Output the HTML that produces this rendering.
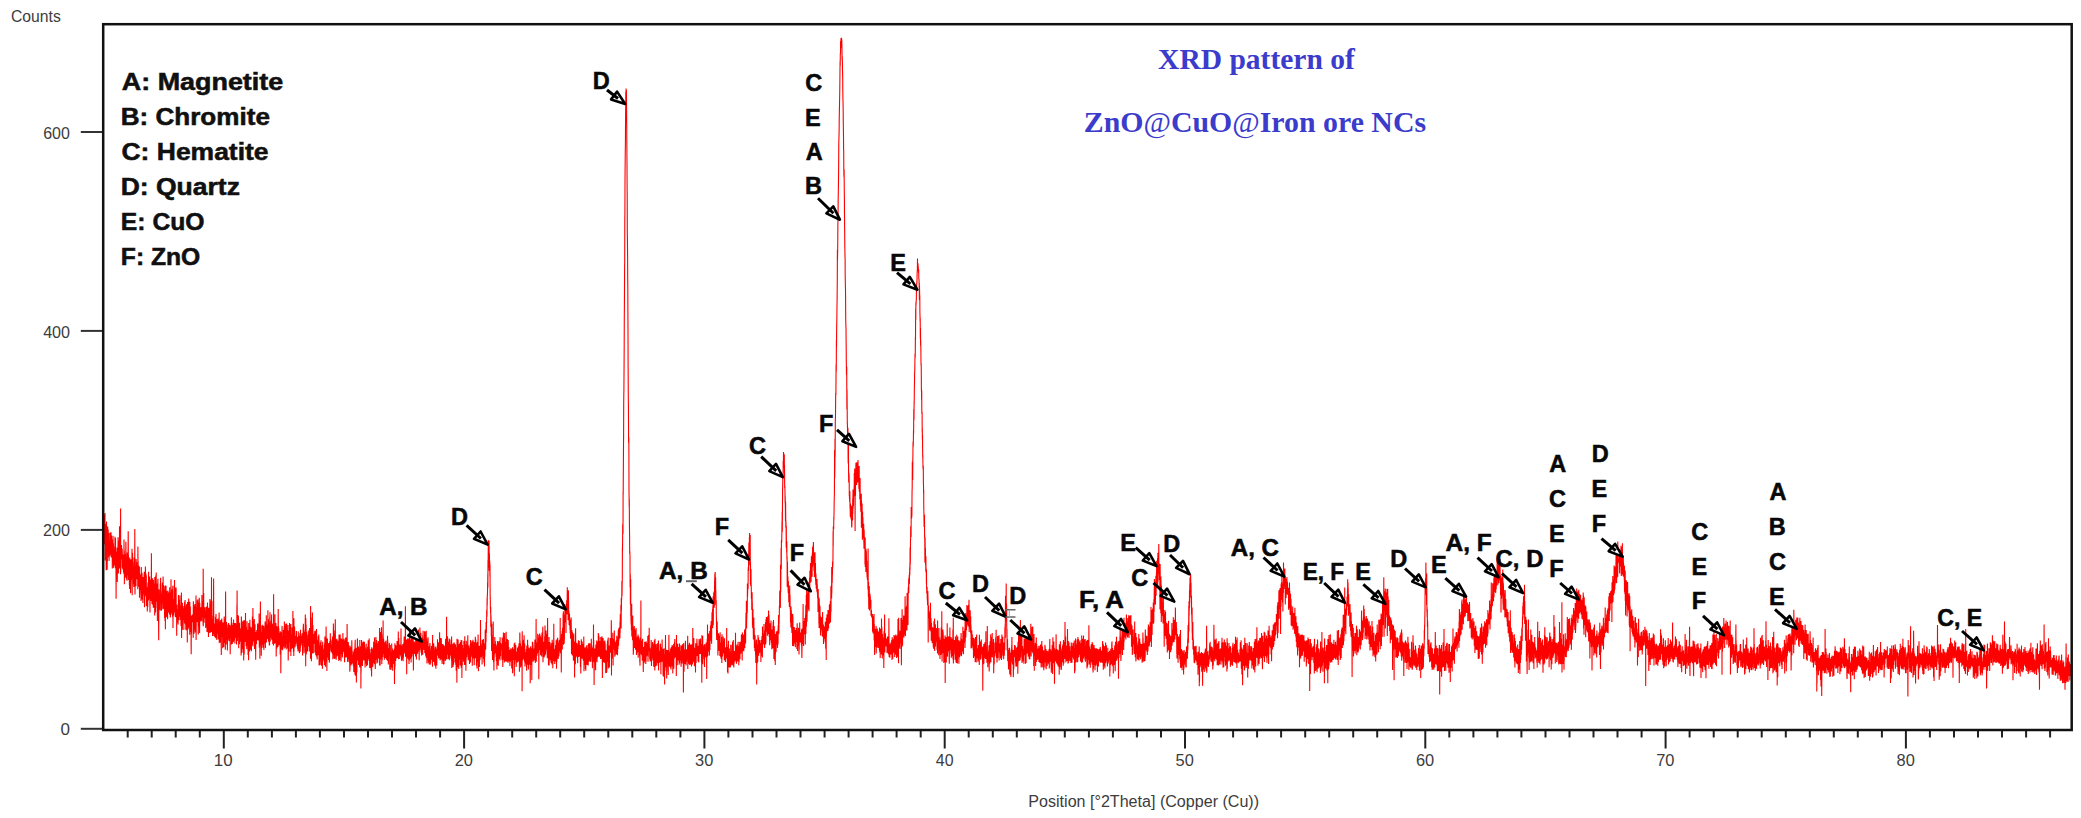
<!DOCTYPE html>
<html><head><meta charset="utf-8"><style>
html,body{margin:0;padding:0;background:#fff;width:2081px;height:818px;overflow:hidden}
svg{display:block}
</style></head><body>
<svg width="2081" height="818" viewBox="0 0 2081 818">
<rect width="2081" height="818" fill="#fff"/>
<line x1="127.7" y1="730" x2="127.7" y2="737.5" stroke="#222" stroke-width="2"/><line x1="151.7" y1="730" x2="151.7" y2="737.5" stroke="#222" stroke-width="2"/><line x1="175.7" y1="730" x2="175.7" y2="737.5" stroke="#222" stroke-width="2"/><line x1="199.8" y1="730" x2="199.8" y2="737.5" stroke="#222" stroke-width="2"/><line x1="223.8" y1="730" x2="223.8" y2="748.5" stroke="#222" stroke-width="2"/><line x1="247.8" y1="730" x2="247.8" y2="737.5" stroke="#222" stroke-width="2"/><line x1="271.9" y1="730" x2="271.9" y2="737.5" stroke="#222" stroke-width="2"/><line x1="295.9" y1="730" x2="295.9" y2="737.5" stroke="#222" stroke-width="2"/><line x1="319.9" y1="730" x2="319.9" y2="737.5" stroke="#222" stroke-width="2"/><line x1="344.0" y1="730" x2="344.0" y2="737.5" stroke="#222" stroke-width="2"/><line x1="368.0" y1="730" x2="368.0" y2="737.5" stroke="#222" stroke-width="2"/><line x1="392.0" y1="730" x2="392.0" y2="737.5" stroke="#222" stroke-width="2"/><line x1="416.0" y1="730" x2="416.0" y2="737.5" stroke="#222" stroke-width="2"/><line x1="440.1" y1="730" x2="440.1" y2="737.5" stroke="#222" stroke-width="2"/><line x1="464.1" y1="730" x2="464.1" y2="748.5" stroke="#222" stroke-width="2"/><line x1="488.1" y1="730" x2="488.1" y2="737.5" stroke="#222" stroke-width="2"/><line x1="512.2" y1="730" x2="512.2" y2="737.5" stroke="#222" stroke-width="2"/><line x1="536.2" y1="730" x2="536.2" y2="737.5" stroke="#222" stroke-width="2"/><line x1="560.2" y1="730" x2="560.2" y2="737.5" stroke="#222" stroke-width="2"/><line x1="584.2" y1="730" x2="584.2" y2="737.5" stroke="#222" stroke-width="2"/><line x1="608.3" y1="730" x2="608.3" y2="737.5" stroke="#222" stroke-width="2"/><line x1="632.3" y1="730" x2="632.3" y2="737.5" stroke="#222" stroke-width="2"/><line x1="656.3" y1="730" x2="656.3" y2="737.5" stroke="#222" stroke-width="2"/><line x1="680.4" y1="730" x2="680.4" y2="737.5" stroke="#222" stroke-width="2"/><line x1="704.4" y1="730" x2="704.4" y2="748.5" stroke="#222" stroke-width="2"/><line x1="728.4" y1="730" x2="728.4" y2="737.5" stroke="#222" stroke-width="2"/><line x1="752.5" y1="730" x2="752.5" y2="737.5" stroke="#222" stroke-width="2"/><line x1="776.5" y1="730" x2="776.5" y2="737.5" stroke="#222" stroke-width="2"/><line x1="800.5" y1="730" x2="800.5" y2="737.5" stroke="#222" stroke-width="2"/><line x1="824.6" y1="730" x2="824.6" y2="737.5" stroke="#222" stroke-width="2"/><line x1="848.6" y1="730" x2="848.6" y2="737.5" stroke="#222" stroke-width="2"/><line x1="872.6" y1="730" x2="872.6" y2="737.5" stroke="#222" stroke-width="2"/><line x1="896.6" y1="730" x2="896.6" y2="737.5" stroke="#222" stroke-width="2"/><line x1="920.7" y1="730" x2="920.7" y2="737.5" stroke="#222" stroke-width="2"/><line x1="944.7" y1="730" x2="944.7" y2="748.5" stroke="#222" stroke-width="2"/><line x1="968.7" y1="730" x2="968.7" y2="737.5" stroke="#222" stroke-width="2"/><line x1="992.8" y1="730" x2="992.8" y2="737.5" stroke="#222" stroke-width="2"/><line x1="1016.8" y1="730" x2="1016.8" y2="737.5" stroke="#222" stroke-width="2"/><line x1="1040.8" y1="730" x2="1040.8" y2="737.5" stroke="#222" stroke-width="2"/><line x1="1064.8" y1="730" x2="1064.8" y2="737.5" stroke="#222" stroke-width="2"/><line x1="1088.9" y1="730" x2="1088.9" y2="737.5" stroke="#222" stroke-width="2"/><line x1="1112.9" y1="730" x2="1112.9" y2="737.5" stroke="#222" stroke-width="2"/><line x1="1136.9" y1="730" x2="1136.9" y2="737.5" stroke="#222" stroke-width="2"/><line x1="1161.0" y1="730" x2="1161.0" y2="737.5" stroke="#222" stroke-width="2"/><line x1="1185.0" y1="730" x2="1185.0" y2="748.5" stroke="#222" stroke-width="2"/><line x1="1209.0" y1="730" x2="1209.0" y2="737.5" stroke="#222" stroke-width="2"/><line x1="1233.1" y1="730" x2="1233.1" y2="737.5" stroke="#222" stroke-width="2"/><line x1="1257.1" y1="730" x2="1257.1" y2="737.5" stroke="#222" stroke-width="2"/><line x1="1281.1" y1="730" x2="1281.1" y2="737.5" stroke="#222" stroke-width="2"/><line x1="1305.2" y1="730" x2="1305.2" y2="737.5" stroke="#222" stroke-width="2"/><line x1="1329.2" y1="730" x2="1329.2" y2="737.5" stroke="#222" stroke-width="2"/><line x1="1353.2" y1="730" x2="1353.2" y2="737.5" stroke="#222" stroke-width="2"/><line x1="1377.2" y1="730" x2="1377.2" y2="737.5" stroke="#222" stroke-width="2"/><line x1="1401.3" y1="730" x2="1401.3" y2="737.5" stroke="#222" stroke-width="2"/><line x1="1425.3" y1="730" x2="1425.3" y2="748.5" stroke="#222" stroke-width="2"/><line x1="1449.3" y1="730" x2="1449.3" y2="737.5" stroke="#222" stroke-width="2"/><line x1="1473.4" y1="730" x2="1473.4" y2="737.5" stroke="#222" stroke-width="2"/><line x1="1497.4" y1="730" x2="1497.4" y2="737.5" stroke="#222" stroke-width="2"/><line x1="1521.4" y1="730" x2="1521.4" y2="737.5" stroke="#222" stroke-width="2"/><line x1="1545.5" y1="730" x2="1545.5" y2="737.5" stroke="#222" stroke-width="2"/><line x1="1569.5" y1="730" x2="1569.5" y2="737.5" stroke="#222" stroke-width="2"/><line x1="1593.5" y1="730" x2="1593.5" y2="737.5" stroke="#222" stroke-width="2"/><line x1="1617.5" y1="730" x2="1617.5" y2="737.5" stroke="#222" stroke-width="2"/><line x1="1641.6" y1="730" x2="1641.6" y2="737.5" stroke="#222" stroke-width="2"/><line x1="1665.6" y1="730" x2="1665.6" y2="748.5" stroke="#222" stroke-width="2"/><line x1="1689.6" y1="730" x2="1689.6" y2="737.5" stroke="#222" stroke-width="2"/><line x1="1713.7" y1="730" x2="1713.7" y2="737.5" stroke="#222" stroke-width="2"/><line x1="1737.7" y1="730" x2="1737.7" y2="737.5" stroke="#222" stroke-width="2"/><line x1="1761.7" y1="730" x2="1761.7" y2="737.5" stroke="#222" stroke-width="2"/><line x1="1785.8" y1="730" x2="1785.8" y2="737.5" stroke="#222" stroke-width="2"/><line x1="1809.8" y1="730" x2="1809.8" y2="737.5" stroke="#222" stroke-width="2"/><line x1="1833.8" y1="730" x2="1833.8" y2="737.5" stroke="#222" stroke-width="2"/><line x1="1857.8" y1="730" x2="1857.8" y2="737.5" stroke="#222" stroke-width="2"/><line x1="1881.9" y1="730" x2="1881.9" y2="737.5" stroke="#222" stroke-width="2"/><line x1="1905.9" y1="730" x2="1905.9" y2="748.5" stroke="#222" stroke-width="2"/><line x1="1929.9" y1="730" x2="1929.9" y2="737.5" stroke="#222" stroke-width="2"/><line x1="1954.0" y1="730" x2="1954.0" y2="737.5" stroke="#222" stroke-width="2"/><line x1="1978.0" y1="730" x2="1978.0" y2="737.5" stroke="#222" stroke-width="2"/><line x1="2002.0" y1="730" x2="2002.0" y2="737.5" stroke="#222" stroke-width="2"/><line x1="2026.1" y1="730" x2="2026.1" y2="737.5" stroke="#222" stroke-width="2"/><line x1="2050.1" y1="730" x2="2050.1" y2="737.5" stroke="#222" stroke-width="2"/><line x1="80.8" y1="728.8" x2="103" y2="728.8" stroke="#333" stroke-width="2"/><line x1="80.8" y1="529.9" x2="103" y2="529.9" stroke="#333" stroke-width="2"/><line x1="80.8" y1="330.9" x2="103" y2="330.9" stroke="#333" stroke-width="2"/><line x1="80.8" y1="132.0" x2="103" y2="132.0" stroke="#333" stroke-width="2"/>
<polyline points="104.0,514.5 104.1,544.3 104.2,521.7 104.3,525.2 104.4,530.8 104.5,524.5 104.7,518.3 104.8,540.9 104.9,537.7 105.0,513.1 105.1,560.4 105.2,544.7 105.3,525.9 105.4,544.9 105.5,530.9 105.6,536.5 105.7,546.4 105.9,524.0 106.0,551.5 106.1,553.4 106.2,570.2 106.3,535.6 106.4,548.6 106.5,521.4 106.6,538.1 106.7,544.8 106.8,526.9 107.0,540.9 107.1,560.7 107.2,569.8 107.3,549.6 107.4,561.0 107.5,530.7 107.6,528.3 107.7,526.4 107.8,548.1 107.9,551.3 108.0,536.3 108.2,529.6 108.3,545.6 108.4,547.2 108.5,542.6 108.6,557.4 108.7,542.6 108.8,543.6 108.9,533.1 109.0,546.5 109.1,560.9 109.2,547.9 109.4,548.2 109.5,552.8 109.6,551.1 109.7,554.2 109.8,554.0 109.9,555.7 110.0,541.2 110.1,553.1 110.2,532.5 110.3,552.5 110.4,536.2 110.6,548.4 110.7,554.6 110.8,544.6 110.9,550.9 111.0,532.2 111.1,540.1 111.2,557.3 111.3,537.3 111.4,557.4 111.5,535.5 111.6,541.1 111.8,539.4 111.9,551.3 112.0,556.6 112.1,539.6 112.2,549.2 112.3,568.4 112.4,548.6 112.5,543.7 112.6,556.3 112.7,547.9 112.9,546.9 113.0,535.7 113.1,563.4 113.2,549.2 113.3,555.3 113.4,543.3 113.5,567.8 113.6,562.4 113.7,565.6 113.8,553.6 113.9,560.4 114.1,564.7 114.2,565.5 114.3,558.9 114.4,555.0 114.5,551.7 114.6,548.0 114.7,546.5 114.8,560.6 114.9,554.3 115.0,536.8 115.1,556.0 115.3,568.3 115.4,554.3 115.5,537.9 115.6,554.7 115.7,564.0 115.8,560.4 115.9,551.8 116.0,575.4 116.1,598.8 116.2,555.4 116.3,565.4 116.5,561.5 116.6,565.3 116.7,571.8 116.8,564.3 116.9,557.3 117.0,549.4 117.1,547.6 117.2,555.9 117.3,582.1 117.4,559.6 117.6,557.0 117.7,559.0 117.8,558.1 117.9,564.0 118.0,546.3 118.1,537.3 118.2,552.9 118.3,544.5 118.4,573.6 118.5,555.2 118.6,554.4 118.8,540.7 118.9,559.2 119.0,542.3 119.1,568.7 119.2,565.2 119.3,548.4 119.4,558.5 119.5,526.3 119.6,547.3 119.7,568.1 119.8,564.9 120.0,559.0 120.1,557.6 120.2,543.3 120.3,543.2 120.4,558.7 120.5,574.2 120.6,508.5 120.7,572.5 120.8,564.5 120.9,567.5 121.0,548.5 121.2,552.4 121.3,558.7 121.4,547.1 121.5,545.0 121.6,548.1 121.7,555.2 121.8,559.5 121.9,555.0 122.0,556.8 122.1,549.2 122.2,548.7 122.4,567.8 122.5,554.1 122.6,554.6 122.7,564.5 122.8,568.8 122.9,568.9 123.0,559.7 123.1,555.1 123.2,560.5 123.3,560.2 123.5,572.2 123.6,562.3 123.7,566.4 123.8,559.5 123.9,574.0 124.0,539.5 124.1,565.1 124.2,569.5 124.3,550.5 124.4,584.2 124.5,561.8 124.7,562.7 124.8,554.0 124.9,573.3 125.0,569.2 125.1,558.8 125.2,568.2 125.3,572.8 125.4,577.5 125.5,567.4 125.6,555.0 125.7,559.3 125.9,541.8 126.0,558.0 126.1,572.0 126.2,569.8 126.3,563.6 126.4,556.5 126.5,579.6 126.6,566.5 126.7,572.5 126.8,567.8 126.9,557.4 127.1,580.7 127.2,552.5 127.3,553.4 127.4,562.0 127.5,558.9 127.6,559.8 127.7,558.7 127.8,575.3 127.9,566.6 128.0,568.1 128.2,531.3 128.3,547.7 128.4,577.6 128.5,555.1 128.6,580.0 128.7,558.5 128.8,572.0 128.9,560.3 129.0,570.2 129.1,559.3 129.2,566.2 129.4,585.1 129.5,564.2 129.6,589.0 129.7,564.5 129.8,557.5 129.9,570.1 130.0,564.1 130.1,586.3 130.2,577.3 130.3,580.5 130.4,575.0 130.6,593.2 130.7,585.3 130.8,579.8 130.9,560.6 131.0,559.4 131.1,570.4 131.2,578.3 131.3,580.0 131.4,560.8 131.5,575.3 131.6,571.3 131.8,559.2 131.9,575.3 132.0,548.8 132.1,573.6 132.2,595.3 132.3,560.7 132.4,571.2 132.5,552.7 132.6,563.5 132.7,578.3 132.8,561.9 133.0,571.9 133.1,568.2 133.2,568.6 133.3,574.4 133.4,577.3 133.5,584.2 133.6,580.7 133.7,567.5 133.8,587.0 133.9,585.5 134.1,557.5 134.2,579.6 134.3,581.6 134.4,582.9 134.5,578.6 134.6,559.3 134.7,566.9 134.8,529.1 134.9,572.0 135.0,594.5 135.1,581.6 135.3,584.0 135.4,570.9 135.5,566.3 135.6,566.2 135.7,577.4 135.8,567.8 135.9,569.2 136.0,586.3 136.1,559.0 136.2,561.7 136.3,570.5 136.5,574.8 136.6,574.0 136.7,562.3 136.8,577.1 136.9,574.0 137.0,578.9 137.1,565.1 137.2,578.2 137.3,579.4 137.4,569.2 137.5,573.4 137.7,570.5 137.8,589.2 137.9,546.6 138.0,563.3 138.1,560.9 138.2,574.3 138.3,572.1 138.4,575.6 138.5,586.7 138.6,565.5 138.8,572.2 138.9,578.7 139.0,569.8 139.1,584.4 139.2,584.8 139.3,576.0 139.4,566.5 139.5,597.8 139.6,586.6 139.7,585.8 139.8,582.1 140.0,581.5 140.1,589.9 140.2,581.3 140.3,575.9 140.4,589.3 140.5,582.5 140.6,575.5 140.7,574.2 140.8,594.3 140.9,588.7 141.0,601.1 141.2,577.0 141.3,567.1 141.4,585.2 141.5,594.2 141.6,587.2 141.7,586.1 141.8,599.6 141.9,576.4 142.0,572.7 142.1,577.4 142.2,582.2 142.4,588.6 142.5,594.6 142.6,590.7 142.7,600.2 142.8,577.7 142.9,602.9 143.0,577.1 143.1,596.1 143.2,577.1 143.3,588.8 143.4,586.6 143.6,592.0 143.7,594.1 143.8,584.7 143.9,585.9 144.0,588.1 144.1,574.5 144.2,579.8 144.3,571.7 144.4,586.8 144.5,607.3 144.7,593.6 144.8,579.6 144.9,581.3 145.0,596.4 145.1,582.4 145.2,572.6 145.3,578.8 145.4,566.5 145.5,578.6 145.6,595.6 145.7,588.5 145.9,573.4 146.0,582.9 146.1,577.5 146.2,577.4 146.3,575.5 146.4,606.0 146.5,587.1 146.6,596.5 146.7,598.6 146.8,587.2 146.9,595.7 147.1,597.0 147.2,594.1 147.3,611.6 147.4,594.7 147.5,590.1 147.6,597.5 147.7,607.2 147.8,599.9 147.9,586.2 148.0,583.3 148.1,582.4 148.3,585.2 148.4,595.6 148.5,600.6 148.6,571.7 148.7,591.9 148.8,581.9 148.9,597.3 149.0,599.2 149.1,583.8 149.2,586.5 149.4,581.5 149.5,593.7 149.6,576.5 149.7,580.6 149.8,584.3 149.9,602.3 150.0,612.6 150.1,591.5 150.2,579.5 150.3,591.0 150.4,582.7 150.6,594.1 150.7,579.8 150.8,586.7 150.9,590.1 151.0,594.2 151.1,588.3 151.2,601.0 151.3,591.1 151.4,553.3 151.5,598.1 151.6,587.5 151.8,584.2 151.9,603.7 152.0,579.8 152.1,590.3 152.2,583.2 152.3,603.2 152.4,588.1 152.5,593.1 152.6,578.2 152.7,604.8 152.8,582.1 153.0,599.0 153.1,601.2 153.2,602.5 153.3,607.8 153.4,580.0 153.5,594.6 153.6,592.4 153.7,595.2 153.8,601.0 153.9,593.5 154.0,586.1 154.2,591.3 154.3,607.8 154.4,583.6 154.5,594.8 154.6,584.9 154.7,615.5 154.8,576.9 154.9,587.8 155.0,590.1 155.1,592.1 155.3,612.7 155.4,605.4 155.5,582.7 155.6,612.0 155.7,581.4 155.8,575.4 155.9,578.8 156.0,593.9 156.1,597.0 156.2,572.4 156.3,597.4 156.5,591.6 156.6,600.7 156.7,590.4 156.8,602.0 156.9,598.7 157.0,583.6 157.1,608.0 157.2,598.0 157.3,602.1 157.4,620.9 157.5,587.6 157.7,595.8 157.8,589.6 157.9,578.8 158.0,599.6 158.1,601.2 158.2,609.9 158.3,610.4 158.4,598.4 158.5,590.8 158.6,627.5 158.7,640.3 158.9,596.8 159.0,589.6 159.1,589.8 159.2,600.4 159.3,609.4 159.4,608.5 159.5,603.7 159.6,597.5 159.7,601.5 159.8,597.5 160.0,600.3 160.1,599.0 160.2,610.6 160.3,583.8 160.4,597.0 160.5,597.7 160.6,577.7 160.7,599.1 160.8,590.8 160.9,593.4 161.0,596.1 161.2,597.0 161.3,595.4 161.4,610.8 161.5,603.5 161.6,605.0 161.7,603.8 161.8,595.9 161.9,593.7 162.0,609.5 162.1,594.2 162.2,585.6 162.4,582.5 162.5,603.2 162.6,594.9 162.7,599.9 162.8,596.0 162.9,596.3 163.0,598.0 163.1,576.4 163.2,599.8 163.3,608.7 163.4,606.1 163.6,585.0 163.7,589.3 163.8,589.8 163.9,600.1 164.0,609.3 164.1,605.1 164.2,586.3 164.3,601.1 164.4,607.6 164.5,596.7 164.6,617.9 164.8,595.3 164.9,611.0 165.0,621.1 165.1,589.8 165.2,598.2 165.3,605.9 165.4,629.3 165.5,585.4 165.6,606.6 165.7,604.3 165.9,597.9 166.0,585.8 166.1,597.2 166.2,599.9 166.3,591.4 166.4,617.2 166.5,593.5 166.6,599.5 166.7,590.9 166.8,599.2 166.9,603.6 167.1,595.4 167.2,599.7 167.3,616.3 167.4,610.5 167.5,599.9 167.6,619.2 167.7,594.6 167.8,605.4 167.9,590.4 168.0,592.6 168.1,594.3 168.3,612.6 168.4,603.8 168.5,606.6 168.6,604.7 168.7,604.1 168.8,604.7 168.9,607.4 169.0,601.5 169.1,592.5 169.2,594.2 169.3,612.0 169.5,614.2 169.6,611.9 169.7,587.3 169.8,614.7 169.9,604.6 170.0,601.2 170.1,602.2 170.2,598.8 170.3,617.5 170.4,616.6 170.6,592.7 170.7,599.2 170.8,606.0 170.9,612.2 171.0,579.3 171.1,608.5 171.2,614.6 171.3,598.0 171.4,600.9 171.5,612.5 171.6,605.3 171.8,590.4 171.9,591.6 172.0,592.1 172.1,589.4 172.2,601.1 172.3,597.4 172.4,602.1 172.5,608.0 172.6,617.0 172.7,603.7 172.8,585.8 173.0,628.1 173.1,601.1 173.2,612.5 173.3,599.1 173.4,606.4 173.5,603.1 173.6,604.3 173.7,615.5 173.8,599.1 173.9,605.7 174.0,606.0 174.2,600.5 174.3,585.4 174.4,607.8 174.5,580.1 174.6,591.7 174.7,600.4 174.8,608.6 174.9,612.3 175.0,612.7 175.1,610.7 175.2,603.3 175.4,617.0 175.5,605.1 175.6,616.6 175.7,587.5 175.8,599.2 175.9,602.3 176.0,607.3 176.1,587.5 176.2,616.2 176.3,617.4 176.5,615.2 176.6,605.1 176.7,635.8 176.8,604.7 176.9,617.8 177.0,609.1 177.1,610.7 177.2,609.2 177.3,610.2 177.4,619.8 177.5,622.1 177.7,622.0 177.8,616.9 177.9,615.6 178.0,613.5 178.1,624.6 178.2,605.7 178.3,603.1 178.4,609.2 178.5,594.9 178.6,607.2 178.7,607.5 178.9,599.9 179.0,602.9 179.1,620.2 179.2,605.3 179.3,608.5 179.4,616.8 179.5,603.5 179.6,600.0 179.7,609.8 179.8,613.5 179.9,595.6 180.1,616.5 180.2,608.7 180.3,608.3 180.4,605.4 180.5,610.3 180.6,620.1 180.7,617.3 180.8,619.4 180.9,609.6 181.0,626.0 181.2,623.7 181.3,613.4 181.4,592.4 181.5,614.6 181.6,638.0 181.7,613.8 181.8,606.3 181.9,629.6 182.0,610.3 182.1,620.2 182.2,622.3 182.4,602.7 182.5,614.7 182.6,624.1 182.7,610.4 182.8,619.3 182.9,613.7 183.0,622.4 183.1,630.0 183.2,605.9 183.3,612.1 183.4,617.5 183.6,609.5 183.7,608.2 183.8,611.7 183.9,612.4 184.0,608.2 184.1,616.1 184.2,619.7 184.3,619.7 184.4,619.1 184.5,623.5 184.6,601.7 184.8,613.6 184.9,615.8 185.0,618.3 185.1,600.1 185.2,629.8 185.3,606.2 185.4,616.4 185.5,621.4 185.6,624.4 185.7,609.5 185.8,610.9 186.0,618.5 186.1,620.7 186.2,622.9 186.3,614.7 186.4,609.4 186.5,604.3 186.6,630.2 186.7,605.1 186.8,622.2 186.9,618.4 187.1,623.7 187.2,625.1 187.3,642.5 187.4,616.1 187.5,621.0 187.6,601.9 187.7,619.1 187.8,602.2 187.9,617.8 188.0,629.4 188.1,620.5 188.3,628.6 188.4,616.2 188.5,623.1 188.6,615.9 188.7,598.4 188.8,613.0 188.9,614.1 189.0,620.6 189.1,618.8 189.2,618.4 189.3,627.2 189.5,624.1 189.6,615.6 189.7,634.7 189.8,601.7 189.9,615.7 190.0,616.8 190.1,628.9 190.2,613.6 190.3,606.4 190.4,619.4 190.5,632.0 190.7,616.7 190.8,616.2 190.9,616.8 191.0,619.3 191.1,642.4 191.2,654.2 191.3,622.3 191.4,617.9 191.5,634.0 191.6,619.7 191.8,619.1 191.9,615.2 192.0,616.0 192.1,619.6 192.2,614.7 192.3,620.7 192.4,619.1 192.5,622.3 192.6,614.5 192.7,615.9 192.8,619.0 193.0,616.6 193.1,618.3 193.2,637.7 193.3,607.8 193.4,601.2 193.5,623.0 193.6,615.2 193.7,628.0 193.8,615.3 193.9,605.6 194.0,633.7 194.2,619.6 194.3,612.5 194.4,610.0 194.5,620.3 194.6,609.0 194.7,618.0 194.8,624.0 194.9,603.9 195.0,613.0 195.1,619.2 195.2,629.8 195.4,632.4 195.5,611.2 195.6,626.2 195.7,611.0 195.8,612.5 195.9,617.5 196.0,595.5 196.1,640.0 196.2,625.8 196.3,618.1 196.4,612.2 196.6,607.1 196.7,619.2 196.8,622.1 196.9,613.1 197.0,614.1 197.1,620.4 197.2,615.8 197.3,600.3 197.4,620.6 197.5,618.1 197.7,622.1 197.8,610.0 197.9,599.3 198.0,606.6 198.1,618.1 198.2,632.4 198.3,634.6 198.4,617.2 198.5,602.4 198.6,611.2 198.7,618.1 198.9,618.7 199.0,616.3 199.1,626.6 199.2,608.6 199.3,597.8 199.4,608.3 199.5,605.9 199.6,632.9 199.7,613.6 199.8,603.1 199.9,619.5 200.1,621.9 200.2,614.3 200.3,614.7 200.4,620.9 200.5,616.6 200.6,607.2 200.7,617.2 200.8,620.1 200.9,615.3 201.0,619.5 201.1,617.5 201.3,610.1 201.4,609.8 201.5,616.0 201.6,606.9 201.7,620.8 201.8,621.3 201.9,594.9 202.0,611.0 202.1,605.8 202.2,601.2 202.4,615.2 202.5,611.7 202.6,617.1 202.7,615.7 202.8,616.0 202.9,607.4 203.0,611.0 203.1,625.2 203.2,568.8 203.3,626.2 203.4,608.4 203.6,622.8 203.7,593.0 203.8,610.7 203.9,621.1 204.0,615.5 204.1,622.7 204.2,607.3 204.3,610.3 204.4,609.0 204.5,618.4 204.6,618.1 204.8,613.6 204.9,610.0 205.0,612.5 205.1,615.5 205.2,607.3 205.3,615.1 205.4,614.4 205.5,611.9 205.6,611.7 205.7,628.1 205.8,611.1 206.0,619.2 206.1,626.9 206.2,621.7 206.3,616.5 206.4,625.1 206.5,606.4 206.6,607.4 206.7,613.6 206.8,615.0 206.9,616.1 207.0,632.1 207.2,631.1 207.3,617.3 207.4,620.3 207.5,602.4 207.6,621.1 207.7,608.0 207.8,630.2 207.9,615.3 208.0,624.6 208.1,611.0 208.3,632.6 208.4,626.4 208.5,636.9 208.6,621.2 208.7,607.8 208.8,614.0 208.9,610.5 209.0,632.8 209.1,616.5 209.2,615.6 209.3,626.8 209.5,624.2 209.6,626.3 209.7,618.4 209.8,606.5 209.9,599.0 210.0,605.1 210.1,632.9 210.2,629.7 210.3,619.2 210.4,626.3 210.5,626.5 210.7,626.8 210.8,626.1 210.9,628.7 211.0,622.5 211.1,604.7 211.2,600.3 211.3,632.1 211.4,626.7 211.5,577.3 211.6,622.4 211.7,614.6 211.9,617.4 212.0,601.0 212.1,628.0 212.2,622.0 212.3,629.1 212.4,631.6 212.5,633.0 212.6,636.0 212.7,625.7 212.8,625.7 213.0,619.1 213.1,628.5 213.2,623.2 213.3,615.7 213.4,634.1 213.5,630.2 213.6,578.5 213.7,610.8 213.8,624.6 213.9,615.9 214.0,636.0 214.2,627.3 214.3,630.0 214.4,633.2 214.5,636.4 214.6,623.8 214.7,630.3 214.8,626.4 214.9,631.4 215.0,629.8 215.1,637.3 215.2,630.2 215.4,622.6 215.5,628.7 215.6,617.0 215.7,628.8 215.8,638.3 215.9,622.2 216.0,614.0 216.1,627.2 216.2,623.5 216.3,627.7 216.4,622.2 216.6,627.8 216.7,619.3 216.8,640.1 216.9,626.0 217.0,632.5 217.1,634.4 217.2,627.8 217.3,632.6 217.4,626.9 217.5,625.3 217.6,627.6 217.8,633.2 217.9,618.5 218.0,621.8 218.1,623.0 218.2,625.2 218.3,639.1 218.4,630.0 218.5,628.0 218.6,631.6 218.7,639.6 218.9,625.5 219.0,639.1 219.1,612.5 219.2,623.9 219.3,642.2 219.4,642.1 219.5,631.0 219.6,621.5 219.7,635.5 219.8,625.7 219.9,641.3 220.1,638.2 220.2,642.8 220.3,622.6 220.4,636.5 220.5,626.4 220.6,626.1 220.7,620.1 220.8,626.4 220.9,631.5 221.0,634.5 221.1,635.4 221.3,655.1 221.4,625.4 221.5,637.4 221.6,622.7 221.7,625.7 221.8,618.4 221.9,636.7 222.0,629.4 222.1,628.8 222.2,626.8 222.3,635.8 222.5,624.6 222.6,632.0 222.7,648.2 222.8,627.7 222.9,624.1 223.0,622.4 223.1,637.3 223.2,631.1 223.3,624.8 223.4,624.5 223.6,630.9 223.7,622.9 223.8,647.0 223.9,629.2 224.0,629.6 224.1,630.3 224.2,616.4 224.3,619.1 224.4,628.2 224.5,631.1 224.6,621.4 224.8,643.1 224.9,633.5 225.0,640.4 225.1,640.3 225.2,629.1 225.3,649.7 225.4,631.5 225.5,615.7 225.6,591.6 225.7,630.1 225.8,637.7 226.0,632.4 226.1,644.5 226.2,628.1 226.3,634.9 226.4,635.9 226.5,621.9 226.6,632.0 226.7,632.3 226.8,638.8 226.9,639.7 227.0,638.5 227.2,624.6 227.3,636.2 227.4,650.4 227.5,631.2 227.6,636.6 227.7,636.2 227.8,639.4 227.9,631.3 228.0,633.7 228.1,632.0 228.2,631.5 228.4,627.2 228.5,629.1 228.6,622.9 228.7,628.7 228.8,634.8 228.9,640.7 229.0,635.9 229.1,629.3 229.2,641.2 229.3,627.0 229.5,636.7 229.6,634.0 229.7,624.8 229.8,625.7 229.9,636.5 230.0,631.2 230.1,636.4 230.2,654.3 230.3,634.9 230.4,632.4 230.5,637.7 230.7,627.4 230.8,630.5 230.9,635.0 231.0,625.2 231.1,631.6 231.2,629.8 231.3,631.6 231.4,617.2 231.5,644.4 231.6,630.3 231.7,635.5 231.9,623.9 232.0,622.8 232.1,632.7 232.2,630.7 232.3,644.1 232.4,625.7 232.5,625.0 232.6,634.8 232.7,637.7 232.8,639.3 232.9,632.0 233.1,634.2 233.2,626.0 233.3,642.1 233.4,640.5 233.5,640.5 233.6,619.5 233.7,637.6 233.8,625.2 233.9,634.5 234.0,634.3 234.2,640.6 234.3,629.3 234.4,627.0 234.5,625.1 234.6,623.1 234.7,636.7 234.8,625.8 234.9,643.4 235.0,625.5 235.1,626.4 235.2,637.8 235.4,636.6 235.5,622.9 235.6,628.2 235.7,629.0 235.8,634.9 235.9,624.3 236.0,626.6 236.1,629.9 236.2,636.3 236.3,637.7 236.4,627.2 236.6,644.5 236.7,634.3 236.8,625.3 236.9,605.5 237.0,626.4 237.1,590.5 237.2,631.5 237.3,635.2 237.4,641.1 237.5,634.9 237.6,618.0 237.8,629.4 237.9,637.0 238.0,614.9 238.1,626.0 238.2,635.9 238.3,631.6 238.4,615.9 238.5,626.6 238.6,631.7 238.7,648.2 238.8,628.6 239.0,625.2 239.1,634.5 239.2,635.8 239.3,643.5 239.4,644.2 239.5,632.7 239.6,622.8 239.7,633.6 239.8,633.7 239.9,641.1 240.1,640.4 240.2,628.2 240.3,639.7 240.4,641.8 240.5,632.2 240.6,641.4 240.7,635.8 240.8,635.9 240.9,633.5 241.0,639.9 241.1,655.5 241.3,638.3 241.4,616.4 241.5,633.4 241.6,630.6 241.7,637.2 241.8,632.9 241.9,652.9 242.0,639.0 242.1,646.6 242.2,627.3 242.3,629.5 242.5,649.1 242.6,621.6 242.7,635.0 242.8,622.7 242.9,646.4 243.0,623.6 243.1,631.4 243.2,631.4 243.3,620.4 243.4,651.7 243.5,631.2 243.7,660.4 243.8,627.0 243.9,621.1 244.0,633.9 244.1,634.1 244.2,654.6 244.3,624.7 244.4,620.3 244.5,626.8 244.6,635.7 244.8,637.3 244.9,627.7 245.0,631.0 245.1,638.1 245.2,642.0 245.3,629.3 245.4,634.2 245.5,613.0 245.6,626.9 245.7,637.5 245.8,634.6 246.0,633.5 246.1,646.2 246.2,632.7 246.3,627.1 246.4,638.0 246.5,637.7 246.6,627.6 246.7,643.7 246.8,649.3 246.9,632.0 247.0,621.2 247.2,634.9 247.3,645.2 247.4,630.9 247.5,629.7 247.6,630.5 247.7,638.5 247.8,638.8 247.9,636.1 248.0,646.1 248.1,654.9 248.2,633.6 248.4,645.7 248.5,639.3 248.6,660.3 248.7,622.9 248.8,634.0 248.9,637.5 249.0,626.7 249.1,634.3 249.2,642.7 249.3,627.1 249.4,638.7 249.6,651.6 249.7,634.5 249.8,632.4 249.9,619.8 250.0,638.1 250.1,626.4 250.2,647.6 250.3,649.8 250.4,641.6 250.5,631.3 250.7,641.3 250.8,632.5 250.9,627.3 251.0,627.5 251.1,637.3 251.2,632.2 251.3,638.2 251.4,651.2 251.5,645.0 251.6,640.0 251.7,629.0 251.9,644.3 252.0,636.7 252.1,641.6 252.2,628.2 252.3,636.0 252.4,616.5 252.5,630.9 252.6,627.1 252.7,625.7 252.8,646.3 252.9,608.0 253.1,631.9 253.2,632.0 253.3,636.7 253.4,640.2 253.5,620.4 253.6,629.3 253.7,629.1 253.8,639.8 253.9,641.4 254.0,631.4 254.1,631.2 254.3,619.0 254.4,638.5 254.5,648.9 254.6,639.5 254.7,626.3 254.8,631.7 254.9,631.8 255.0,624.3 255.1,649.0 255.2,636.3 255.4,632.8 255.5,651.5 255.6,636.6 255.7,659.7 255.8,639.7 255.9,642.4 256.0,635.9 256.1,632.1 256.2,638.6 256.3,641.5 256.4,644.3 256.6,637.0 256.7,634.3 256.8,630.1 256.9,638.3 257.0,632.5 257.1,632.5 257.2,639.0 257.3,640.2 257.4,639.2 257.5,629.7 257.6,623.6 257.8,636.7 257.9,635.5 258.0,629.1 258.1,637.9 258.2,640.4 258.3,632.7 258.4,637.1 258.5,626.6 258.6,632.9 258.7,627.8 258.8,623.2 259.0,637.1 259.1,613.4 259.2,633.5 259.3,647.4 259.4,637.5 259.5,622.3 259.6,636.4 259.7,620.9 259.8,627.5 259.9,658.7 260.0,637.3 260.2,645.3 260.3,627.0 260.4,601.4 260.5,630.3 260.6,645.3 260.7,642.3 260.8,643.4 260.9,633.5 261.0,634.0 261.1,632.7 261.3,655.7 261.4,634.8 261.5,647.8 261.6,632.2 261.7,643.9 261.8,625.5 261.9,629.4 262.0,636.1 262.1,629.6 262.2,630.4 262.3,632.3 262.5,629.7 262.6,644.8 262.7,642.6 262.8,624.7 262.9,647.8 263.0,634.8 263.1,634.7 263.2,632.7 263.3,642.1 263.4,641.2 263.5,627.4 263.7,636.1 263.8,626.0 263.9,650.0 264.0,629.0 264.1,628.6 264.2,630.2 264.3,636.3 264.4,641.0 264.5,632.1 264.6,634.6 264.7,631.3 264.9,643.1 265.0,635.0 265.1,621.4 265.2,644.4 265.3,635.9 265.4,647.9 265.5,629.1 265.6,629.6 265.7,632.1 265.8,623.3 266.0,630.0 266.1,642.5 266.2,638.6 266.3,615.3 266.4,642.4 266.5,635.2 266.6,638.7 266.7,632.0 266.8,633.2 266.9,632.8 267.0,632.9 267.2,624.6 267.3,639.2 267.4,633.0 267.5,634.6 267.6,638.2 267.7,629.7 267.8,631.4 267.9,610.3 268.0,634.4 268.1,634.3 268.2,629.9 268.4,619.0 268.5,641.7 268.6,630.0 268.7,631.6 268.8,628.6 268.9,626.6 269.0,628.1 269.1,622.6 269.2,626.0 269.3,645.5 269.4,639.1 269.6,645.3 269.7,627.1 269.8,616.8 269.9,620.4 270.0,612.3 270.1,640.0 270.2,641.6 270.3,633.9 270.4,635.1 270.5,635.0 270.6,631.5 270.8,637.9 270.9,625.5 271.0,630.0 271.1,632.7 271.2,620.8 271.3,625.8 271.4,636.4 271.5,635.4 271.6,614.5 271.7,639.8 271.9,636.1 272.0,638.7 272.1,633.4 272.2,637.5 272.3,623.4 272.4,630.2 272.5,624.4 272.6,628.0 272.7,640.6 272.8,644.0 272.9,632.0 273.1,628.8 273.2,637.9 273.3,634.8 273.4,645.4 273.5,636.2 273.6,594.2 273.7,632.8 273.8,630.1 273.9,626.7 274.0,633.7 274.1,633.7 274.3,630.0 274.4,643.8 274.5,635.8 274.6,635.8 274.7,634.9 274.8,641.1 274.9,614.3 275.0,641.2 275.1,630.6 275.2,643.0 275.3,642.6 275.5,636.0 275.6,629.1 275.7,634.9 275.8,635.6 275.9,622.9 276.0,631.0 276.1,628.1 276.2,656.4 276.3,646.7 276.4,628.7 276.6,630.4 276.7,625.9 276.8,637.6 276.9,641.9 277.0,648.6 277.1,627.2 277.2,644.2 277.3,636.9 277.4,633.0 277.5,635.8 277.6,632.2 277.8,641.7 277.9,638.0 278.0,647.0 278.1,634.3 278.2,609.1 278.3,631.9 278.4,640.8 278.5,628.0 278.6,626.4 278.7,642.7 278.8,628.4 279.0,645.2 279.1,642.1 279.2,635.6 279.3,640.0 279.4,636.7 279.5,637.3 279.6,637.6 279.7,640.1 279.8,639.2 279.9,634.3 280.0,632.8 280.2,654.4 280.3,631.2 280.4,637.6 280.5,648.7 280.6,647.1 280.7,634.9 280.8,673.2 280.9,654.5 281.0,636.6 281.1,632.3 281.2,645.5 281.4,639.8 281.5,638.7 281.6,635.8 281.7,637.8 281.8,643.6 281.9,649.4 282.0,627.8 282.1,625.9 282.2,648.9 282.3,636.3 282.5,647.3 282.6,642.3 282.7,650.3 282.8,647.5 282.9,638.7 283.0,640.0 283.1,643.5 283.2,646.7 283.3,637.2 283.4,630.0 283.5,641.6 283.7,639.9 283.8,639.4 283.9,633.6 284.0,644.8 284.1,627.8 284.2,636.2 284.3,648.4 284.4,621.4 284.5,641.1 284.6,640.8 284.7,641.0 284.9,625.7 285.0,645.4 285.1,639.4 285.2,641.4 285.3,640.2 285.4,638.6 285.5,646.3 285.6,647.6 285.7,624.1 285.8,632.6 285.9,637.6 286.1,623.4 286.2,649.5 286.3,633.2 286.4,643.2 286.5,643.0 286.6,637.3 286.7,623.5 286.8,636.2 286.9,639.7 287.0,644.3 287.2,637.5 287.3,636.3 287.4,637.0 287.5,648.4 287.6,640.6 287.7,634.2 287.8,629.8 287.9,636.5 288.0,625.0 288.1,636.0 288.2,660.5 288.4,643.4 288.5,640.0 288.6,641.8 288.7,651.6 288.8,630.8 288.9,641.9 289.0,637.6 289.1,639.8 289.2,638.3 289.3,635.5 289.4,642.0 289.6,623.1 289.7,640.2 289.8,642.6 289.9,631.0 290.0,630.8 290.1,651.7 290.2,631.9 290.3,635.7 290.4,633.4 290.5,634.5 290.6,635.0 290.8,624.0 290.9,656.1 291.0,634.2 291.1,642.5 291.2,639.8 291.3,649.3 291.4,645.0 291.5,648.1 291.6,648.5 291.7,645.7 291.8,639.9 292.0,645.6 292.1,627.6 292.2,644.7 292.3,643.7 292.4,641.7 292.5,629.9 292.6,648.6 292.7,634.4 292.8,644.1 292.9,610.9 293.1,638.5 293.2,635.5 293.3,634.6 293.4,635.3 293.5,652.0 293.6,640.1 293.7,642.8 293.8,656.1 293.9,618.3 294.0,651.2 294.1,637.0 294.3,635.6 294.4,636.9 294.5,626.5 294.6,628.6 294.7,630.9 294.8,636.1 294.9,644.9 295.0,647.3 295.1,637.1 295.2,646.0 295.3,643.1 295.5,638.6 295.6,641.7 295.7,636.1 295.8,644.0 295.9,638.3 296.0,640.9 296.1,642.2 296.2,641.8 296.3,635.5 296.4,630.9 296.5,640.3 296.7,637.3 296.8,638.3 296.9,641.8 297.0,637.3 297.1,646.1 297.2,645.9 297.3,637.1 297.4,646.8 297.5,636.8 297.6,648.8 297.8,648.3 297.9,643.6 298.0,649.8 298.1,651.4 298.2,647.6 298.3,631.5 298.4,645.8 298.5,647.5 298.6,650.4 298.7,637.7 298.8,649.6 299.0,646.8 299.1,647.4 299.2,635.8 299.3,638.7 299.4,653.3 299.5,651.0 299.6,644.5 299.7,652.3 299.8,646.3 299.9,641.6 300.0,633.0 300.2,651.8 300.3,643.0 300.4,647.8 300.5,629.7 300.6,639.4 300.7,645.4 300.8,641.7 300.9,638.5 301.0,635.9 301.1,645.5 301.2,641.0 301.4,641.1 301.5,638.8 301.6,638.9 301.7,638.4 301.8,639.3 301.9,643.2 302.0,633.4 302.1,635.0 302.2,642.9 302.3,641.5 302.4,643.0 302.6,655.6 302.7,652.6 302.8,648.7 302.9,644.1 303.0,640.5 303.1,635.4 303.2,626.8 303.3,630.7 303.4,623.8 303.5,632.4 303.7,629.3 303.8,633.1 303.9,640.1 304.0,637.6 304.1,653.3 304.2,645.9 304.3,647.2 304.4,645.7 304.5,642.0 304.6,631.7 304.7,643.7 304.9,638.5 305.0,638.4 305.1,642.5 305.2,632.2 305.3,614.6 305.4,641.5 305.5,652.0 305.6,647.8 305.7,666.2 305.8,618.0 305.9,634.8 306.1,624.4 306.2,634.4 306.3,654.5 306.4,652.3 306.5,634.4 306.6,639.6 306.7,635.8 306.8,631.7 306.9,639.7 307.0,639.8 307.1,642.0 307.3,643.3 307.4,646.3 307.5,651.5 307.6,641.2 307.7,640.2 307.8,641.2 307.9,644.8 308.0,640.8 308.1,634.7 308.2,638.0 308.4,646.4 308.5,633.5 308.6,646.4 308.7,630.4 308.8,644.3 308.9,643.9 309.0,638.1 309.1,639.5 309.2,637.7 309.3,651.4 309.4,636.3 309.6,628.0 309.7,642.7 309.8,648.0 309.9,642.1 310.0,638.4 310.1,646.9 310.2,634.2 310.3,634.2 310.4,631.1 310.5,658.7 310.6,605.9 310.8,630.5 310.9,640.6 311.0,642.1 311.1,651.5 311.2,641.8 311.3,635.8 311.4,661.2 311.5,647.5 311.6,647.8 311.7,647.1 311.8,643.5 312.0,617.6 312.1,632.6 312.2,653.5 312.3,640.6 312.4,612.5 312.5,642.0 312.6,648.4 312.7,644.2 312.8,641.7 312.9,625.1 313.0,642.5 313.2,640.9 313.3,653.3 313.4,641.8 313.5,641.7 313.6,638.9 313.7,640.5 313.8,643.7 313.9,638.3 314.0,636.3 314.1,634.1 314.3,643.5 314.4,640.2 314.5,641.4 314.6,633.0 314.7,638.0 314.8,630.7 314.9,651.0 315.0,652.6 315.1,647.4 315.2,644.5 315.3,649.4 315.5,635.6 315.6,637.1 315.7,654.9 315.8,631.6 315.9,646.8 316.0,642.5 316.1,630.5 316.2,642.6 316.3,653.4 316.4,656.4 316.5,629.0 316.7,636.4 316.8,643.0 316.9,653.6 317.0,655.5 317.1,658.1 317.2,659.4 317.3,644.7 317.4,640.3 317.5,654.6 317.6,647.4 317.7,649.0 317.9,646.8 318.0,646.9 318.1,655.2 318.2,641.4 318.3,636.2 318.4,644.2 318.5,650.0 318.6,646.6 318.7,646.4 318.8,634.5 319.0,642.8 319.1,665.5 319.2,648.5 319.3,645.5 319.4,658.3 319.5,646.0 319.6,654.7 319.7,651.4 319.8,653.1 319.9,656.9 320.0,665.1 320.2,658.4 320.3,644.2 320.4,642.4 320.5,647.6 320.6,649.2 320.7,656.3 320.8,651.4 320.9,652.8 321.0,640.2 321.1,652.1 321.2,656.7 321.4,665.2 321.5,665.5 321.6,654.7 321.7,645.5 321.8,653.6 321.9,653.4 322.0,652.9 322.1,655.8 322.2,656.7 322.3,656.2 322.4,668.7 322.6,646.2 322.7,641.8 322.8,658.6 322.9,644.9 323.0,652.2 323.1,651.8 323.2,648.5 323.3,659.3 323.4,658.6 323.5,655.0 323.6,658.4 323.8,660.3 323.9,651.7 324.0,661.5 324.1,654.2 324.2,653.2 324.3,649.8 324.4,665.2 324.5,655.7 324.6,643.5 324.7,661.1 324.9,636.4 325.0,656.0 325.1,658.6 325.2,663.1 325.3,654.1 325.4,641.5 325.5,666.7 325.6,660.5 325.7,662.2 325.8,652.0 325.9,658.5 326.1,626.4 326.2,657.1 326.3,639.0 326.4,646.0 326.5,643.2 326.6,660.7 326.7,658.6 326.8,648.2 326.9,670.9 327.0,653.3 327.1,638.2 327.3,648.8 327.4,638.9 327.5,651.0 327.6,653.5 327.7,646.2 327.8,656.5 327.9,657.4 328.0,643.3 328.1,652.6 328.2,647.5 328.3,646.0 328.5,660.1 328.6,643.5 328.7,646.1 328.8,648.0 328.9,652.4 329.0,653.9 329.1,642.9 329.2,658.1 329.3,661.1 329.4,662.6 329.6,649.7 329.7,644.9 329.8,641.3 329.9,650.8 330.0,648.3 330.1,647.5 330.2,643.4 330.3,633.3 330.4,643.4 330.5,647.7 330.6,646.7 330.8,639.4 330.9,647.3 331.0,647.3 331.1,640.5 331.2,652.3 331.3,647.9 331.4,649.3 331.5,649.9 331.6,644.8 331.7,645.6 331.8,649.6 332.0,650.9 332.1,651.9 332.2,644.5 332.3,651.5 332.4,653.8 332.5,636.5 332.6,643.8 332.7,646.6 332.8,646.4 332.9,659.3 333.0,654.9 333.2,644.5 333.3,643.7 333.4,623.4 333.5,638.7 333.6,655.1 333.7,633.7 333.8,649.8 333.9,634.1 334.0,643.1 334.1,644.7 334.2,658.5 334.4,648.1 334.5,649.0 334.6,652.7 334.7,630.6 334.8,658.9 334.9,633.9 335.0,640.5 335.1,650.4 335.2,626.8 335.3,619.2 335.5,653.9 335.6,643.8 335.7,653.0 335.8,649.1 335.9,644.6 336.0,658.2 336.1,644.4 336.2,659.7 336.3,639.7 336.4,639.5 336.5,642.4 336.7,649.6 336.8,638.8 336.9,642.1 337.0,656.5 337.1,647.5 337.2,654.2 337.3,648.2 337.4,641.5 337.5,640.4 337.6,647.1 337.7,646.0 337.9,642.7 338.0,642.4 338.1,655.6 338.2,652.6 338.3,649.7 338.4,642.5 338.5,641.9 338.6,658.7 338.7,640.6 338.8,660.9 338.9,640.5 339.1,634.4 339.2,659.2 339.3,644.2 339.4,655.3 339.5,648.5 339.6,643.4 339.7,659.9 339.8,644.0 339.9,649.9 340.0,645.8 340.2,634.6 340.3,653.5 340.4,644.1 340.5,647.2 340.6,651.5 340.7,638.8 340.8,652.7 340.9,652.6 341.0,661.6 341.1,654.0 341.2,651.2 341.4,644.5 341.5,648.2 341.6,638.6 341.7,654.0 341.8,646.5 341.9,645.2 342.0,647.7 342.1,651.1 342.2,650.4 342.3,640.1 342.4,657.6 342.6,648.6 342.7,650.4 342.8,647.9 342.9,633.0 343.0,651.3 343.1,643.4 343.2,640.5 343.3,647.4 343.4,651.7 343.5,651.2 343.6,649.2 343.8,644.0 343.9,645.9 344.0,647.3 344.1,638.7 344.2,654.0 344.3,649.8 344.4,640.4 344.5,659.3 344.6,662.2 344.7,641.1 344.8,648.6 345.0,644.4 345.1,655.2 345.2,640.6 345.3,653.3 345.4,652.8 345.5,657.6 345.6,637.4 345.7,645.9 345.8,650.1 345.9,657.5 346.1,651.8 346.2,655.9 346.3,654.1 346.4,637.4 346.5,650.4 346.6,648.7 346.7,649.7 346.8,645.8 346.9,657.3 347.0,654.6 347.1,623.9 347.3,657.2 347.4,648.5 347.5,643.2 347.6,661.9 347.7,654.4 347.8,659.5 347.9,653.3 348.0,654.0 348.1,641.9 348.2,658.7 348.3,642.1 348.5,653.8 348.6,652.4 348.7,646.1 348.8,645.0 348.9,652.7 349.0,661.7 349.1,648.3 349.2,649.6 349.3,653.9 349.4,649.6 349.5,662.7 349.7,656.9 349.8,671.8 349.9,656.5 350.0,670.1 350.1,645.8 350.2,657.5 350.3,648.5 350.4,652.8 350.5,653.4 350.6,660.2 350.8,665.6 350.9,653.0 351.0,647.3 351.1,656.7 351.2,655.4 351.3,653.5 351.4,662.7 351.5,664.5 351.6,647.0 351.7,652.5 351.8,640.3 352.0,654.1 352.1,663.3 352.2,651.1 352.3,663.5 352.4,661.6 352.5,661.2 352.6,661.3 352.7,656.2 352.8,663.0 352.9,662.7 353.0,658.1 353.2,655.0 353.3,664.7 353.4,666.1 353.5,652.3 353.6,661.6 353.7,656.6 353.8,671.9 353.9,651.6 354.0,652.2 354.1,650.5 354.2,662.2 354.4,648.9 354.5,661.3 354.6,654.1 354.7,666.5 354.8,667.3 354.9,674.2 355.0,643.5 355.1,647.2 355.2,639.7 355.3,675.7 355.4,653.6 355.6,654.9 355.7,659.3 355.8,662.4 355.9,656.0 356.0,658.2 356.1,657.7 356.2,647.8 356.3,668.8 356.4,682.5 356.5,657.0 356.7,654.8 356.8,668.9 356.9,672.2 357.0,656.2 357.1,660.8 357.2,654.3 357.3,658.4 357.4,638.5 357.5,641.0 357.6,659.0 357.7,654.5 357.9,658.5 358.0,656.7 358.1,660.4 358.2,658.3 358.3,655.3 358.4,659.2 358.5,646.5 358.6,665.0 358.7,648.6 358.8,652.7 358.9,661.6 359.1,653.4 359.2,661.9 359.3,664.8 359.4,659.6 359.5,651.2 359.6,666.8 359.7,657.2 359.8,640.1 359.9,667.6 360.0,654.9 360.1,658.2 360.3,660.4 360.4,651.0 360.5,660.8 360.6,646.2 360.7,647.3 360.8,651.6 360.9,688.5 361.0,658.8 361.1,673.3 361.2,651.6 361.4,657.7 361.5,639.9 361.6,653.8 361.7,658.7 361.8,651.6 361.9,641.7 362.0,644.4 362.1,660.3 362.2,664.9 362.3,652.4 362.4,666.1 362.6,645.6 362.7,658.4 362.8,655.1 362.9,660.8 363.0,643.2 363.1,660.4 363.2,654.5 363.3,641.5 363.4,650.7 363.5,652.5 363.6,656.1 363.8,648.3 363.9,647.9 364.0,655.9 364.1,653.7 364.2,657.5 364.3,660.2 364.4,641.8 364.5,653.9 364.6,656.3 364.7,655.3 364.8,647.6 365.0,660.7 365.1,667.4 365.2,654.8 365.3,651.3 365.4,662.8 365.5,658.3 365.6,659.8 365.7,659.5 365.8,651.6 365.9,658.2 366.0,646.4 366.2,643.7 366.3,664.3 366.4,658.8 366.5,656.6 366.6,666.3 366.7,655.8 366.8,665.2 366.9,663.6 367.0,655.9 367.1,648.7 367.3,665.1 367.4,659.7 367.5,664.7 367.6,646.7 367.7,655.9 367.8,657.8 367.9,659.1 368.0,657.7 368.1,658.6 368.2,640.3 368.3,653.3 368.5,650.6 368.6,645.3 368.7,656.5 368.8,653.4 368.9,648.3 369.0,646.6 369.1,661.0 369.2,638.5 369.3,655.2 369.4,648.4 369.5,656.5 369.7,667.9 369.8,661.6 369.9,654.6 370.0,665.1 370.1,667.7 370.2,661.9 370.3,667.9 370.4,658.8 370.5,659.7 370.6,654.6 370.7,652.4 370.9,655.2 371.0,649.0 371.1,653.8 371.2,670.5 371.3,660.2 371.4,653.9 371.5,667.2 371.6,676.4 371.7,647.3 371.8,650.3 372.0,667.5 372.1,656.2 372.2,657.2 372.3,652.3 372.4,648.5 372.5,664.5 372.6,650.7 372.7,663.6 372.8,666.7 372.9,662.4 373.0,652.9 373.2,658.4 373.3,663.0 373.4,651.1 373.5,656.1 373.6,645.6 373.7,641.9 373.8,650.4 373.9,641.4 374.0,648.2 374.1,650.9 374.2,652.7 374.4,664.3 374.5,637.5 374.6,647.5 374.7,647.1 374.8,643.2 374.9,664.3 375.0,645.0 375.1,649.7 375.2,649.4 375.3,669.0 375.4,650.1 375.6,646.4 375.7,660.1 375.8,647.5 375.9,637.0 376.0,658.4 376.1,656.7 376.2,640.3 376.3,641.7 376.4,650.5 376.5,643.9 376.6,640.1 376.8,642.3 376.9,663.4 377.0,658.2 377.1,643.0 377.2,649.6 377.3,651.1 377.4,647.8 377.5,649.0 377.6,662.4 377.7,645.3 377.9,643.7 378.0,648.3 378.1,644.0 378.2,645.4 378.3,645.8 378.4,641.1 378.5,656.3 378.6,644.1 378.7,658.5 378.8,643.2 378.9,643.3 379.1,651.4 379.2,647.6 379.3,655.5 379.4,654.4 379.5,665.2 379.6,627.9 379.7,640.6 379.8,647.2 379.9,645.9 380.0,646.5 380.1,665.7 380.3,632.0 380.4,652.4 380.5,645.5 380.6,646.5 380.7,654.5 380.8,646.4 380.9,659.6 381.0,657.1 381.1,656.2 381.2,634.9 381.3,643.1 381.5,627.3 381.6,642.7 381.7,647.4 381.8,663.9 381.9,639.0 382.0,647.2 382.1,646.1 382.2,660.2 382.3,645.3 382.4,652.4 382.6,655.1 382.7,657.1 382.8,634.6 382.9,639.8 383.0,654.3 383.1,620.6 383.2,646.9 383.3,637.5 383.4,653.9 383.5,648.8 383.6,638.9 383.8,647.8 383.9,642.2 384.0,645.4 384.1,657.7 384.2,653.0 384.3,651.9 384.4,659.7 384.5,649.6 384.6,658.1 384.7,651.4 384.8,650.6 385.0,646.5 385.1,642.5 385.2,641.6 385.3,642.8 385.4,653.5 385.5,652.9 385.6,644.2 385.7,658.3 385.8,645.8 385.9,647.0 386.0,640.6 386.2,644.3 386.3,656.5 386.4,653.3 386.5,646.5 386.6,659.8 386.7,649.1 386.8,651.6 386.9,658.7 387.0,654.8 387.1,649.5 387.2,644.2 387.4,660.8 387.5,635.7 387.6,647.3 387.7,639.7 387.8,647.2 387.9,657.2 388.0,648.9 388.1,648.3 388.2,651.3 388.3,664.5 388.5,661.2 388.6,653.9 388.7,648.3 388.8,650.1 388.9,655.5 389.0,651.4 389.1,652.0 389.2,645.6 389.3,642.7 389.4,644.2 389.5,653.1 389.7,645.7 389.8,669.5 389.9,656.1 390.0,657.4 390.1,660.0 390.2,646.1 390.3,645.0 390.4,651.6 390.5,656.9 390.6,656.8 390.7,665.1 390.9,663.3 391.0,670.0 391.1,662.6 391.2,658.8 391.3,660.9 391.4,653.4 391.5,652.2 391.6,661.2 391.7,643.4 391.8,664.4 391.9,667.6 392.1,651.7 392.2,666.9 392.3,656.8 392.4,648.6 392.5,661.4 392.6,658.5 392.7,670.8 392.8,652.5 392.9,656.2 393.0,651.1 393.2,663.2 393.3,655.5 393.4,662.2 393.5,651.2 393.6,656.9 393.7,649.9 393.8,650.9 393.9,664.0 394.0,654.9 394.1,655.7 394.2,660.5 394.4,649.2 394.5,684.1 394.6,648.6 394.7,651.7 394.8,669.2 394.9,643.2 395.0,667.1 395.1,657.4 395.2,658.0 395.3,647.3 395.4,655.7 395.6,645.1 395.7,661.1 395.8,652.6 395.9,649.5 396.0,649.0 396.1,651.5 396.2,658.6 396.3,654.8 396.4,647.2 396.5,646.3 396.6,645.7 396.8,657.9 396.9,655.5 397.0,644.8 397.1,641.1 397.2,651.9 397.3,648.1 397.4,655.1 397.5,650.2 397.6,654.2 397.7,656.5 397.8,658.0 398.0,649.2 398.1,654.9 398.2,645.7 398.3,631.4 398.4,650.8 398.5,658.3 398.6,659.2 398.7,649.5 398.8,638.1 398.9,652.5 399.1,649.1 399.2,655.0 399.3,658.9 399.4,648.4 399.5,646.7 399.6,648.7 399.7,646.5 399.8,644.5 399.9,652.6 400.0,646.3 400.1,649.0 400.3,648.5 400.4,646.5 400.5,655.0 400.6,647.5 400.7,650.5 400.8,656.6 400.9,649.9 401.0,628.6 401.1,646.6 401.2,646.2 401.3,653.9 401.5,660.7 401.6,651.0 401.7,648.9 401.8,660.3 401.9,645.5 402.0,652.3 402.1,653.3 402.2,648.9 402.3,647.7 402.4,650.4 402.5,659.4 402.7,652.2 402.8,644.1 402.9,650.7 403.0,655.6 403.1,661.3 403.2,654.2 403.3,649.8 403.4,657.6 403.5,654.1 403.6,648.3 403.8,642.8 403.9,648.3 404.0,653.9 404.1,640.1 404.2,636.5 404.3,651.0 404.4,637.4 404.5,639.4 404.6,646.9 404.7,647.0 404.8,649.3 405.0,650.2 405.1,652.4 405.2,648.0 405.3,643.0 405.4,606.2 405.5,656.8 405.6,654.3 405.7,652.7 405.8,648.8 405.9,643.4 406.0,652.7 406.2,649.2 406.3,640.5 406.4,656.4 406.5,639.4 406.6,645.7 406.7,674.3 406.8,643.5 406.9,651.1 407.0,656.9 407.1,649.7 407.2,639.8 407.4,645.8 407.5,648.4 407.6,638.4 407.7,658.5 407.8,650.8 407.9,653.4 408.0,650.3 408.1,650.5 408.2,646.0 408.3,638.6 408.4,653.4 408.6,650.0 408.7,659.9 408.8,641.3 408.9,650.1 409.0,663.9 409.1,639.9 409.2,640.6 409.3,650.3 409.4,660.5 409.5,630.9 409.7,649.8 409.8,648.1 409.9,645.7 410.0,648.3 410.1,658.8 410.2,651.1 410.3,641.5 410.4,646.6 410.5,651.1 410.6,639.9 410.7,645.0 410.9,647.6 411.0,635.9 411.1,662.4 411.2,638.6 411.3,649.8 411.4,648.3 411.5,644.9 411.6,657.4 411.7,649.5 411.8,642.4 411.9,656.0 412.1,651.5 412.2,640.6 412.3,637.3 412.4,653.7 412.5,646.6 412.6,637.1 412.7,650.8 412.8,637.3 412.9,635.4 413.0,641.0 413.1,632.9 413.3,650.9 413.4,670.4 413.5,654.9 413.6,648.7 413.7,645.5 413.8,647.2 413.9,648.9 414.0,650.8 414.1,642.7 414.2,646.6 414.4,641.6 414.5,653.3 414.6,652.6 414.7,653.9 414.8,643.2 414.9,643.4 415.0,651.2 415.1,644.7 415.2,642.8 415.3,650.4 415.4,649.6 415.6,656.5 415.7,638.7 415.8,654.4 415.9,643.1 416.0,651.5 416.1,638.0 416.2,646.3 416.3,642.9 416.4,659.5 416.5,640.6 416.6,654.4 416.8,641.5 416.9,639.1 417.0,648.3 417.1,652.9 417.2,645.2 417.3,649.2 417.4,646.3 417.5,644.1 417.6,653.8 417.7,644.5 417.8,651.0 418.0,636.8 418.1,642.0 418.2,651.4 418.3,641.0 418.4,629.6 418.5,649.3 418.6,647.8 418.7,641.7 418.8,644.5 418.9,641.2 419.0,646.1 419.2,660.3 419.3,645.7 419.4,642.7 419.5,639.2 419.6,641.6 419.7,640.1 419.8,649.9 419.9,627.5 420.0,634.2 420.1,648.4 420.3,645.0 420.4,644.7 420.5,640.6 420.6,644.9 420.7,633.9 420.8,632.7 420.9,633.9 421.0,645.6 421.1,652.5 421.2,640.3 421.3,639.6 421.5,641.3 421.6,655.6 421.7,644.6 421.8,643.6 421.9,639.5 422.0,647.5 422.1,652.4 422.2,644.3 422.3,637.5 422.4,652.5 422.5,643.0 422.7,654.8 422.8,635.1 422.9,640.2 423.0,643.7 423.1,630.7 423.2,644.6 423.3,648.2 423.4,643.0 423.5,647.2 423.6,645.4 423.7,638.8 423.9,650.0 424.0,639.7 424.1,643.5 424.2,640.3 424.3,649.7 424.4,642.7 424.5,642.8 424.6,631.2 424.7,644.2 424.8,652.9 425.0,631.8 425.1,648.9 425.2,646.0 425.3,634.9 425.4,644.3 425.5,654.6 425.6,648.1 425.7,653.6 425.8,656.4 425.9,644.2 426.0,654.8 426.2,630.8 426.3,642.8 426.4,658.1 426.5,657.8 426.6,655.2 426.7,638.7 426.8,648.2 426.9,644.1 427.0,663.6 427.1,641.4 427.2,642.2 427.4,647.2 427.5,653.4 427.6,646.8 427.7,648.4 427.8,652.4 427.9,650.1 428.0,637.3 428.1,640.8 428.2,660.8 428.3,650.6 428.4,662.8 428.6,659.9 428.7,656.8 428.8,649.9 428.9,660.3 429.0,646.4 429.1,664.5 429.2,659.1 429.3,653.1 429.4,647.0 429.5,645.8 429.6,648.1 429.8,646.2 429.9,644.0 430.0,643.1 430.1,651.7 430.2,659.1 430.3,664.7 430.4,656.9 430.5,650.9 430.6,662.1 430.7,663.3 430.9,653.2 431.0,659.0 431.1,655.1 431.2,653.5 431.3,648.4 431.4,656.8 431.5,646.3 431.6,645.8 431.7,655.0 431.8,659.7 431.9,659.2 432.1,659.2 432.2,650.2 432.3,651.7 432.4,660.6 432.5,666.7 432.6,635.1 432.7,661.7 432.8,656.1 432.9,653.6 433.0,648.4 433.1,648.7 433.3,644.7 433.4,654.2 433.5,646.1 433.6,651.8 433.7,643.2 433.8,662.0 433.9,658.3 434.0,646.2 434.1,657.4 434.2,651.9 434.3,649.7 434.5,655.3 434.6,660.2 434.7,665.5 434.8,660.8 434.9,663.6 435.0,660.5 435.1,660.8 435.2,663.5 435.3,647.5 435.4,653.9 435.6,666.5 435.7,646.5 435.8,650.3 435.9,668.7 436.0,648.8 436.1,656.0 436.2,656.7 436.3,652.7 436.4,660.9 436.5,660.4 436.6,649.0 436.8,665.6 436.9,648.7 437.0,650.7 437.1,652.4 437.2,655.1 437.3,646.5 437.4,655.8 437.5,639.2 437.6,647.0 437.7,648.2 437.8,649.3 438.0,652.8 438.1,654.2 438.2,647.6 438.3,652.8 438.4,642.2 438.5,649.7 438.6,658.6 438.7,648.1 438.8,650.6 438.9,653.0 439.0,658.3 439.2,655.4 439.3,651.4 439.4,644.8 439.5,652.8 439.6,632.2 439.7,654.2 439.8,646.2 439.9,655.8 440.0,650.9 440.1,660.4 440.2,647.0 440.4,638.0 440.5,651.3 440.6,647.9 440.7,651.1 440.8,659.6 440.9,645.4 441.0,655.4 441.1,657.1 441.2,658.5 441.3,638.2 441.5,652.4 441.6,646.6 441.7,650.0 441.8,646.8 441.9,650.6 442.0,658.7 442.1,664.0 442.2,657.1 442.3,643.9 442.4,660.8 442.5,644.2 442.7,650.2 442.8,660.6 442.9,648.9 443.0,657.4 443.1,650.9 443.2,644.6 443.3,654.0 443.4,649.3 443.5,663.9 443.6,664.4 443.7,662.9 443.9,645.2 444.0,664.3 444.1,653.8 444.2,653.9 444.3,652.1 444.4,646.2 444.5,649.8 444.6,654.2 444.7,659.3 444.8,653.4 444.9,649.8 445.1,647.0 445.2,647.7 445.3,661.0 445.4,659.1 445.5,651.3 445.6,639.2 445.7,638.8 445.8,655.5 445.9,655.5 446.0,659.3 446.2,652.6 446.3,646.8 446.4,639.7 446.5,645.3 446.6,616.7 446.7,652.9 446.8,654.0 446.9,659.6 447.0,637.9 447.1,640.7 447.2,654.4 447.4,652.0 447.5,636.3 447.6,645.0 447.7,650.8 447.8,647.4 447.9,652.7 448.0,650.5 448.1,647.3 448.2,654.5 448.3,650.3 448.4,659.1 448.6,641.8 448.7,650.3 448.8,647.7 448.9,650.5 449.0,655.1 449.1,656.8 449.2,638.4 449.3,660.3 449.4,655.8 449.5,655.9 449.6,652.7 449.8,658.5 449.9,654.2 450.0,639.4 450.1,647.1 450.2,649.9 450.3,645.2 450.4,648.3 450.5,655.6 450.6,644.2 450.7,646.0 450.8,645.1 451.0,651.3 451.1,654.4 451.2,645.6 451.3,653.9 451.4,647.6 451.5,660.6 451.6,636.4 451.7,650.7 451.8,668.0 451.9,648.7 452.1,644.2 452.2,645.8 452.3,655.0 452.4,647.3 452.5,657.7 452.6,651.0 452.7,647.9 452.8,649.0 452.9,655.4 453.0,666.9 453.1,646.3 453.3,643.8 453.4,643.8 453.5,655.1 453.6,664.7 453.7,648.8 453.8,657.1 453.9,649.6 454.0,658.3 454.1,642.6 454.2,656.4 454.3,643.2 454.5,646.1 454.6,654.0 454.7,650.3 454.8,651.7 454.9,656.5 455.0,653.8 455.1,662.6 455.2,657.7 455.3,646.4 455.4,651.8 455.5,644.2 455.7,649.7 455.8,664.9 455.9,647.2 456.0,661.2 456.1,663.0 456.2,670.8 456.3,652.2 456.4,654.2 456.5,654.7 456.6,650.6 456.8,665.6 456.9,682.8 457.0,638.8 457.1,653.1 457.2,664.1 457.3,648.6 457.4,644.8 457.5,654.9 457.6,654.0 457.7,653.6 457.8,653.7 458.0,667.2 458.1,639.4 458.2,651.5 458.3,646.8 458.4,656.0 458.5,651.1 458.6,656.9 458.7,653.8 458.8,669.1 458.9,644.4 459.0,649.7 459.2,659.2 459.3,650.9 459.4,654.5 459.5,643.5 459.6,659.7 459.7,653.9 459.8,658.3 459.9,648.6 460.0,651.6 460.1,648.9 460.2,665.6 460.4,642.1 460.5,656.7 460.6,655.8 460.7,662.2 460.8,656.1 460.9,645.7 461.0,655.7 461.1,640.1 461.2,667.7 461.3,651.4 461.4,646.6 461.6,647.9 461.7,655.3 461.8,640.2 461.9,677.9 462.0,647.3 462.1,662.5 462.2,653.7 462.3,665.6 462.4,644.9 462.5,658.9 462.7,652.3 462.8,648.7 462.9,659.5 463.0,651.8 463.1,648.2 463.2,652.1 463.3,649.0 463.4,652.5 463.5,653.9 463.6,661.8 463.7,653.4 463.9,640.9 464.0,658.4 464.1,650.6 464.2,646.0 464.3,644.9 464.4,664.7 464.5,652.3 464.6,663.7 464.7,645.8 464.8,636.2 464.9,665.1 465.1,651.5 465.2,651.9 465.3,650.8 465.4,645.0 465.5,659.4 465.6,644.3 465.7,663.8 465.8,644.9 465.9,670.7 466.0,657.6 466.1,660.3 466.3,640.7 466.4,654.5 466.5,647.6 466.6,645.5 466.7,645.5 466.8,657.3 466.9,651.3 467.0,647.7 467.1,647.0 467.2,646.9 467.4,647.6 467.5,648.6 467.6,643.0 467.7,644.6 467.8,635.2 467.9,650.1 468.0,654.5 468.1,646.6 468.2,660.2 468.3,645.4 468.4,651.1 468.6,658.7 468.7,652.4 468.8,645.6 468.9,653.3 469.0,648.7 469.1,659.7 469.2,657.2 469.3,650.0 469.4,659.2 469.5,664.1 469.6,660.1 469.8,658.1 469.9,650.5 470.0,648.1 470.1,647.3 470.2,659.6 470.3,644.1 470.4,654.1 470.5,662.5 470.6,639.9 470.7,653.6 470.8,644.9 471.0,650.7 471.1,655.6 471.2,645.5 471.3,643.1 471.4,649.4 471.5,653.6 471.6,650.0 471.7,645.9 471.8,656.9 471.9,644.5 472.0,641.2 472.2,651.5 472.3,665.7 472.4,646.9 472.5,649.2 472.6,642.8 472.7,645.7 472.8,641.6 472.9,651.8 473.0,639.8 473.1,645.3 473.3,657.3 473.4,641.7 473.5,658.5 473.6,650.7 473.7,645.7 473.8,651.4 473.9,650.0 474.0,654.2 474.1,650.6 474.2,665.2 474.3,658.7 474.5,657.8 474.6,642.0 474.7,647.6 474.8,658.5 474.9,654.4 475.0,650.0 475.1,649.7 475.2,657.7 475.3,636.8 475.4,643.4 475.5,640.8 475.7,658.0 475.8,639.6 475.9,647.3 476.0,657.9 476.1,647.2 476.2,651.2 476.3,650.1 476.4,655.7 476.5,665.7 476.6,642.7 476.7,650.2 476.9,662.7 477.0,668.5 477.1,650.1 477.2,661.7 477.3,656.8 477.4,656.6 477.5,642.9 477.6,641.7 477.7,654.9 477.8,652.4 478.0,651.5 478.1,634.6 478.2,662.3 478.3,651.6 478.4,671.2 478.5,650.7 478.6,654.6 478.7,657.3 478.8,649.8 478.9,645.7 479.0,649.3 479.2,653.8 479.3,649.9 479.4,667.1 479.5,645.8 479.6,659.3 479.7,659.4 479.8,655.1 479.9,646.0 480.0,657.0 480.1,659.5 480.2,654.0 480.4,652.7 480.5,620.1 480.6,645.1 480.7,651.2 480.8,653.3 480.9,657.1 481.0,649.9 481.1,653.0 481.2,644.7 481.3,656.2 481.4,656.8 481.6,650.6 481.7,657.7 481.8,648.9 481.9,643.6 482.0,648.9 482.1,664.6 482.2,639.7 482.3,651.5 482.4,647.8 482.5,650.6 482.6,639.7 482.8,654.9 482.9,654.7 483.0,648.5 483.1,646.6 483.2,650.5 483.3,656.5 483.4,639.0 483.5,658.9 483.6,646.8 483.7,654.7 483.9,643.0 484.0,662.5 484.1,650.9 484.2,661.4 484.3,645.0 484.4,644.7 484.5,666.5 484.6,654.3 484.7,650.9 484.8,656.8 484.9,650.5 485.1,644.5 485.2,632.8 485.3,629.4 485.4,649.7 485.5,647.7 485.6,635.9 485.7,649.5 485.8,637.1 485.9,637.1 486.0,641.9 486.1,621.9 486.3,633.0 486.4,632.0 486.5,623.3 486.6,622.6 486.7,609.7 486.8,616.3 486.9,616.3 487.0,613.9 487.1,597.7 487.2,605.2 487.3,596.1 487.5,593.4 487.6,582.6 487.7,588.6 487.8,573.5 487.9,587.0 488.0,560.2 488.1,567.7 488.2,554.4 488.3,540.0 488.4,554.4 488.6,560.0 488.7,554.8 488.8,554.4 488.9,541.8 489.0,551.9 489.1,540.7 489.2,569.5 489.3,570.9 489.4,553.2 489.5,562.2 489.6,560.5 489.8,562.5 489.9,576.8 490.0,564.8 490.1,586.1 490.2,599.6 490.3,597.5 490.4,609.3 490.5,607.1 490.6,613.3 490.7,607.1 490.8,627.1 491.0,615.2 491.1,624.0 491.2,620.4 491.3,636.1 491.4,626.6 491.5,639.9 491.6,651.1 491.7,640.4 491.8,623.7 491.9,647.4 492.0,642.1 492.2,645.6 492.3,645.3 492.4,651.1 492.5,660.0 492.6,644.6 492.7,637.4 492.8,646.2 492.9,652.9 493.0,635.2 493.1,649.0 493.2,621.4 493.4,656.6 493.5,662.0 493.6,655.6 493.7,646.9 493.8,655.1 493.9,670.5 494.0,661.8 494.1,660.3 494.2,657.9 494.3,643.8 494.5,650.0 494.6,654.3 494.7,650.9 494.8,637.1 494.9,649.5 495.0,645.8 495.1,652.0 495.2,653.0 495.3,641.1 495.4,645.8 495.5,651.9 495.7,643.8 495.8,651.5 495.9,644.9 496.0,645.7 496.1,656.9 496.2,650.2 496.3,646.8 496.4,661.1 496.5,648.5 496.6,650.1 496.7,649.5 496.9,669.6 497.0,653.0 497.1,654.6 497.2,645.6 497.3,654.2 497.4,656.0 497.5,640.9 497.6,655.9 497.7,660.0 497.8,661.2 497.9,650.4 498.1,665.1 498.2,644.3 498.3,665.7 498.4,654.0 498.5,643.5 498.6,658.1 498.7,641.4 498.8,645.8 498.9,649.5 499.0,642.5 499.2,658.9 499.3,647.5 499.4,641.1 499.5,651.2 499.6,648.8 499.7,641.8 499.8,641.0 499.9,653.9 500.0,660.6 500.1,637.2 500.2,654.8 500.4,654.6 500.5,656.2 500.6,645.0 500.7,642.9 500.8,647.9 500.9,644.4 501.0,645.3 501.1,644.5 501.2,646.5 501.3,645.7 501.4,648.6 501.6,650.2 501.7,647.2 501.8,645.0 501.9,659.8 502.0,655.8 502.1,652.7 502.2,637.4 502.3,653.6 502.4,648.6 502.5,653.5 502.6,651.1 502.8,667.0 502.9,650.4 503.0,643.9 503.1,657.8 503.2,658.2 503.3,659.7 503.4,632.6 503.5,644.6 503.6,645.2 503.7,639.9 503.8,652.1 504.0,656.2 504.1,659.1 504.2,657.7 504.3,652.2 504.4,662.5 504.5,656.4 504.6,633.0 504.7,650.3 504.8,647.1 504.9,654.2 505.1,645.8 505.2,649.6 505.3,661.1 505.4,646.7 505.5,642.1 505.6,653.1 505.7,661.4 505.8,651.3 505.9,652.4 506.0,647.8 506.1,631.7 506.3,646.7 506.4,645.5 506.5,661.0 506.6,650.6 506.7,661.8 506.8,651.3 506.9,646.0 507.0,655.4 507.1,654.1 507.2,661.5 507.3,639.0 507.5,650.4 507.6,656.4 507.7,642.3 507.8,654.5 507.9,651.3 508.0,662.8 508.1,662.3 508.2,640.1 508.3,643.7 508.4,649.6 508.5,654.6 508.7,654.1 508.8,647.0 508.9,659.1 509.0,661.2 509.1,655.5 509.2,653.0 509.3,655.9 509.4,650.0 509.5,661.6 509.6,661.4 509.8,649.8 509.9,666.0 510.0,655.8 510.1,661.9 510.2,656.1 510.3,655.6 510.4,661.8 510.5,650.1 510.6,655.0 510.7,648.5 510.8,659.2 511.0,654.1 511.1,653.4 511.2,651.1 511.3,660.5 511.4,658.4 511.5,655.1 511.6,653.1 511.7,668.5 511.8,666.6 511.9,648.5 512.0,664.1 512.2,659.7 512.3,658.0 512.4,658.9 512.5,647.2 512.6,673.2 512.7,670.0 512.8,656.2 512.9,656.3 513.0,657.5 513.1,652.0 513.2,659.9 513.4,656.2 513.5,648.9 513.6,652.8 513.7,651.1 513.8,651.6 513.9,652.9 514.0,659.5 514.1,651.8 514.2,643.6 514.3,676.3 514.4,650.8 514.6,664.4 514.7,656.6 514.8,658.8 514.9,642.4 515.0,656.0 515.1,652.8 515.2,654.4 515.3,658.2 515.4,652.4 515.5,660.2 515.7,645.0 515.8,648.1 515.9,657.6 516.0,658.9 516.1,662.8 516.2,667.0 516.3,659.0 516.4,660.5 516.5,657.3 516.6,656.8 516.7,655.0 516.9,656.1 517.0,651.5 517.1,653.9 517.2,660.8 517.3,658.2 517.4,662.4 517.5,647.6 517.6,652.8 517.7,658.0 517.8,649.3 517.9,648.4 518.1,659.0 518.2,652.6 518.3,660.8 518.4,654.9 518.5,647.0 518.6,646.8 518.7,661.7 518.8,653.1 518.9,646.9 519.0,643.3 519.1,645.5 519.3,650.7 519.4,671.8 519.5,647.7 519.6,655.6 519.7,655.3 519.8,632.6 519.9,635.2 520.0,659.8 520.1,640.6 520.2,661.9 520.4,654.5 520.5,643.6 520.6,667.6 520.7,653.2 520.8,664.6 520.9,654.6 521.0,648.4 521.1,661.3 521.2,666.3 521.3,662.7 521.4,646.3 521.6,658.6 521.7,646.8 521.8,650.7 521.9,663.7 522.0,645.4 522.1,691.2 522.2,631.2 522.3,646.4 522.4,660.4 522.5,653.9 522.6,654.2 522.8,649.3 522.9,660.0 523.0,656.3 523.1,654.2 523.2,641.6 523.3,644.5 523.4,654.8 523.5,639.8 523.6,649.6 523.7,658.7 523.8,658.3 524.0,650.3 524.1,635.2 524.2,656.7 524.3,659.1 524.4,652.8 524.5,661.8 524.6,661.0 524.7,643.4 524.8,653.5 524.9,651.6 525.0,666.5 525.2,664.0 525.3,657.7 525.4,661.2 525.5,663.5 525.6,652.2 525.7,655.5 525.8,654.8 525.9,654.2 526.0,654.6 526.1,658.5 526.3,648.9 526.4,650.0 526.5,663.2 526.6,668.2 526.7,670.8 526.8,645.5 526.9,662.1 527.0,651.8 527.1,653.8 527.2,655.8 527.3,659.0 527.5,664.3 527.6,639.8 527.7,652.7 527.8,664.7 527.9,656.7 528.0,645.3 528.1,650.0 528.2,651.4 528.3,663.6 528.4,669.6 528.5,649.4 528.7,659.7 528.8,653.9 528.9,659.6 529.0,653.8 529.1,647.7 529.2,650.5 529.3,650.1 529.4,664.7 529.5,649.4 529.6,658.4 529.7,649.6 529.9,651.2 530.0,657.9 530.1,651.9 530.2,683.3 530.3,673.7 530.4,647.3 530.5,658.5 530.6,664.7 530.7,646.2 530.8,651.9 531.0,665.0 531.1,649.7 531.2,663.4 531.3,653.2 531.4,656.8 531.5,648.2 531.6,654.1 531.7,651.3 531.8,679.9 531.9,659.0 532.0,655.2 532.2,654.3 532.3,658.4 532.4,641.8 532.5,646.2 532.6,646.9 532.7,647.4 532.8,642.2 532.9,657.2 533.0,644.9 533.1,661.7 533.2,652.6 533.4,650.6 533.5,656.3 533.6,655.6 533.7,650.6 533.8,655.6 533.9,660.7 534.0,648.6 534.1,660.0 534.2,649.4 534.3,656.6 534.4,649.0 534.6,648.3 534.7,653.3 534.8,643.1 534.9,639.5 535.0,650.2 535.1,648.3 535.2,641.7 535.3,663.1 535.4,651.5 535.5,644.1 535.6,652.3 535.8,651.8 535.9,646.2 536.0,646.7 536.1,619.1 536.2,649.9 536.3,661.7 536.4,656.6 536.5,656.8 536.6,646.2 536.7,642.5 536.9,655.8 537.0,651.5 537.1,648.5 537.2,646.3 537.3,653.8 537.4,651.4 537.5,644.1 537.6,645.0 537.7,633.7 537.8,636.6 537.9,648.4 538.1,640.6 538.2,637.7 538.3,647.1 538.4,652.4 538.5,637.8 538.6,642.1 538.7,642.9 538.8,679.3 538.9,651.4 539.0,646.0 539.1,635.0 539.3,650.1 539.4,649.3 539.5,644.5 539.6,633.4 539.7,642.8 539.8,634.2 539.9,643.4 540.0,642.4 540.1,640.1 540.2,644.2 540.3,635.7 540.5,655.3 540.6,645.8 540.7,638.4 540.8,652.0 540.9,650.3 541.0,642.7 541.1,637.5 541.2,645.4 541.3,649.0 541.4,650.0 541.6,651.7 541.7,656.4 541.8,635.0 541.9,646.0 542.0,632.6 542.1,652.2 542.2,648.8 542.3,651.8 542.4,645.3 542.5,643.4 542.6,641.4 542.8,626.7 542.9,644.2 543.0,662.2 543.1,654.0 543.2,644.3 543.3,648.3 543.4,648.9 543.5,641.8 543.6,645.9 543.7,648.0 543.8,642.0 544.0,648.1 544.1,654.1 544.2,657.6 544.3,648.2 544.4,645.6 544.5,651.5 544.6,642.7 544.7,636.3 544.8,655.8 544.9,644.8 545.0,625.6 545.2,652.7 545.3,651.8 545.4,654.0 545.5,645.6 545.6,654.6 545.7,643.5 545.8,639.9 545.9,643.4 546.0,649.0 546.1,630.5 546.2,645.8 546.4,648.6 546.5,643.8 546.6,647.8 546.7,647.5 546.8,641.8 546.9,649.4 547.0,651.5 547.1,633.7 547.2,642.4 547.3,658.2 547.5,650.0 547.6,618.0 547.7,649.1 547.8,657.1 547.9,654.2 548.0,653.6 548.1,646.0 548.2,649.2 548.3,641.9 548.4,649.2 548.5,665.4 548.7,650.1 548.8,644.6 548.9,654.0 549.0,637.0 549.1,665.6 549.2,658.8 549.3,648.9 549.4,648.4 549.5,645.7 549.6,652.2 549.7,652.0 549.9,641.9 550.0,659.0 550.1,649.5 550.2,646.0 550.3,659.7 550.4,658.6 550.5,648.9 550.6,648.8 550.7,660.8 550.8,650.7 550.9,655.0 551.1,663.1 551.2,645.5 551.3,643.2 551.4,647.6 551.5,649.0 551.6,653.6 551.7,659.6 551.8,649.8 551.9,664.5 552.0,654.3 552.2,639.8 552.3,653.4 552.4,658.6 552.5,661.3 552.6,649.1 552.7,652.6 552.8,668.2 552.9,654.1 553.0,646.7 553.1,642.4 553.2,649.1 553.4,654.2 553.5,644.5 553.6,661.2 553.7,646.8 553.8,623.8 553.9,656.9 554.0,652.9 554.1,651.4 554.2,661.3 554.3,648.7 554.4,658.0 554.6,649.4 554.7,663.9 554.8,652.4 554.9,652.6 555.0,656.4 555.1,652.1 555.2,656.1 555.3,651.2 555.4,661.6 555.5,653.2 555.6,645.0 555.8,657.0 555.9,655.7 556.0,645.3 556.1,649.9 556.2,640.2 556.3,652.6 556.4,657.6 556.5,668.8 556.6,654.1 556.7,659.1 556.8,662.0 557.0,657.0 557.1,638.9 557.2,644.5 557.3,653.3 557.4,653.2 557.5,652.0 557.6,637.7 557.7,638.1 557.8,653.6 557.9,658.6 558.1,647.5 558.2,659.1 558.3,647.3 558.4,649.8 558.5,646.5 558.6,655.2 558.7,642.7 558.8,650.7 558.9,656.5 559.0,649.8 559.1,640.6 559.3,650.9 559.4,647.3 559.5,639.7 559.6,646.2 559.7,642.8 559.8,651.0 559.9,643.3 560.0,647.6 560.1,651.1 560.2,618.1 560.3,653.2 560.5,646.0 560.6,638.4 560.7,645.4 560.8,652.0 560.9,639.5 561.0,640.2 561.1,653.0 561.2,653.7 561.3,672.6 561.4,641.9 561.5,634.7 561.7,634.4 561.8,636.0 561.9,633.5 562.0,646.2 562.1,647.8 562.2,631.0 562.3,649.4 562.4,631.9 562.5,633.0 562.6,627.8 562.8,641.0 562.9,634.3 563.0,634.9 563.1,613.4 563.2,628.9 563.3,634.5 563.4,611.2 563.5,644.7 563.6,632.3 563.7,636.9 563.8,625.8 564.0,633.9 564.1,635.4 564.2,643.7 564.3,617.0 564.4,639.6 564.5,614.8 564.6,622.7 564.7,617.6 564.8,618.0 564.9,604.2 565.0,615.3 565.2,608.1 565.3,614.3 565.4,619.1 565.5,613.8 565.6,611.5 565.7,622.5 565.8,614.4 565.9,615.2 566.0,633.1 566.1,608.0 566.2,608.2 566.4,611.9 566.5,603.7 566.6,614.5 566.7,600.2 566.8,604.1 566.9,604.4 567.0,602.9 567.1,605.1 567.2,598.1 567.3,587.2 567.4,614.3 567.6,602.8 567.7,611.8 567.8,598.6 567.9,612.0 568.0,598.4 568.1,620.3 568.2,608.4 568.3,607.0 568.4,590.3 568.5,596.0 568.7,610.7 568.8,610.9 568.9,611.4 569.0,613.5 569.1,625.1 569.2,615.7 569.3,616.9 569.4,614.9 569.5,613.4 569.6,625.5 569.7,620.2 569.9,621.3 570.0,629.8 570.1,626.7 570.2,633.3 570.3,633.7 570.4,619.8 570.5,624.7 570.6,638.7 570.7,629.6 570.8,637.2 570.9,627.8 571.1,617.5 571.2,620.0 571.3,631.3 571.4,633.7 571.5,654.1 571.6,650.3 571.7,644.2 571.8,647.2 571.9,629.9 572.0,641.6 572.1,640.9 572.3,655.6 572.4,637.4 572.5,632.3 572.6,643.7 572.7,641.4 572.8,643.0 572.9,644.1 573.0,644.1 573.1,634.8 573.2,641.5 573.4,660.7 573.5,640.2 573.6,648.3 573.7,638.2 573.8,633.4 573.9,652.3 574.0,647.8 574.1,656.1 574.2,654.2 574.3,648.8 574.4,641.5 574.6,677.4 574.7,646.7 574.8,661.3 574.9,651.4 575.0,652.9 575.1,650.6 575.2,650.3 575.3,646.5 575.4,664.3 575.5,642.3 575.6,628.3 575.8,655.2 575.9,644.7 576.0,655.7 576.1,647.8 576.2,656.6 576.3,649.4 576.4,644.3 576.5,647.2 576.6,653.8 576.7,644.5 576.8,642.9 577.0,647.5 577.1,655.6 577.2,657.7 577.3,651.7 577.4,654.6 577.5,647.3 577.6,661.6 577.7,663.3 577.8,644.4 577.9,650.9 578.0,648.7 578.2,651.8 578.3,647.3 578.4,640.3 578.5,640.8 578.6,646.3 578.7,650.2 578.8,657.0 578.9,654.4 579.0,648.0 579.1,647.0 579.3,640.9 579.4,655.4 579.5,651.6 579.6,655.1 579.7,656.5 579.8,655.0 579.9,650.5 580.0,649.6 580.1,644.9 580.2,647.7 580.3,654.8 580.5,667.1 580.6,650.1 580.7,653.8 580.8,673.5 580.9,652.9 581.0,649.8 581.1,651.8 581.2,650.1 581.3,639.2 581.4,658.6 581.5,641.0 581.7,649.4 581.8,650.1 581.9,656.0 582.0,652.2 582.1,650.5 582.2,641.6 582.3,658.7 582.4,652.6 582.5,649.5 582.6,645.5 582.7,648.3 582.9,655.6 583.0,644.0 583.1,655.2 583.2,653.8 583.3,660.7 583.4,648.9 583.5,646.1 583.6,651.7 583.7,650.9 583.8,636.6 584.0,671.2 584.1,654.9 584.2,654.7 584.3,648.7 584.4,656.4 584.5,652.0 584.6,664.9 584.7,659.8 584.8,664.8 584.9,647.4 585.0,650.6 585.2,654.6 585.3,653.2 585.4,669.0 585.5,661.5 585.6,651.9 585.7,657.0 585.8,670.8 585.9,656.2 586.0,662.2 586.1,646.6 586.2,654.7 586.4,657.2 586.5,656.0 586.6,657.3 586.7,659.7 586.8,664.7 586.9,645.1 587.0,657.7 587.1,661.9 587.2,659.3 587.3,665.1 587.4,656.9 587.6,655.2 587.7,652.7 587.8,663.5 587.9,648.6 588.0,654.4 588.1,656.9 588.2,665.6 588.3,655.7 588.4,643.6 588.5,661.7 588.6,649.9 588.8,652.7 588.9,643.2 589.0,657.1 589.1,656.9 589.2,644.9 589.3,655.9 589.4,660.8 589.5,651.9 589.6,644.7 589.7,655.5 589.9,660.2 590.0,643.3 590.1,661.7 590.2,654.8 590.3,662.1 590.4,649.1 590.5,661.4 590.6,656.4 590.7,659.0 590.8,654.9 590.9,661.5 591.1,653.3 591.2,651.2 591.3,638.7 591.4,644.8 591.5,654.8 591.6,652.1 591.7,653.5 591.8,652.4 591.9,656.5 592.0,654.2 592.1,649.9 592.3,658.9 592.4,668.3 592.5,648.8 592.6,647.6 592.7,658.3 592.8,649.2 592.9,660.9 593.0,649.2 593.1,645.6 593.2,648.1 593.3,661.9 593.5,624.4 593.6,655.4 593.7,640.1 593.8,659.8 593.9,657.3 594.0,658.2 594.1,685.1 594.2,653.4 594.3,670.6 594.4,657.5 594.6,660.8 594.7,648.8 594.8,661.1 594.9,648.6 595.0,662.6 595.1,659.5 595.2,653.6 595.3,657.2 595.4,656.4 595.5,654.3 595.6,670.3 595.8,647.8 595.9,644.4 596.0,644.7 596.1,652.4 596.2,654.3 596.3,658.5 596.4,659.9 596.5,654.9 596.6,657.3 596.7,640.6 596.8,659.5 597.0,662.2 597.1,652.6 597.2,657.7 597.3,648.0 597.4,652.3 597.5,652.8 597.6,657.6 597.7,641.6 597.8,651.4 597.9,656.3 598.0,652.5 598.2,654.4 598.3,632.9 598.4,643.8 598.5,646.3 598.6,644.7 598.7,634.4 598.8,656.8 598.9,651.5 599.0,636.5 599.1,646.0 599.2,650.2 599.4,655.7 599.5,654.2 599.6,642.8 599.7,640.9 599.8,651.8 599.9,656.7 600.0,647.1 600.1,645.4 600.2,653.9 600.3,650.9 600.5,659.1 600.6,653.5 600.7,656.7 600.8,637.0 600.9,641.3 601.0,639.8 601.1,645.8 601.2,652.8 601.3,649.0 601.4,655.2 601.5,647.0 601.7,659.1 601.8,658.3 601.9,640.1 602.0,636.2 602.1,647.6 602.2,657.5 602.3,663.4 602.4,678.1 602.5,641.1 602.6,655.0 602.7,651.9 602.9,649.5 603.0,650.3 603.1,638.0 603.2,654.7 603.3,650.9 603.4,644.6 603.5,662.3 603.6,648.3 603.7,653.9 603.8,647.2 603.9,641.2 604.1,648.8 604.2,653.7 604.3,644.1 604.4,654.2 604.5,662.7 604.6,659.5 604.7,649.9 604.8,640.4 604.9,658.5 605.0,642.7 605.2,644.9 605.3,663.3 605.4,654.2 605.5,654.8 605.6,650.0 605.7,671.4 605.8,673.1 605.9,651.0 606.0,657.8 606.1,650.4 606.2,655.8 606.4,672.9 606.5,660.4 606.6,650.6 606.7,654.8 606.8,671.8 606.9,659.3 607.0,661.6 607.1,660.6 607.2,650.5 607.3,644.1 607.4,644.9 607.6,640.4 607.7,644.3 607.8,645.2 607.9,662.1 608.0,639.0 608.1,653.3 608.2,637.5 608.3,668.5 608.4,646.8 608.5,651.7 608.6,662.0 608.8,648.3 608.9,650.4 609.0,650.4 609.1,653.2 609.2,645.6 609.3,660.7 609.4,667.4 609.5,649.9 609.6,657.6 609.7,648.9 609.8,645.9 610.0,648.4 610.1,652.5 610.2,638.0 610.3,646.5 610.4,652.3 610.5,641.7 610.6,651.5 610.7,641.6 610.8,651.5 610.9,649.3 611.1,653.0 611.2,645.2 611.3,620.3 611.4,631.6 611.5,675.6 611.6,639.5 611.7,643.8 611.8,638.2 611.9,658.8 612.0,654.0 612.1,655.4 612.3,641.3 612.4,656.1 612.5,643.8 612.6,657.1 612.7,648.2 612.8,632.7 612.9,647.8 613.0,643.0 613.1,665.5 613.2,639.1 613.3,646.3 613.5,646.0 613.6,642.2 613.7,643.2 613.8,648.0 613.9,649.5 614.0,643.6 614.1,642.5 614.2,646.1 614.3,630.5 614.4,643.6 614.5,645.5 614.7,652.8 614.8,656.8 614.9,649.7 615.0,653.3 615.1,642.3 615.2,655.5 615.3,644.6 615.4,645.6 615.5,643.4 615.6,650.9 615.8,641.5 615.9,649.4 616.0,642.8 616.1,641.9 616.2,648.6 616.3,640.1 616.4,654.5 616.5,640.7 616.6,642.0 616.7,654.3 616.8,635.8 617.0,652.6 617.1,646.0 617.2,646.0 617.3,645.9 617.4,637.5 617.5,655.3 617.6,646.8 617.7,647.6 617.8,648.7 617.9,649.6 618.0,644.7 618.2,634.8 618.3,631.0 618.4,630.0 618.5,635.7 618.6,645.7 618.7,628.5 618.8,634.7 618.9,640.8 619.0,634.2 619.1,634.3 619.2,627.5 619.4,635.4 619.5,629.6 619.6,628.9 619.7,630.3 619.8,634.6 619.9,638.4 620.0,622.3 620.1,633.1 620.2,620.7 620.3,613.9 620.4,622.8 620.6,626.1 620.7,623.5 620.8,627.6 620.9,605.1 621.0,627.9 621.1,627.9 621.2,617.7 621.3,597.9 621.4,611.0 621.5,600.8 621.7,597.1 621.8,596.3 621.9,580.9 622.0,595.9 622.1,590.0 622.2,581.8 622.3,579.8 622.4,547.4 622.5,551.2 622.6,541.9 622.7,524.3 622.9,530.9 623.0,533.7 623.1,493.0 623.2,493.1 623.3,476.0 623.4,461.6 623.5,447.5 623.6,435.1 623.7,404.6 623.8,395.0 623.9,390.2 624.1,362.0 624.2,344.2 624.3,315.9 624.4,308.1 624.5,289.4 624.6,268.0 624.7,262.1 624.8,218.9 624.9,212.6 625.0,183.6 625.1,168.8 625.3,149.0 625.4,145.1 625.5,128.3 625.6,115.2 625.7,107.3 625.8,91.7 625.9,92.1 626.0,92.4 626.1,88.6 626.2,92.2 626.4,90.3 626.5,104.1 626.6,111.1 626.7,123.8 626.8,141.6 626.9,150.4 627.0,163.2 627.1,184.0 627.2,195.3 627.3,233.3 627.4,236.8 627.6,255.7 627.7,277.1 627.8,287.3 627.9,312.6 628.0,331.2 628.1,363.5 628.2,377.7 628.3,398.1 628.4,403.0 628.5,421.2 628.6,442.7 628.8,437.3 628.9,457.7 629.0,490.9 629.1,497.7 629.2,506.6 629.3,499.2 629.4,520.4 629.5,530.1 629.6,537.1 629.7,553.7 629.8,551.1 630.0,555.8 630.1,587.3 630.2,581.1 630.3,574.2 630.4,604.5 630.5,596.4 630.6,598.8 630.7,579.2 630.8,615.7 630.9,608.9 631.0,619.3 631.2,624.8 631.3,605.0 631.4,630.5 631.5,624.3 631.6,619.9 631.7,603.7 631.8,636.6 631.9,626.7 632.0,629.9 632.1,617.5 632.3,632.2 632.4,633.1 632.5,640.2 632.6,623.8 632.7,615.5 632.8,627.1 632.9,625.0 633.0,634.6 633.1,632.5 633.2,636.0 633.3,654.8 633.5,648.1 633.6,637.8 633.7,627.2 633.8,638.8 633.9,638.6 634.0,639.6 634.1,639.6 634.2,640.5 634.3,626.0 634.4,648.1 634.5,644.7 634.7,643.4 634.8,640.4 634.9,647.3 635.0,629.4 635.1,640.8 635.2,646.2 635.3,639.5 635.4,642.0 635.5,649.7 635.6,641.4 635.7,637.3 635.9,635.9 636.0,647.1 636.1,628.0 636.2,644.8 636.3,641.8 636.4,644.7 636.5,655.0 636.6,649.6 636.7,644.1 636.8,645.4 637.0,649.7 637.1,638.4 637.2,644.7 637.3,636.7 637.4,652.8 637.5,644.7 637.6,636.6 637.7,637.8 637.8,650.2 637.9,647.8 638.0,634.6 638.2,657.7 638.3,647.3 638.4,648.5 638.5,643.2 638.6,640.3 638.7,636.2 638.8,647.7 638.9,646.5 639.0,642.0 639.1,651.8 639.2,648.8 639.4,640.7 639.5,645.4 639.6,656.3 639.7,639.5 639.8,662.6 639.9,644.6 640.0,665.7 640.1,651.1 640.2,637.7 640.3,651.4 640.4,649.2 640.6,645.4 640.7,648.6 640.8,648.6 640.9,600.6 641.0,653.7 641.1,644.3 641.2,649.1 641.3,654.0 641.4,648.7 641.5,640.4 641.6,655.3 641.8,648.1 641.9,651.9 642.0,645.1 642.1,649.0 642.2,643.6 642.3,660.7 642.4,643.6 642.5,657.4 642.6,638.8 642.7,653.1 642.9,649.9 643.0,658.6 643.1,653.5 643.2,667.5 643.3,672.0 643.4,648.8 643.5,657.6 643.6,647.3 643.7,647.0 643.8,652.7 643.9,658.6 644.1,663.2 644.2,653.1 644.3,661.9 644.4,646.2 644.5,647.6 644.6,652.9 644.7,641.7 644.8,661.6 644.9,651.7 645.0,650.1 645.1,655.1 645.3,643.9 645.4,651.4 645.5,642.0 645.6,651.8 645.7,654.1 645.8,664.1 645.9,653.4 646.0,661.7 646.1,652.5 646.2,641.3 646.3,656.8 646.5,650.9 646.6,646.0 646.7,655.6 646.8,643.1 646.9,647.0 647.0,654.5 647.1,655.8 647.2,645.0 647.3,651.7 647.4,650.7 647.6,654.8 647.7,648.8 647.8,635.9 647.9,648.6 648.0,661.7 648.1,646.1 648.2,650.2 648.3,656.8 648.4,647.5 648.5,634.9 648.6,650.8 648.8,649.9 648.9,645.0 649.0,649.8 649.1,641.1 649.2,627.7 649.3,644.1 649.4,650.2 649.5,651.1 649.6,647.6 649.7,659.1 649.8,655.5 650.0,652.0 650.1,659.8 650.2,661.1 650.3,656.3 650.4,648.5 650.5,657.6 650.6,660.1 650.7,655.3 650.8,652.3 650.9,654.4 651.0,655.8 651.2,640.1 651.3,662.3 651.4,652.5 651.5,665.9 651.6,653.8 651.7,647.2 651.8,658.2 651.9,652.5 652.0,657.3 652.1,648.1 652.2,648.5 652.4,647.4 652.5,642.1 652.6,655.1 652.7,644.4 652.8,654.1 652.9,660.5 653.0,647.1 653.1,650.4 653.2,648.6 653.3,651.4 653.5,654.3 653.6,658.5 653.7,666.8 653.8,643.5 653.9,657.6 654.0,649.1 654.1,645.5 654.2,646.3 654.3,640.2 654.4,653.4 654.5,641.4 654.7,654.4 654.8,670.5 654.9,647.0 655.0,638.7 655.1,657.8 655.2,644.7 655.3,651.2 655.4,651.9 655.5,652.6 655.6,666.6 655.7,653.0 655.9,652.8 656.0,650.3 656.1,645.9 656.2,646.0 656.3,644.0 656.4,657.3 656.5,650.5 656.6,655.2 656.7,653.0 656.8,665.7 656.9,650.1 657.1,655.6 657.2,647.5 657.3,659.0 657.4,650.8 657.5,652.3 657.6,643.2 657.7,656.4 657.8,663.3 657.9,660.9 658.0,644.8 658.2,657.7 658.3,647.0 658.4,640.5 658.5,642.9 658.6,670.4 658.7,649.8 658.8,644.5 658.9,655.4 659.0,655.9 659.1,652.1 659.2,657.3 659.4,650.9 659.5,662.7 659.6,659.9 659.7,654.5 659.8,658.2 659.9,662.2 660.0,655.7 660.1,659.4 660.2,656.2 660.3,655.1 660.4,643.6 660.6,648.1 660.7,649.7 660.8,656.8 660.9,674.3 661.0,649.8 661.1,653.5 661.2,647.3 661.3,653.4 661.4,655.6 661.5,661.9 661.6,648.6 661.8,661.0 661.9,659.4 662.0,655.6 662.1,639.4 662.2,651.3 662.3,656.8 662.4,661.7 662.5,656.7 662.6,652.4 662.7,659.5 662.8,649.7 663.0,661.1 663.1,675.7 663.2,652.0 663.3,662.5 663.4,648.9 663.5,656.6 663.6,659.1 663.7,665.0 663.8,657.1 663.9,677.1 664.1,648.2 664.2,655.4 664.3,657.1 664.4,657.9 664.5,656.5 664.6,684.6 664.7,654.2 664.8,663.7 664.9,659.8 665.0,670.8 665.1,655.7 665.3,662.2 665.4,660.5 665.5,634.9 665.6,662.7 665.7,663.5 665.8,667.3 665.9,650.6 666.0,656.7 666.1,666.2 666.2,649.8 666.3,652.9 666.5,662.3 666.6,662.7 666.7,678.4 666.8,664.8 666.9,658.4 667.0,649.9 667.1,652.9 667.2,657.7 667.3,660.7 667.4,659.7 667.5,663.9 667.7,653.4 667.8,655.7 667.9,650.1 668.0,671.7 668.1,658.0 668.2,674.9 668.3,668.7 668.4,662.6 668.5,658.7 668.6,656.2 668.8,658.0 668.9,634.8 669.0,655.3 669.1,664.5 669.2,662.4 669.3,666.0 669.4,665.8 669.5,664.9 669.6,660.8 669.7,661.5 669.8,666.7 670.0,658.0 670.1,651.6 670.2,666.4 670.3,660.9 670.4,667.7 670.5,655.9 670.6,648.5 670.7,658.8 670.8,655.1 670.9,652.6 671.0,669.5 671.2,661.0 671.3,650.6 671.4,647.1 671.5,657.4 671.6,662.0 671.7,659.8 671.8,666.3 671.9,660.8 672.0,661.3 672.1,645.0 672.2,665.7 672.4,653.6 672.5,662.8 672.6,645.7 672.7,650.2 672.8,673.6 672.9,647.2 673.0,657.1 673.1,653.1 673.2,667.5 673.3,658.0 673.4,663.5 673.6,655.1 673.7,643.8 673.8,668.7 673.9,650.7 674.0,655.9 674.1,654.2 674.2,643.7 674.3,658.7 674.4,651.2 674.5,642.3 674.7,644.4 674.8,638.9 674.9,648.7 675.0,652.8 675.1,647.6 675.2,653.4 675.3,651.0 675.4,657.4 675.5,654.6 675.6,653.1 675.7,649.1 675.9,646.8 676.0,648.7 676.1,657.4 676.2,651.9 676.3,676.1 676.4,660.2 676.5,635.1 676.6,657.6 676.7,663.1 676.8,650.3 676.9,662.8 677.1,649.9 677.2,665.2 677.3,658.6 677.4,653.2 677.5,643.7 677.6,653.4 677.7,643.8 677.8,657.2 677.9,649.2 678.0,658.6 678.1,652.4 678.3,659.1 678.4,660.4 678.5,655.6 678.6,657.1 678.7,660.3 678.8,647.1 678.9,657.2 679.0,655.2 679.1,664.7 679.2,652.8 679.4,661.9 679.5,643.6 679.6,663.3 679.7,657.8 679.8,657.2 679.9,660.5 680.0,645.3 680.1,652.3 680.2,654.6 680.3,652.2 680.4,651.0 680.6,660.5 680.7,654.2 680.8,652.0 680.9,654.6 681.0,662.7 681.1,666.8 681.2,661.8 681.3,657.7 681.4,645.4 681.5,650.9 681.6,648.1 681.8,647.6 681.9,662.1 682.0,650.0 682.1,663.6 682.2,654.8 682.3,653.2 682.4,652.8 682.5,644.3 682.6,651.4 682.7,660.2 682.8,658.7 683.0,655.6 683.1,659.5 683.2,656.9 683.3,658.4 683.4,692.5 683.5,658.2 683.6,645.4 683.7,642.9 683.8,652.5 683.9,660.7 684.0,671.8 684.2,656.9 684.3,657.9 684.4,660.2 684.5,649.6 684.6,655.8 684.7,658.6 684.8,654.2 684.9,651.4 685.0,660.4 685.1,663.9 685.3,656.9 685.4,640.8 685.5,651.1 685.6,653.7 685.7,659.5 685.8,653.0 685.9,653.5 686.0,663.5 686.1,665.4 686.2,657.2 686.3,649.9 686.5,649.2 686.6,661.7 686.7,652.0 686.8,656.9 686.9,655.6 687.0,658.1 687.1,659.3 687.2,649.9 687.3,652.0 687.4,656.6 687.5,655.5 687.7,635.7 687.8,669.0 687.9,647.4 688.0,663.7 688.1,645.8 688.2,663.6 688.3,644.8 688.4,663.2 688.5,658.2 688.6,661.5 688.7,650.4 688.9,657.4 689.0,657.1 689.1,656.1 689.2,651.6 689.3,664.3 689.4,642.8 689.5,644.5 689.6,645.0 689.7,665.1 689.8,649.6 690.0,650.6 690.1,650.1 690.2,653.0 690.3,652.9 690.4,651.6 690.5,644.6 690.6,657.2 690.7,653.9 690.8,664.4 690.9,657.1 691.0,653.3 691.2,644.8 691.3,655.7 691.4,659.0 691.5,666.5 691.6,657.8 691.7,660.3 691.8,658.5 691.9,664.5 692.0,661.2 692.1,654.2 692.2,643.7 692.4,664.6 692.5,654.4 692.6,648.8 692.7,644.4 692.8,627.9 692.9,655.8 693.0,653.4 693.1,656.9 693.2,662.2 693.3,650.0 693.4,655.5 693.6,649.6 693.7,647.0 693.8,638.1 693.9,648.0 694.0,660.4 694.1,649.3 694.2,655.5 694.3,654.0 694.4,666.2 694.5,662.2 694.6,647.8 694.8,649.6 694.9,659.6 695.0,653.5 695.1,653.0 695.2,659.9 695.3,655.5 695.4,652.7 695.5,672.5 695.6,654.6 695.7,643.2 695.9,654.5 696.0,653.8 696.1,663.1 696.2,654.6 696.3,648.4 696.4,654.3 696.5,643.9 696.6,649.4 696.7,654.3 696.8,646.0 696.9,638.7 697.1,645.1 697.2,646.7 697.3,656.1 697.4,648.5 697.5,650.8 697.6,645.7 697.7,652.6 697.8,648.1 697.9,655.3 698.0,653.3 698.1,661.6 698.3,655.6 698.4,649.9 698.5,646.0 698.6,653.0 698.7,656.5 698.8,662.5 698.9,648.2 699.0,643.0 699.1,638.9 699.2,644.5 699.3,650.2 699.5,650.3 699.6,649.5 699.7,651.4 699.8,654.0 699.9,640.7 700.0,653.3 700.1,651.7 700.2,650.9 700.3,648.6 700.4,638.5 700.6,654.1 700.7,647.6 700.8,650.0 700.9,652.7 701.0,650.6 701.1,653.1 701.2,653.9 701.3,645.6 701.4,644.1 701.5,662.5 701.6,646.2 701.8,682.7 701.9,634.9 702.0,653.3 702.1,651.8 702.2,653.8 702.3,645.8 702.4,653.8 702.5,664.3 702.6,647.6 702.7,636.1 702.8,659.1 703.0,653.1 703.1,654.8 703.2,645.3 703.3,653.6 703.4,656.4 703.5,646.9 703.6,650.7 703.7,653.7 703.8,655.4 703.9,648.8 704.0,651.2 704.2,663.4 704.3,664.4 704.4,644.8 704.5,667.0 704.6,649.9 704.7,659.4 704.8,644.1 704.9,651.0 705.0,647.9 705.1,657.6 705.2,653.3 705.4,654.8 705.5,654.5 705.6,652.1 705.7,657.0 705.8,652.0 705.9,650.8 706.0,647.5 706.1,645.1 706.2,642.5 706.3,655.5 706.5,657.5 706.6,649.7 706.7,678.9 706.8,657.9 706.9,650.0 707.0,653.1 707.1,650.9 707.2,638.9 707.3,656.7 707.4,652.4 707.5,624.6 707.7,656.0 707.8,645.7 707.9,647.3 708.0,637.5 708.1,648.1 708.2,651.5 708.3,644.6 708.4,646.9 708.5,633.6 708.6,649.5 708.7,644.8 708.9,644.4 709.0,649.8 709.1,651.7 709.2,643.8 709.3,649.9 709.4,655.6 709.5,635.2 709.6,643.0 709.7,631.0 709.8,645.3 709.9,650.0 710.1,636.3 710.2,630.7 710.3,635.1 710.4,640.9 710.5,627.2 710.6,626.3 710.7,638.5 710.8,624.9 710.9,634.2 711.0,625.3 711.2,620.9 711.3,636.6 711.4,637.6 711.5,623.0 711.6,643.7 711.7,627.1 711.8,628.5 711.9,623.1 712.0,612.3 712.1,626.4 712.2,618.4 712.4,622.1 712.5,614.8 712.6,609.0 712.7,628.1 712.8,612.6 712.9,606.0 713.0,612.0 713.1,596.6 713.2,607.9 713.3,624.9 713.4,598.8 713.6,606.2 713.7,592.9 713.8,601.6 713.9,608.1 714.0,591.5 714.1,591.7 714.2,607.4 714.3,598.8 714.4,605.7 714.5,598.3 714.6,582.1 714.8,577.4 714.9,573.5 715.0,591.1 715.1,575.5 715.2,572.0 715.3,582.0 715.4,586.0 715.5,590.8 715.6,577.2 715.7,604.7 715.8,589.8 716.0,602.3 716.1,604.1 716.2,600.2 716.3,614.8 716.4,617.7 716.5,627.0 716.6,636.0 716.7,639.9 716.8,633.6 716.9,633.4 717.1,628.0 717.2,621.5 717.3,636.6 717.4,630.3 717.5,633.6 717.6,632.9 717.7,640.3 717.8,635.2 717.9,655.4 718.0,645.5 718.1,637.0 718.3,643.7 718.4,651.0 718.5,633.3 718.6,643.7 718.7,634.4 718.8,643.8 718.9,640.4 719.0,646.0 719.1,647.8 719.2,649.3 719.3,635.7 719.5,650.8 719.6,645.4 719.7,640.8 719.8,645.0 719.9,656.0 720.0,644.4 720.1,632.2 720.2,650.9 720.3,645.7 720.4,651.9 720.5,649.2 720.7,657.1 720.8,642.6 720.9,644.1 721.0,654.7 721.1,658.7 721.2,648.1 721.3,655.6 721.4,650.8 721.5,647.6 721.6,637.1 721.8,663.1 721.9,657.3 722.0,634.3 722.1,655.6 722.2,646.5 722.3,643.2 722.4,646.5 722.5,656.4 722.6,651.0 722.7,650.1 722.8,649.3 723.0,647.4 723.1,653.6 723.2,636.4 723.3,640.8 723.4,648.5 723.5,641.3 723.6,650.8 723.7,646.3 723.8,652.0 723.9,647.9 724.0,653.3 724.2,649.3 724.3,660.0 724.4,646.6 724.5,638.2 724.6,650.6 724.7,650.9 724.8,647.4 724.9,658.8 725.0,655.0 725.1,661.2 725.2,648.9 725.4,648.6 725.5,655.2 725.6,662.1 725.7,647.4 725.8,659.5 725.9,651.5 726.0,649.4 726.1,658.2 726.2,657.8 726.3,656.1 726.4,648.0 726.6,652.1 726.7,627.9 726.8,656.2 726.9,644.2 727.0,650.8 727.1,658.2 727.2,651.1 727.3,654.3 727.4,649.7 727.5,672.2 727.7,647.1 727.8,651.9 727.9,654.7 728.0,673.6 728.1,647.9 728.2,657.3 728.3,660.2 728.4,640.8 728.5,660.9 728.6,657.7 728.7,666.7 728.9,666.6 729.0,659.5 729.1,663.7 729.2,651.6 729.3,648.5 729.4,653.8 729.5,656.7 729.6,651.6 729.7,662.9 729.8,659.7 729.9,667.7 730.1,654.4 730.2,652.3 730.3,658.7 730.4,657.2 730.5,659.4 730.6,667.1 730.7,644.7 730.8,660.1 730.9,664.5 731.0,663.9 731.1,644.7 731.3,652.2 731.4,664.5 731.5,655.8 731.6,658.7 731.7,655.2 731.8,665.0 731.9,657.2 732.0,653.5 732.1,656.7 732.2,665.2 732.4,658.0 732.5,644.7 732.6,641.7 732.7,660.4 732.8,644.8 732.9,656.2 733.0,650.9 733.1,657.1 733.2,650.4 733.3,640.0 733.4,665.7 733.6,655.8 733.7,655.7 733.8,667.6 733.9,661.5 734.0,664.1 734.1,654.7 734.2,656.4 734.3,662.3 734.4,650.9 734.5,660.5 734.6,657.3 734.8,652.5 734.9,652.1 735.0,661.2 735.1,653.4 735.2,657.1 735.3,656.0 735.4,651.8 735.5,632.7 735.6,656.3 735.7,659.0 735.8,649.7 736.0,649.7 736.1,660.3 736.2,646.3 736.3,663.0 736.4,658.3 736.5,663.8 736.6,654.1 736.7,654.9 736.8,656.1 736.9,644.4 737.0,648.7 737.2,661.0 737.3,648.6 737.4,646.0 737.5,654.2 737.6,661.6 737.7,652.7 737.8,651.0 737.9,653.3 738.0,656.0 738.1,641.7 738.3,654.8 738.4,655.2 738.5,659.7 738.6,659.6 738.7,656.1 738.8,665.2 738.9,651.3 739.0,650.3 739.1,662.1 739.2,651.7 739.3,646.8 739.5,646.9 739.6,650.9 739.7,641.9 739.8,658.2 739.9,653.3 740.0,659.2 740.1,643.4 740.2,647.6 740.3,644.6 740.4,652.5 740.5,651.6 740.7,653.7 740.8,652.6 740.9,641.3 741.0,650.5 741.1,649.4 741.2,648.5 741.3,651.4 741.4,634.6 741.5,642.7 741.6,645.6 741.7,641.6 741.9,639.6 742.0,654.2 742.1,654.0 742.2,660.4 742.3,642.5 742.4,632.5 742.5,651.6 742.6,644.6 742.7,639.4 742.8,649.8 743.0,645.4 743.1,634.9 743.2,647.3 743.3,635.7 743.4,650.7 743.5,637.9 743.6,635.3 743.7,650.2 743.8,651.2 743.9,641.6 744.0,634.3 744.2,646.0 744.3,642.3 744.4,642.2 744.5,637.5 744.6,629.5 744.7,635.7 744.8,648.3 744.9,632.9 745.0,635.6 745.1,634.9 745.2,640.9 745.4,634.2 745.5,628.5 745.6,643.6 745.7,630.3 745.8,629.5 745.9,620.7 746.0,612.8 746.1,625.1 746.2,617.8 746.3,621.6 746.4,600.8 746.6,628.6 746.7,615.1 746.8,618.8 746.9,602.4 747.0,609.7 747.1,607.6 747.2,613.2 747.3,607.9 747.4,583.6 747.5,596.9 747.6,594.0 747.8,587.3 747.9,588.7 748.0,588.4 748.1,589.0 748.2,568.6 748.3,567.2 748.4,570.1 748.5,571.1 748.6,553.8 748.7,556.3 748.9,542.5 749.0,550.1 749.1,545.6 749.2,553.7 749.3,555.6 749.4,537.0 749.5,547.6 749.6,533.1 749.7,550.6 749.8,565.3 749.9,541.8 750.1,552.9 750.2,534.9 750.3,566.6 750.4,584.2 750.5,561.8 750.6,577.9 750.7,586.0 750.8,571.5 750.9,581.9 751.0,569.1 751.1,582.1 751.3,589.3 751.4,598.7 751.5,596.8 751.6,596.9 751.7,598.0 751.8,610.1 751.9,607.7 752.0,608.2 752.1,592.2 752.2,606.6 752.3,602.2 752.5,625.5 752.6,619.8 752.7,628.1 752.8,611.9 752.9,609.1 753.0,616.0 753.1,628.4 753.2,620.4 753.3,632.9 753.4,639.4 753.6,628.4 753.7,639.6 753.8,617.6 753.9,625.2 754.0,631.4 754.1,631.7 754.2,627.9 754.3,637.2 754.4,648.1 754.5,647.0 754.6,644.3 754.8,634.7 754.9,651.3 755.0,646.8 755.1,635.8 755.2,650.0 755.3,641.2 755.4,648.3 755.5,651.3 755.6,654.5 755.7,655.8 755.8,663.1 756.0,649.0 756.1,647.6 756.2,647.3 756.3,651.3 756.4,652.4 756.5,639.6 756.6,649.7 756.7,684.4 756.8,654.2 756.9,656.6 757.0,648.6 757.2,663.6 757.3,653.2 757.4,647.5 757.5,644.6 757.6,653.2 757.7,662.1 757.8,645.2 757.9,644.1 758.0,634.9 758.1,655.4 758.2,642.7 758.4,645.0 758.5,642.8 758.6,637.6 758.7,655.7 758.8,644.6 758.9,650.4 759.0,644.0 759.1,646.0 759.2,652.9 759.3,652.7 759.5,640.3 759.6,647.8 759.7,640.6 759.8,651.6 759.9,642.4 760.0,639.9 760.1,652.5 760.2,642.8 760.3,649.8 760.4,652.3 760.5,642.9 760.7,644.3 760.8,650.4 760.9,662.1 761.0,650.0 761.1,650.8 761.2,645.6 761.3,645.4 761.4,655.8 761.5,640.0 761.6,640.2 761.7,654.7 761.9,638.9 762.0,636.0 762.1,647.3 762.2,649.7 762.3,654.7 762.4,657.6 762.5,626.4 762.6,640.7 762.7,639.8 762.8,644.2 762.9,635.6 763.1,642.1 763.2,643.8 763.3,643.5 763.4,635.3 763.5,642.5 763.6,634.2 763.7,633.6 763.8,638.0 763.9,644.2 764.0,623.9 764.2,637.2 764.3,646.6 764.4,637.6 764.5,632.1 764.6,638.4 764.7,648.1 764.8,636.0 764.9,631.6 765.0,641.1 765.1,633.4 765.2,630.4 765.4,641.4 765.5,622.2 765.6,632.9 765.7,644.6 765.8,635.7 765.9,642.6 766.0,619.3 766.1,621.2 766.2,625.4 766.3,630.0 766.4,617.0 766.6,631.7 766.7,626.0 766.8,621.2 766.9,628.8 767.0,623.6 767.1,618.3 767.2,625.4 767.3,617.6 767.4,635.7 767.5,618.9 767.6,624.2 767.8,616.2 767.9,626.8 768.0,628.2 768.1,625.6 768.2,618.6 768.3,634.3 768.4,626.7 768.5,613.2 768.6,610.4 768.7,618.6 768.8,618.6 769.0,615.1 769.1,620.2 769.2,632.9 769.3,637.1 769.4,630.3 769.5,631.1 769.6,637.7 769.7,645.2 769.8,637.9 769.9,633.8 770.1,628.9 770.2,623.2 770.3,633.9 770.4,640.3 770.5,633.7 770.6,628.1 770.7,636.9 770.8,633.3 770.9,630.2 771.0,620.4 771.1,638.3 771.3,629.7 771.4,643.3 771.5,630.8 771.6,637.7 771.7,632.6 771.8,649.3 771.9,646.6 772.0,637.6 772.1,648.5 772.2,629.4 772.3,647.8 772.5,634.1 772.6,637.2 772.7,631.4 772.8,643.0 772.9,625.7 773.0,635.1 773.1,648.2 773.2,622.1 773.3,636.9 773.4,628.7 773.5,619.9 773.7,641.8 773.8,631.5 773.9,659.0 774.0,626.1 774.1,642.1 774.2,649.9 774.3,626.4 774.4,644.1 774.5,644.4 774.6,641.1 774.8,661.2 774.9,644.2 775.0,634.4 775.1,634.0 775.2,639.0 775.3,665.1 775.4,639.3 775.5,653.8 775.6,638.4 775.7,644.0 775.8,643.4 776.0,648.2 776.1,652.0 776.2,635.7 776.3,631.6 776.4,638.2 776.5,638.1 776.6,640.1 776.7,644.8 776.8,631.2 776.9,637.1 777.0,637.6 777.2,644.1 777.3,632.0 777.4,643.3 777.5,648.1 777.6,631.9 777.7,642.9 777.8,635.5 777.9,629.9 778.0,644.5 778.1,638.3 778.2,625.6 778.4,631.1 778.5,621.1 778.6,615.1 778.7,632.1 778.8,622.8 778.9,633.8 779.0,621.1 779.1,623.5 779.2,615.6 779.3,615.7 779.4,605.9 779.6,608.4 779.7,594.2 779.8,590.6 779.9,591.8 780.0,595.0 780.1,596.1 780.2,593.3 780.3,600.6 780.4,607.7 780.5,564.8 780.7,592.3 780.8,584.2 780.9,568.0 781.0,569.4 781.1,548.0 781.2,558.6 781.3,569.3 781.4,541.5 781.5,541.6 781.6,542.7 781.7,541.6 781.9,531.2 782.0,521.4 782.1,526.9 782.2,511.8 782.3,531.8 782.4,516.7 782.5,502.1 782.6,489.3 782.7,486.1 782.8,479.1 782.9,474.7 783.1,479.2 783.2,461.1 783.3,467.8 783.4,462.2 783.5,451.9 783.6,467.6 783.7,460.4 783.8,459.8 783.9,453.9 784.0,455.1 784.1,463.3 784.3,454.8 784.4,473.1 784.5,465.3 784.6,478.4 784.7,488.2 784.8,485.6 784.9,487.6 785.0,491.4 785.1,502.5 785.2,496.1 785.4,508.9 785.5,521.1 785.6,501.7 785.7,515.2 785.8,527.6 785.9,520.5 786.0,524.8 786.1,526.6 786.2,547.5 786.3,526.1 786.4,545.6 786.6,547.6 786.7,552.4 786.8,541.3 786.9,559.2 787.0,556.9 787.1,556.5 787.2,586.7 787.3,586.0 787.4,561.4 787.5,566.6 787.6,578.7 787.8,587.6 787.9,576.6 788.0,585.2 788.1,583.1 788.2,593.0 788.3,581.2 788.4,581.8 788.5,591.4 788.6,592.7 788.7,592.6 788.8,602.3 789.0,600.2 789.1,597.6 789.2,588.9 789.3,604.7 789.4,607.1 789.5,590.5 789.6,601.7 789.7,585.4 789.8,606.5 789.9,602.6 790.0,594.8 790.2,609.6 790.3,608.3 790.4,609.4 790.5,621.1 790.6,622.7 790.7,621.9 790.8,614.2 790.9,627.5 791.0,606.6 791.1,625.7 791.3,610.0 791.4,623.4 791.5,615.2 791.6,613.2 791.7,629.3 791.8,626.1 791.9,633.1 792.0,626.6 792.1,628.6 792.2,628.0 792.3,627.4 792.5,630.0 792.6,645.9 792.7,614.1 792.8,618.9 792.9,616.3 793.0,626.4 793.1,635.7 793.2,640.1 793.3,640.3 793.4,630.9 793.5,638.1 793.7,646.2 793.8,643.5 793.9,642.4 794.0,627.0 794.1,640.4 794.2,640.2 794.3,627.2 794.4,637.1 794.5,641.4 794.6,630.7 794.7,642.8 794.9,643.4 795.0,639.5 795.1,637.6 795.2,637.5 795.3,641.5 795.4,647.3 795.5,629.9 795.6,640.1 795.7,640.2 795.8,633.2 796.0,630.3 796.1,638.2 796.2,628.1 796.3,641.9 796.4,638.5 796.5,632.6 796.6,640.7 796.7,634.7 796.8,635.8 796.9,649.1 797.0,636.1 797.2,623.2 797.3,642.7 797.4,633.9 797.5,634.5 797.6,651.0 797.7,639.9 797.8,646.1 797.9,631.1 798.0,633.7 798.1,634.7 798.2,645.6 798.4,636.4 798.5,627.7 798.6,646.0 798.7,637.2 798.8,640.8 798.9,645.1 799.0,654.5 799.1,639.2 799.2,649.5 799.3,629.0 799.4,639.0 799.6,639.6 799.7,622.6 799.8,630.8 799.9,633.0 800.0,642.2 800.1,635.2 800.2,635.4 800.3,633.2 800.4,641.3 800.5,637.7 800.6,637.5 800.8,634.2 800.9,642.8 801.0,632.4 801.1,637.6 801.2,638.0 801.3,640.2 801.4,645.6 801.5,640.3 801.6,629.3 801.7,646.3 801.9,657.9 802.0,648.2 802.1,645.3 802.2,628.4 802.3,638.1 802.4,643.8 802.5,643.3 802.6,636.5 802.7,637.8 802.8,628.9 802.9,638.9 803.1,604.0 803.2,632.2 803.3,641.0 803.4,625.0 803.5,642.2 803.6,646.1 803.7,634.9 803.8,626.7 803.9,626.3 804.0,621.1 804.1,634.4 804.3,620.9 804.4,630.1 804.5,620.9 804.6,632.4 804.7,618.1 804.8,626.0 804.9,621.8 805.0,634.0 805.1,622.7 805.2,623.3 805.3,644.4 805.5,616.2 805.6,614.5 805.7,621.8 805.8,605.2 805.9,633.7 806.0,622.0 806.1,622.0 806.2,617.1 806.3,594.8 806.4,626.5 806.6,615.7 806.7,583.5 806.8,607.1 806.9,613.8 807.0,621.8 807.1,613.7 807.2,612.9 807.3,611.4 807.4,600.6 807.5,600.9 807.6,604.8 807.8,592.9 807.9,602.5 808.0,606.4 808.1,582.1 808.2,597.4 808.3,596.1 808.4,597.6 808.5,609.5 808.6,584.0 808.7,609.0 808.8,597.9 809.0,611.3 809.1,588.3 809.2,592.0 809.3,587.4 809.4,590.6 809.5,578.3 809.6,578.0 809.7,582.1 809.8,587.1 809.9,570.4 810.0,576.9 810.2,573.6 810.3,579.9 810.4,582.8 810.5,562.9 810.6,565.7 810.7,570.1 810.8,563.1 810.9,581.6 811.0,581.9 811.1,580.6 811.2,570.6 811.4,556.3 811.5,557.3 811.6,567.9 811.7,576.8 811.8,561.3 811.9,566.3 812.0,576.5 812.1,576.7 812.2,553.6 812.3,563.8 812.5,567.3 812.6,546.9 812.7,556.3 812.8,562.6 812.9,554.9 813.0,562.9 813.1,556.0 813.2,545.0 813.3,548.6 813.4,541.9 813.5,548.9 813.7,565.3 813.8,563.2 813.9,565.2 814.0,571.0 814.1,552.6 814.2,557.9 814.3,563.6 814.4,577.2 814.5,566.4 814.6,563.6 814.7,568.5 814.9,559.8 815.0,552.2 815.1,573.3 815.2,566.8 815.3,575.0 815.4,563.1 815.5,566.4 815.6,580.9 815.7,577.7 815.8,584.8 815.9,573.4 816.1,580.4 816.2,586.0 816.3,588.8 816.4,582.6 816.5,586.9 816.6,583.5 816.7,585.2 816.8,586.9 816.9,591.8 817.0,579.1 817.2,591.0 817.3,584.5 817.4,594.3 817.5,593.6 817.6,597.7 817.7,596.2 817.8,598.2 817.9,589.2 818.0,611.9 818.1,591.9 818.2,589.0 818.4,607.6 818.5,609.5 818.6,605.3 818.7,604.6 818.8,599.0 818.9,623.6 819.0,597.5 819.1,628.1 819.2,599.1 819.3,604.6 819.4,611.2 819.6,605.0 819.7,618.8 819.8,609.5 819.9,614.8 820.0,606.6 820.1,628.5 820.2,617.5 820.3,615.4 820.4,622.1 820.5,635.6 820.6,624.5 820.8,617.0 820.9,624.0 821.0,625.9 821.1,626.4 821.2,622.1 821.3,629.8 821.4,617.2 821.5,626.3 821.6,619.5 821.7,626.3 821.8,622.3 822.0,632.2 822.1,624.9 822.2,636.1 822.3,621.1 822.4,635.8 822.5,623.0 822.6,612.0 822.7,623.4 822.8,636.9 822.9,632.2 823.1,634.1 823.2,628.9 823.3,634.1 823.4,624.5 823.5,644.0 823.6,643.5 823.7,636.0 823.8,628.4 823.9,628.2 824.0,637.4 824.1,636.2 824.3,626.5 824.4,638.6 824.5,638.9 824.6,636.9 824.7,636.3 824.8,635.2 824.9,633.6 825.0,630.7 825.1,628.4 825.2,641.7 825.3,621.8 825.5,633.5 825.6,638.7 825.7,648.8 825.8,629.6 825.9,641.3 826.0,640.3 826.1,637.5 826.2,660.0 826.3,617.7 826.4,636.8 826.5,629.2 826.7,632.6 826.8,628.0 826.9,622.3 827.0,614.3 827.1,630.8 827.2,626.0 827.3,617.1 827.4,625.8 827.5,618.6 827.6,620.0 827.8,627.4 827.9,630.9 828.0,610.1 828.1,624.2 828.2,628.6 828.3,614.9 828.4,621.2 828.5,624.8 828.6,628.6 828.7,613.9 828.8,609.9 829.0,617.0 829.1,617.2 829.2,620.4 829.3,620.6 829.4,605.1 829.5,623.8 829.6,604.3 829.7,617.8 829.8,618.2 829.9,616.3 830.0,617.0 830.2,613.6 830.3,603.2 830.4,601.0 830.5,622.5 830.6,616.4 830.7,613.2 830.8,607.0 830.9,586.3 831.0,611.7 831.1,593.9 831.2,593.8 831.4,598.1 831.5,584.7 831.6,598.4 831.7,566.9 831.8,593.8 831.9,585.5 832.0,571.7 832.1,582.8 832.2,582.5 832.3,576.6 832.4,574.4 832.6,561.4 832.7,568.6 832.8,565.0 832.9,562.8 833.0,553.9 833.1,531.3 833.2,545.8 833.3,527.0 833.4,527.0 833.5,528.3 833.7,528.4 833.8,518.3 833.9,518.4 834.0,514.8 834.1,507.5 834.2,500.0 834.3,497.2 834.4,493.7 834.5,475.9 834.6,450.0 834.7,478.1 834.9,463.9 835.0,438.7 835.1,456.8 835.2,449.6 835.3,420.5 835.4,418.8 835.5,415.8 835.6,403.3 835.7,393.0 835.8,395.2 835.9,393.3 836.1,364.3 836.2,371.9 836.3,369.2 836.4,340.4 836.5,347.3 836.6,335.9 836.7,324.0 836.8,322.1 836.9,316.0 837.0,305.3 837.1,300.4 837.3,277.9 837.4,249.8 837.5,259.9 837.6,253.9 837.7,249.0 837.8,236.4 837.9,221.7 838.0,221.3 838.1,208.0 838.2,198.4 838.4,186.8 838.5,180.5 838.6,171.9 838.7,160.4 838.8,141.7 838.9,139.5 839.0,136.5 839.1,132.8 839.2,123.1 839.3,115.1 839.4,110.4 839.6,99.7 839.7,95.6 839.8,87.9 839.9,79.1 840.0,68.8 840.1,60.8 840.2,66.1 840.3,53.2 840.4,53.5 840.5,53.3 840.6,41.1 840.8,48.3 840.9,43.3 841.0,37.9 841.1,42.9 841.2,43.3 841.3,38.4 841.4,42.6 841.5,37.8 841.6,44.1 841.7,46.5 841.8,39.3 842.0,51.3 842.1,60.2 842.2,56.1 842.3,58.9 842.4,62.3 842.5,70.0 842.6,74.1 842.7,77.9 842.8,91.1 842.9,98.5 843.0,100.4 843.2,112.0 843.3,123.1 843.4,129.0 843.5,136.5 843.6,150.3 843.7,149.5 843.8,168.6 843.9,176.7 844.0,174.8 844.1,169.3 844.3,192.1 844.4,199.6 844.5,215.2 844.6,226.9 844.7,233.3 844.8,247.5 844.9,250.6 845.0,257.7 845.1,257.3 845.2,276.8 845.3,280.7 845.5,290.0 845.6,300.0 845.7,318.3 845.8,323.0 845.9,326.8 846.0,327.0 846.1,340.2 846.2,348.3 846.3,362.2 846.4,367.5 846.5,374.7 846.7,366.7 846.8,391.7 846.9,409.2 847.0,389.4 847.1,397.1 847.2,410.9 847.3,423.4 847.4,424.4 847.5,428.4 847.6,442.9 847.7,430.0 847.9,427.7 848.0,436.1 848.1,458.2 848.2,463.5 848.3,456.8 848.4,439.6 848.5,461.6 848.6,474.2 848.7,482.4 848.8,472.9 849.0,474.5 849.1,477.0 849.2,482.9 849.3,496.0 849.4,495.2 849.5,499.0 849.6,499.2 849.7,502.1 849.8,491.0 849.9,494.5 850.0,507.2 850.2,509.5 850.3,516.8 850.4,508.8 850.5,503.4 850.6,509.9 850.7,510.3 850.8,517.5 850.9,511.8 851.0,517.4 851.1,518.3 851.2,519.0 851.4,519.4 851.5,505.8 851.6,522.8 851.7,527.5 851.8,520.8 851.9,526.6 852.0,515.8 852.1,506.2 852.2,520.8 852.3,508.9 852.4,507.1 852.6,520.3 852.7,498.6 852.8,514.0 852.9,499.3 853.0,489.4 853.1,508.6 853.2,502.2 853.3,501.6 853.4,504.5 853.5,506.1 853.6,498.9 853.8,492.6 853.9,493.1 854.0,496.3 854.1,486.5 854.2,493.0 854.3,472.9 854.4,486.9 854.5,486.5 854.6,491.3 854.7,468.6 854.9,481.2 855.0,484.8 855.1,531.1 855.2,481.6 855.3,484.0 855.4,475.2 855.5,495.7 855.6,474.9 855.7,473.7 855.8,475.6 855.9,462.8 856.1,464.2 856.2,468.3 856.3,463.5 856.4,477.1 856.5,465.1 856.6,484.9 856.7,469.7 856.8,462.2 856.9,469.1 857.0,472.6 857.1,467.9 857.3,470.8 857.4,465.6 857.5,462.4 857.6,468.4 857.7,482.4 857.8,466.8 857.9,470.3 858.0,460.1 858.1,467.0 858.2,474.6 858.3,470.3 858.5,481.5 858.6,480.8 858.7,471.0 858.8,474.8 858.9,488.7 859.0,480.8 859.1,476.5 859.2,466.1 859.3,491.8 859.4,483.3 859.6,486.1 859.7,480.7 859.8,499.2 859.9,488.8 860.0,492.8 860.1,478.1 860.2,492.7 860.3,497.2 860.4,502.7 860.5,506.1 860.6,500.4 860.8,511.8 860.9,504.7 861.0,505.6 861.1,507.9 861.2,496.4 861.3,493.7 861.4,527.8 861.5,500.4 861.6,510.3 861.7,520.9 861.8,505.3 862.0,526.4 862.1,503.4 862.2,521.4 862.3,525.9 862.4,539.8 862.5,535.1 862.6,511.6 862.7,532.5 862.8,528.3 862.9,517.2 863.0,524.6 863.2,538.0 863.3,528.9 863.4,524.9 863.5,528.8 863.6,525.4 863.7,523.7 863.8,540.3 863.9,542.9 864.0,548.8 864.1,529.4 864.2,532.8 864.4,546.1 864.5,545.9 864.6,545.6 864.7,538.7 864.8,547.5 864.9,539.5 865.0,564.5 865.1,559.6 865.2,537.4 865.3,566.9 865.5,549.8 865.6,563.6 865.7,561.1 865.8,557.1 865.9,572.1 866.0,548.7 866.1,560.0 866.2,561.3 866.3,550.9 866.4,553.4 866.5,567.6 866.7,569.9 866.8,560.8 866.9,573.8 867.0,573.9 867.1,577.5 867.2,570.8 867.3,573.0 867.4,580.0 867.5,573.1 867.6,570.3 867.7,569.0 867.9,583.4 868.0,589.5 868.1,548.6 868.2,581.0 868.3,589.7 868.4,596.7 868.5,588.9 868.6,582.1 868.7,602.4 868.8,609.0 868.9,596.1 869.1,600.3 869.2,609.6 869.3,586.1 869.4,604.1 869.5,610.4 869.6,608.6 869.7,602.8 869.8,598.4 869.9,598.8 870.0,593.8 870.2,600.5 870.3,596.4 870.4,605.2 870.5,604.8 870.6,602.5 870.7,604.2 870.8,608.6 870.9,599.8 871.0,615.2 871.1,612.5 871.2,616.0 871.4,610.1 871.5,612.3 871.6,616.1 871.7,617.4 871.8,614.4 871.9,616.0 872.0,615.0 872.1,616.5 872.2,615.3 872.3,615.4 872.4,613.9 872.6,631.7 872.7,617.7 872.8,622.2 872.9,616.2 873.0,624.7 873.1,633.4 873.2,620.2 873.3,626.7 873.4,626.0 873.5,633.2 873.6,627.0 873.8,627.1 873.9,626.2 874.0,614.0 874.1,635.3 874.2,640.4 874.3,624.0 874.4,636.7 874.5,632.6 874.6,654.9 874.7,628.9 874.8,636.5 875.0,643.0 875.1,638.5 875.2,639.3 875.3,634.8 875.4,631.2 875.5,636.7 875.6,629.1 875.7,647.1 875.8,639.7 875.9,635.5 876.1,626.0 876.2,653.5 876.3,645.7 876.4,640.1 876.5,643.7 876.6,643.8 876.7,637.7 876.8,637.3 876.9,640.1 877.0,647.4 877.1,635.0 877.3,628.4 877.4,639.2 877.5,639.0 877.6,637.5 877.7,639.1 877.8,630.7 877.9,632.4 878.0,635.7 878.1,639.3 878.2,648.0 878.3,644.4 878.5,641.6 878.6,641.2 878.7,635.7 878.8,638.7 878.9,631.7 879.0,633.5 879.1,644.7 879.2,645.5 879.3,635.7 879.4,650.3 879.5,627.5 879.7,652.3 879.8,642.5 879.9,641.6 880.0,645.5 880.1,639.6 880.2,657.9 880.3,639.4 880.4,639.9 880.5,647.9 880.6,628.8 880.8,640.6 880.9,633.5 881.0,651.5 881.1,639.6 881.2,641.7 881.3,630.4 881.4,654.5 881.5,618.5 881.6,632.0 881.7,637.3 881.8,626.8 882.0,633.4 882.1,639.0 882.2,648.6 882.3,658.4 882.4,634.0 882.5,638.7 882.6,647.1 882.7,650.8 882.8,637.6 882.9,641.6 883.0,643.3 883.2,646.5 883.3,641.9 883.4,655.5 883.5,642.6 883.6,652.0 883.7,648.0 883.8,668.1 883.9,654.8 884.0,632.4 884.1,648.7 884.2,630.9 884.4,652.6 884.5,641.8 884.6,614.6 884.7,637.3 884.8,640.4 884.9,652.2 885.0,644.0 885.1,646.0 885.2,634.1 885.3,639.7 885.4,633.2 885.6,640.5 885.7,641.3 885.8,643.7 885.9,638.9 886.0,642.8 886.1,641.2 886.2,646.4 886.3,640.6 886.4,641.0 886.5,639.1 886.7,640.1 886.8,642.9 886.9,638.2 887.0,653.0 887.1,651.4 887.2,646.9 887.3,649.3 887.4,636.4 887.5,640.2 887.6,637.4 887.7,647.0 887.9,650.8 888.0,651.7 888.1,637.0 888.2,646.3 888.3,654.3 888.4,645.6 888.5,649.8 888.6,636.2 888.7,647.6 888.8,645.5 888.9,618.3 889.1,652.5 889.2,656.9 889.3,653.8 889.4,646.0 889.5,647.8 889.6,643.7 889.7,651.6 889.8,650.8 889.9,657.8 890.0,648.5 890.1,655.1 890.3,647.7 890.4,644.4 890.5,649.6 890.6,643.8 890.7,644.3 890.8,654.3 890.9,654.0 891.0,643.6 891.1,642.3 891.2,646.8 891.4,643.5 891.5,652.5 891.6,646.2 891.7,639.9 891.8,642.6 891.9,652.8 892.0,659.9 892.1,650.0 892.2,637.3 892.3,640.5 892.4,647.2 892.6,644.8 892.7,646.8 892.8,658.8 892.9,639.2 893.0,640.4 893.1,646.3 893.2,647.5 893.3,648.5 893.4,652.0 893.5,646.1 893.6,652.8 893.8,647.2 893.9,648.7 894.0,635.0 894.1,640.5 894.2,643.5 894.3,649.9 894.4,641.5 894.5,639.1 894.6,640.7 894.7,657.0 894.8,635.8 895.0,646.4 895.1,645.3 895.2,655.0 895.3,650.0 895.4,643.6 895.5,651.3 895.6,654.3 895.7,643.3 895.8,634.5 895.9,637.4 896.0,644.8 896.2,637.0 896.3,645.1 896.4,651.3 896.5,645.1 896.6,658.1 896.7,643.1 896.8,636.4 896.9,646.5 897.0,651.6 897.1,635.4 897.3,647.6 897.4,656.2 897.5,646.3 897.6,656.8 897.7,634.6 897.8,648.3 897.9,633.5 898.0,619.0 898.1,634.5 898.2,650.5 898.3,644.7 898.5,663.2 898.6,637.0 898.7,617.7 898.8,648.0 898.9,636.7 899.0,630.1 899.1,645.3 899.2,646.4 899.3,634.0 899.4,640.3 899.5,646.8 899.7,632.2 899.8,632.6 899.9,639.9 900.0,649.1 900.1,631.3 900.2,643.5 900.3,641.8 900.4,639.4 900.5,635.9 900.6,630.8 900.7,640.3 900.9,634.7 901.0,618.1 901.1,640.3 901.2,629.6 901.3,634.2 901.4,665.2 901.5,636.0 901.6,618.7 901.7,629.6 901.8,624.5 902.0,647.1 902.1,609.3 902.2,636.5 902.3,633.7 902.4,630.7 902.5,635.8 902.6,645.5 902.7,620.1 902.8,628.1 902.9,631.5 903.0,630.7 903.2,628.4 903.3,632.6 903.4,630.2 903.5,625.5 903.6,615.4 903.7,632.7 903.8,637.6 903.9,635.7 904.0,630.4 904.1,635.2 904.2,615.8 904.4,631.5 904.5,628.9 904.6,626.1 904.7,634.3 904.8,623.6 904.9,622.0 905.0,617.3 905.1,596.3 905.2,621.0 905.3,635.7 905.4,636.0 905.6,616.9 905.7,621.4 905.8,630.4 905.9,611.4 906.0,615.0 906.1,607.2 906.2,628.5 906.3,611.6 906.4,612.3 906.5,612.9 906.6,605.7 906.8,630.3 906.9,630.0 907.0,625.0 907.1,592.9 907.2,612.8 907.3,604.1 907.4,596.6 907.5,605.0 907.6,615.3 907.7,610.1 907.9,592.6 908.0,624.9 908.1,605.8 908.2,588.9 908.3,587.1 908.4,587.9 908.5,590.8 908.6,586.0 908.7,578.6 908.8,593.2 908.9,578.3 909.1,583.0 909.2,575.1 909.3,575.5 909.4,584.0 909.5,571.9 909.6,576.4 909.7,567.2 909.8,575.0 909.9,563.4 910.0,570.2 910.1,547.5 910.3,564.2 910.4,555.6 910.5,540.5 910.6,539.4 910.7,526.3 910.8,537.0 910.9,537.3 911.0,527.2 911.1,536.8 911.2,506.9 911.3,519.0 911.5,508.0 911.6,510.8 911.7,518.3 911.8,508.1 911.9,515.7 912.0,495.7 912.1,489.5 912.2,488.6 912.3,461.8 912.4,475.9 912.6,477.6 912.7,480.1 912.8,460.3 912.9,455.7 913.0,444.4 913.1,441.6 913.2,446.5 913.3,443.2 913.4,439.6 913.5,430.2 913.6,433.8 913.8,408.9 913.9,415.0 914.0,419.8 914.1,402.9 914.2,403.0 914.3,392.4 914.4,385.8 914.5,383.7 914.6,373.3 914.7,371.6 914.8,369.3 915.0,353.8 915.1,358.2 915.2,355.9 915.3,352.6 915.4,337.3 915.5,339.8 915.6,319.0 915.7,308.5 915.8,319.7 915.9,302.6 916.0,305.7 916.2,300.7 916.3,300.1 916.4,294.5 916.5,289.0 916.6,289.4 916.7,283.7 916.8,283.2 916.9,281.9 917.0,280.3 917.1,274.5 917.2,271.1 917.4,269.8 917.5,258.6 917.6,270.4 917.7,266.6 917.8,270.8 917.9,267.1 918.0,263.3 918.1,270.1 918.2,266.1 918.3,268.1 918.5,272.1 918.6,272.1 918.7,269.5 918.8,278.1 918.9,278.7 919.0,279.9 919.1,282.3 919.2,287.7 919.3,283.0 919.4,300.1 919.5,285.8 919.7,297.3 919.8,295.3 919.9,312.6 920.0,315.4 920.1,321.3 920.2,318.1 920.3,335.5 920.4,339.1 920.5,328.1 920.6,345.5 920.7,339.7 920.9,352.2 921.0,363.3 921.1,365.4 921.2,363.7 921.3,373.7 921.4,389.9 921.5,390.6 921.6,399.8 921.7,390.3 921.8,410.2 921.9,414.1 922.1,412.1 922.2,432.6 922.3,428.2 922.4,439.5 922.5,435.1 922.6,446.7 922.7,457.4 922.8,454.7 922.9,461.6 923.0,468.3 923.2,469.5 923.3,465.8 923.4,483.5 923.5,485.1 923.6,493.6 923.7,489.9 923.8,511.8 923.9,511.5 924.0,519.0 924.1,527.1 924.2,524.5 924.4,517.6 924.5,514.8 924.6,538.0 924.7,534.9 924.8,542.6 924.9,562.6 925.0,540.9 925.1,537.5 925.2,551.9 925.3,548.2 925.4,548.5 925.6,565.1 925.7,558.5 925.8,571.6 925.9,556.3 926.0,567.0 926.1,568.4 926.2,572.5 926.3,571.3 926.4,583.6 926.5,569.6 926.6,586.4 926.8,593.6 926.9,588.7 927.0,591.7 927.1,587.1 927.2,596.8 927.3,599.5 927.4,599.7 927.5,602.1 927.6,605.2 927.7,603.9 927.8,590.9 928.0,597.2 928.1,604.7 928.2,642.5 928.3,617.0 928.4,610.3 928.5,609.8 928.6,605.6 928.7,618.6 928.8,613.6 928.9,617.1 929.1,611.1 929.2,616.0 929.3,612.8 929.4,614.7 929.5,615.8 929.6,630.4 929.7,624.6 929.8,630.2 929.9,620.3 930.0,626.6 930.1,620.7 930.3,624.7 930.4,625.3 930.5,602.8 930.6,628.2 930.7,620.3 930.8,631.5 930.9,624.1 931.0,618.1 931.1,621.7 931.2,624.3 931.3,640.8 931.5,623.1 931.6,629.4 931.7,633.1 931.8,630.6 931.9,631.3 932.0,636.3 932.1,626.9 932.2,643.3 932.3,642.0 932.4,634.5 932.5,642.8 932.7,635.4 932.8,631.8 932.9,627.4 933.0,630.9 933.1,640.1 933.2,638.8 933.3,646.9 933.4,647.3 933.5,643.1 933.6,639.2 933.8,649.1 933.9,636.7 934.0,621.1 934.1,634.8 934.2,638.8 934.3,639.3 934.4,639.0 934.5,646.5 934.6,618.5 934.7,650.9 934.8,640.2 935.0,637.2 935.1,624.1 935.2,643.7 935.3,631.2 935.4,624.8 935.5,646.6 935.6,641.6 935.7,636.8 935.8,632.1 935.9,640.7 936.0,637.8 936.2,639.5 936.3,640.1 936.4,627.9 936.5,641.1 936.6,630.5 936.7,642.1 936.8,636.4 936.9,636.4 937.0,649.7 937.1,640.0 937.2,639.9 937.4,643.9 937.5,653.4 937.6,620.4 937.7,642.7 937.8,640.2 937.9,648.2 938.0,641.2 938.1,640.7 938.2,645.7 938.3,641.6 938.4,636.9 938.6,642.6 938.7,655.3 938.8,647.4 938.9,628.0 939.0,642.5 939.1,637.3 939.2,650.9 939.3,637.2 939.4,644.5 939.5,648.0 939.7,649.9 939.8,639.7 939.9,645.7 940.0,659.1 940.1,640.6 940.2,645.4 940.3,639.8 940.4,642.6 940.5,649.0 940.6,646.5 940.7,654.9 940.9,637.6 941.0,647.1 941.1,644.6 941.2,627.6 941.3,654.0 941.4,646.5 941.5,641.9 941.6,653.2 941.7,649.1 941.8,611.2 941.9,648.9 942.1,661.6 942.2,649.7 942.3,650.9 942.4,634.1 942.5,635.4 942.6,635.9 942.7,653.3 942.8,652.2 942.9,629.4 943.0,652.1 943.1,632.3 943.3,637.0 943.4,646.3 943.5,642.5 943.6,646.4 943.7,648.2 943.8,663.0 943.9,639.1 944.0,641.7 944.1,640.7 944.2,662.1 944.4,653.9 944.5,654.2 944.6,650.6 944.7,649.1 944.8,657.1 944.9,646.6 945.0,636.5 945.1,635.5 945.2,683.1 945.3,638.9 945.4,641.0 945.6,644.7 945.7,652.6 945.8,637.7 945.9,642.3 946.0,648.1 946.1,637.3 946.2,646.5 946.3,662.5 946.4,648.0 946.5,647.3 946.6,650.0 946.8,646.5 946.9,644.6 947.0,644.4 947.1,653.1 947.2,623.3 947.3,639.5 947.4,653.2 947.5,656.7 947.6,648.8 947.7,641.4 947.8,636.8 948.0,651.4 948.1,648.0 948.2,649.6 948.3,650.5 948.4,640.6 948.5,642.0 948.6,646.5 948.7,646.1 948.8,636.2 948.9,639.3 949.0,646.4 949.2,657.2 949.3,663.8 949.4,650.0 949.5,645.3 949.6,650.2 949.7,649.2 949.8,642.7 949.9,627.4 950.0,649.9 950.1,644.1 950.3,648.4 950.4,642.1 950.5,646.0 950.6,648.7 950.7,639.1 950.8,643.2 950.9,652.4 951.0,653.8 951.1,637.0 951.2,654.0 951.3,657.8 951.5,651.9 951.6,651.8 951.7,649.6 951.8,651.4 951.9,645.0 952.0,656.3 952.1,647.3 952.2,638.7 952.3,652.5 952.4,655.0 952.5,651.7 952.7,642.2 952.8,653.0 952.9,629.4 953.0,659.6 953.1,651.8 953.2,636.0 953.3,617.7 953.4,663.4 953.5,649.1 953.6,642.7 953.7,649.6 953.9,645.3 954.0,645.9 954.1,649.2 954.2,649.2 954.3,640.1 954.4,649.4 954.5,649.3 954.6,641.1 954.7,654.4 954.8,651.9 955.0,641.3 955.1,659.7 955.2,651.9 955.3,656.6 955.4,636.6 955.5,645.2 955.6,649.6 955.7,640.5 955.8,647.2 955.9,639.3 956.0,662.5 956.2,652.0 956.3,657.6 956.4,661.5 956.5,649.2 956.6,663.0 956.7,634.7 956.8,648.1 956.9,646.7 957.0,649.5 957.1,642.3 957.2,655.9 957.4,663.4 957.5,652.3 957.6,654.9 957.7,636.4 957.8,646.0 957.9,656.4 958.0,646.0 958.1,652.3 958.2,647.4 958.3,652.5 958.4,640.3 958.6,652.2 958.7,658.8 958.8,654.2 958.9,663.7 959.0,649.4 959.1,655.4 959.2,640.6 959.3,655.9 959.4,652.6 959.5,647.3 959.6,657.3 959.8,642.3 959.9,648.2 960.0,651.6 960.1,641.9 960.2,642.5 960.3,655.5 960.4,646.0 960.5,641.0 960.6,645.5 960.7,644.7 960.9,637.4 961.0,650.9 961.1,633.0 961.2,639.3 961.3,648.8 961.4,647.9 961.5,656.3 961.6,638.9 961.7,643.5 961.8,654.1 961.9,649.0 962.1,643.4 962.2,641.2 962.3,650.5 962.4,645.6 962.5,639.9 962.6,642.6 962.7,642.8 962.8,651.3 962.9,626.8 963.0,639.8 963.1,651.8 963.3,631.0 963.4,640.1 963.5,654.2 963.6,631.7 963.7,636.2 963.8,633.7 963.9,640.5 964.0,634.4 964.1,631.0 964.2,637.6 964.3,637.2 964.5,643.0 964.6,631.9 964.7,632.5 964.8,628.6 964.9,639.4 965.0,648.0 965.1,623.8 965.2,613.3 965.3,641.2 965.4,613.4 965.6,613.8 965.7,621.3 965.8,637.4 965.9,631.2 966.0,620.8 966.1,626.8 966.2,618.8 966.3,627.4 966.4,615.6 966.5,630.3 966.6,621.7 966.8,612.8 966.9,604.9 967.0,624.8 967.1,618.4 967.2,607.2 967.3,607.1 967.4,609.9 967.5,611.1 967.6,612.0 967.7,612.5 967.8,612.9 968.0,608.0 968.1,626.6 968.2,609.0 968.3,606.1 968.4,615.1 968.5,604.9 968.6,615.1 968.7,613.6 968.8,619.7 968.9,605.4 969.0,599.8 969.2,631.9 969.3,612.9 969.4,626.8 969.5,626.4 969.6,613.6 969.7,619.8 969.8,610.1 969.9,612.1 970.0,619.8 970.1,621.8 970.2,610.4 970.4,629.0 970.5,628.4 970.6,633.2 970.7,616.4 970.8,631.6 970.9,624.8 971.0,627.6 971.1,648.6 971.2,634.2 971.3,638.3 971.5,647.9 971.6,643.4 971.7,630.4 971.8,631.3 971.9,641.0 972.0,642.5 972.1,634.6 972.2,642.5 972.3,634.3 972.4,638.9 972.5,640.6 972.7,644.7 972.8,647.5 972.9,641.3 973.0,645.3 973.1,639.4 973.2,649.7 973.3,648.4 973.4,637.8 973.5,658.1 973.6,644.8 973.7,643.8 973.9,641.0 974.0,648.4 974.1,647.0 974.2,638.4 974.3,648.9 974.4,652.8 974.5,656.0 974.6,656.2 974.7,645.1 974.8,643.0 974.9,651.5 975.1,655.8 975.2,662.0 975.3,646.2 975.4,641.3 975.5,636.9 975.6,651.1 975.7,653.7 975.8,641.2 975.9,642.7 976.0,637.4 976.2,662.5 976.3,640.7 976.4,654.4 976.5,648.4 976.6,636.6 976.7,634.4 976.8,656.7 976.9,650.3 977.0,649.0 977.1,658.3 977.2,650.2 977.4,651.6 977.5,651.7 977.6,651.9 977.7,658.5 977.8,648.2 977.9,658.8 978.0,661.7 978.1,648.4 978.2,655.3 978.3,645.0 978.4,652.9 978.6,660.1 978.7,658.6 978.8,650.1 978.9,656.5 979.0,655.5 979.1,652.2 979.2,653.9 979.3,665.0 979.4,634.7 979.5,647.8 979.6,657.7 979.8,651.2 979.9,654.1 980.0,653.2 980.1,649.7 980.2,651.1 980.3,641.5 980.4,651.9 980.5,657.5 980.6,659.6 980.7,657.0 980.8,652.1 981.0,651.2 981.1,642.2 981.2,650.6 981.3,639.6 981.4,647.9 981.5,650.4 981.6,653.8 981.7,653.7 981.8,653.8 981.9,646.9 982.1,650.7 982.2,658.8 982.3,654.4 982.4,656.9 982.5,654.9 982.6,663.2 982.7,664.4 982.8,690.7 982.9,651.6 983.0,659.5 983.1,646.5 983.3,659.5 983.4,657.7 983.5,652.6 983.6,664.2 983.7,657.6 983.8,643.9 983.9,663.2 984.0,653.8 984.1,658.1 984.2,648.8 984.3,647.7 984.5,645.0 984.6,646.5 984.7,657.8 984.8,657.0 984.9,642.3 985.0,652.8 985.1,653.0 985.2,647.4 985.3,654.0 985.4,647.9 985.5,658.9 985.7,651.1 985.8,653.9 985.9,631.3 986.0,650.1 986.1,653.3 986.2,649.7 986.3,652.1 986.4,647.4 986.5,659.1 986.6,646.8 986.8,651.2 986.9,662.8 987.0,661.1 987.1,653.3 987.2,645.5 987.3,626.0 987.4,656.5 987.5,655.2 987.6,651.9 987.7,652.2 987.8,667.2 988.0,659.7 988.1,654.4 988.2,652.9 988.3,651.9 988.4,656.5 988.5,652.0 988.6,654.1 988.7,650.2 988.8,657.5 988.9,654.3 989.0,645.5 989.2,671.5 989.3,655.0 989.4,650.0 989.5,644.9 989.6,653.0 989.7,648.8 989.8,663.7 989.9,660.0 990.0,644.5 990.1,641.2 990.2,658.1 990.4,642.0 990.5,654.9 990.6,652.4 990.7,634.3 990.8,649.8 990.9,662.2 991.0,645.5 991.1,637.0 991.2,639.9 991.3,650.5 991.4,652.8 991.6,656.9 991.7,653.0 991.8,644.5 991.9,648.0 992.0,649.3 992.1,649.8 992.2,632.9 992.3,654.9 992.4,657.6 992.5,648.4 992.7,651.1 992.8,642.3 992.9,651.3 993.0,644.7 993.1,643.8 993.2,655.0 993.3,650.5 993.4,646.6 993.5,639.1 993.6,650.3 993.7,673.3 993.9,653.1 994.0,652.9 994.1,658.9 994.2,664.4 994.3,654.4 994.4,657.1 994.5,651.6 994.6,653.6 994.7,652.6 994.8,656.0 994.9,642.5 995.1,651.6 995.2,651.2 995.3,647.9 995.4,644.3 995.5,653.3 995.6,645.1 995.7,637.2 995.8,652.2 995.9,638.2 996.0,651.6 996.1,629.8 996.3,646.1 996.4,657.7 996.5,643.7 996.6,654.7 996.7,642.4 996.8,642.7 996.9,646.4 997.0,662.4 997.1,656.1 997.2,657.5 997.4,654.1 997.5,649.1 997.6,635.9 997.7,643.7 997.8,658.0 997.9,638.3 998.0,651.5 998.1,651.2 998.2,636.3 998.3,649.4 998.4,644.7 998.6,649.0 998.7,647.3 998.8,646.4 998.9,641.8 999.0,635.3 999.1,660.5 999.2,643.4 999.3,646.2 999.4,647.6 999.5,648.2 999.6,645.4 999.8,652.8 999.9,649.3 1000.0,646.1 1000.1,645.1 1000.2,652.6 1000.3,643.2 1000.4,652.9 1000.5,658.2 1000.6,656.5 1000.7,653.5 1000.8,639.1 1001.0,654.7 1001.1,651.7 1001.2,659.5 1001.3,647.3 1001.4,644.9 1001.5,659.9 1001.6,645.6 1001.7,658.3 1001.8,656.2 1001.9,634.5 1002.0,647.5 1002.2,647.7 1002.3,641.7 1002.4,638.0 1002.5,650.6 1002.6,643.2 1002.7,645.7 1002.8,636.8 1002.9,648.6 1003.0,654.3 1003.1,655.8 1003.3,654.2 1003.4,649.0 1003.5,649.8 1003.6,655.1 1003.7,659.3 1003.8,650.4 1003.9,642.6 1004.0,652.7 1004.1,654.0 1004.2,646.2 1004.3,655.7 1004.5,643.3 1004.6,644.2 1004.7,644.7 1004.8,650.1 1004.9,627.5 1005.0,636.3 1005.1,634.5 1005.2,623.7 1005.3,638.0 1005.4,613.0 1005.5,595.7 1005.7,601.6 1005.8,603.3 1005.9,598.2 1006.0,614.5 1006.1,605.6 1006.2,583.5 1006.3,621.2 1006.4,613.5 1006.5,603.3 1006.6,605.8 1006.7,624.4 1006.9,637.4 1007.0,629.0 1007.1,642.0 1007.2,650.5 1007.3,647.2 1007.4,643.2 1007.5,639.2 1007.6,645.4 1007.7,661.1 1007.8,653.3 1008.0,647.9 1008.1,652.5 1008.2,653.4 1008.3,663.5 1008.4,652.6 1008.5,669.6 1008.6,659.3 1008.7,660.4 1008.8,650.1 1008.9,660.6 1009.0,660.0 1009.2,662.7 1009.3,653.8 1009.4,660.1 1009.5,647.7 1009.6,651.2 1009.7,673.8 1009.8,652.0 1009.9,653.5 1010.0,663.9 1010.1,656.9 1010.2,674.9 1010.4,658.2 1010.5,662.2 1010.6,655.7 1010.7,665.3 1010.8,658.8 1010.9,676.9 1011.0,653.0 1011.1,660.4 1011.2,661.7 1011.3,649.5 1011.4,653.4 1011.6,651.6 1011.7,645.3 1011.8,658.9 1011.9,637.1 1012.0,647.5 1012.1,648.6 1012.2,658.0 1012.3,655.9 1012.4,663.3 1012.5,664.4 1012.6,658.1 1012.8,650.1 1012.9,661.2 1013.0,651.6 1013.1,653.4 1013.2,655.7 1013.3,677.2 1013.4,672.4 1013.5,663.2 1013.6,652.1 1013.7,669.2 1013.9,663.7 1014.0,649.8 1014.1,656.9 1014.2,650.8 1014.3,651.3 1014.4,655.9 1014.5,656.0 1014.6,644.9 1014.7,655.6 1014.8,647.2 1014.9,654.3 1015.1,656.5 1015.2,652.7 1015.3,645.8 1015.4,650.1 1015.5,658.1 1015.6,662.1 1015.7,662.5 1015.8,662.3 1015.9,666.5 1016.0,652.4 1016.1,662.7 1016.3,650.1 1016.4,666.7 1016.5,660.8 1016.6,647.4 1016.7,658.7 1016.8,660.6 1016.9,648.7 1017.0,659.0 1017.1,659.1 1017.2,665.6 1017.3,649.6 1017.5,663.6 1017.6,646.4 1017.7,647.5 1017.8,673.7 1017.9,658.4 1018.0,641.7 1018.1,662.6 1018.2,656.2 1018.3,653.3 1018.4,650.5 1018.6,634.9 1018.7,652.6 1018.8,658.2 1018.9,651.6 1019.0,657.2 1019.1,651.2 1019.2,661.1 1019.3,632.2 1019.4,654.8 1019.5,645.8 1019.6,653.4 1019.8,656.3 1019.9,659.9 1020.0,657.4 1020.1,660.2 1020.2,645.6 1020.3,652.7 1020.4,620.0 1020.5,653.4 1020.6,639.9 1020.7,657.6 1020.8,652.0 1021.0,648.4 1021.1,645.7 1021.2,650.7 1021.3,645.6 1021.4,639.8 1021.5,652.2 1021.6,637.0 1021.7,652.6 1021.8,642.1 1021.9,629.8 1022.0,662.9 1022.2,652.2 1022.3,656.5 1022.4,646.1 1022.5,646.9 1022.6,647.9 1022.7,661.4 1022.8,654.1 1022.9,651.2 1023.0,649.4 1023.1,650.0 1023.2,656.4 1023.4,649.7 1023.5,649.8 1023.6,659.3 1023.7,656.5 1023.8,655.7 1023.9,663.7 1024.0,649.6 1024.1,642.1 1024.2,638.4 1024.3,648.4 1024.5,650.6 1024.6,655.2 1024.7,638.6 1024.8,639.1 1024.9,646.1 1025.0,645.7 1025.1,638.5 1025.2,646.4 1025.3,652.4 1025.4,644.8 1025.5,663.7 1025.7,653.8 1025.8,643.0 1025.9,645.1 1026.0,627.4 1026.1,663.1 1026.2,646.6 1026.3,646.0 1026.4,652.8 1026.5,645.5 1026.6,642.8 1026.7,646.5 1026.9,653.4 1027.0,653.7 1027.1,637.3 1027.2,635.3 1027.3,648.9 1027.4,643.4 1027.5,642.2 1027.6,652.4 1027.7,647.4 1027.8,640.1 1027.9,648.3 1028.1,638.5 1028.2,639.8 1028.3,656.6 1028.4,641.8 1028.5,647.2 1028.6,641.3 1028.7,640.6 1028.8,635.2 1028.9,635.1 1029.0,652.6 1029.2,658.9 1029.3,647.9 1029.4,646.8 1029.5,638.5 1029.6,641.0 1029.7,652.3 1029.8,659.5 1029.9,652.0 1030.0,646.8 1030.1,648.8 1030.2,642.0 1030.4,635.5 1030.5,634.2 1030.6,639.0 1030.7,637.5 1030.8,623.7 1030.9,628.4 1031.0,646.6 1031.1,656.6 1031.2,653.4 1031.3,639.7 1031.4,637.1 1031.6,641.4 1031.7,647.3 1031.8,639.1 1031.9,651.3 1032.0,633.3 1032.1,627.0 1032.2,648.6 1032.3,650.4 1032.4,642.7 1032.5,651.6 1032.6,652.4 1032.8,626.5 1032.9,647.6 1033.0,636.9 1033.1,651.2 1033.2,648.9 1033.3,654.0 1033.4,646.2 1033.5,644.3 1033.6,650.0 1033.7,666.0 1033.8,652.3 1034.0,634.0 1034.1,650.2 1034.2,649.7 1034.3,670.8 1034.4,652.6 1034.5,650.3 1034.6,654.0 1034.7,647.9 1034.8,656.0 1034.9,645.4 1035.1,650.0 1035.2,654.1 1035.3,643.2 1035.4,643.0 1035.5,646.6 1035.6,662.7 1035.7,665.9 1035.8,653.8 1035.9,660.3 1036.0,659.6 1036.1,649.5 1036.3,637.6 1036.4,662.0 1036.5,649.3 1036.6,658.5 1036.7,644.1 1036.8,654.1 1036.9,645.9 1037.0,658.0 1037.1,659.3 1037.2,656.8 1037.3,659.9 1037.5,651.4 1037.6,658.1 1037.7,658.6 1037.8,648.6 1037.9,659.0 1038.0,656.8 1038.1,658.6 1038.2,653.2 1038.3,654.5 1038.4,659.1 1038.5,656.6 1038.7,659.7 1038.8,646.1 1038.9,662.0 1039.0,649.9 1039.1,662.1 1039.2,645.8 1039.3,652.0 1039.4,658.3 1039.5,658.6 1039.6,652.8 1039.8,649.3 1039.9,659.9 1040.0,663.1 1040.1,649.9 1040.2,647.9 1040.3,652.3 1040.4,656.1 1040.5,644.4 1040.6,649.0 1040.7,660.7 1040.8,644.7 1041.0,650.9 1041.1,666.9 1041.2,663.9 1041.3,667.6 1041.4,655.9 1041.5,654.6 1041.6,651.7 1041.7,644.9 1041.8,641.1 1041.9,655.3 1042.0,650.8 1042.2,661.0 1042.3,663.4 1042.4,646.5 1042.5,647.6 1042.6,658.5 1042.7,666.2 1042.8,667.3 1042.9,652.8 1043.0,658.1 1043.1,667.6 1043.2,653.0 1043.4,651.3 1043.5,667.1 1043.6,653.8 1043.7,650.3 1043.8,670.3 1043.9,655.8 1044.0,655.4 1044.1,661.8 1044.2,667.6 1044.3,662.6 1044.4,661.2 1044.6,660.3 1044.7,660.2 1044.8,658.9 1044.9,644.7 1045.0,658.3 1045.1,647.1 1045.2,646.3 1045.3,657.3 1045.4,656.0 1045.5,662.5 1045.7,655.6 1045.8,659.1 1045.9,668.0 1046.0,649.0 1046.1,663.3 1046.2,669.2 1046.3,650.8 1046.4,654.3 1046.5,656.1 1046.6,659.6 1046.7,651.3 1046.9,654.0 1047.0,656.1 1047.1,656.8 1047.2,666.1 1047.3,653.4 1047.4,661.9 1047.5,661.7 1047.6,657.5 1047.7,657.5 1047.8,650.8 1047.9,651.6 1048.1,658.7 1048.2,657.2 1048.3,653.7 1048.4,663.3 1048.5,657.0 1048.6,656.3 1048.7,655.2 1048.8,664.2 1048.9,660.9 1049.0,659.5 1049.1,649.1 1049.3,668.4 1049.4,648.7 1049.5,661.5 1049.6,651.7 1049.7,649.1 1049.8,638.9 1049.9,660.6 1050.0,661.6 1050.1,656.9 1050.2,657.0 1050.4,651.4 1050.5,660.0 1050.6,657.9 1050.7,649.2 1050.8,656.3 1050.9,657.3 1051.0,651.8 1051.1,666.4 1051.2,650.7 1051.3,672.8 1051.4,666.9 1051.6,656.1 1051.7,669.9 1051.8,666.7 1051.9,667.2 1052.0,660.1 1052.1,652.7 1052.2,644.9 1052.3,661.5 1052.4,658.9 1052.5,656.0 1052.6,673.9 1052.8,662.8 1052.9,637.3 1053.0,658.1 1053.1,662.7 1053.2,651.1 1053.3,660.7 1053.4,657.0 1053.5,649.6 1053.6,661.9 1053.7,663.1 1053.8,641.5 1054.0,661.6 1054.1,654.4 1054.2,656.6 1054.3,647.7 1054.4,651.2 1054.5,683.8 1054.6,662.7 1054.7,656.4 1054.8,657.1 1054.9,651.2 1055.0,656.1 1055.2,651.2 1055.3,658.3 1055.4,649.6 1055.5,657.7 1055.6,661.5 1055.7,654.1 1055.8,657.4 1055.9,657.4 1056.0,651.7 1056.1,634.2 1056.3,661.6 1056.4,654.9 1056.5,653.2 1056.6,663.3 1056.7,649.9 1056.8,652.0 1056.9,651.1 1057.0,648.9 1057.1,654.1 1057.2,651.0 1057.3,664.6 1057.5,651.7 1057.6,664.4 1057.7,650.3 1057.8,653.9 1057.9,656.0 1058.0,649.9 1058.1,666.5 1058.2,653.0 1058.3,652.3 1058.4,661.0 1058.5,651.2 1058.7,660.7 1058.8,663.5 1058.9,662.0 1059.0,665.9 1059.1,653.8 1059.2,674.7 1059.3,651.7 1059.4,644.3 1059.5,654.2 1059.6,668.5 1059.7,648.6 1059.9,666.9 1060.0,646.4 1060.1,661.6 1060.2,659.2 1060.3,653.1 1060.4,641.3 1060.5,660.4 1060.6,660.8 1060.7,660.0 1060.8,664.0 1061.0,651.6 1061.1,669.9 1061.2,662.1 1061.3,650.8 1061.4,669.6 1061.5,655.1 1061.6,657.5 1061.7,660.3 1061.8,649.3 1061.9,649.0 1062.0,653.6 1062.2,647.2 1062.3,652.7 1062.4,662.3 1062.5,645.8 1062.6,653.8 1062.7,649.4 1062.8,657.7 1062.9,644.3 1063.0,644.7 1063.1,650.7 1063.2,665.7 1063.4,645.1 1063.5,640.0 1063.6,644.3 1063.7,655.4 1063.8,663.6 1063.9,650.3 1064.0,653.1 1064.1,642.0 1064.2,653.9 1064.3,649.8 1064.4,647.1 1064.6,658.0 1064.7,658.1 1064.8,647.6 1064.9,652.0 1065.0,621.9 1065.1,643.3 1065.2,658.8 1065.3,643.1 1065.4,644.6 1065.5,658.5 1065.6,636.4 1065.8,647.3 1065.9,662.4 1066.0,649.1 1066.1,646.6 1066.2,645.5 1066.3,654.0 1066.4,646.5 1066.5,656.5 1066.6,652.3 1066.7,653.6 1066.9,660.9 1067.0,650.8 1067.1,646.9 1067.2,652.9 1067.3,654.9 1067.4,652.5 1067.5,628.9 1067.6,658.6 1067.7,643.0 1067.8,641.1 1067.9,659.7 1068.1,663.6 1068.2,651.8 1068.3,641.0 1068.4,663.0 1068.5,645.8 1068.6,654.2 1068.7,650.6 1068.8,658.6 1068.9,656.2 1069.0,642.4 1069.1,661.3 1069.3,658.4 1069.4,653.8 1069.5,652.0 1069.6,653.3 1069.7,646.2 1069.8,653.1 1069.9,650.9 1070.0,657.6 1070.1,652.7 1070.2,651.1 1070.3,655.7 1070.5,661.0 1070.6,657.8 1070.7,653.1 1070.8,651.2 1070.9,662.9 1071.0,654.3 1071.1,646.3 1071.2,655.9 1071.3,642.4 1071.4,650.3 1071.6,658.3 1071.7,653.2 1071.8,651.9 1071.9,659.9 1072.0,662.7 1072.1,647.9 1072.2,646.0 1072.3,648.6 1072.4,646.1 1072.5,656.1 1072.6,657.4 1072.8,651.6 1072.9,645.3 1073.0,642.8 1073.1,652.0 1073.2,647.0 1073.3,655.4 1073.4,643.3 1073.5,648.1 1073.6,649.7 1073.7,659.4 1073.8,657.3 1074.0,655.3 1074.1,654.1 1074.2,656.9 1074.3,640.5 1074.4,657.9 1074.5,650.0 1074.6,673.2 1074.7,657.2 1074.8,659.8 1074.9,648.2 1075.0,671.3 1075.2,656.5 1075.3,657.1 1075.4,649.3 1075.5,654.8 1075.6,638.6 1075.7,661.8 1075.8,656.0 1075.9,653.1 1076.0,662.5 1076.1,656.4 1076.2,655.7 1076.4,649.8 1076.5,657.7 1076.6,644.4 1076.7,644.6 1076.8,653.0 1076.9,648.1 1077.0,643.0 1077.1,650.0 1077.2,639.4 1077.3,662.0 1077.5,645.9 1077.6,646.5 1077.7,662.2 1077.8,642.4 1077.9,637.0 1078.0,651.6 1078.1,649.5 1078.2,657.4 1078.3,649.8 1078.4,638.9 1078.5,650.2 1078.7,647.4 1078.8,657.3 1078.9,651.0 1079.0,643.1 1079.1,644.4 1079.2,648.8 1079.3,645.5 1079.4,649.6 1079.5,650.2 1079.6,641.5 1079.7,650.5 1079.9,654.8 1080.0,642.1 1080.1,640.3 1080.2,654.7 1080.3,653.4 1080.4,655.9 1080.5,661.5 1080.6,649.7 1080.7,643.3 1080.8,654.5 1080.9,646.3 1081.1,656.2 1081.2,661.8 1081.3,651.5 1081.4,654.8 1081.5,651.2 1081.6,653.0 1081.7,635.4 1081.8,663.0 1081.9,647.6 1082.0,648.9 1082.2,647.4 1082.3,649.9 1082.4,648.5 1082.5,638.7 1082.6,662.1 1082.7,654.7 1082.8,650.4 1082.9,652.1 1083.0,658.9 1083.1,657.9 1083.2,654.4 1083.4,658.2 1083.5,635.4 1083.6,657.9 1083.7,650.9 1083.8,647.3 1083.9,645.8 1084.0,652.8 1084.1,640.0 1084.2,653.8 1084.3,646.8 1084.4,656.6 1084.6,639.6 1084.7,654.0 1084.8,649.1 1084.9,644.7 1085.0,660.2 1085.1,659.2 1085.2,639.1 1085.3,650.9 1085.4,661.7 1085.5,652.0 1085.6,647.8 1085.8,646.1 1085.9,647.4 1086.0,656.9 1086.1,659.2 1086.2,649.6 1086.3,645.5 1086.4,647.0 1086.5,640.7 1086.6,655.3 1086.7,651.7 1086.8,659.9 1087.0,668.5 1087.1,662.3 1087.2,651.2 1087.3,652.3 1087.4,645.8 1087.5,639.9 1087.6,666.8 1087.7,656.9 1087.8,644.3 1087.9,658.6 1088.1,639.7 1088.2,651.7 1088.3,653.1 1088.4,648.1 1088.5,649.0 1088.6,657.7 1088.7,649.3 1088.8,660.2 1088.9,625.2 1089.0,650.4 1089.1,664.5 1089.3,646.7 1089.4,647.0 1089.5,653.9 1089.6,646.5 1089.7,656.4 1089.8,661.6 1089.9,662.9 1090.0,657.0 1090.1,652.3 1090.2,656.7 1090.3,667.8 1090.5,650.3 1090.6,653.3 1090.7,649.1 1090.8,657.1 1090.9,658.6 1091.0,654.2 1091.1,650.1 1091.2,644.3 1091.3,661.3 1091.4,653.2 1091.5,662.3 1091.7,652.8 1091.8,651.8 1091.9,661.9 1092.0,651.9 1092.1,664.7 1092.2,642.0 1092.3,657.3 1092.4,653.5 1092.5,654.6 1092.6,659.1 1092.7,643.4 1092.9,670.4 1093.0,653.3 1093.1,672.6 1093.2,661.6 1093.3,659.0 1093.4,646.0 1093.5,668.6 1093.6,661.6 1093.7,665.3 1093.8,646.4 1094.0,645.0 1094.1,654.2 1094.2,660.3 1094.3,662.2 1094.4,665.3 1094.5,651.1 1094.6,647.7 1094.7,661.4 1094.8,649.8 1094.9,656.7 1095.0,670.2 1095.2,649.0 1095.3,657.9 1095.4,657.5 1095.5,656.3 1095.6,658.4 1095.7,659.2 1095.8,655.9 1095.9,665.7 1096.0,661.4 1096.1,647.9 1096.2,664.4 1096.4,654.6 1096.5,652.5 1096.6,649.1 1096.7,660.1 1096.8,654.6 1096.9,649.6 1097.0,649.0 1097.1,662.7 1097.2,653.2 1097.3,648.7 1097.4,672.1 1097.6,659.6 1097.7,659.6 1097.8,655.6 1097.9,654.5 1098.0,649.0 1098.1,660.4 1098.2,657.5 1098.3,649.4 1098.4,654.5 1098.5,666.5 1098.7,656.8 1098.8,655.6 1098.9,650.9 1099.0,651.8 1099.1,659.2 1099.2,661.3 1099.3,656.7 1099.4,660.9 1099.5,648.7 1099.6,652.0 1099.7,656.6 1099.9,661.4 1100.0,650.8 1100.1,660.4 1100.2,646.7 1100.3,661.7 1100.4,662.7 1100.5,648.6 1100.6,657.0 1100.7,659.8 1100.8,650.3 1100.9,653.1 1101.1,653.0 1101.2,659.6 1101.3,662.1 1101.4,650.8 1101.5,651.5 1101.6,660.8 1101.7,652.5 1101.8,655.3 1101.9,662.0 1102.0,656.7 1102.1,662.9 1102.3,656.7 1102.4,654.2 1102.5,650.2 1102.6,640.9 1102.7,653.1 1102.8,643.0 1102.9,660.0 1103.0,659.9 1103.1,658.5 1103.2,663.2 1103.3,669.8 1103.5,644.4 1103.6,654.4 1103.7,660.8 1103.8,654.5 1103.9,654.7 1104.0,663.3 1104.1,659.8 1104.2,647.2 1104.3,666.5 1104.4,652.4 1104.6,658.6 1104.7,661.0 1104.8,646.1 1104.9,668.4 1105.0,661.3 1105.1,659.0 1105.2,661.8 1105.3,654.7 1105.4,661.2 1105.5,661.0 1105.6,642.5 1105.8,649.1 1105.9,663.3 1106.0,650.0 1106.1,660.1 1106.2,655.2 1106.3,661.3 1106.4,645.2 1106.5,657.5 1106.6,656.9 1106.7,658.9 1106.8,658.4 1107.0,656.9 1107.1,658.8 1107.2,660.1 1107.3,653.1 1107.4,666.5 1107.5,656.4 1107.6,652.6 1107.7,661.5 1107.8,647.8 1107.9,664.2 1108.0,654.1 1108.2,656.9 1108.3,656.6 1108.4,662.6 1108.5,651.9 1108.6,654.0 1108.7,659.9 1108.8,653.3 1108.9,657.6 1109.0,657.2 1109.1,655.5 1109.3,653.6 1109.4,652.8 1109.5,655.4 1109.6,650.7 1109.7,651.2 1109.8,676.5 1109.9,658.9 1110.0,671.2 1110.1,660.3 1110.2,663.6 1110.3,659.7 1110.5,665.0 1110.6,658.8 1110.7,659.3 1110.8,648.8 1110.9,663.4 1111.0,655.3 1111.1,656.3 1111.2,658.9 1111.3,658.0 1111.4,656.2 1111.5,664.1 1111.7,649.8 1111.8,642.6 1111.9,653.8 1112.0,641.6 1112.1,653.8 1112.2,665.1 1112.3,665.7 1112.4,649.3 1112.5,658.3 1112.6,647.9 1112.7,658.0 1112.9,664.6 1113.0,651.6 1113.1,666.5 1113.2,657.7 1113.3,673.4 1113.4,652.4 1113.5,650.1 1113.6,664.7 1113.7,661.8 1113.8,664.5 1113.9,650.3 1114.1,656.2 1114.2,651.4 1114.3,664.9 1114.4,658.9 1114.5,650.8 1114.6,650.2 1114.7,645.5 1114.8,651.1 1114.9,655.0 1115.0,658.6 1115.2,671.2 1115.3,652.2 1115.4,663.6 1115.5,641.7 1115.6,653.7 1115.7,658.2 1115.8,650.2 1115.9,655.1 1116.0,658.1 1116.1,649.7 1116.2,654.8 1116.4,660.7 1116.5,636.7 1116.6,660.5 1116.7,652.6 1116.8,644.0 1116.9,655.0 1117.0,656.4 1117.1,651.5 1117.2,654.9 1117.3,656.0 1117.4,652.9 1117.6,653.2 1117.7,658.3 1117.8,657.9 1117.9,653.7 1118.0,641.4 1118.1,645.1 1118.2,650.8 1118.3,660.5 1118.4,661.0 1118.5,678.8 1118.6,654.9 1118.8,653.9 1118.9,648.4 1119.0,657.9 1119.1,640.8 1119.2,651.8 1119.3,648.3 1119.4,644.9 1119.5,654.3 1119.6,651.6 1119.7,649.3 1119.9,642.8 1120.0,636.0 1120.1,636.8 1120.2,628.5 1120.3,636.2 1120.4,647.1 1120.5,653.7 1120.6,637.2 1120.7,652.3 1120.8,656.5 1120.9,660.9 1121.1,655.4 1121.2,643.8 1121.3,640.2 1121.4,644.9 1121.5,649.4 1121.6,645.8 1121.7,644.1 1121.8,647.3 1121.9,635.3 1122.0,646.0 1122.1,626.7 1122.3,649.2 1122.4,649.0 1122.5,655.0 1122.6,632.0 1122.7,633.6 1122.8,630.1 1122.9,626.6 1123.0,620.3 1123.1,642.1 1123.2,634.6 1123.3,635.7 1123.5,624.6 1123.6,637.4 1123.7,650.0 1123.8,636.4 1123.9,640.3 1124.0,617.7 1124.1,641.7 1124.2,634.6 1124.3,634.2 1124.4,635.5 1124.5,630.8 1124.7,636.3 1124.8,629.9 1124.9,628.8 1125.0,623.4 1125.1,622.7 1125.2,636.6 1125.3,637.5 1125.4,628.9 1125.5,627.9 1125.6,625.3 1125.8,631.3 1125.9,639.4 1126.0,631.5 1126.1,624.8 1126.2,635.7 1126.3,633.0 1126.4,614.6 1126.5,623.3 1126.6,635.2 1126.7,629.3 1126.8,626.4 1127.0,629.9 1127.1,618.6 1127.2,618.0 1127.3,625.3 1127.4,627.4 1127.5,637.6 1127.6,624.7 1127.7,627.6 1127.8,636.4 1127.9,621.2 1128.0,624.2 1128.2,627.4 1128.3,628.3 1128.4,627.7 1128.5,631.3 1128.6,618.3 1128.7,616.9 1128.8,625.7 1128.9,614.9 1129.0,638.1 1129.1,620.9 1129.2,622.2 1129.4,630.2 1129.5,629.4 1129.6,631.4 1129.7,626.7 1129.8,617.6 1129.9,625.9 1130.0,618.4 1130.1,616.0 1130.2,625.9 1130.3,634.7 1130.5,621.0 1130.6,622.5 1130.7,622.9 1130.8,634.2 1130.9,614.9 1131.0,632.9 1131.1,631.2 1131.2,629.6 1131.3,624.1 1131.4,628.8 1131.5,646.8 1131.7,635.1 1131.8,630.6 1131.9,639.0 1132.0,625.5 1132.1,643.2 1132.2,636.3 1132.3,655.0 1132.4,653.3 1132.5,642.5 1132.6,641.6 1132.7,633.9 1132.9,643.3 1133.0,643.9 1133.1,630.4 1133.2,629.4 1133.3,644.6 1133.4,637.3 1133.5,642.9 1133.6,642.9 1133.7,643.2 1133.8,640.2 1133.9,647.0 1134.1,652.7 1134.2,654.0 1134.3,640.1 1134.4,643.6 1134.5,643.8 1134.6,633.5 1134.7,621.4 1134.8,644.1 1134.9,648.1 1135.0,651.2 1135.1,642.3 1135.3,657.2 1135.4,646.4 1135.5,645.0 1135.6,655.5 1135.7,637.1 1135.8,633.1 1135.9,661.6 1136.0,648.6 1136.1,654.0 1136.2,647.7 1136.4,645.1 1136.5,642.1 1136.6,637.3 1136.7,650.5 1136.8,642.9 1136.9,648.2 1137.0,651.3 1137.1,649.1 1137.2,649.6 1137.3,659.4 1137.4,650.9 1137.6,650.1 1137.7,647.2 1137.8,658.4 1137.9,657.4 1138.0,644.7 1138.1,651.1 1138.2,647.3 1138.3,641.5 1138.4,642.1 1138.5,659.8 1138.6,652.0 1138.8,634.0 1138.9,655.4 1139.0,660.4 1139.1,649.9 1139.2,649.5 1139.3,650.9 1139.4,655.5 1139.5,645.4 1139.6,651.5 1139.7,638.6 1139.8,657.3 1140.0,642.0 1140.1,647.2 1140.2,652.2 1140.3,656.6 1140.4,644.9 1140.5,645.2 1140.6,659.3 1140.7,644.4 1140.8,643.8 1140.9,646.1 1141.1,654.0 1141.2,654.3 1141.3,656.8 1141.4,653.6 1141.5,648.0 1141.6,653.9 1141.7,656.4 1141.8,643.9 1141.9,647.7 1142.0,651.3 1142.1,662.7 1142.3,649.9 1142.4,652.1 1142.5,652.0 1142.6,654.0 1142.7,661.5 1142.8,644.7 1142.9,632.6 1143.0,657.3 1143.1,637.7 1143.2,654.2 1143.3,654.7 1143.5,656.6 1143.6,643.9 1143.7,653.2 1143.8,655.4 1143.9,661.7 1144.0,659.3 1144.1,643.3 1144.2,646.6 1144.3,648.3 1144.4,650.9 1144.5,657.9 1144.7,656.0 1144.8,650.1 1144.9,661.1 1145.0,653.3 1145.1,640.9 1145.2,657.5 1145.3,629.4 1145.4,640.0 1145.5,646.6 1145.6,645.7 1145.7,647.7 1145.9,647.7 1146.0,635.4 1146.1,641.7 1146.2,650.5 1146.3,647.2 1146.4,644.0 1146.5,639.2 1146.6,645.2 1146.7,638.2 1146.8,636.0 1147.0,651.9 1147.1,649.4 1147.2,641.7 1147.3,655.0 1147.4,642.9 1147.5,647.3 1147.6,645.1 1147.7,642.4 1147.8,643.7 1147.9,651.6 1148.0,647.0 1148.2,627.2 1148.3,644.2 1148.4,624.6 1148.5,632.0 1148.6,641.3 1148.7,630.4 1148.8,646.4 1148.9,634.5 1149.0,646.4 1149.1,638.6 1149.2,642.7 1149.4,645.5 1149.5,626.4 1149.6,635.3 1149.7,636.7 1149.8,642.4 1149.9,638.4 1150.0,632.0 1150.1,623.8 1150.2,621.9 1150.3,625.8 1150.4,633.4 1150.6,632.3 1150.7,641.4 1150.8,632.0 1150.9,634.7 1151.0,606.9 1151.1,629.6 1151.2,623.1 1151.3,622.4 1151.4,646.9 1151.5,624.9 1151.7,623.6 1151.8,623.6 1151.9,612.4 1152.0,610.1 1152.1,635.0 1152.2,622.0 1152.3,618.9 1152.4,619.1 1152.5,612.0 1152.6,612.9 1152.7,608.5 1152.9,616.7 1153.0,612.4 1153.1,620.2 1153.2,623.5 1153.3,602.6 1153.4,614.3 1153.5,604.7 1153.6,623.8 1153.7,608.1 1153.8,622.0 1153.9,599.2 1154.1,611.8 1154.2,595.2 1154.3,589.6 1154.4,578.9 1154.5,596.1 1154.6,592.1 1154.7,596.2 1154.8,586.3 1154.9,592.7 1155.0,591.2 1155.1,581.8 1155.3,604.1 1155.4,604.7 1155.5,588.0 1155.6,589.2 1155.7,589.4 1155.8,588.8 1155.9,575.8 1156.0,583.4 1156.1,595.7 1156.2,579.4 1156.3,577.9 1156.5,572.0 1156.6,574.8 1156.7,560.7 1156.8,576.6 1156.9,585.3 1157.0,578.6 1157.1,579.3 1157.2,575.7 1157.3,575.3 1157.4,565.7 1157.6,558.0 1157.7,587.5 1157.8,575.6 1157.9,552.7 1158.0,581.7 1158.1,564.1 1158.2,574.6 1158.3,565.1 1158.4,560.0 1158.5,571.6 1158.6,561.7 1158.8,544.1 1158.9,568.8 1159.0,563.3 1159.1,564.6 1159.2,563.3 1159.3,569.7 1159.4,579.9 1159.5,577.5 1159.6,573.5 1159.7,574.4 1159.8,568.6 1160.0,609.5 1160.1,564.1 1160.2,573.9 1160.3,582.2 1160.4,586.5 1160.5,589.4 1160.6,585.4 1160.7,604.6 1160.8,613.3 1160.9,576.6 1161.0,585.4 1161.2,584.4 1161.3,621.9 1161.4,591.3 1161.5,586.3 1161.6,598.3 1161.7,591.6 1161.8,602.5 1161.9,615.8 1162.0,595.2 1162.1,607.7 1162.3,608.8 1162.4,602.2 1162.5,612.3 1162.6,604.6 1162.7,616.2 1162.8,610.7 1162.9,608.9 1163.0,623.4 1163.1,621.4 1163.2,612.4 1163.3,592.0 1163.5,619.1 1163.6,613.7 1163.7,621.9 1163.8,619.8 1163.9,617.5 1164.0,617.6 1164.1,631.5 1164.2,646.8 1164.3,631.4 1164.4,614.1 1164.5,620.7 1164.7,625.2 1164.8,610.1 1164.9,634.0 1165.0,619.3 1165.1,635.9 1165.2,624.9 1165.3,631.9 1165.4,617.0 1165.5,611.5 1165.6,625.1 1165.7,621.3 1165.9,622.2 1166.0,628.6 1166.1,635.0 1166.2,638.8 1166.3,626.2 1166.4,623.0 1166.5,633.3 1166.6,626.7 1166.7,626.6 1166.8,633.3 1166.9,644.8 1167.1,639.2 1167.2,623.4 1167.3,652.5 1167.4,629.4 1167.5,640.4 1167.6,634.1 1167.7,646.6 1167.8,643.1 1167.9,649.3 1168.0,644.0 1168.2,640.6 1168.3,650.6 1168.4,628.1 1168.5,620.8 1168.6,631.9 1168.7,640.4 1168.8,638.5 1168.9,637.0 1169.0,648.9 1169.1,647.2 1169.2,639.6 1169.4,633.7 1169.5,658.9 1169.6,645.6 1169.7,639.4 1169.8,644.6 1169.9,646.3 1170.0,638.6 1170.1,648.5 1170.2,644.2 1170.3,635.6 1170.4,651.4 1170.6,640.3 1170.7,652.3 1170.8,643.6 1170.9,640.6 1171.0,650.2 1171.1,639.1 1171.2,644.7 1171.3,649.8 1171.4,637.5 1171.5,635.7 1171.6,645.1 1171.8,645.8 1171.9,622.9 1172.0,642.2 1172.1,645.7 1172.2,632.7 1172.3,643.2 1172.4,633.8 1172.5,630.5 1172.6,632.3 1172.7,639.7 1172.9,630.7 1173.0,629.3 1173.1,632.7 1173.2,637.7 1173.3,617.3 1173.4,640.5 1173.5,642.2 1173.6,623.7 1173.7,629.5 1173.8,633.1 1173.9,629.4 1174.1,642.1 1174.2,627.7 1174.3,622.3 1174.4,620.0 1174.5,629.0 1174.6,620.6 1174.7,621.3 1174.8,622.7 1174.9,639.6 1175.0,631.7 1175.1,618.5 1175.3,631.1 1175.4,607.5 1175.5,627.9 1175.6,633.2 1175.7,635.3 1175.8,633.5 1175.9,631.6 1176.0,625.8 1176.1,630.4 1176.2,630.3 1176.3,622.0 1176.5,634.0 1176.6,627.4 1176.7,640.6 1176.8,654.3 1176.9,654.0 1177.0,658.5 1177.1,636.5 1177.2,637.1 1177.3,651.8 1177.4,634.0 1177.5,645.4 1177.7,637.5 1177.8,644.1 1177.9,639.6 1178.0,653.6 1178.1,662.8 1178.2,650.0 1178.3,636.4 1178.4,654.6 1178.5,643.6 1178.6,636.4 1178.8,648.8 1178.9,655.0 1179.0,637.8 1179.1,654.6 1179.2,647.7 1179.3,648.4 1179.4,653.8 1179.5,647.0 1179.6,647.0 1179.7,659.2 1179.8,634.2 1180.0,658.4 1180.1,643.3 1180.2,661.4 1180.3,646.0 1180.4,664.2 1180.5,629.9 1180.6,667.8 1180.7,656.4 1180.8,654.1 1180.9,652.5 1181.0,663.2 1181.2,654.8 1181.3,660.9 1181.4,657.2 1181.5,649.1 1181.6,668.0 1181.7,656.2 1181.8,660.2 1181.9,659.8 1182.0,658.5 1182.1,670.2 1182.2,660.2 1182.4,655.5 1182.5,657.8 1182.6,655.4 1182.7,650.5 1182.8,665.9 1182.9,651.8 1183.0,666.4 1183.1,659.4 1183.2,664.2 1183.3,658.6 1183.5,655.9 1183.6,674.6 1183.7,656.4 1183.8,652.8 1183.9,662.2 1184.0,668.5 1184.1,650.1 1184.2,651.8 1184.3,664.2 1184.4,664.7 1184.5,661.9 1184.7,655.8 1184.8,660.3 1184.9,653.8 1185.0,660.6 1185.1,657.1 1185.2,658.9 1185.3,655.7 1185.4,661.9 1185.5,657.3 1185.6,651.8 1185.7,666.7 1185.9,658.3 1186.0,654.7 1186.1,656.0 1186.2,667.5 1186.3,659.4 1186.4,658.9 1186.5,646.4 1186.6,654.6 1186.7,653.2 1186.8,651.3 1186.9,648.5 1187.1,653.4 1187.2,646.3 1187.3,658.6 1187.4,658.4 1187.5,645.4 1187.6,653.5 1187.7,638.8 1187.8,649.0 1187.9,649.0 1188.0,632.5 1188.1,625.0 1188.3,643.1 1188.4,640.5 1188.5,634.5 1188.6,622.6 1188.7,622.3 1188.8,605.9 1188.9,631.4 1189.0,601.2 1189.1,615.7 1189.2,608.7 1189.4,607.7 1189.5,591.6 1189.6,591.7 1189.7,598.5 1189.8,583.7 1189.9,591.0 1190.0,577.6 1190.1,588.7 1190.2,588.0 1190.3,583.6 1190.4,587.1 1190.6,574.1 1190.7,579.5 1190.8,582.2 1190.9,596.9 1191.0,583.1 1191.1,590.4 1191.2,603.1 1191.3,599.0 1191.4,607.5 1191.5,595.7 1191.6,614.4 1191.8,610.7 1191.9,618.0 1192.0,622.7 1192.1,607.5 1192.2,633.1 1192.3,625.5 1192.4,639.9 1192.5,632.7 1192.6,637.8 1192.7,628.0 1192.8,621.9 1193.0,649.4 1193.1,638.1 1193.2,646.9 1193.3,645.9 1193.4,640.0 1193.5,647.7 1193.6,649.1 1193.7,654.9 1193.8,648.7 1193.9,648.2 1194.1,661.6 1194.2,662.7 1194.3,653.7 1194.4,646.3 1194.5,655.7 1194.6,650.2 1194.7,663.2 1194.8,654.6 1194.9,650.8 1195.0,652.8 1195.1,649.3 1195.3,654.3 1195.4,646.3 1195.5,655.5 1195.6,659.9 1195.7,657.5 1195.8,648.5 1195.9,657.1 1196.0,652.0 1196.1,645.8 1196.2,654.8 1196.3,661.4 1196.5,657.3 1196.6,653.8 1196.7,652.2 1196.8,656.2 1196.9,659.8 1197.0,658.3 1197.1,664.9 1197.2,662.1 1197.3,663.3 1197.4,655.2 1197.5,663.2 1197.7,658.7 1197.8,661.7 1197.9,661.0 1198.0,674.8 1198.1,651.8 1198.2,662.0 1198.3,656.5 1198.4,661.9 1198.5,661.0 1198.6,669.3 1198.7,658.3 1198.9,655.6 1199.0,662.0 1199.1,662.2 1199.2,646.6 1199.3,686.3 1199.4,653.9 1199.5,681.9 1199.6,667.7 1199.7,668.0 1199.8,660.3 1200.0,653.6 1200.1,654.1 1200.2,667.0 1200.3,656.6 1200.4,662.3 1200.5,656.9 1200.6,655.5 1200.7,665.4 1200.8,653.3 1200.9,657.7 1201.0,654.6 1201.2,659.7 1201.3,658.5 1201.4,651.9 1201.5,656.0 1201.6,656.5 1201.7,671.7 1201.8,663.8 1201.9,658.7 1202.0,661.1 1202.1,657.6 1202.2,670.2 1202.4,658.0 1202.5,653.1 1202.6,685.8 1202.7,655.0 1202.8,656.3 1202.9,653.9 1203.0,663.0 1203.1,656.6 1203.2,655.7 1203.3,666.8 1203.4,669.7 1203.6,662.5 1203.7,653.9 1203.8,663.5 1203.9,655.8 1204.0,661.5 1204.1,661.4 1204.2,652.4 1204.3,672.0 1204.4,659.8 1204.5,659.2 1204.7,652.4 1204.8,665.6 1204.9,654.2 1205.0,659.3 1205.1,652.3 1205.2,651.0 1205.3,650.9 1205.4,648.5 1205.5,656.4 1205.6,668.3 1205.7,666.8 1205.9,654.4 1206.0,655.0 1206.1,669.6 1206.2,670.7 1206.3,660.0 1206.4,654.2 1206.5,657.5 1206.6,625.8 1206.7,654.9 1206.8,672.7 1206.9,669.0 1207.1,656.8 1207.2,662.9 1207.3,661.4 1207.4,653.6 1207.5,651.3 1207.6,653.4 1207.7,657.9 1207.8,665.7 1207.9,658.3 1208.0,656.9 1208.1,655.3 1208.3,664.6 1208.4,667.1 1208.5,658.3 1208.6,655.2 1208.7,658.7 1208.8,664.5 1208.9,664.0 1209.0,662.4 1209.1,650.5 1209.2,654.4 1209.3,652.7 1209.5,659.6 1209.6,648.1 1209.7,643.4 1209.8,656.0 1209.9,652.2 1210.0,652.5 1210.1,654.0 1210.2,641.8 1210.3,655.0 1210.4,647.0 1210.6,647.3 1210.7,658.5 1210.8,649.5 1210.9,661.4 1211.0,655.7 1211.1,648.6 1211.2,649.9 1211.3,646.6 1211.4,652.5 1211.5,656.5 1211.6,653.1 1211.8,655.1 1211.9,648.0 1212.0,662.3 1212.1,658.0 1212.2,661.0 1212.3,647.3 1212.4,653.7 1212.5,650.3 1212.6,665.8 1212.7,654.4 1212.8,669.4 1213.0,657.7 1213.1,651.2 1213.2,662.5 1213.3,665.5 1213.4,653.6 1213.5,651.3 1213.6,654.9 1213.7,648.0 1213.8,648.5 1213.9,624.7 1214.0,650.7 1214.2,645.8 1214.3,654.6 1214.4,655.1 1214.5,659.8 1214.6,654.8 1214.7,651.9 1214.8,661.2 1214.9,649.5 1215.0,639.6 1215.1,644.1 1215.3,649.7 1215.4,656.0 1215.5,658.7 1215.6,645.6 1215.7,658.5 1215.8,653.9 1215.9,655.7 1216.0,645.4 1216.1,650.0 1216.2,638.6 1216.3,652.9 1216.5,649.9 1216.6,656.9 1216.7,659.9 1216.8,646.8 1216.9,659.0 1217.0,659.6 1217.1,651.4 1217.2,665.3 1217.3,648.1 1217.4,643.7 1217.5,653.1 1217.7,664.6 1217.8,657.7 1217.9,642.7 1218.0,650.2 1218.1,661.6 1218.2,648.5 1218.3,652.0 1218.4,646.3 1218.5,665.5 1218.6,664.1 1218.7,644.8 1218.9,641.0 1219.0,656.3 1219.1,655.6 1219.2,653.3 1219.3,653.8 1219.4,650.1 1219.5,664.4 1219.6,657.5 1219.7,660.8 1219.8,658.1 1219.9,649.2 1220.1,650.2 1220.2,651.4 1220.3,654.2 1220.4,649.1 1220.5,648.5 1220.6,652.7 1220.7,651.5 1220.8,653.5 1220.9,664.6 1221.0,662.5 1221.2,651.4 1221.3,655.2 1221.4,652.8 1221.5,649.4 1221.6,658.5 1221.7,643.0 1221.8,657.3 1221.9,653.8 1222.0,637.8 1222.1,658.1 1222.2,661.3 1222.4,656.7 1222.5,657.3 1222.6,649.3 1222.7,657.8 1222.8,663.6 1222.9,647.0 1223.0,667.7 1223.1,642.2 1223.2,658.7 1223.3,649.5 1223.4,654.8 1223.6,653.6 1223.7,654.6 1223.8,667.1 1223.9,649.5 1224.0,655.6 1224.1,661.5 1224.2,652.9 1224.3,639.6 1224.4,649.1 1224.5,649.3 1224.6,647.2 1224.8,656.9 1224.9,654.1 1225.0,647.7 1225.1,649.0 1225.2,642.9 1225.3,649.0 1225.4,664.5 1225.5,642.3 1225.6,665.7 1225.7,653.6 1225.9,652.5 1226.0,649.7 1226.1,645.7 1226.2,656.8 1226.3,648.0 1226.4,648.6 1226.5,652.3 1226.6,664.0 1226.7,650.8 1226.8,652.8 1226.9,671.6 1227.1,638.2 1227.2,658.8 1227.3,669.0 1227.4,653.6 1227.5,642.4 1227.6,659.7 1227.7,651.3 1227.8,662.0 1227.9,656.9 1228.0,656.5 1228.1,648.2 1228.3,660.6 1228.4,656.5 1228.5,655.8 1228.6,656.4 1228.7,656.9 1228.8,654.5 1228.9,653.1 1229.0,643.1 1229.1,649.7 1229.2,650.9 1229.3,659.8 1229.5,659.5 1229.6,646.4 1229.7,649.3 1229.8,648.2 1229.9,654.3 1230.0,654.9 1230.1,657.2 1230.2,648.7 1230.3,647.3 1230.4,666.7 1230.5,646.2 1230.7,662.8 1230.8,658.9 1230.9,660.0 1231.0,655.1 1231.1,654.0 1231.2,664.9 1231.3,653.3 1231.4,654.7 1231.5,653.1 1231.6,656.8 1231.8,653.7 1231.9,652.9 1232.0,659.2 1232.1,657.8 1232.2,647.9 1232.3,655.7 1232.4,664.3 1232.5,658.7 1232.6,665.7 1232.7,644.6 1232.8,657.8 1233.0,642.7 1233.1,658.9 1233.2,650.4 1233.3,653.5 1233.4,657.4 1233.5,649.2 1233.6,649.6 1233.7,650.8 1233.8,658.2 1233.9,662.0 1234.0,648.0 1234.2,646.8 1234.3,653.2 1234.4,645.0 1234.5,644.1 1234.6,656.0 1234.7,649.7 1234.8,662.3 1234.9,646.3 1235.0,662.5 1235.1,660.9 1235.2,651.0 1235.4,655.2 1235.5,636.8 1235.6,655.7 1235.7,655.0 1235.8,649.3 1235.9,663.5 1236.0,639.7 1236.1,660.0 1236.2,656.3 1236.3,657.5 1236.5,645.7 1236.6,659.9 1236.7,652.5 1236.8,656.2 1236.9,667.9 1237.0,650.9 1237.1,637.5 1237.2,657.4 1237.3,656.7 1237.4,653.5 1237.5,651.3 1237.7,649.8 1237.8,656.1 1237.9,658.7 1238.0,652.3 1238.1,662.6 1238.2,653.0 1238.3,658.6 1238.4,653.4 1238.5,654.7 1238.6,660.9 1238.7,659.0 1238.9,661.7 1239.0,661.5 1239.1,655.0 1239.2,658.7 1239.3,657.7 1239.4,657.3 1239.5,660.1 1239.6,655.6 1239.7,656.1 1239.8,658.7 1239.9,649.2 1240.1,660.6 1240.2,661.5 1240.3,642.2 1240.4,660.0 1240.5,650.8 1240.6,650.3 1240.7,660.1 1240.8,651.0 1240.9,658.5 1241.0,652.8 1241.1,640.2 1241.3,668.4 1241.4,652.7 1241.5,649.9 1241.6,655.1 1241.7,669.0 1241.8,647.4 1241.9,674.6 1242.0,653.2 1242.1,659.1 1242.2,657.5 1242.4,664.5 1242.5,653.3 1242.6,685.2 1242.7,655.7 1242.8,649.2 1242.9,659.3 1243.0,662.8 1243.1,661.7 1243.2,663.2 1243.3,655.5 1243.4,666.0 1243.6,662.4 1243.7,644.9 1243.8,654.6 1243.9,647.8 1244.0,655.2 1244.1,658.4 1244.2,654.3 1244.3,656.5 1244.4,662.3 1244.5,670.5 1244.6,667.2 1244.8,637.8 1244.9,653.7 1245.0,653.8 1245.1,654.3 1245.2,651.9 1245.3,651.6 1245.4,661.9 1245.5,665.6 1245.6,650.4 1245.7,662.1 1245.8,643.0 1246.0,660.0 1246.1,667.9 1246.2,663.8 1246.3,652.5 1246.4,652.5 1246.5,655.4 1246.6,666.3 1246.7,663.8 1246.8,659.6 1246.9,661.2 1247.1,650.9 1247.2,643.2 1247.3,653.8 1247.4,654.8 1247.5,662.4 1247.6,657.9 1247.7,677.5 1247.8,654.1 1247.9,653.3 1248.0,666.0 1248.1,657.3 1248.3,668.6 1248.4,668.8 1248.5,661.3 1248.6,660.5 1248.7,645.4 1248.8,663.6 1248.9,655.6 1249.0,658.5 1249.1,660.4 1249.2,654.9 1249.3,642.1 1249.5,651.0 1249.6,647.3 1249.7,660.2 1249.8,654.0 1249.9,654.5 1250.0,650.9 1250.1,652.9 1250.2,645.9 1250.3,655.1 1250.4,647.4 1250.5,656.2 1250.7,652.6 1250.8,656.5 1250.9,660.7 1251.0,656.9 1251.1,655.0 1251.2,659.2 1251.3,650.7 1251.4,654.3 1251.5,657.8 1251.6,646.2 1251.7,651.0 1251.9,668.5 1252.0,656.8 1252.1,656.7 1252.2,659.1 1252.3,654.1 1252.4,652.3 1252.5,652.8 1252.6,661.7 1252.7,665.5 1252.8,651.5 1253.0,654.4 1253.1,657.8 1253.2,648.0 1253.3,657.0 1253.4,661.3 1253.5,661.3 1253.6,669.7 1253.7,652.1 1253.8,654.3 1253.9,659.3 1254.0,655.7 1254.2,660.8 1254.3,653.2 1254.4,641.8 1254.5,647.4 1254.6,642.2 1254.7,654.3 1254.8,672.5 1254.9,656.8 1255.0,649.2 1255.1,639.0 1255.2,651.1 1255.4,646.6 1255.5,647.2 1255.6,652.1 1255.7,666.5 1255.8,648.5 1255.9,646.6 1256.0,642.7 1256.1,657.2 1256.2,644.9 1256.3,638.7 1256.4,647.1 1256.6,652.4 1256.7,642.7 1256.8,650.6 1256.9,627.2 1257.0,658.0 1257.1,642.5 1257.2,648.7 1257.3,642.8 1257.4,645.9 1257.5,651.6 1257.7,645.1 1257.8,647.8 1257.9,656.6 1258.0,665.7 1258.1,654.1 1258.2,648.9 1258.3,649.9 1258.4,640.5 1258.5,641.8 1258.6,641.0 1258.7,651.0 1258.9,647.6 1259.0,645.4 1259.1,663.8 1259.2,648.6 1259.3,654.0 1259.4,651.0 1259.5,648.4 1259.6,650.8 1259.7,638.0 1259.8,648.6 1259.9,654.7 1260.1,658.8 1260.2,645.5 1260.3,657.1 1260.4,653.4 1260.5,645.5 1260.6,637.8 1260.7,650.7 1260.8,644.2 1260.9,656.6 1261.0,651.8 1261.1,640.2 1261.3,646.1 1261.4,651.3 1261.5,657.9 1261.6,633.1 1261.7,652.9 1261.8,641.7 1261.9,648.7 1262.0,644.1 1262.1,655.8 1262.2,652.2 1262.3,661.7 1262.5,669.2 1262.6,645.3 1262.7,635.8 1262.8,648.6 1262.9,646.1 1263.0,650.1 1263.1,645.1 1263.2,645.9 1263.3,656.1 1263.4,652.6 1263.6,641.9 1263.7,653.8 1263.8,646.2 1263.9,651.7 1264.0,657.8 1264.1,648.1 1264.2,631.8 1264.3,651.9 1264.4,648.1 1264.5,662.1 1264.6,649.2 1264.8,645.4 1264.9,632.8 1265.0,634.9 1265.1,644.5 1265.2,650.6 1265.3,643.5 1265.4,652.5 1265.5,655.9 1265.6,654.2 1265.7,644.9 1265.8,638.2 1266.0,655.2 1266.1,645.2 1266.2,645.1 1266.3,645.7 1266.4,657.5 1266.5,635.6 1266.6,654.9 1266.7,653.4 1266.8,658.4 1266.9,651.2 1267.0,663.0 1267.2,652.9 1267.3,641.7 1267.4,638.2 1267.5,648.5 1267.6,650.8 1267.7,649.7 1267.8,654.6 1267.9,655.4 1268.0,630.5 1268.1,647.1 1268.3,646.5 1268.4,650.7 1268.5,641.3 1268.6,664.0 1268.7,646.8 1268.8,654.6 1268.9,641.3 1269.0,644.7 1269.1,625.7 1269.2,638.2 1269.3,642.2 1269.5,640.3 1269.6,645.7 1269.7,646.1 1269.8,643.6 1269.9,643.6 1270.0,635.0 1270.1,639.0 1270.2,638.8 1270.3,637.9 1270.4,647.7 1270.5,646.4 1270.7,637.3 1270.8,640.5 1270.9,643.6 1271.0,644.7 1271.1,654.6 1271.2,642.8 1271.3,639.9 1271.4,646.6 1271.5,648.5 1271.6,661.2 1271.7,635.8 1271.9,639.7 1272.0,642.3 1272.1,642.0 1272.2,630.3 1272.3,643.3 1272.4,649.6 1272.5,643.4 1272.6,638.0 1272.7,630.9 1272.8,631.3 1272.9,637.0 1273.1,632.1 1273.2,631.4 1273.3,624.4 1273.4,638.8 1273.5,647.1 1273.6,633.5 1273.7,637.5 1273.8,634.2 1273.9,644.7 1274.0,631.9 1274.2,631.5 1274.3,623.2 1274.4,629.5 1274.5,627.4 1274.6,626.7 1274.7,640.9 1274.8,634.7 1274.9,637.2 1275.0,631.9 1275.1,622.1 1275.2,628.3 1275.4,635.6 1275.5,622.6 1275.6,627.4 1275.7,627.2 1275.8,634.2 1275.9,625.8 1276.0,630.7 1276.1,629.6 1276.2,622.6 1276.3,625.0 1276.4,613.9 1276.6,618.0 1276.7,624.6 1276.8,623.0 1276.9,622.2 1277.0,619.5 1277.1,625.4 1277.2,623.4 1277.3,618.6 1277.4,605.5 1277.5,638.3 1277.6,632.6 1277.8,602.2 1277.9,625.9 1278.0,612.2 1278.1,633.0 1278.2,606.7 1278.3,611.8 1278.4,607.6 1278.5,615.3 1278.6,615.9 1278.7,609.8 1278.9,590.6 1279.0,608.1 1279.1,598.8 1279.2,618.7 1279.3,602.5 1279.4,589.7 1279.5,603.8 1279.6,594.0 1279.7,606.8 1279.8,593.2 1279.9,604.9 1280.1,588.1 1280.2,608.9 1280.3,599.5 1280.4,605.0 1280.5,595.6 1280.6,634.0 1280.7,596.9 1280.8,603.2 1280.9,596.9 1281.0,607.0 1281.1,584.7 1281.3,583.5 1281.4,599.9 1281.5,582.3 1281.6,587.0 1281.7,597.5 1281.8,593.2 1281.9,573.5 1282.0,593.4 1282.1,587.7 1282.2,583.7 1282.3,597.3 1282.5,596.3 1282.6,602.8 1282.7,588.0 1282.8,584.3 1282.9,611.4 1283.0,597.9 1283.1,595.7 1283.2,582.1 1283.3,584.0 1283.4,592.9 1283.5,562.6 1283.7,575.2 1283.8,587.1 1283.9,569.6 1284.0,589.0 1284.1,581.1 1284.2,569.1 1284.3,581.9 1284.4,583.2 1284.5,581.7 1284.6,586.3 1284.8,568.6 1284.9,576.9 1285.0,585.3 1285.1,583.4 1285.2,583.4 1285.3,604.5 1285.4,578.8 1285.5,577.4 1285.6,587.2 1285.7,580.8 1285.8,590.5 1286.0,582.2 1286.1,598.0 1286.2,578.9 1286.3,582.5 1286.4,591.8 1286.5,585.9 1286.6,593.1 1286.7,592.2 1286.8,593.1 1286.9,577.0 1287.0,594.2 1287.2,587.7 1287.3,590.0 1287.4,581.6 1287.5,591.5 1287.6,594.8 1287.7,591.9 1287.8,593.4 1287.9,591.1 1288.0,587.7 1288.1,593.6 1288.2,589.3 1288.4,590.1 1288.5,595.7 1288.6,609.7 1288.7,606.3 1288.8,601.8 1288.9,594.3 1289.0,588.1 1289.1,597.8 1289.2,587.9 1289.3,588.8 1289.5,582.4 1289.6,607.5 1289.7,607.6 1289.8,591.1 1289.9,601.7 1290.0,604.6 1290.1,614.8 1290.2,614.6 1290.3,597.5 1290.4,607.1 1290.5,593.7 1290.7,605.2 1290.8,606.9 1290.9,604.8 1291.0,599.0 1291.1,606.2 1291.2,625.6 1291.3,605.2 1291.4,611.7 1291.5,619.1 1291.6,619.2 1291.7,611.5 1291.9,625.4 1292.0,625.3 1292.1,616.8 1292.2,621.1 1292.3,614.8 1292.4,626.0 1292.5,618.9 1292.6,626.0 1292.7,606.4 1292.8,626.0 1292.9,618.5 1293.1,629.7 1293.2,628.1 1293.3,618.9 1293.4,620.1 1293.5,617.2 1293.6,613.1 1293.7,620.2 1293.8,627.8 1293.9,620.7 1294.0,613.1 1294.1,623.1 1294.3,615.4 1294.4,623.9 1294.5,629.0 1294.6,631.2 1294.7,633.9 1294.8,619.8 1294.9,607.7 1295.0,625.8 1295.1,624.6 1295.2,631.7 1295.4,632.7 1295.5,626.4 1295.6,629.2 1295.7,636.1 1295.8,625.8 1295.9,616.3 1296.0,637.6 1296.1,633.4 1296.2,629.2 1296.3,641.9 1296.4,632.4 1296.6,622.5 1296.7,636.3 1296.8,647.3 1296.9,627.7 1297.0,640.9 1297.1,627.0 1297.2,641.8 1297.3,633.7 1297.4,634.2 1297.5,648.7 1297.6,655.6 1297.8,625.9 1297.9,637.3 1298.0,633.3 1298.1,647.4 1298.2,640.0 1298.3,633.3 1298.4,645.1 1298.5,644.2 1298.6,639.4 1298.7,646.5 1298.8,643.2 1299.0,647.7 1299.1,633.5 1299.2,651.1 1299.3,648.4 1299.4,636.4 1299.5,667.2 1299.6,653.2 1299.7,644.8 1299.8,639.2 1299.9,639.1 1300.1,642.9 1300.2,646.5 1300.3,635.2 1300.4,636.4 1300.5,653.1 1300.6,635.3 1300.7,658.4 1300.8,643.5 1300.9,634.7 1301.0,638.5 1301.1,656.1 1301.3,645.3 1301.4,637.8 1301.5,653.2 1301.6,647.9 1301.7,635.2 1301.8,637.5 1301.9,634.6 1302.0,645.3 1302.1,649.0 1302.2,655.4 1302.3,655.7 1302.5,651.4 1302.6,634.8 1302.7,640.6 1302.8,647.6 1302.9,642.6 1303.0,645.4 1303.1,641.3 1303.2,644.5 1303.3,651.3 1303.4,648.4 1303.5,636.0 1303.7,642.9 1303.8,638.6 1303.9,635.3 1304.0,652.1 1304.1,645.6 1304.2,661.7 1304.3,649.2 1304.4,648.5 1304.5,641.5 1304.6,640.5 1304.7,651.4 1304.9,643.0 1305.0,656.8 1305.1,653.4 1305.2,653.6 1305.3,648.8 1305.4,641.4 1305.5,657.2 1305.6,646.0 1305.7,649.2 1305.8,654.3 1306.0,647.5 1306.1,646.6 1306.2,640.5 1306.3,666.4 1306.4,661.6 1306.5,644.3 1306.6,658.0 1306.7,662.8 1306.8,662.5 1306.9,657.3 1307.0,645.7 1307.2,640.3 1307.3,644.9 1307.4,652.5 1307.5,658.8 1307.6,658.5 1307.7,649.1 1307.8,653.2 1307.9,646.4 1308.0,637.5 1308.1,644.5 1308.2,655.5 1308.4,653.7 1308.5,648.9 1308.6,648.4 1308.7,664.1 1308.8,652.2 1308.9,647.1 1309.0,639.1 1309.1,644.5 1309.2,656.4 1309.3,645.4 1309.4,657.8 1309.6,646.4 1309.7,691.1 1309.8,646.4 1309.9,655.7 1310.0,644.8 1310.1,655.2 1310.2,655.4 1310.3,651.6 1310.4,638.9 1310.5,673.9 1310.7,655.8 1310.8,645.2 1310.9,648.2 1311.0,655.7 1311.1,646.5 1311.2,656.0 1311.3,643.2 1311.4,652.5 1311.5,656.7 1311.6,648.3 1311.7,651.3 1311.9,653.1 1312.0,660.3 1312.1,658.3 1312.2,651.8 1312.3,655.0 1312.4,648.3 1312.5,648.2 1312.6,648.5 1312.7,647.6 1312.8,656.9 1312.9,648.2 1313.1,646.4 1313.2,647.0 1313.3,652.2 1313.4,656.9 1313.5,650.5 1313.6,647.9 1313.7,656.7 1313.8,662.9 1313.9,649.1 1314.0,653.4 1314.1,644.2 1314.3,673.5 1314.4,650.3 1314.5,638.8 1314.6,658.8 1314.7,654.8 1314.8,662.3 1314.9,651.9 1315.0,658.1 1315.1,659.1 1315.2,661.1 1315.3,670.9 1315.5,657.3 1315.6,652.6 1315.7,661.4 1315.8,652.8 1315.9,670.6 1316.0,659.7 1316.1,658.4 1316.2,646.9 1316.3,647.2 1316.4,654.3 1316.6,657.7 1316.7,644.3 1316.8,655.4 1316.9,659.8 1317.0,654.7 1317.1,672.2 1317.2,660.2 1317.3,668.7 1317.4,654.0 1317.5,661.2 1317.6,639.4 1317.8,652.1 1317.9,663.2 1318.0,653.9 1318.1,652.6 1318.2,648.3 1318.3,668.5 1318.4,666.2 1318.5,657.2 1318.6,660.0 1318.7,658.0 1318.8,648.7 1319.0,660.1 1319.1,649.7 1319.2,653.4 1319.3,666.0 1319.4,658.5 1319.5,652.5 1319.6,667.2 1319.7,658.5 1319.8,664.5 1319.9,659.9 1320.0,662.8 1320.2,661.9 1320.3,653.5 1320.4,673.0 1320.5,662.2 1320.6,641.6 1320.7,665.5 1320.8,649.9 1320.9,665.1 1321.0,670.5 1321.1,657.9 1321.3,659.8 1321.4,667.6 1321.5,664.0 1321.6,663.4 1321.7,658.4 1321.8,659.9 1321.9,631.9 1322.0,658.5 1322.1,660.0 1322.2,665.5 1322.3,664.8 1322.5,653.1 1322.6,656.6 1322.7,647.5 1322.8,661.1 1322.9,671.8 1323.0,661.5 1323.1,654.2 1323.2,660.1 1323.3,658.0 1323.4,650.5 1323.5,652.5 1323.7,655.9 1323.8,662.7 1323.9,652.8 1324.0,651.8 1324.1,647.8 1324.2,657.4 1324.3,650.9 1324.4,683.3 1324.5,658.6 1324.6,638.4 1324.7,667.9 1324.9,659.6 1325.0,657.4 1325.1,659.0 1325.2,653.1 1325.3,651.3 1325.4,652.2 1325.5,655.9 1325.6,659.2 1325.7,668.8 1325.8,658.1 1325.9,660.6 1326.1,661.5 1326.2,648.8 1326.3,647.0 1326.4,648.0 1326.5,664.2 1326.6,645.1 1326.7,657.8 1326.8,648.0 1326.9,670.6 1327.0,644.9 1327.2,645.4 1327.3,650.3 1327.4,645.6 1327.5,657.4 1327.6,659.8 1327.7,660.1 1327.8,683.2 1327.9,638.9 1328.0,654.9 1328.1,647.5 1328.2,649.2 1328.4,657.3 1328.5,669.6 1328.6,647.6 1328.7,668.4 1328.8,655.6 1328.9,650.4 1329.0,635.0 1329.1,665.3 1329.2,654.7 1329.3,652.3 1329.4,649.5 1329.6,652.3 1329.7,651.0 1329.8,654.5 1329.9,641.9 1330.0,655.6 1330.1,661.1 1330.2,659.8 1330.3,634.3 1330.4,655.4 1330.5,657.0 1330.6,662.6 1330.8,660.1 1330.9,660.9 1331.0,652.9 1331.1,658.6 1331.2,653.6 1331.3,651.5 1331.4,642.8 1331.5,655.5 1331.6,651.7 1331.7,642.2 1331.9,662.2 1332.0,651.1 1332.1,656.0 1332.2,656.0 1332.3,650.6 1332.4,655.0 1332.5,659.7 1332.6,647.8 1332.7,644.1 1332.8,660.1 1332.9,657.0 1333.1,648.0 1333.2,660.0 1333.3,644.5 1333.4,653.1 1333.5,654.2 1333.6,651.8 1333.7,658.5 1333.8,647.3 1333.9,639.8 1334.0,647.2 1334.1,655.2 1334.3,652.7 1334.4,651.8 1334.5,649.7 1334.6,658.2 1334.7,647.6 1334.8,652.7 1334.9,652.7 1335.0,644.4 1335.1,655.9 1335.2,653.3 1335.3,654.6 1335.5,641.8 1335.6,659.5 1335.7,646.0 1335.8,651.2 1335.9,653.8 1336.0,657.1 1336.1,647.3 1336.2,653.6 1336.3,651.0 1336.4,651.0 1336.5,651.6 1336.7,644.8 1336.8,650.2 1336.9,658.4 1337.0,644.0 1337.1,640.3 1337.2,659.9 1337.3,630.4 1337.4,648.8 1337.5,647.1 1337.6,652.2 1337.8,647.9 1337.9,652.8 1338.0,646.2 1338.1,641.5 1338.2,664.9 1338.3,650.0 1338.4,652.2 1338.5,629.9 1338.6,643.8 1338.7,645.8 1338.8,655.5 1339.0,642.6 1339.1,650.7 1339.2,644.9 1339.3,641.9 1339.4,651.0 1339.5,648.2 1339.6,639.0 1339.7,650.2 1339.8,637.4 1339.9,649.1 1340.0,645.2 1340.2,660.1 1340.3,647.9 1340.4,659.2 1340.5,648.5 1340.6,641.1 1340.7,648.4 1340.8,634.2 1340.9,635.9 1341.0,643.6 1341.1,654.6 1341.2,658.0 1341.4,635.0 1341.5,629.4 1341.6,645.4 1341.7,632.1 1341.8,635.1 1341.9,638.3 1342.0,627.5 1342.1,629.5 1342.2,640.5 1342.3,648.1 1342.5,636.3 1342.6,640.9 1342.7,642.9 1342.8,643.3 1342.9,638.6 1343.0,627.4 1343.1,637.9 1343.2,615.1 1343.3,636.6 1343.4,645.3 1343.5,640.0 1343.7,614.5 1343.8,637.0 1343.9,641.2 1344.0,629.9 1344.1,636.1 1344.2,634.9 1344.3,627.9 1344.4,625.3 1344.5,617.4 1344.6,631.3 1344.7,587.6 1344.9,624.7 1345.0,618.3 1345.1,619.7 1345.2,615.2 1345.3,617.0 1345.4,610.8 1345.5,609.1 1345.6,627.9 1345.7,611.8 1345.8,634.2 1345.9,617.6 1346.1,612.1 1346.2,611.6 1346.3,608.1 1346.4,615.2 1346.5,606.5 1346.6,603.2 1346.7,610.0 1346.8,603.2 1346.9,606.2 1347.0,596.7 1347.1,600.0 1347.3,606.2 1347.4,604.6 1347.5,589.5 1347.6,596.7 1347.7,579.2 1347.8,602.1 1347.9,589.2 1348.0,582.4 1348.1,587.9 1348.2,588.0 1348.4,615.7 1348.5,594.2 1348.6,604.8 1348.7,594.6 1348.8,603.9 1348.9,611.4 1349.0,609.5 1349.1,613.7 1349.2,612.3 1349.3,604.9 1349.4,611.8 1349.6,610.1 1349.7,606.2 1349.8,626.7 1349.9,604.2 1350.0,604.4 1350.1,610.3 1350.2,623.5 1350.3,614.6 1350.4,620.9 1350.5,615.5 1350.6,630.9 1350.8,624.7 1350.9,623.7 1351.0,634.9 1351.1,612.5 1351.2,637.1 1351.3,634.3 1351.4,621.0 1351.5,629.4 1351.6,635.4 1351.7,625.4 1351.8,628.4 1352.0,644.9 1352.1,676.9 1352.2,647.7 1352.3,641.5 1352.4,639.2 1352.5,624.0 1352.6,650.7 1352.7,636.4 1352.8,640.7 1352.9,641.5 1353.1,647.0 1353.2,645.8 1353.3,627.7 1353.4,637.9 1353.5,656.5 1353.6,650.9 1353.7,648.7 1353.8,650.1 1353.9,636.4 1354.0,643.2 1354.1,644.3 1354.3,650.7 1354.4,645.5 1354.5,640.7 1354.6,651.0 1354.7,644.3 1354.8,647.9 1354.9,633.1 1355.0,645.9 1355.1,647.2 1355.2,653.6 1355.3,643.9 1355.5,632.9 1355.6,634.6 1355.7,650.3 1355.8,649.6 1355.9,640.0 1356.0,636.6 1356.1,649.9 1356.2,639.0 1356.3,642.3 1356.4,633.2 1356.5,625.7 1356.7,644.6 1356.8,655.3 1356.9,641.4 1357.0,635.1 1357.1,651.9 1357.2,637.1 1357.3,629.2 1357.4,639.5 1357.5,645.5 1357.6,637.8 1357.7,643.7 1357.9,643.2 1358.0,642.4 1358.1,652.6 1358.2,643.3 1358.3,646.4 1358.4,651.3 1358.5,636.9 1358.6,648.0 1358.7,637.4 1358.8,640.9 1359.0,638.9 1359.1,645.4 1359.2,644.7 1359.3,633.6 1359.4,631.0 1359.5,629.3 1359.6,630.2 1359.7,632.6 1359.8,636.0 1359.9,631.2 1360.0,648.8 1360.2,643.9 1360.3,649.5 1360.4,638.5 1360.5,644.9 1360.6,632.7 1360.7,641.5 1360.8,641.9 1360.9,631.6 1361.0,634.9 1361.1,645.1 1361.2,643.2 1361.4,631.0 1361.5,616.6 1361.6,610.5 1361.7,629.5 1361.8,628.4 1361.9,627.3 1362.0,629.6 1362.1,629.8 1362.2,620.7 1362.3,621.2 1362.4,637.0 1362.6,640.1 1362.7,625.6 1362.8,625.2 1362.9,637.8 1363.0,625.9 1363.1,623.2 1363.2,622.1 1363.3,632.8 1363.4,617.4 1363.5,625.5 1363.7,605.4 1363.8,626.3 1363.9,627.7 1364.0,620.6 1364.1,623.6 1364.2,609.0 1364.3,615.7 1364.4,618.6 1364.5,621.7 1364.6,621.5 1364.7,616.7 1364.9,621.9 1365.0,623.2 1365.1,639.1 1365.2,623.3 1365.3,624.3 1365.4,624.4 1365.5,619.7 1365.6,619.0 1365.7,627.6 1365.8,621.0 1365.9,619.7 1366.1,624.0 1366.2,635.8 1366.3,616.1 1366.4,621.6 1366.5,626.3 1366.6,629.3 1366.7,636.8 1366.8,639.4 1366.9,620.8 1367.0,631.1 1367.1,638.5 1367.3,634.0 1367.4,620.2 1367.5,618.6 1367.6,627.0 1367.7,632.8 1367.8,620.3 1367.9,633.7 1368.0,623.6 1368.1,633.4 1368.2,634.4 1368.3,632.1 1368.5,636.3 1368.6,629.7 1368.7,631.1 1368.8,639.4 1368.9,627.1 1369.0,626.4 1369.1,621.2 1369.2,643.9 1369.3,627.0 1369.4,639.0 1369.6,633.7 1369.7,637.2 1369.8,630.7 1369.9,633.4 1370.0,650.6 1370.1,635.1 1370.2,627.3 1370.3,633.1 1370.4,625.4 1370.5,638.9 1370.6,641.4 1370.8,637.3 1370.9,646.3 1371.0,646.9 1371.1,635.0 1371.2,643.5 1371.3,635.3 1371.4,639.0 1371.5,636.8 1371.6,639.6 1371.7,630.8 1371.8,637.8 1372.0,621.0 1372.1,650.2 1372.2,636.7 1372.3,639.4 1372.4,630.5 1372.5,635.7 1372.6,644.2 1372.7,626.7 1372.8,642.8 1372.9,638.1 1373.0,656.2 1373.2,646.5 1373.3,648.4 1373.4,644.6 1373.5,650.3 1373.6,634.9 1373.7,654.4 1373.8,648.7 1373.9,632.7 1374.0,646.3 1374.1,643.5 1374.3,653.6 1374.4,641.9 1374.5,644.7 1374.6,647.9 1374.7,644.1 1374.8,656.8 1374.9,648.6 1375.0,641.1 1375.1,647.6 1375.2,644.9 1375.3,657.6 1375.5,639.1 1375.6,634.4 1375.7,661.5 1375.8,647.1 1375.9,655.4 1376.0,647.9 1376.1,644.4 1376.2,650.2 1376.3,646.7 1376.4,641.8 1376.5,632.8 1376.7,648.0 1376.8,654.5 1376.9,652.6 1377.0,634.1 1377.1,653.2 1377.2,624.4 1377.3,639.2 1377.4,642.9 1377.5,643.1 1377.6,632.5 1377.7,640.0 1377.9,642.1 1378.0,641.6 1378.1,645.2 1378.2,646.2 1378.3,640.8 1378.4,634.3 1378.5,652.3 1378.6,637.7 1378.7,631.4 1378.8,619.7 1378.9,636.6 1379.1,639.2 1379.2,641.5 1379.3,627.0 1379.4,632.7 1379.5,620.3 1379.6,633.3 1379.7,634.3 1379.8,626.2 1379.9,635.5 1380.0,638.3 1380.2,649.3 1380.3,618.9 1380.4,630.5 1380.5,637.2 1380.6,627.5 1380.7,625.3 1380.8,626.0 1380.9,633.8 1381.0,625.3 1381.1,613.4 1381.2,631.1 1381.4,645.9 1381.5,627.8 1381.6,633.9 1381.7,625.9 1381.8,620.5 1381.9,614.6 1382.0,625.0 1382.1,620.8 1382.2,637.0 1382.3,621.3 1382.4,623.7 1382.6,602.7 1382.7,619.7 1382.8,621.2 1382.9,618.5 1383.0,625.0 1383.1,614.0 1383.2,618.5 1383.3,597.8 1383.4,617.8 1383.5,617.5 1383.6,605.4 1383.8,577.3 1383.9,602.8 1384.0,608.7 1384.1,636.7 1384.2,598.8 1384.3,610.6 1384.4,611.2 1384.5,610.6 1384.6,601.3 1384.7,610.7 1384.9,595.6 1385.0,591.1 1385.1,605.4 1385.2,598.8 1385.3,588.4 1385.4,628.5 1385.5,610.0 1385.6,608.5 1385.7,597.4 1385.8,599.2 1385.9,592.6 1386.1,603.9 1386.2,602.8 1386.3,604.5 1386.4,614.8 1386.5,600.9 1386.6,603.6 1386.7,594.4 1386.8,617.2 1386.9,614.9 1387.0,589.1 1387.1,589.8 1387.3,636.1 1387.4,621.3 1387.5,613.0 1387.6,619.2 1387.7,588.8 1387.8,609.6 1387.9,616.3 1388.0,609.0 1388.1,596.4 1388.2,609.2 1388.3,604.5 1388.5,625.7 1388.6,609.2 1388.7,607.6 1388.8,599.8 1388.9,625.9 1389.0,615.0 1389.1,621.5 1389.2,617.1 1389.3,620.9 1389.4,619.6 1389.5,615.5 1389.7,630.9 1389.8,616.9 1389.9,625.3 1390.0,627.1 1390.1,630.6 1390.2,618.4 1390.3,643.3 1390.4,629.0 1390.5,619.7 1390.6,617.4 1390.8,630.5 1390.9,629.5 1391.0,634.6 1391.1,619.6 1391.2,631.2 1391.3,635.2 1391.4,639.7 1391.5,620.8 1391.6,629.7 1391.7,629.4 1391.8,634.4 1392.0,633.5 1392.1,636.8 1392.2,629.8 1392.3,638.9 1392.4,624.6 1392.5,635.9 1392.6,670.1 1392.7,629.7 1392.8,650.2 1392.9,647.1 1393.0,634.9 1393.2,642.6 1393.3,643.2 1393.4,632.6 1393.5,625.5 1393.6,639.2 1393.7,632.2 1393.8,645.2 1393.9,629.6 1394.0,656.9 1394.1,680.2 1394.2,638.0 1394.4,629.7 1394.5,646.5 1394.6,640.7 1394.7,643.9 1394.8,633.5 1394.9,633.6 1395.0,648.2 1395.1,635.7 1395.2,631.0 1395.3,648.7 1395.5,649.3 1395.6,643.4 1395.7,638.6 1395.8,657.5 1395.9,644.4 1396.0,651.5 1396.1,637.8 1396.2,637.3 1396.3,648.8 1396.4,657.5 1396.5,639.4 1396.7,643.2 1396.8,641.9 1396.9,657.3 1397.0,647.3 1397.1,650.1 1397.2,653.5 1397.3,651.6 1397.4,658.1 1397.5,637.5 1397.6,648.6 1397.7,649.4 1397.9,638.3 1398.0,648.9 1398.1,648.9 1398.2,645.3 1398.3,643.0 1398.4,656.2 1398.5,649.2 1398.6,647.1 1398.7,649.3 1398.8,644.2 1398.9,650.1 1399.1,651.6 1399.2,642.2 1399.3,647.3 1399.4,647.9 1399.5,649.7 1399.6,645.1 1399.7,647.9 1399.8,644.8 1399.9,635.6 1400.0,644.3 1400.1,637.5 1400.3,652.6 1400.4,650.8 1400.5,642.3 1400.6,634.6 1400.7,635.9 1400.8,640.7 1400.9,632.6 1401.0,653.2 1401.1,647.2 1401.2,655.0 1401.4,656.7 1401.5,651.6 1401.6,629.5 1401.7,660.8 1401.8,647.5 1401.9,632.9 1402.0,646.8 1402.1,646.6 1402.2,652.1 1402.3,640.9 1402.4,649.1 1402.6,645.7 1402.7,656.5 1402.8,644.0 1402.9,655.6 1403.0,654.5 1403.1,642.3 1403.2,650.5 1403.3,648.7 1403.4,659.2 1403.5,652.8 1403.6,643.3 1403.8,676.1 1403.9,644.5 1404.0,647.7 1404.1,650.5 1404.2,652.1 1404.3,643.2 1404.4,646.8 1404.5,646.4 1404.6,650.9 1404.7,644.4 1404.8,647.5 1405.0,641.8 1405.1,662.7 1405.2,655.1 1405.3,660.1 1405.4,647.1 1405.5,640.5 1405.6,641.5 1405.7,644.2 1405.8,656.6 1405.9,650.2 1406.1,649.4 1406.2,644.0 1406.3,663.0 1406.4,642.6 1406.5,649.7 1406.6,649.5 1406.7,650.2 1406.8,650.5 1406.9,653.5 1407.0,669.1 1407.1,658.7 1407.3,656.4 1407.4,644.1 1407.5,662.2 1407.6,662.6 1407.7,648.4 1407.8,655.9 1407.9,636.8 1408.0,646.4 1408.1,661.5 1408.2,641.9 1408.3,658.1 1408.5,661.1 1408.6,643.4 1408.7,652.4 1408.8,663.9 1408.9,670.1 1409.0,654.6 1409.1,664.8 1409.2,648.7 1409.3,650.0 1409.4,657.7 1409.5,660.3 1409.7,657.3 1409.8,664.6 1409.9,663.4 1410.0,666.7 1410.1,662.5 1410.2,657.8 1410.3,658.7 1410.4,657.4 1410.5,659.4 1410.6,666.3 1410.7,665.7 1410.9,668.2 1411.0,665.1 1411.1,664.8 1411.2,648.8 1411.3,656.4 1411.4,655.4 1411.5,653.4 1411.6,641.8 1411.7,663.6 1411.8,651.4 1412.0,653.8 1412.1,653.6 1412.2,669.8 1412.3,662.1 1412.4,669.0 1412.5,658.4 1412.6,664.4 1412.7,664.4 1412.8,657.9 1412.9,659.8 1413.0,635.2 1413.2,651.7 1413.3,659.1 1413.4,642.9 1413.5,663.5 1413.6,659.5 1413.7,654.2 1413.8,664.0 1413.9,661.8 1414.0,666.6 1414.1,659.8 1414.2,663.1 1414.4,660.7 1414.5,649.8 1414.6,659.5 1414.7,659.0 1414.8,660.4 1414.9,659.9 1415.0,665.4 1415.1,659.6 1415.2,654.7 1415.3,663.5 1415.4,645.5 1415.6,649.8 1415.7,667.8 1415.8,648.8 1415.9,660.4 1416.0,651.9 1416.1,663.7 1416.2,661.6 1416.3,665.6 1416.4,662.2 1416.5,667.1 1416.7,653.4 1416.8,670.1 1416.9,656.9 1417.0,665.0 1417.1,657.7 1417.2,665.9 1417.3,661.0 1417.4,659.3 1417.5,661.4 1417.6,658.0 1417.7,657.5 1417.9,666.7 1418.0,666.0 1418.1,656.9 1418.2,654.0 1418.3,664.5 1418.4,651.1 1418.5,655.8 1418.6,648.0 1418.7,651.7 1418.8,655.5 1418.9,659.3 1419.1,656.8 1419.2,663.4 1419.3,645.1 1419.4,670.8 1419.5,661.5 1419.6,660.8 1419.7,651.7 1419.8,663.7 1419.9,652.5 1420.0,657.4 1420.1,659.1 1420.3,661.5 1420.4,661.5 1420.5,652.0 1420.6,648.7 1420.7,678.1 1420.8,662.8 1420.9,661.7 1421.0,665.9 1421.1,660.9 1421.2,645.5 1421.3,657.9 1421.5,663.8 1421.6,657.9 1421.7,669.9 1421.8,660.2 1421.9,654.6 1422.0,651.8 1422.1,655.6 1422.2,663.1 1422.3,645.7 1422.4,662.0 1422.6,643.2 1422.7,669.1 1422.8,654.9 1422.9,657.3 1423.0,652.5 1423.1,662.1 1423.2,646.8 1423.3,663.4 1423.4,667.5 1423.5,652.7 1423.6,646.0 1423.8,656.2 1423.9,644.1 1424.0,644.6 1424.1,646.1 1424.2,648.7 1424.3,630.0 1424.4,639.8 1424.5,634.2 1424.6,625.1 1424.7,626.5 1424.8,617.5 1425.0,608.2 1425.1,591.0 1425.2,581.8 1425.3,594.8 1425.4,595.3 1425.5,578.2 1425.6,579.6 1425.7,592.1 1425.8,584.3 1425.9,562.6 1426.0,581.6 1426.2,574.8 1426.3,583.1 1426.4,582.7 1426.5,578.0 1426.6,605.0 1426.7,573.4 1426.8,589.2 1426.9,611.4 1427.0,606.6 1427.1,617.1 1427.3,608.9 1427.4,627.1 1427.5,620.5 1427.6,621.0 1427.7,624.8 1427.8,645.1 1427.9,640.0 1428.0,654.1 1428.1,648.4 1428.2,645.4 1428.3,640.0 1428.5,651.2 1428.6,653.9 1428.7,643.0 1428.8,642.3 1428.9,646.6 1429.0,639.6 1429.1,655.0 1429.2,657.0 1429.3,652.6 1429.4,655.0 1429.5,655.3 1429.7,662.3 1429.8,659.6 1429.9,661.0 1430.0,649.2 1430.1,657.2 1430.2,653.4 1430.3,646.1 1430.4,656.7 1430.5,643.4 1430.6,646.9 1430.7,661.2 1430.9,658.8 1431.0,642.2 1431.1,657.1 1431.2,655.3 1431.3,650.7 1431.4,647.2 1431.5,652.5 1431.6,659.6 1431.7,667.3 1431.8,661.2 1431.9,649.9 1432.1,660.3 1432.2,670.1 1432.3,655.2 1432.4,648.3 1432.5,664.4 1432.6,652.5 1432.7,656.8 1432.8,658.6 1432.9,655.3 1433.0,656.9 1433.2,661.9 1433.3,668.4 1433.4,659.7 1433.5,662.8 1433.6,660.3 1433.7,653.9 1433.8,669.7 1433.9,660.3 1434.0,662.1 1434.1,665.6 1434.2,657.7 1434.4,650.9 1434.5,648.6 1434.6,657.6 1434.7,667.4 1434.8,662.6 1434.9,663.5 1435.0,656.2 1435.1,650.1 1435.2,658.4 1435.3,632.1 1435.4,652.3 1435.6,662.1 1435.7,653.8 1435.8,648.5 1435.9,661.3 1436.0,664.2 1436.1,658.5 1436.2,645.5 1436.3,661.3 1436.4,651.6 1436.5,659.9 1436.6,663.8 1436.8,660.1 1436.9,665.3 1437.0,661.2 1437.1,653.6 1437.2,648.1 1437.3,669.4 1437.4,671.2 1437.5,655.4 1437.6,659.9 1437.7,661.3 1437.9,664.0 1438.0,648.6 1438.1,670.9 1438.2,660.0 1438.3,660.3 1438.4,656.7 1438.5,668.4 1438.6,656.6 1438.7,671.1 1438.8,669.1 1438.9,655.6 1439.1,665.7 1439.2,665.8 1439.3,657.5 1439.4,645.1 1439.5,657.9 1439.6,661.8 1439.7,694.4 1439.8,667.8 1439.9,665.6 1440.0,661.0 1440.1,665.2 1440.3,652.8 1440.4,652.3 1440.5,648.8 1440.6,649.9 1440.7,656.7 1440.8,671.8 1440.9,649.8 1441.0,661.1 1441.1,659.5 1441.2,647.2 1441.3,658.4 1441.5,644.9 1441.6,676.8 1441.7,664.6 1441.8,654.0 1441.9,656.8 1442.0,656.1 1442.1,654.5 1442.2,664.0 1442.3,651.8 1442.4,656.4 1442.5,651.5 1442.7,667.6 1442.8,661.2 1442.9,667.1 1443.0,654.7 1443.1,642.6 1443.2,663.6 1443.3,662.2 1443.4,665.6 1443.5,659.6 1443.6,664.6 1443.8,666.6 1443.9,656.9 1444.0,628.9 1444.1,665.0 1444.2,661.5 1444.3,656.9 1444.4,650.9 1444.5,670.9 1444.6,660.4 1444.7,659.6 1444.8,653.1 1445.0,653.9 1445.1,659.9 1445.2,650.5 1445.3,667.2 1445.4,655.8 1445.5,667.1 1445.6,659.3 1445.7,645.9 1445.8,670.7 1445.9,656.4 1446.0,653.0 1446.2,662.6 1446.3,663.1 1446.4,657.2 1446.5,643.6 1446.6,645.2 1446.7,663.2 1446.8,652.7 1446.9,658.7 1447.0,649.1 1447.1,656.7 1447.2,642.8 1447.4,653.1 1447.5,664.6 1447.6,656.3 1447.7,652.5 1447.8,653.7 1447.9,655.1 1448.0,667.8 1448.1,656.5 1448.2,658.1 1448.3,651.4 1448.5,659.0 1448.6,658.4 1448.7,650.5 1448.8,643.9 1448.9,653.5 1449.0,672.7 1449.1,651.8 1449.2,653.0 1449.3,663.8 1449.4,655.9 1449.5,643.9 1449.7,667.6 1449.8,657.1 1449.9,653.1 1450.0,654.3 1450.1,659.3 1450.2,652.3 1450.3,682.0 1450.4,659.0 1450.5,659.8 1450.6,657.5 1450.7,652.1 1450.9,657.5 1451.0,668.0 1451.1,652.7 1451.2,655.0 1451.3,657.8 1451.4,650.3 1451.5,660.8 1451.6,646.3 1451.7,657.2 1451.8,647.6 1451.9,651.9 1452.1,651.5 1452.2,671.4 1452.3,644.6 1452.4,660.4 1452.5,656.9 1452.6,649.0 1452.7,660.7 1452.8,654.2 1452.9,643.5 1453.0,628.5 1453.1,655.2 1453.3,655.2 1453.4,642.7 1453.5,653.7 1453.6,650.8 1453.7,660.1 1453.8,646.8 1453.9,651.8 1454.0,650.5 1454.1,654.7 1454.2,657.5 1454.4,663.8 1454.5,639.1 1454.6,650.6 1454.7,642.8 1454.8,641.1 1454.9,636.5 1455.0,643.8 1455.1,647.9 1455.2,645.7 1455.3,647.9 1455.4,648.0 1455.6,649.1 1455.7,646.1 1455.8,647.7 1455.9,646.9 1456.0,641.2 1456.1,633.7 1456.2,632.3 1456.3,644.7 1456.4,634.6 1456.5,646.1 1456.6,632.0 1456.8,635.5 1456.9,638.4 1457.0,641.3 1457.1,651.4 1457.2,635.8 1457.3,635.0 1457.4,641.1 1457.5,645.2 1457.6,637.5 1457.7,634.4 1457.8,641.4 1458.0,640.3 1458.1,640.8 1458.2,628.6 1458.3,642.3 1458.4,636.8 1458.5,643.3 1458.6,634.0 1458.7,636.7 1458.8,631.4 1458.9,647.7 1459.1,621.4 1459.2,624.4 1459.3,624.6 1459.4,609.1 1459.5,626.1 1459.6,641.0 1459.7,634.4 1459.8,636.8 1459.9,628.1 1460.0,617.0 1460.1,626.9 1460.3,618.2 1460.4,614.4 1460.5,634.5 1460.6,626.2 1460.7,635.3 1460.8,614.4 1460.9,624.6 1461.0,611.8 1461.1,634.0 1461.2,623.0 1461.3,613.9 1461.5,614.1 1461.6,629.5 1461.7,601.6 1461.8,617.7 1461.9,618.2 1462.0,599.6 1462.1,627.2 1462.2,629.7 1462.3,612.4 1462.4,617.5 1462.5,621.7 1462.7,620.0 1462.8,620.4 1462.9,606.4 1463.0,614.9 1463.1,603.8 1463.2,612.8 1463.3,616.7 1463.4,624.3 1463.5,596.2 1463.6,613.6 1463.7,600.4 1463.9,614.1 1464.0,613.3 1464.1,611.8 1464.2,617.4 1464.3,612.1 1464.4,604.0 1464.5,603.4 1464.6,611.9 1464.7,596.7 1464.8,607.8 1465.0,614.2 1465.1,599.7 1465.2,616.2 1465.3,614.3 1465.4,609.9 1465.5,605.0 1465.6,602.8 1465.7,609.5 1465.8,608.8 1465.9,612.7 1466.0,599.2 1466.2,609.1 1466.3,612.5 1466.4,597.2 1466.5,606.0 1466.6,605.2 1466.7,603.7 1466.8,613.1 1466.9,604.6 1467.0,611.6 1467.1,609.6 1467.2,612.0 1467.4,604.8 1467.5,602.6 1467.6,613.1 1467.7,608.4 1467.8,621.3 1467.9,605.3 1468.0,604.3 1468.1,614.7 1468.2,610.6 1468.3,609.7 1468.4,615.6 1468.6,609.7 1468.7,613.5 1468.8,616.0 1468.9,604.8 1469.0,620.9 1469.1,614.2 1469.2,612.2 1469.3,613.9 1469.4,604.4 1469.5,601.9 1469.7,616.1 1469.8,613.6 1469.9,628.4 1470.0,627.4 1470.1,613.7 1470.2,620.2 1470.3,626.1 1470.4,621.9 1470.5,618.3 1470.6,617.7 1470.7,612.9 1470.9,627.4 1471.0,626.8 1471.1,624.0 1471.2,624.1 1471.3,637.8 1471.4,630.0 1471.5,636.9 1471.6,619.6 1471.7,622.7 1471.8,624.1 1471.9,634.4 1472.1,627.5 1472.2,639.5 1472.3,631.9 1472.4,637.7 1472.5,626.4 1472.6,637.8 1472.7,630.1 1472.8,631.6 1472.9,618.0 1473.0,621.2 1473.1,625.7 1473.3,635.7 1473.4,636.7 1473.5,624.1 1473.6,627.3 1473.7,625.5 1473.8,639.1 1473.9,630.3 1474.0,621.5 1474.1,640.3 1474.2,633.8 1474.3,645.7 1474.5,643.6 1474.6,635.1 1474.7,627.9 1474.8,637.3 1474.9,653.0 1475.0,631.9 1475.1,647.7 1475.2,634.9 1475.3,632.7 1475.4,649.3 1475.6,633.5 1475.7,625.7 1475.8,631.0 1475.9,634.9 1476.0,637.1 1476.1,649.7 1476.2,647.3 1476.3,641.6 1476.4,645.0 1476.5,638.9 1476.6,631.2 1476.8,641.9 1476.9,640.5 1477.0,648.0 1477.1,644.1 1477.2,649.9 1477.3,636.5 1477.4,640.0 1477.5,635.5 1477.6,637.0 1477.7,650.1 1477.8,644.9 1478.0,636.2 1478.1,640.0 1478.2,656.5 1478.3,659.0 1478.4,652.8 1478.5,644.2 1478.6,654.8 1478.7,643.6 1478.8,636.2 1478.9,644.9 1479.0,636.7 1479.2,640.2 1479.3,658.6 1479.4,646.3 1479.5,644.2 1479.6,648.4 1479.7,639.9 1479.8,645.1 1479.9,636.9 1480.0,633.8 1480.1,639.1 1480.3,634.8 1480.4,627.6 1480.5,639.2 1480.6,636.4 1480.7,636.3 1480.8,652.0 1480.9,646.3 1481.0,648.7 1481.1,641.3 1481.2,635.4 1481.3,636.6 1481.5,654.4 1481.6,623.6 1481.7,638.7 1481.8,642.9 1481.9,632.1 1482.0,648.6 1482.1,636.8 1482.2,641.3 1482.3,663.8 1482.4,647.0 1482.5,637.9 1482.7,640.0 1482.8,650.0 1482.9,652.6 1483.0,642.9 1483.1,626.5 1483.2,635.4 1483.3,645.3 1483.4,633.0 1483.5,636.3 1483.6,631.6 1483.7,634.4 1483.9,643.5 1484.0,640.5 1484.1,628.1 1484.2,643.9 1484.3,625.5 1484.4,640.6 1484.5,640.4 1484.6,625.6 1484.7,621.3 1484.8,639.9 1484.9,643.2 1485.1,634.4 1485.2,627.6 1485.3,635.6 1485.4,622.8 1485.5,638.5 1485.6,647.8 1485.7,630.7 1485.8,638.6 1485.9,625.9 1486.0,634.3 1486.2,630.7 1486.3,635.0 1486.4,629.6 1486.5,619.3 1486.6,637.4 1486.7,621.1 1486.8,645.2 1486.9,619.4 1487.0,632.8 1487.1,629.8 1487.2,623.3 1487.4,632.8 1487.5,628.3 1487.6,636.7 1487.7,629.7 1487.8,633.3 1487.9,610.0 1488.0,633.6 1488.1,620.0 1488.2,621.4 1488.3,614.0 1488.4,616.9 1488.6,619.0 1488.7,620.6 1488.8,620.4 1488.9,616.7 1489.0,619.7 1489.1,624.4 1489.2,613.6 1489.3,612.3 1489.4,623.4 1489.5,618.8 1489.6,600.6 1489.8,619.6 1489.9,617.4 1490.0,629.5 1490.1,620.3 1490.2,619.1 1490.3,611.6 1490.4,604.3 1490.5,609.1 1490.6,607.6 1490.7,607.2 1490.9,616.9 1491.0,599.5 1491.1,619.3 1491.2,598.5 1491.3,582.6 1491.4,611.4 1491.5,601.0 1491.6,599.3 1491.7,607.7 1491.8,600.3 1491.9,605.4 1492.1,600.9 1492.2,603.8 1492.3,596.4 1492.4,606.1 1492.5,593.8 1492.6,600.8 1492.7,583.3 1492.8,601.9 1492.9,593.7 1493.0,595.8 1493.1,590.8 1493.3,592.5 1493.4,587.8 1493.5,601.1 1493.6,589.1 1493.7,590.0 1493.8,588.8 1493.9,577.4 1494.0,597.3 1494.1,582.7 1494.2,589.5 1494.3,581.2 1494.5,575.5 1494.6,575.2 1494.7,589.1 1494.8,570.2 1494.9,571.2 1495.0,579.5 1495.1,591.7 1495.2,577.6 1495.3,590.4 1495.4,579.8 1495.5,579.2 1495.7,592.9 1495.8,584.9 1495.9,576.8 1496.0,575.7 1496.1,585.0 1496.2,589.2 1496.3,576.1 1496.4,576.8 1496.5,585.7 1496.6,572.1 1496.8,580.2 1496.9,578.2 1497.0,575.1 1497.1,570.2 1497.2,558.0 1497.3,574.4 1497.4,566.4 1497.5,577.6 1497.6,570.9 1497.7,566.3 1497.8,585.2 1498.0,579.7 1498.1,557.2 1498.2,580.8 1498.3,571.5 1498.4,564.7 1498.5,575.7 1498.6,574.3 1498.7,581.7 1498.8,582.6 1498.9,583.2 1499.0,569.9 1499.2,575.0 1499.3,562.8 1499.4,578.1 1499.5,574.3 1499.6,559.7 1499.7,580.5 1499.8,579.4 1499.9,564.0 1500.0,558.8 1500.1,573.3 1500.2,579.0 1500.4,576.6 1500.5,588.5 1500.6,595.2 1500.7,579.2 1500.8,577.6 1500.9,575.4 1501.0,612.4 1501.1,581.6 1501.2,587.1 1501.3,589.2 1501.5,598.8 1501.6,586.9 1501.7,597.4 1501.8,589.2 1501.9,587.5 1502.0,577.6 1502.1,584.0 1502.2,586.4 1502.3,594.9 1502.4,583.6 1502.5,590.6 1502.7,587.5 1502.8,569.6 1502.9,591.9 1503.0,603.7 1503.1,581.4 1503.2,609.8 1503.3,583.3 1503.4,585.2 1503.5,593.8 1503.6,602.1 1503.7,596.2 1503.9,598.0 1504.0,605.1 1504.1,606.3 1504.2,598.9 1504.3,603.5 1504.4,610.6 1504.5,604.1 1504.6,593.5 1504.7,601.6 1504.8,590.1 1504.9,617.6 1505.1,603.3 1505.2,590.3 1505.3,600.2 1505.4,607.4 1505.5,609.9 1505.6,604.7 1505.7,602.8 1505.8,598.9 1505.9,613.2 1506.0,616.9 1506.1,614.4 1506.3,612.6 1506.4,613.1 1506.5,608.9 1506.6,610.5 1506.7,618.3 1506.8,616.9 1506.9,618.4 1507.0,610.3 1507.1,621.4 1507.2,609.4 1507.4,626.6 1507.5,617.1 1507.6,621.3 1507.7,615.5 1507.8,621.4 1507.9,617.6 1508.0,624.9 1508.1,612.1 1508.2,633.3 1508.3,628.3 1508.4,631.9 1508.6,626.1 1508.7,631.4 1508.8,623.5 1508.9,623.0 1509.0,627.1 1509.1,620.6 1509.2,637.1 1509.3,629.3 1509.4,630.5 1509.5,626.4 1509.6,636.1 1509.8,641.3 1509.9,632.1 1510.0,642.2 1510.1,637.5 1510.2,637.6 1510.3,610.2 1510.4,630.7 1510.5,645.4 1510.6,652.4 1510.7,652.9 1510.8,634.1 1511.0,643.6 1511.1,627.8 1511.2,632.3 1511.3,630.9 1511.4,633.5 1511.5,641.7 1511.6,649.7 1511.7,641.5 1511.8,632.0 1511.9,650.4 1512.1,644.6 1512.2,632.3 1512.3,652.8 1512.4,644.3 1512.5,650.0 1512.6,640.6 1512.7,641.8 1512.8,648.1 1512.9,634.9 1513.0,647.0 1513.1,652.8 1513.3,649.7 1513.4,646.6 1513.5,644.9 1513.6,644.8 1513.7,657.5 1513.8,649.9 1513.9,649.7 1514.0,642.8 1514.1,652.1 1514.2,655.5 1514.3,634.3 1514.5,661.2 1514.6,656.0 1514.7,648.5 1514.8,638.0 1514.9,667.6 1515.0,656.3 1515.1,648.8 1515.2,643.0 1515.3,659.8 1515.4,641.1 1515.5,653.2 1515.7,651.9 1515.8,646.1 1515.9,649.8 1516.0,650.0 1516.1,661.0 1516.2,657.4 1516.3,662.1 1516.4,647.5 1516.5,663.3 1516.6,656.6 1516.7,662.9 1516.9,652.6 1517.0,658.4 1517.1,649.0 1517.2,664.2 1517.3,657.4 1517.4,652.9 1517.5,656.5 1517.6,657.4 1517.7,644.6 1517.8,657.7 1518.0,650.3 1518.1,656.7 1518.2,658.5 1518.3,672.9 1518.4,660.7 1518.5,649.0 1518.6,661.6 1518.7,649.3 1518.8,649.9 1518.9,651.8 1519.0,663.5 1519.2,669.4 1519.3,663.0 1519.4,649.5 1519.5,659.0 1519.6,663.6 1519.7,641.0 1519.8,655.4 1519.9,674.1 1520.0,647.5 1520.1,649.1 1520.2,647.4 1520.4,663.1 1520.5,659.7 1520.6,657.9 1520.7,660.0 1520.8,646.3 1520.9,636.2 1521.0,651.7 1521.1,635.7 1521.2,654.9 1521.3,647.8 1521.4,643.7 1521.6,649.7 1521.7,641.6 1521.8,628.2 1521.9,630.2 1522.0,639.6 1522.1,628.3 1522.2,641.0 1522.3,626.4 1522.4,628.1 1522.5,616.7 1522.7,620.1 1522.8,606.2 1522.9,610.3 1523.0,617.8 1523.1,606.6 1523.2,602.3 1523.3,614.8 1523.4,612.4 1523.5,596.5 1523.6,605.7 1523.7,607.6 1523.9,596.3 1524.0,596.1 1524.1,599.1 1524.2,613.9 1524.3,602.7 1524.4,603.8 1524.5,584.7 1524.6,608.8 1524.7,623.9 1524.8,601.1 1524.9,617.6 1525.1,616.4 1525.2,622.4 1525.3,617.9 1525.4,620.3 1525.5,640.8 1525.6,638.0 1525.7,620.0 1525.8,616.8 1525.9,633.8 1526.0,636.7 1526.1,636.5 1526.3,636.6 1526.4,661.6 1526.5,619.7 1526.6,635.6 1526.7,647.9 1526.8,647.9 1526.9,649.8 1527.0,642.4 1527.1,674.1 1527.2,656.7 1527.3,656.6 1527.5,653.7 1527.6,641.2 1527.7,646.8 1527.8,643.0 1527.9,652.1 1528.0,629.7 1528.1,652.7 1528.2,648.0 1528.3,652.5 1528.4,619.5 1528.6,645.9 1528.7,654.1 1528.8,658.3 1528.9,645.5 1529.0,657.7 1529.1,670.0 1529.2,651.5 1529.3,646.9 1529.4,639.7 1529.5,640.4 1529.6,647.2 1529.8,648.2 1529.9,654.0 1530.0,662.6 1530.1,645.1 1530.2,653.4 1530.3,661.6 1530.4,655.6 1530.5,652.3 1530.6,651.8 1530.7,641.6 1530.8,629.6 1531.0,655.4 1531.1,659.4 1531.2,657.0 1531.3,657.2 1531.4,661.4 1531.5,660.0 1531.6,647.8 1531.7,651.8 1531.8,634.8 1531.9,657.0 1532.0,651.1 1532.2,650.8 1532.3,657.0 1532.4,641.4 1532.5,651.3 1532.6,644.8 1532.7,661.3 1532.8,642.8 1532.9,648.4 1533.0,654.8 1533.1,663.3 1533.3,651.1 1533.4,642.3 1533.5,647.1 1533.6,654.0 1533.7,655.6 1533.8,644.1 1533.9,669.0 1534.0,646.6 1534.1,646.6 1534.2,651.7 1534.3,644.9 1534.5,644.7 1534.6,651.1 1534.7,636.9 1534.8,649.6 1534.9,644.0 1535.0,654.1 1535.1,646.3 1535.2,658.6 1535.3,655.1 1535.4,656.3 1535.5,653.9 1535.7,647.5 1535.8,655.6 1535.9,657.2 1536.0,654.2 1536.1,655.4 1536.2,655.9 1536.3,652.3 1536.4,650.3 1536.5,654.6 1536.6,656.4 1536.7,658.8 1536.9,662.8 1537.0,652.5 1537.1,652.1 1537.2,667.8 1537.3,654.3 1537.4,654.1 1537.5,649.1 1537.6,656.6 1537.7,621.7 1537.8,648.9 1537.9,652.3 1538.1,648.7 1538.2,656.5 1538.3,661.2 1538.4,656.0 1538.5,651.1 1538.6,637.6 1538.7,648.1 1538.8,661.4 1538.9,662.9 1539.0,656.7 1539.2,657.5 1539.3,657.5 1539.4,631.1 1539.5,650.1 1539.6,649.4 1539.7,656.9 1539.8,659.4 1539.9,652.5 1540.0,664.4 1540.1,651.0 1540.2,648.8 1540.4,648.0 1540.5,638.0 1540.6,660.5 1540.7,647.1 1540.8,655.1 1540.9,653.6 1541.0,654.5 1541.1,640.7 1541.2,648.6 1541.3,649.3 1541.4,653.2 1541.6,644.5 1541.7,644.4 1541.8,659.2 1541.9,642.8 1542.0,653.7 1542.1,645.6 1542.2,658.7 1542.3,650.4 1542.4,651.0 1542.5,646.8 1542.6,639.6 1542.8,663.7 1542.9,652.3 1543.0,672.8 1543.1,657.7 1543.2,647.0 1543.3,645.3 1543.4,657.6 1543.5,654.2 1543.6,649.4 1543.7,658.6 1543.9,659.3 1544.0,661.4 1544.1,664.6 1544.2,653.3 1544.3,649.8 1544.4,650.1 1544.5,635.2 1544.6,660.9 1544.7,662.8 1544.8,627.3 1544.9,652.3 1545.1,643.1 1545.2,649.7 1545.3,639.4 1545.4,649.5 1545.5,636.5 1545.6,654.2 1545.7,656.1 1545.8,658.1 1545.9,639.3 1546.0,642.5 1546.1,646.2 1546.3,659.1 1546.4,648.5 1546.5,659.5 1546.6,650.2 1546.7,656.6 1546.8,638.5 1546.9,637.0 1547.0,642.8 1547.1,639.4 1547.2,637.6 1547.3,651.5 1547.5,658.7 1547.6,643.3 1547.7,647.9 1547.8,657.4 1547.9,648.2 1548.0,653.7 1548.1,653.9 1548.2,655.8 1548.3,655.8 1548.4,650.3 1548.5,641.7 1548.7,655.9 1548.8,640.7 1548.9,648.5 1549.0,650.7 1549.1,667.2 1549.2,652.1 1549.3,653.1 1549.4,644.4 1549.5,644.9 1549.6,637.0 1549.8,632.4 1549.9,646.1 1550.0,648.5 1550.1,643.8 1550.2,645.1 1550.3,645.3 1550.4,658.9 1550.5,642.6 1550.6,660.3 1550.7,636.6 1550.8,643.9 1551.0,647.8 1551.1,652.2 1551.2,669.6 1551.3,655.2 1551.4,656.2 1551.5,650.4 1551.6,648.8 1551.7,648.2 1551.8,641.9 1551.9,664.3 1552.0,649.7 1552.2,639.1 1552.3,641.7 1552.4,647.8 1552.5,642.3 1552.6,656.9 1552.7,657.7 1552.8,644.9 1552.9,657.8 1553.0,654.4 1553.1,651.1 1553.2,651.2 1553.4,645.2 1553.5,655.5 1553.6,637.4 1553.7,653.4 1553.8,648.6 1553.9,614.9 1554.0,646.8 1554.1,650.4 1554.2,653.3 1554.3,650.0 1554.5,642.6 1554.6,650.6 1554.7,649.5 1554.8,626.7 1554.9,641.2 1555.0,646.5 1555.1,644.8 1555.2,651.0 1555.3,663.6 1555.4,649.9 1555.5,642.4 1555.7,647.9 1555.8,643.3 1555.9,645.1 1556.0,644.6 1556.1,653.4 1556.2,645.8 1556.3,649.8 1556.4,652.2 1556.5,642.8 1556.6,654.4 1556.7,662.1 1556.9,649.6 1557.0,653.2 1557.1,659.2 1557.2,660.4 1557.3,653.1 1557.4,649.7 1557.5,655.5 1557.6,644.6 1557.7,646.5 1557.8,643.2 1557.9,655.1 1558.1,644.2 1558.2,653.9 1558.3,641.8 1558.4,645.7 1558.5,646.2 1558.6,655.7 1558.7,664.6 1558.8,642.1 1558.9,654.5 1559.0,652.0 1559.1,656.3 1559.3,650.0 1559.4,659.5 1559.5,622.1 1559.6,660.6 1559.7,663.8 1559.8,647.6 1559.9,654.0 1560.0,644.9 1560.1,649.8 1560.2,649.4 1560.4,633.0 1560.5,657.6 1560.6,655.8 1560.7,664.2 1560.8,651.9 1560.9,652.9 1561.0,659.2 1561.1,638.7 1561.2,654.4 1561.3,649.2 1561.4,664.2 1561.6,650.1 1561.7,657.9 1561.8,647.6 1561.9,602.2 1562.0,672.4 1562.1,658.0 1562.2,657.8 1562.3,648.8 1562.4,659.1 1562.5,644.6 1562.6,645.4 1562.8,657.9 1562.9,656.7 1563.0,663.9 1563.1,646.6 1563.2,658.5 1563.3,655.3 1563.4,658.9 1563.5,634.3 1563.6,650.8 1563.7,647.0 1563.8,653.3 1564.0,669.8 1564.1,654.8 1564.2,660.8 1564.3,653.2 1564.4,646.5 1564.5,650.2 1564.6,647.7 1564.7,647.4 1564.8,653.9 1564.9,652.5 1565.1,642.3 1565.2,633.2 1565.3,643.7 1565.4,650.2 1565.5,657.0 1565.6,648.4 1565.7,651.4 1565.8,654.3 1565.9,655.0 1566.0,641.5 1566.1,645.2 1566.3,657.2 1566.4,642.0 1566.5,639.3 1566.6,641.7 1566.7,645.5 1566.8,652.3 1566.9,641.1 1567.0,638.5 1567.1,641.5 1567.2,650.0 1567.3,616.9 1567.5,645.4 1567.6,650.2 1567.7,638.1 1567.8,638.0 1567.9,633.4 1568.0,635.2 1568.1,639.9 1568.2,649.5 1568.3,650.9 1568.4,638.9 1568.5,619.1 1568.7,622.8 1568.8,648.0 1568.9,630.1 1569.0,646.3 1569.1,640.4 1569.2,645.6 1569.3,640.2 1569.4,634.0 1569.5,637.1 1569.6,634.0 1569.7,618.3 1569.9,634.7 1570.0,634.8 1570.1,627.1 1570.2,633.1 1570.3,640.0 1570.4,634.3 1570.5,625.5 1570.6,644.4 1570.7,627.5 1570.8,640.0 1571.0,634.8 1571.1,639.9 1571.2,636.5 1571.3,622.9 1571.4,649.8 1571.5,624.0 1571.6,618.8 1571.7,617.9 1571.8,630.7 1571.9,623.9 1572.0,622.9 1572.2,614.6 1572.3,639.5 1572.4,629.9 1572.5,632.1 1572.6,625.4 1572.7,632.8 1572.8,620.2 1572.9,632.5 1573.0,621.4 1573.1,618.6 1573.2,626.5 1573.4,623.4 1573.5,622.4 1573.6,608.1 1573.7,612.5 1573.8,609.7 1573.9,613.2 1574.0,622.2 1574.1,611.5 1574.2,618.3 1574.3,610.7 1574.4,614.7 1574.6,620.8 1574.7,625.2 1574.8,630.0 1574.9,617.5 1575.0,618.2 1575.1,626.1 1575.2,603.0 1575.3,606.3 1575.4,621.0 1575.5,632.9 1575.7,627.4 1575.8,625.9 1575.9,623.9 1576.0,618.3 1576.1,612.4 1576.2,620.8 1576.3,597.7 1576.4,610.1 1576.5,599.7 1576.6,608.9 1576.7,588.6 1576.9,613.3 1577.0,609.2 1577.1,617.6 1577.2,597.1 1577.3,605.8 1577.4,615.0 1577.5,593.8 1577.6,606.0 1577.7,591.4 1577.8,623.0 1577.9,601.6 1578.1,608.3 1578.2,610.7 1578.3,594.1 1578.4,603.3 1578.5,595.0 1578.6,612.2 1578.7,618.8 1578.8,589.8 1578.9,606.5 1579.0,595.7 1579.1,612.7 1579.3,609.5 1579.4,613.5 1579.5,611.4 1579.6,593.7 1579.7,595.1 1579.8,603.8 1579.9,609.6 1580.0,597.9 1580.1,601.0 1580.2,607.6 1580.3,605.4 1580.5,612.3 1580.6,595.1 1580.7,607.7 1580.8,605.3 1580.9,604.7 1581.0,602.5 1581.1,600.8 1581.2,614.6 1581.3,599.6 1581.4,612.5 1581.6,606.5 1581.7,600.6 1581.8,610.6 1581.9,608.8 1582.0,618.7 1582.1,600.3 1582.2,616.8 1582.3,611.0 1582.4,614.7 1582.5,603.2 1582.6,610.5 1582.8,598.1 1582.9,613.4 1583.0,616.0 1583.1,620.0 1583.2,592.6 1583.3,606.1 1583.4,611.7 1583.5,595.5 1583.6,628.6 1583.7,612.7 1583.8,597.7 1584.0,634.7 1584.1,615.5 1584.2,597.3 1584.3,604.7 1584.4,606.6 1584.5,611.2 1584.6,625.3 1584.7,608.0 1584.8,608.9 1584.9,614.1 1585.0,618.4 1585.2,616.9 1585.3,605.6 1585.4,622.8 1585.5,610.9 1585.6,612.4 1585.7,637.2 1585.8,606.5 1585.9,619.8 1586.0,613.8 1586.1,627.3 1586.3,625.5 1586.4,616.3 1586.5,619.6 1586.6,616.2 1586.7,627.5 1586.8,611.6 1586.9,630.4 1587.0,626.9 1587.1,625.4 1587.2,622.6 1587.3,631.7 1587.5,631.2 1587.6,628.4 1587.7,627.4 1587.8,632.4 1587.9,632.2 1588.0,619.6 1588.1,619.4 1588.2,625.9 1588.3,624.6 1588.4,626.6 1588.5,629.2 1588.7,641.5 1588.8,632.7 1588.9,634.2 1589.0,639.0 1589.1,628.1 1589.2,630.5 1589.3,619.4 1589.4,626.5 1589.5,636.9 1589.6,630.1 1589.7,628.1 1589.9,658.5 1590.0,646.0 1590.1,636.1 1590.2,622.4 1590.3,625.1 1590.4,633.6 1590.5,625.4 1590.6,633.6 1590.7,630.5 1590.8,633.1 1590.9,632.1 1591.1,642.9 1591.2,633.6 1591.3,646.8 1591.4,632.2 1591.5,647.2 1591.6,629.6 1591.7,639.2 1591.8,635.7 1591.9,630.2 1592.0,670.5 1592.2,639.6 1592.3,632.4 1592.4,629.5 1592.5,644.4 1592.6,645.4 1592.7,641.1 1592.8,635.3 1592.9,632.8 1593.0,632.5 1593.1,637.3 1593.2,638.9 1593.4,646.5 1593.5,647.3 1593.6,634.1 1593.7,627.6 1593.8,655.4 1593.9,642.9 1594.0,636.5 1594.1,643.8 1594.2,636.8 1594.3,638.9 1594.4,624.4 1594.6,638.0 1594.7,653.2 1594.8,648.0 1594.9,640.2 1595.0,642.4 1595.1,646.6 1595.2,649.1 1595.3,636.9 1595.4,641.1 1595.5,644.8 1595.6,649.1 1595.8,636.1 1595.9,646.1 1596.0,654.2 1596.1,642.9 1596.2,645.9 1596.3,651.0 1596.4,634.4 1596.5,644.1 1596.6,644.9 1596.7,657.5 1596.9,630.4 1597.0,638.2 1597.1,633.4 1597.2,636.8 1597.3,646.1 1597.4,637.0 1597.5,642.6 1597.6,643.2 1597.7,641.0 1597.8,647.3 1597.9,643.8 1598.1,635.9 1598.2,638.6 1598.3,642.8 1598.4,637.2 1598.5,644.5 1598.6,640.2 1598.7,637.0 1598.8,638.1 1598.9,632.4 1599.0,641.9 1599.1,635.5 1599.3,634.4 1599.4,637.3 1599.5,654.9 1599.6,647.1 1599.7,634.5 1599.8,622.7 1599.9,643.4 1600.0,630.8 1600.1,645.5 1600.2,632.6 1600.3,653.9 1600.5,668.9 1600.6,635.2 1600.7,641.1 1600.8,641.5 1600.9,651.9 1601.0,651.8 1601.1,629.1 1601.2,643.5 1601.3,641.6 1601.4,636.2 1601.5,637.8 1601.7,626.8 1601.8,628.6 1601.9,633.5 1602.0,625.4 1602.1,637.9 1602.2,636.1 1602.3,645.8 1602.4,627.5 1602.5,643.4 1602.6,636.4 1602.8,635.7 1602.9,633.8 1603.0,633.8 1603.1,629.1 1603.2,627.9 1603.3,642.8 1603.4,617.8 1603.5,649.6 1603.6,636.0 1603.7,633.7 1603.8,639.3 1604.0,632.4 1604.1,633.8 1604.2,635.8 1604.3,629.2 1604.4,636.8 1604.5,636.7 1604.6,629.3 1604.7,632.6 1604.8,623.0 1604.9,630.3 1605.0,629.0 1605.2,607.4 1605.3,628.7 1605.4,632.9 1605.5,621.6 1605.6,618.0 1605.7,627.2 1605.8,618.6 1605.9,618.6 1606.0,626.0 1606.1,618.5 1606.2,625.5 1606.4,631.4 1606.5,626.0 1606.6,624.3 1606.7,614.4 1606.8,630.4 1606.9,619.2 1607.0,632.7 1607.1,614.0 1607.2,621.0 1607.3,611.1 1607.5,622.4 1607.6,609.8 1607.7,619.5 1607.8,631.3 1607.9,631.4 1608.0,608.5 1608.1,633.3 1608.2,608.0 1608.3,613.7 1608.4,611.7 1608.5,612.2 1608.7,614.4 1608.8,596.5 1608.9,620.7 1609.0,611.7 1609.1,604.2 1609.2,613.4 1609.3,621.0 1609.4,593.1 1609.5,614.0 1609.6,607.7 1609.7,607.9 1609.9,598.7 1610.0,606.9 1610.1,610.5 1610.2,594.0 1610.3,599.3 1610.4,601.2 1610.5,599.9 1610.6,591.2 1610.7,598.0 1610.8,593.1 1610.9,603.4 1611.1,599.1 1611.2,600.0 1611.3,601.6 1611.4,594.6 1611.5,590.2 1611.6,602.2 1611.7,592.7 1611.8,590.5 1611.9,622.0 1612.0,582.2 1612.1,599.8 1612.3,603.0 1612.4,589.6 1612.5,586.9 1612.6,594.9 1612.7,585.2 1612.8,576.0 1612.9,598.7 1613.0,601.9 1613.1,579.5 1613.2,595.1 1613.4,591.1 1613.5,589.3 1613.6,595.2 1613.7,582.1 1613.8,585.7 1613.9,588.2 1614.0,588.4 1614.1,565.5 1614.2,593.4 1614.3,587.3 1614.4,591.2 1614.6,580.5 1614.7,572.1 1614.8,589.6 1614.9,582.4 1615.0,585.5 1615.1,583.1 1615.2,569.2 1615.3,566.6 1615.4,573.2 1615.5,577.7 1615.6,573.2 1615.8,567.7 1615.9,572.8 1616.0,556.3 1616.1,569.4 1616.2,551.9 1616.3,583.1 1616.4,554.2 1616.5,582.3 1616.6,583.1 1616.7,575.2 1616.8,573.8 1617.0,563.4 1617.1,565.9 1617.2,577.4 1617.3,545.2 1617.4,561.7 1617.5,571.3 1617.6,557.8 1617.7,576.7 1617.8,541.5 1617.9,554.9 1618.1,561.7 1618.2,554.5 1618.3,558.1 1618.4,560.6 1618.5,559.1 1618.6,562.6 1618.7,562.3 1618.8,561.4 1618.9,560.6 1619.0,559.6 1619.1,561.7 1619.3,561.9 1619.4,565.5 1619.5,572.5 1619.6,549.3 1619.7,573.4 1619.8,565.3 1619.9,566.3 1620.0,554.1 1620.1,561.0 1620.2,561.8 1620.3,556.9 1620.5,565.1 1620.6,550.4 1620.7,552.8 1620.8,566.4 1620.9,563.0 1621.0,545.8 1621.1,562.6 1621.2,560.5 1621.3,576.0 1621.4,559.4 1621.5,560.7 1621.7,553.4 1621.8,561.1 1621.9,560.1 1622.0,567.9 1622.1,547.0 1622.2,564.0 1622.3,574.4 1622.4,543.3 1622.5,571.8 1622.6,570.5 1622.7,568.4 1622.9,571.3 1623.0,563.5 1623.1,576.2 1623.2,571.5 1623.3,555.8 1623.4,576.3 1623.5,562.6 1623.6,564.9 1623.7,576.7 1623.8,570.2 1624.0,575.2 1624.1,576.2 1624.2,574.5 1624.3,580.2 1624.4,565.7 1624.5,591.8 1624.6,586.7 1624.7,575.8 1624.8,580.0 1624.9,594.0 1625.0,575.8 1625.2,570.6 1625.3,601.0 1625.4,596.2 1625.5,589.5 1625.6,615.6 1625.7,591.2 1625.8,593.2 1625.9,592.0 1626.0,593.1 1626.1,580.1 1626.2,589.3 1626.4,591.8 1626.5,582.2 1626.6,581.6 1626.7,591.7 1626.8,605.4 1626.9,593.4 1627.0,603.1 1627.1,616.6 1627.2,606.4 1627.3,602.2 1627.4,584.7 1627.6,582.0 1627.7,590.7 1627.8,598.7 1627.9,600.4 1628.0,598.0 1628.1,599.8 1628.2,607.7 1628.3,595.0 1628.4,609.7 1628.5,610.2 1628.7,594.2 1628.8,608.7 1628.9,607.1 1629.0,612.1 1629.1,612.1 1629.2,593.2 1629.3,625.1 1629.4,611.6 1629.5,627.1 1629.6,618.4 1629.7,596.0 1629.9,614.0 1630.0,613.6 1630.1,651.2 1630.2,606.5 1630.3,628.6 1630.4,624.6 1630.5,616.7 1630.6,611.2 1630.7,618.2 1630.8,624.8 1630.9,613.6 1631.1,622.6 1631.2,626.2 1631.3,626.8 1631.4,619.7 1631.5,627.9 1631.6,628.4 1631.7,609.3 1631.8,616.1 1631.9,614.2 1632.0,619.9 1632.1,632.2 1632.3,630.8 1632.4,630.1 1632.5,623.3 1632.6,634.3 1632.7,615.7 1632.8,617.6 1632.9,633.1 1633.0,623.6 1633.1,636.5 1633.2,635.6 1633.3,636.4 1633.5,624.8 1633.6,627.7 1633.7,620.4 1633.8,632.6 1633.9,631.9 1634.0,628.6 1634.1,630.7 1634.2,634.3 1634.3,639.6 1634.4,628.9 1634.6,628.9 1634.7,633.4 1634.8,638.4 1634.9,647.5 1635.0,641.1 1635.1,617.0 1635.2,622.9 1635.3,629.8 1635.4,617.4 1635.5,640.3 1635.6,629.1 1635.8,626.4 1635.9,634.3 1636.0,637.9 1636.1,633.1 1636.2,635.6 1636.3,642.5 1636.4,628.3 1636.5,635.8 1636.6,622.7 1636.7,626.8 1636.8,642.4 1637.0,630.0 1637.1,628.8 1637.2,641.3 1637.3,632.3 1637.4,642.5 1637.5,665.6 1637.6,652.5 1637.7,635.3 1637.8,639.4 1637.9,632.8 1638.0,649.6 1638.2,641.4 1638.3,657.1 1638.4,634.5 1638.5,637.3 1638.6,618.7 1638.7,627.7 1638.8,635.0 1638.9,646.5 1639.0,645.7 1639.1,633.7 1639.3,638.4 1639.4,643.1 1639.5,638.7 1639.6,644.5 1639.7,650.8 1639.8,635.9 1639.9,642.7 1640.0,648.7 1640.1,640.9 1640.2,650.2 1640.3,637.2 1640.5,647.2 1640.6,641.5 1640.7,644.3 1640.8,635.8 1640.9,648.6 1641.0,632.4 1641.1,646.8 1641.2,639.2 1641.3,642.0 1641.4,650.0 1641.5,631.7 1641.7,647.2 1641.8,644.2 1641.9,638.1 1642.0,647.3 1642.1,641.8 1642.2,654.5 1642.3,637.8 1642.4,651.3 1642.5,650.3 1642.6,643.2 1642.7,635.7 1642.9,639.9 1643.0,631.0 1643.1,635.3 1643.2,635.4 1643.3,641.7 1643.4,629.9 1643.5,642.4 1643.6,635.6 1643.7,645.7 1643.8,644.0 1643.9,636.2 1644.1,641.5 1644.2,642.0 1644.3,636.5 1644.4,638.0 1644.5,639.0 1644.6,632.3 1644.7,630.8 1644.8,640.1 1644.9,626.7 1645.0,642.1 1645.2,645.1 1645.3,636.5 1645.4,642.6 1645.5,634.4 1645.6,644.3 1645.7,686.0 1645.8,642.4 1645.9,639.0 1646.0,638.7 1646.1,629.5 1646.2,633.9 1646.4,637.4 1646.5,635.9 1646.6,640.6 1646.7,648.8 1646.8,630.7 1646.9,635.9 1647.0,641.3 1647.1,633.0 1647.2,635.1 1647.3,644.7 1647.4,645.8 1647.6,646.4 1647.7,636.2 1647.8,646.2 1647.9,654.9 1648.0,640.0 1648.1,644.2 1648.2,642.6 1648.3,642.7 1648.4,641.5 1648.5,647.9 1648.6,640.7 1648.8,670.9 1648.9,650.9 1649.0,645.5 1649.1,662.1 1649.2,648.8 1649.3,633.0 1649.4,656.1 1649.5,653.5 1649.6,648.5 1649.7,649.6 1649.9,644.9 1650.0,641.0 1650.1,641.1 1650.2,664.9 1650.3,643.6 1650.4,648.9 1650.5,659.5 1650.6,642.6 1650.7,647.0 1650.8,644.7 1650.9,638.0 1651.1,650.8 1651.2,656.0 1651.3,643.7 1651.4,643.4 1651.5,655.1 1651.6,651.4 1651.7,659.3 1651.8,652.0 1651.9,653.0 1652.0,642.9 1652.1,637.4 1652.3,654.7 1652.4,640.7 1652.5,650.9 1652.6,647.0 1652.7,641.8 1652.8,649.1 1652.9,658.8 1653.0,657.0 1653.1,644.8 1653.2,645.4 1653.3,633.6 1653.5,638.8 1653.6,639.0 1653.7,647.8 1653.8,651.0 1653.9,645.1 1654.0,665.4 1654.1,634.8 1654.2,652.3 1654.3,641.4 1654.4,645.3 1654.5,649.8 1654.7,653.6 1654.8,644.2 1654.9,646.7 1655.0,648.4 1655.1,651.1 1655.2,658.2 1655.3,653.4 1655.4,646.7 1655.5,646.8 1655.6,656.8 1655.8,658.0 1655.9,664.5 1656.0,649.4 1656.1,643.7 1656.2,645.2 1656.3,651.1 1656.4,643.7 1656.5,649.3 1656.6,664.5 1656.7,652.5 1656.8,656.1 1657.0,645.2 1657.1,660.7 1657.2,649.6 1657.3,653.0 1657.4,655.2 1657.5,652.6 1657.6,649.0 1657.7,656.3 1657.8,665.7 1657.9,650.1 1658.0,658.3 1658.2,645.6 1658.3,654.6 1658.4,649.1 1658.5,662.1 1658.6,651.0 1658.7,658.0 1658.8,654.9 1658.9,646.6 1659.0,654.5 1659.1,654.8 1659.2,659.8 1659.4,653.5 1659.5,643.2 1659.6,648.3 1659.7,651.0 1659.8,658.1 1659.9,651.4 1660.0,659.6 1660.1,652.2 1660.2,655.8 1660.3,659.8 1660.5,653.7 1660.6,629.3 1660.7,659.5 1660.8,650.1 1660.9,656.5 1661.0,633.3 1661.1,651.0 1661.2,649.9 1661.3,647.4 1661.4,649.0 1661.5,635.5 1661.7,643.1 1661.8,652.1 1661.9,646.4 1662.0,654.0 1662.1,651.9 1662.2,644.8 1662.3,649.8 1662.4,647.4 1662.5,653.4 1662.6,661.2 1662.7,651.3 1662.9,647.9 1663.0,664.7 1663.1,649.7 1663.2,647.0 1663.3,649.7 1663.4,638.3 1663.5,661.8 1663.6,659.3 1663.7,668.2 1663.8,656.3 1663.9,651.6 1664.1,650.0 1664.2,648.8 1664.3,659.0 1664.4,659.9 1664.5,658.6 1664.6,646.8 1664.7,666.4 1664.8,649.6 1664.9,654.9 1665.0,654.7 1665.1,651.9 1665.3,640.3 1665.4,647.5 1665.5,651.6 1665.6,661.8 1665.7,652.5 1665.8,657.2 1665.9,647.1 1666.0,649.4 1666.1,662.1 1666.2,666.2 1666.4,656.5 1666.5,658.1 1666.6,655.5 1666.7,653.7 1666.8,654.9 1666.9,659.9 1667.0,649.0 1667.1,645.4 1667.2,656.5 1667.3,649.1 1667.4,654.8 1667.6,645.2 1667.7,654.3 1667.8,650.4 1667.9,649.9 1668.0,658.3 1668.1,649.5 1668.2,638.0 1668.3,645.2 1668.4,652.1 1668.5,664.5 1668.6,651.4 1668.8,646.0 1668.9,649.4 1669.0,659.3 1669.1,654.2 1669.2,655.7 1669.3,656.6 1669.4,662.3 1669.5,643.9 1669.6,660.9 1669.7,655.9 1669.8,646.3 1670.0,656.7 1670.1,661.4 1670.2,651.8 1670.3,659.6 1670.4,639.5 1670.5,642.9 1670.6,655.3 1670.7,652.6 1670.8,656.5 1670.9,654.8 1671.1,656.9 1671.2,641.8 1671.3,641.4 1671.4,657.2 1671.5,651.2 1671.6,649.7 1671.7,648.1 1671.8,659.1 1671.9,644.4 1672.0,652.0 1672.1,658.6 1672.3,642.7 1672.4,646.5 1672.5,647.8 1672.6,622.5 1672.7,656.4 1672.8,655.7 1672.9,661.8 1673.0,650.8 1673.1,654.0 1673.2,655.3 1673.3,662.5 1673.5,654.4 1673.6,655.0 1673.7,647.8 1673.8,654.4 1673.9,652.3 1674.0,659.4 1674.1,657.6 1674.2,646.0 1674.3,646.8 1674.4,655.7 1674.5,648.7 1674.7,654.8 1674.8,659.6 1674.9,644.6 1675.0,655.2 1675.1,646.3 1675.2,652.6 1675.3,651.3 1675.4,637.7 1675.5,636.6 1675.6,648.5 1675.7,643.2 1675.9,651.8 1676.0,651.6 1676.1,657.0 1676.2,655.0 1676.3,639.1 1676.4,640.6 1676.5,646.6 1676.6,651.6 1676.7,653.9 1676.8,648.0 1677.0,654.6 1677.1,646.4 1677.2,659.4 1677.3,649.4 1677.4,648.9 1677.5,649.1 1677.6,652.1 1677.7,661.8 1677.8,653.7 1677.9,667.0 1678.0,648.2 1678.2,656.6 1678.3,657.8 1678.4,659.7 1678.5,646.8 1678.6,646.9 1678.7,653.5 1678.8,656.8 1678.9,648.4 1679.0,655.0 1679.1,663.6 1679.2,641.2 1679.4,645.7 1679.5,653.3 1679.6,658.3 1679.7,655.1 1679.8,663.7 1679.9,664.0 1680.0,652.2 1680.1,649.8 1680.2,663.6 1680.3,644.7 1680.4,660.7 1680.6,663.9 1680.7,657.7 1680.8,652.8 1680.9,657.4 1681.0,651.9 1681.1,668.0 1681.2,659.7 1681.3,656.2 1681.4,658.4 1681.5,659.1 1681.7,672.3 1681.8,657.7 1681.9,650.3 1682.0,653.8 1682.1,648.7 1682.2,646.3 1682.3,656.9 1682.4,651.9 1682.5,654.3 1682.6,659.1 1682.7,661.1 1682.9,656.2 1683.0,652.0 1683.1,660.5 1683.2,651.1 1683.3,665.9 1683.4,652.8 1683.5,663.7 1683.6,650.2 1683.7,661.9 1683.8,659.6 1683.9,656.8 1684.1,665.3 1684.2,661.7 1684.3,661.7 1684.4,659.1 1684.5,662.5 1684.6,660.2 1684.7,653.9 1684.8,654.3 1684.9,657.6 1685.0,651.8 1685.1,634.1 1685.3,665.6 1685.4,653.5 1685.5,673.9 1685.6,659.9 1685.7,663.9 1685.8,663.5 1685.9,658.4 1686.0,656.4 1686.1,649.2 1686.2,652.0 1686.3,650.1 1686.5,639.7 1686.6,649.1 1686.7,660.2 1686.8,646.4 1686.9,668.7 1687.0,653.4 1687.1,661.3 1687.2,660.8 1687.3,661.6 1687.4,658.0 1687.6,656.3 1687.7,658.2 1687.8,662.5 1687.9,660.8 1688.0,658.0 1688.1,647.9 1688.2,646.3 1688.3,658.0 1688.4,664.4 1688.5,665.8 1688.6,652.6 1688.8,658.1 1688.9,652.2 1689.0,648.8 1689.1,654.6 1689.2,657.9 1689.3,655.6 1689.4,639.6 1689.5,661.8 1689.6,626.7 1689.7,662.6 1689.8,665.2 1690.0,676.0 1690.1,646.9 1690.2,652.2 1690.3,656.5 1690.4,658.7 1690.5,653.0 1690.6,663.0 1690.7,653.7 1690.8,656.5 1690.9,655.9 1691.0,661.6 1691.2,660.6 1691.3,646.5 1691.4,661.8 1691.5,649.6 1691.6,650.2 1691.7,651.5 1691.8,654.5 1691.9,660.1 1692.0,659.8 1692.1,646.6 1692.3,655.7 1692.4,663.3 1692.5,662.2 1692.6,657.8 1692.7,652.7 1692.8,661.2 1692.9,655.5 1693.0,648.2 1693.1,640.5 1693.2,659.7 1693.3,663.9 1693.5,669.0 1693.6,676.2 1693.7,659.7 1693.8,655.8 1693.9,657.9 1694.0,660.9 1694.1,641.2 1694.2,657.8 1694.3,654.8 1694.4,662.1 1694.5,661.7 1694.7,644.1 1694.8,648.0 1694.9,657.8 1695.0,660.9 1695.1,646.3 1695.2,658.3 1695.3,656.6 1695.4,652.9 1695.5,648.2 1695.6,658.0 1695.7,662.6 1695.9,651.4 1696.0,659.5 1696.1,657.2 1696.2,652.4 1696.3,648.9 1696.4,650.6 1696.5,656.9 1696.6,664.4 1696.7,654.3 1696.8,644.3 1696.9,656.0 1697.1,654.6 1697.2,652.5 1697.3,662.7 1697.4,650.4 1697.5,653.7 1697.6,655.9 1697.7,663.9 1697.8,647.9 1697.9,656.1 1698.0,643.3 1698.2,650.7 1698.3,652.7 1698.4,647.1 1698.5,658.6 1698.6,656.2 1698.7,649.7 1698.8,655.4 1698.9,650.7 1699.0,653.3 1699.1,653.1 1699.2,663.1 1699.4,649.4 1699.5,658.5 1699.6,662.2 1699.7,655.2 1699.8,658.4 1699.9,667.7 1700.0,648.1 1700.1,648.3 1700.2,659.4 1700.3,657.1 1700.4,666.8 1700.6,653.1 1700.7,657.8 1700.8,661.4 1700.9,643.6 1701.0,677.9 1701.1,658.5 1701.2,653.0 1701.3,654.7 1701.4,655.8 1701.5,667.9 1701.6,654.6 1701.8,668.5 1701.9,656.5 1702.0,663.0 1702.1,657.3 1702.2,659.1 1702.3,665.1 1702.4,657.8 1702.5,651.5 1702.6,665.2 1702.7,672.2 1702.9,657.4 1703.0,657.0 1703.1,654.5 1703.2,649.2 1703.3,652.6 1703.4,659.0 1703.5,652.4 1703.6,658.0 1703.7,657.0 1703.8,660.1 1703.9,665.9 1704.1,655.9 1704.2,647.1 1704.3,657.3 1704.4,659.6 1704.5,667.0 1704.6,655.6 1704.7,646.4 1704.8,649.8 1704.9,658.9 1705.0,654.4 1705.1,670.3 1705.3,664.1 1705.4,655.5 1705.5,659.2 1705.6,655.9 1705.7,659.4 1705.8,647.1 1705.9,649.9 1706.0,678.2 1706.1,646.0 1706.2,648.6 1706.3,658.0 1706.5,648.8 1706.6,649.1 1706.7,649.7 1706.8,664.4 1706.9,654.0 1707.0,664.8 1707.1,655.8 1707.2,644.3 1707.3,655.3 1707.4,643.3 1707.5,661.0 1707.7,640.9 1707.8,661.8 1707.9,658.9 1708.0,665.0 1708.1,657.9 1708.2,656.8 1708.3,652.6 1708.4,650.6 1708.5,649.5 1708.6,651.9 1708.8,652.4 1708.9,668.7 1709.0,656.2 1709.1,648.4 1709.2,662.7 1709.3,655.8 1709.4,649.2 1709.5,654.1 1709.6,649.3 1709.7,657.2 1709.8,651.2 1710.0,659.8 1710.1,645.7 1710.2,655.1 1710.3,645.2 1710.4,665.1 1710.5,645.8 1710.6,666.9 1710.7,653.3 1710.8,661.9 1710.9,649.5 1711.0,653.2 1711.2,664.5 1711.3,646.7 1711.4,659.0 1711.5,644.9 1711.6,669.0 1711.7,662.2 1711.8,643.0 1711.9,651.8 1712.0,669.1 1712.1,668.9 1712.2,654.5 1712.4,643.0 1712.5,663.3 1712.6,649.7 1712.7,655.4 1712.8,652.2 1712.9,634.4 1713.0,639.6 1713.1,664.4 1713.2,654.5 1713.3,653.5 1713.5,649.8 1713.6,656.3 1713.7,646.1 1713.8,645.3 1713.9,643.7 1714.0,630.6 1714.1,653.8 1714.2,641.3 1714.3,663.1 1714.4,650.3 1714.5,647.1 1714.7,648.6 1714.8,661.0 1714.9,635.1 1715.0,650.7 1715.1,661.5 1715.2,657.5 1715.3,652.6 1715.4,647.3 1715.5,664.8 1715.6,646.7 1715.7,662.2 1715.9,643.4 1716.0,639.6 1716.1,650.3 1716.2,647.5 1716.3,634.0 1716.4,649.6 1716.5,666.2 1716.6,648.8 1716.7,652.6 1716.8,649.9 1716.9,649.3 1717.1,650.7 1717.2,649.6 1717.3,648.8 1717.4,651.3 1717.5,651.5 1717.6,649.4 1717.7,637.9 1717.8,641.7 1717.9,639.1 1718.0,644.7 1718.1,656.2 1718.3,647.1 1718.4,642.0 1718.5,658.5 1718.6,650.6 1718.7,641.4 1718.8,649.0 1718.9,653.3 1719.0,652.1 1719.1,641.1 1719.2,646.3 1719.4,640.5 1719.5,635.1 1719.6,647.7 1719.7,630.1 1719.8,641.7 1719.9,649.7 1720.0,646.5 1720.1,641.6 1720.2,644.5 1720.3,642.3 1720.4,649.8 1720.6,644.1 1720.7,645.1 1720.8,635.3 1720.9,637.8 1721.0,636.4 1721.1,647.2 1721.2,646.0 1721.3,641.0 1721.4,645.9 1721.5,640.5 1721.6,638.5 1721.8,648.7 1721.9,641.0 1722.0,674.8 1722.1,630.7 1722.2,646.3 1722.3,633.1 1722.4,651.9 1722.5,632.0 1722.6,626.5 1722.7,648.9 1722.8,636.8 1723.0,648.6 1723.1,632.2 1723.2,630.4 1723.3,643.7 1723.4,630.3 1723.5,635.1 1723.6,628.3 1723.7,631.9 1723.8,617.9 1723.9,630.7 1724.1,632.0 1724.2,639.2 1724.3,640.0 1724.4,632.7 1724.5,634.1 1724.6,632.9 1724.7,647.9 1724.8,627.1 1724.9,637.8 1725.0,632.7 1725.1,623.4 1725.3,635.4 1725.4,639.7 1725.5,633.6 1725.6,624.1 1725.7,636.1 1725.8,636.9 1725.9,629.7 1726.0,638.6 1726.1,620.6 1726.2,624.0 1726.3,629.5 1726.5,631.7 1726.6,638.6 1726.7,639.8 1726.8,628.7 1726.9,641.8 1727.0,644.7 1727.1,640.2 1727.2,634.4 1727.3,632.0 1727.4,630.0 1727.5,622.1 1727.7,630.1 1727.8,625.1 1727.9,635.5 1728.0,636.0 1728.1,638.7 1728.2,638.7 1728.3,640.2 1728.4,629.7 1728.5,632.4 1728.6,640.0 1728.7,647.4 1728.9,626.1 1729.0,631.5 1729.1,636.9 1729.2,631.9 1729.3,635.3 1729.4,639.5 1729.5,634.1 1729.6,645.0 1729.7,644.9 1729.8,645.5 1730.0,643.2 1730.1,644.9 1730.2,620.6 1730.3,646.2 1730.4,635.3 1730.5,674.5 1730.6,638.3 1730.7,646.2 1730.8,634.4 1730.9,636.8 1731.0,646.3 1731.2,647.4 1731.3,653.9 1731.4,649.2 1731.5,652.4 1731.6,657.8 1731.7,635.3 1731.8,655.2 1731.9,634.8 1732.0,649.1 1732.1,646.3 1732.2,653.9 1732.4,653.9 1732.5,652.3 1732.6,645.7 1732.7,637.3 1732.8,650.6 1732.9,649.9 1733.0,651.2 1733.1,654.8 1733.2,664.1 1733.3,659.0 1733.4,655.0 1733.6,649.3 1733.7,644.4 1733.8,662.5 1733.9,657.5 1734.0,653.4 1734.1,643.9 1734.2,651.3 1734.3,657.6 1734.4,656.2 1734.5,650.7 1734.7,654.7 1734.8,651.6 1734.9,650.9 1735.0,662.3 1735.1,658.8 1735.2,659.9 1735.3,651.3 1735.4,662.7 1735.5,645.6 1735.6,656.1 1735.7,646.8 1735.9,624.5 1736.0,651.1 1736.1,640.6 1736.2,652.5 1736.3,645.4 1736.4,655.2 1736.5,651.7 1736.6,644.7 1736.7,652.3 1736.8,650.1 1736.9,665.0 1737.1,665.0 1737.2,661.0 1737.3,662.3 1737.4,672.9 1737.5,659.1 1737.6,659.1 1737.7,668.1 1737.8,662.1 1737.9,652.2 1738.0,668.3 1738.1,659.2 1738.3,667.4 1738.4,668.1 1738.5,655.6 1738.6,658.5 1738.7,663.0 1738.8,650.9 1738.9,653.0 1739.0,660.5 1739.1,659.4 1739.2,653.3 1739.3,657.9 1739.5,660.4 1739.6,653.6 1739.7,652.6 1739.8,656.6 1739.9,650.8 1740.0,651.6 1740.1,654.6 1740.2,644.5 1740.3,654.1 1740.4,660.5 1740.6,644.1 1740.7,666.0 1740.8,660.5 1740.9,667.0 1741.0,657.8 1741.1,662.4 1741.2,658.2 1741.3,651.4 1741.4,661.8 1741.5,653.4 1741.6,661.5 1741.8,651.7 1741.9,658.5 1742.0,656.1 1742.1,666.2 1742.2,656.5 1742.3,665.8 1742.4,661.1 1742.5,668.1 1742.6,653.4 1742.7,664.6 1742.8,664.0 1743.0,662.6 1743.1,659.5 1743.2,667.1 1743.3,639.4 1743.4,663.3 1743.5,654.6 1743.6,661.6 1743.7,663.4 1743.8,660.4 1743.9,657.1 1744.0,652.3 1744.2,649.0 1744.3,653.6 1744.4,661.6 1744.5,648.6 1744.6,674.4 1744.7,657.8 1744.8,652.6 1744.9,664.2 1745.0,673.5 1745.1,659.7 1745.3,651.9 1745.4,656.7 1745.5,664.8 1745.6,662.2 1745.7,644.4 1745.8,663.1 1745.9,669.3 1746.0,653.6 1746.1,645.7 1746.2,647.8 1746.3,659.0 1746.5,656.8 1746.6,656.4 1746.7,637.4 1746.8,653.0 1746.9,647.0 1747.0,656.7 1747.1,664.7 1747.2,652.1 1747.3,664.5 1747.4,666.1 1747.5,664.0 1747.7,654.0 1747.8,665.5 1747.9,655.0 1748.0,656.6 1748.1,648.6 1748.2,652.5 1748.3,653.8 1748.4,669.3 1748.5,662.8 1748.6,664.3 1748.7,657.4 1748.9,656.6 1749.0,653.1 1749.1,657.3 1749.2,669.0 1749.3,658.4 1749.4,672.5 1749.5,663.5 1749.6,657.5 1749.7,667.7 1749.8,658.8 1749.9,665.3 1750.1,651.3 1750.2,667.7 1750.3,661.1 1750.4,660.0 1750.5,665.0 1750.6,656.3 1750.7,646.4 1750.8,654.6 1750.9,665.9 1751.0,669.9 1751.2,651.3 1751.3,662.8 1751.4,667.5 1751.5,650.0 1751.6,647.6 1751.7,670.2 1751.8,661.4 1751.9,657.5 1752.0,663.2 1752.1,649.8 1752.2,663.0 1752.4,660.0 1752.5,658.1 1752.6,667.2 1752.7,660.2 1752.8,660.2 1752.9,657.1 1753.0,654.5 1753.1,659.0 1753.2,669.6 1753.3,647.6 1753.4,653.2 1753.6,656.3 1753.7,663.7 1753.8,655.2 1753.9,663.9 1754.0,628.2 1754.1,652.3 1754.2,664.0 1754.3,644.1 1754.4,661.1 1754.5,667.9 1754.6,663.7 1754.8,664.4 1754.9,653.5 1755.0,656.2 1755.1,665.8 1755.2,661.4 1755.3,670.9 1755.4,662.0 1755.5,659.9 1755.6,659.1 1755.7,668.1 1755.9,664.6 1756.0,655.5 1756.1,662.2 1756.2,652.6 1756.3,664.4 1756.4,657.2 1756.5,668.2 1756.6,668.3 1756.7,663.4 1756.8,647.6 1756.9,653.3 1757.1,658.6 1757.2,658.9 1757.3,659.6 1757.4,663.8 1757.5,646.8 1757.6,648.8 1757.7,648.5 1757.8,664.6 1757.9,663.1 1758.0,653.8 1758.1,656.4 1758.3,665.6 1758.4,654.2 1758.5,661.0 1758.6,661.5 1758.7,658.0 1758.8,661.3 1758.9,663.5 1759.0,653.9 1759.1,645.1 1759.2,654.9 1759.3,645.6 1759.5,644.3 1759.6,660.2 1759.7,648.7 1759.8,652.9 1759.9,657.0 1760.0,649.9 1760.1,660.1 1760.2,668.4 1760.3,650.1 1760.4,654.5 1760.5,637.7 1760.7,648.3 1760.8,665.2 1760.9,653.7 1761.0,650.9 1761.1,659.5 1761.2,651.7 1761.3,663.8 1761.4,653.5 1761.5,649.6 1761.6,651.9 1761.8,636.1 1761.9,656.3 1762.0,656.4 1762.1,640.5 1762.2,634.9 1762.3,649.5 1762.4,654.5 1762.5,663.5 1762.6,647.8 1762.7,648.8 1762.8,652.1 1763.0,662.2 1763.1,647.4 1763.2,650.2 1763.3,640.2 1763.4,658.0 1763.5,661.7 1763.6,664.9 1763.7,662.2 1763.8,657.1 1763.9,647.4 1764.0,655.1 1764.2,660.3 1764.3,657.4 1764.4,646.6 1764.5,650.4 1764.6,649.9 1764.7,658.3 1764.8,654.2 1764.9,649.9 1765.0,657.6 1765.1,656.9 1765.2,650.1 1765.4,661.5 1765.5,654.9 1765.6,654.0 1765.7,640.4 1765.8,655.2 1765.9,657.7 1766.0,621.2 1766.1,649.3 1766.2,652.4 1766.3,657.1 1766.5,644.8 1766.6,666.9 1766.7,652.2 1766.8,648.0 1766.9,652.2 1767.0,659.1 1767.1,653.2 1767.2,649.0 1767.3,655.1 1767.4,656.3 1767.5,654.6 1767.7,648.2 1767.8,656.3 1767.9,680.0 1768.0,652.1 1768.1,654.6 1768.2,640.0 1768.3,654.0 1768.4,656.3 1768.5,650.9 1768.6,652.8 1768.7,647.5 1768.9,659.4 1769.0,654.1 1769.1,646.0 1769.2,651.8 1769.3,655.7 1769.4,655.3 1769.5,670.9 1769.6,654.1 1769.7,655.3 1769.8,649.0 1769.9,658.9 1770.1,649.6 1770.2,658.5 1770.3,650.7 1770.4,642.5 1770.5,650.1 1770.6,668.2 1770.7,647.3 1770.8,661.2 1770.9,655.0 1771.0,646.3 1771.1,652.2 1771.3,649.7 1771.4,657.6 1771.5,662.6 1771.6,667.8 1771.7,651.5 1771.8,651.3 1771.9,650.6 1772.0,655.6 1772.1,650.6 1772.2,668.1 1772.4,656.2 1772.5,655.3 1772.6,637.0 1772.7,658.1 1772.8,650.8 1772.9,673.2 1773.0,662.7 1773.1,656.5 1773.2,662.6 1773.3,671.9 1773.4,661.1 1773.6,663.8 1773.7,631.7 1773.8,654.1 1773.9,650.4 1774.0,662.0 1774.1,650.2 1774.2,648.4 1774.3,657.0 1774.4,658.7 1774.5,664.2 1774.6,670.5 1774.8,668.3 1774.9,660.7 1775.0,661.3 1775.1,647.5 1775.2,667.7 1775.3,653.5 1775.4,656.6 1775.5,658.4 1775.6,652.2 1775.7,654.1 1775.8,665.6 1776.0,668.5 1776.1,672.3 1776.2,666.2 1776.3,656.3 1776.4,663.2 1776.5,653.5 1776.6,644.6 1776.7,664.1 1776.8,657.1 1776.9,656.7 1777.1,643.1 1777.2,685.6 1777.3,659.3 1777.4,667.3 1777.5,658.6 1777.6,660.2 1777.7,657.9 1777.8,677.3 1777.9,643.8 1778.0,654.7 1778.1,652.1 1778.3,659.3 1778.4,652.3 1778.5,655.8 1778.6,652.1 1778.7,650.3 1778.8,658.9 1778.9,663.2 1779.0,658.7 1779.1,647.3 1779.2,650.8 1779.3,661.0 1779.5,653.8 1779.6,661.8 1779.7,657.0 1779.8,666.3 1779.9,649.9 1780.0,657.8 1780.1,661.7 1780.2,659.6 1780.3,647.9 1780.4,651.6 1780.5,654.4 1780.7,649.6 1780.8,653.4 1780.9,653.0 1781.0,653.5 1781.1,653.3 1781.2,651.0 1781.3,662.0 1781.4,663.8 1781.5,655.9 1781.6,664.9 1781.7,664.4 1781.9,654.3 1782.0,668.9 1782.1,666.9 1782.2,662.3 1782.3,654.1 1782.4,658.2 1782.5,651.7 1782.6,660.8 1782.7,654.0 1782.8,648.2 1783.0,647.9 1783.1,652.3 1783.2,650.4 1783.3,659.9 1783.4,661.8 1783.5,657.7 1783.6,653.9 1783.7,655.1 1783.8,652.6 1783.9,649.7 1784.0,659.0 1784.2,651.6 1784.3,659.3 1784.4,639.8 1784.5,647.7 1784.6,658.9 1784.7,673.6 1784.8,654.9 1784.9,648.4 1785.0,663.2 1785.1,653.1 1785.2,650.2 1785.4,643.4 1785.5,657.1 1785.6,647.8 1785.7,644.3 1785.8,648.4 1785.9,657.4 1786.0,655.1 1786.1,641.5 1786.2,635.6 1786.3,671.3 1786.4,649.5 1786.6,662.2 1786.7,650.4 1786.8,651.1 1786.9,647.0 1787.0,647.0 1787.1,647.7 1787.2,646.2 1787.3,656.3 1787.4,643.5 1787.5,642.5 1787.7,653.1 1787.8,638.6 1787.9,643.0 1788.0,644.8 1788.1,635.0 1788.2,647.9 1788.3,644.3 1788.4,650.9 1788.5,646.3 1788.6,636.1 1788.7,634.2 1788.9,638.7 1789.0,641.3 1789.1,641.5 1789.2,641.1 1789.3,646.4 1789.4,634.2 1789.5,638.4 1789.6,652.5 1789.7,641.8 1789.8,642.5 1789.9,647.2 1790.1,633.5 1790.2,645.1 1790.3,641.3 1790.4,636.5 1790.5,643.1 1790.6,651.1 1790.7,642.0 1790.8,638.9 1790.9,651.8 1791.0,644.9 1791.1,670.4 1791.3,650.0 1791.4,641.6 1791.5,635.6 1791.6,637.5 1791.7,646.7 1791.8,629.6 1791.9,655.3 1792.0,620.7 1792.1,641.1 1792.2,645.1 1792.3,630.4 1792.5,620.6 1792.6,631.3 1792.7,631.7 1792.8,640.6 1792.9,633.9 1793.0,635.7 1793.1,632.6 1793.2,644.1 1793.3,629.7 1793.4,631.4 1793.6,634.5 1793.7,653.3 1793.8,609.7 1793.9,615.7 1794.0,627.0 1794.1,624.7 1794.2,630.8 1794.3,637.4 1794.4,635.9 1794.5,628.7 1794.6,625.5 1794.8,629.5 1794.9,625.0 1795.0,644.8 1795.1,639.5 1795.2,629.6 1795.3,635.2 1795.4,626.5 1795.5,628.7 1795.6,630.3 1795.7,619.7 1795.8,628.6 1796.0,623.5 1796.1,631.9 1796.2,621.0 1796.3,624.4 1796.4,633.1 1796.5,640.3 1796.6,632.6 1796.7,633.5 1796.8,617.6 1796.9,618.2 1797.0,630.2 1797.2,628.6 1797.3,629.4 1797.4,637.0 1797.5,638.2 1797.6,624.9 1797.7,623.1 1797.8,617.4 1797.9,630.4 1798.0,633.6 1798.1,638.8 1798.3,623.9 1798.4,625.2 1798.5,622.5 1798.6,645.6 1798.7,641.7 1798.8,626.3 1798.9,633.8 1799.0,624.4 1799.1,628.0 1799.2,647.0 1799.3,628.9 1799.5,628.2 1799.6,632.0 1799.7,623.0 1799.8,620.7 1799.9,617.7 1800.0,640.8 1800.1,627.9 1800.2,628.9 1800.3,640.0 1800.4,625.3 1800.5,626.7 1800.7,627.8 1800.8,637.0 1800.9,632.5 1801.0,621.0 1801.1,641.6 1801.2,643.7 1801.3,639.3 1801.4,631.6 1801.5,634.3 1801.6,627.0 1801.7,632.6 1801.9,643.1 1802.0,637.1 1802.1,625.2 1802.2,625.0 1802.3,633.7 1802.4,645.1 1802.5,639.6 1802.6,636.4 1802.7,643.0 1802.8,625.6 1802.9,641.5 1803.1,636.5 1803.2,630.8 1803.3,643.8 1803.4,630.5 1803.5,639.0 1803.6,646.8 1803.7,629.8 1803.8,659.0 1803.9,649.5 1804.0,645.5 1804.2,638.4 1804.3,638.8 1804.4,639.3 1804.5,641.3 1804.6,633.8 1804.7,642.9 1804.8,651.8 1804.9,631.7 1805.0,653.3 1805.1,624.6 1805.2,636.5 1805.4,639.2 1805.5,642.0 1805.6,643.6 1805.7,653.5 1805.8,646.0 1805.9,651.4 1806.0,639.7 1806.1,646.0 1806.2,630.1 1806.3,634.5 1806.4,659.6 1806.6,642.1 1806.7,647.1 1806.8,656.6 1806.9,647.8 1807.0,634.1 1807.1,645.3 1807.2,660.8 1807.3,652.3 1807.4,642.0 1807.5,645.7 1807.6,642.1 1807.8,646.6 1807.9,646.0 1808.0,645.5 1808.1,633.9 1808.2,633.7 1808.3,649.4 1808.4,648.2 1808.5,650.9 1808.6,655.3 1808.7,645.4 1808.9,655.3 1809.0,646.2 1809.1,654.3 1809.2,652.6 1809.3,643.4 1809.4,655.7 1809.5,652.7 1809.6,649.7 1809.7,648.0 1809.8,649.8 1809.9,643.9 1810.1,631.3 1810.2,649.1 1810.3,654.9 1810.4,648.4 1810.5,654.8 1810.6,640.0 1810.7,661.8 1810.8,652.8 1810.9,649.2 1811.0,651.9 1811.1,657.1 1811.3,653.0 1811.4,654.3 1811.5,643.0 1811.6,655.7 1811.7,650.4 1811.8,644.4 1811.9,657.8 1812.0,652.1 1812.1,662.7 1812.2,647.9 1812.3,661.8 1812.5,656.9 1812.6,648.4 1812.7,659.4 1812.8,657.6 1812.9,660.5 1813.0,650.5 1813.1,637.5 1813.2,650.8 1813.3,655.9 1813.4,667.4 1813.5,662.1 1813.7,663.3 1813.8,659.2 1813.9,656.1 1814.0,652.8 1814.1,658.8 1814.2,652.0 1814.3,657.0 1814.4,653.4 1814.5,661.3 1814.6,654.3 1814.8,653.1 1814.9,653.5 1815.0,660.7 1815.1,653.3 1815.2,665.1 1815.3,649.8 1815.4,658.3 1815.5,654.0 1815.6,648.3 1815.7,656.0 1815.8,659.3 1816.0,660.8 1816.1,655.2 1816.2,650.0 1816.3,653.1 1816.4,654.4 1816.5,670.7 1816.6,650.7 1816.7,658.1 1816.8,691.5 1816.9,651.9 1817.0,683.4 1817.2,668.7 1817.3,664.4 1817.4,662.2 1817.5,647.7 1817.6,658.5 1817.7,656.9 1817.8,667.8 1817.9,667.5 1818.0,652.7 1818.1,645.1 1818.2,656.6 1818.4,675.2 1818.5,663.0 1818.6,662.6 1818.7,668.1 1818.8,662.0 1818.9,666.2 1819.0,658.2 1819.1,658.5 1819.2,667.5 1819.3,665.2 1819.5,668.8 1819.6,664.6 1819.7,670.6 1819.8,666.2 1819.9,666.1 1820.0,671.2 1820.1,664.9 1820.2,656.2 1820.3,658.5 1820.4,663.0 1820.5,679.9 1820.7,660.8 1820.8,662.7 1820.9,673.0 1821.0,686.4 1821.1,655.2 1821.2,656.4 1821.3,662.9 1821.4,664.8 1821.5,660.4 1821.6,655.0 1821.7,696.1 1821.9,666.4 1822.0,673.2 1822.1,668.4 1822.2,666.7 1822.3,652.1 1822.4,665.5 1822.5,664.3 1822.6,664.1 1822.7,658.2 1822.8,655.6 1822.9,664.4 1823.1,668.7 1823.2,670.7 1823.3,665.0 1823.4,652.2 1823.5,661.5 1823.6,660.2 1823.7,659.3 1823.8,656.5 1823.9,668.0 1824.0,654.5 1824.1,665.1 1824.3,673.2 1824.4,659.6 1824.5,662.6 1824.6,660.2 1824.7,671.9 1824.8,659.1 1824.9,653.9 1825.0,669.9 1825.1,628.9 1825.2,673.1 1825.4,670.7 1825.5,666.9 1825.6,667.3 1825.7,665.3 1825.8,667.8 1825.9,648.6 1826.0,662.9 1826.1,657.4 1826.2,652.3 1826.3,656.7 1826.4,663.0 1826.6,668.0 1826.7,659.3 1826.8,658.8 1826.9,673.8 1827.0,667.8 1827.1,658.0 1827.2,658.5 1827.3,664.4 1827.4,668.6 1827.5,660.1 1827.6,662.8 1827.8,670.1 1827.9,654.4 1828.0,664.8 1828.1,662.6 1828.2,657.7 1828.3,665.6 1828.4,669.4 1828.5,661.8 1828.6,660.5 1828.7,672.6 1828.8,665.3 1829.0,658.5 1829.1,666.0 1829.2,669.0 1829.3,661.3 1829.4,653.0 1829.5,661.3 1829.6,657.8 1829.7,675.3 1829.8,660.9 1829.9,677.1 1830.1,665.9 1830.2,666.4 1830.3,667.4 1830.4,676.2 1830.5,659.0 1830.6,661.8 1830.7,662.2 1830.8,665.9 1830.9,659.4 1831.0,664.5 1831.1,668.8 1831.3,657.1 1831.4,671.6 1831.5,663.1 1831.6,662.5 1831.7,668.1 1831.8,658.8 1831.9,666.3 1832.0,659.2 1832.1,655.4 1832.2,665.3 1832.3,668.1 1832.5,661.3 1832.6,668.1 1832.7,659.8 1832.8,676.7 1832.9,661.0 1833.0,669.3 1833.1,662.2 1833.2,661.2 1833.3,656.0 1833.4,671.1 1833.5,660.7 1833.7,658.0 1833.8,668.9 1833.9,675.7 1834.0,656.0 1834.1,664.4 1834.2,667.4 1834.3,661.8 1834.4,652.4 1834.5,660.4 1834.6,650.7 1834.7,653.1 1834.9,664.0 1835.0,664.9 1835.1,646.3 1835.2,658.1 1835.3,649.0 1835.4,662.2 1835.5,655.8 1835.6,650.7 1835.7,668.5 1835.8,658.8 1836.0,668.7 1836.1,661.6 1836.2,654.9 1836.3,651.4 1836.4,650.8 1836.5,658.3 1836.6,660.7 1836.7,667.7 1836.8,651.6 1836.9,659.4 1837.0,663.9 1837.2,668.0 1837.3,665.3 1837.4,668.2 1837.5,664.0 1837.6,651.7 1837.7,660.1 1837.8,651.6 1837.9,672.9 1838.0,665.3 1838.1,657.7 1838.2,656.9 1838.4,657.5 1838.5,666.7 1838.6,656.9 1838.7,657.9 1838.8,652.8 1838.9,661.6 1839.0,662.2 1839.1,652.2 1839.2,663.0 1839.3,658.1 1839.4,664.5 1839.6,665.9 1839.7,655.7 1839.8,662.4 1839.9,674.2 1840.0,651.4 1840.1,658.8 1840.2,651.9 1840.3,662.0 1840.4,647.5 1840.5,664.2 1840.7,656.8 1840.8,662.8 1840.9,671.5 1841.0,658.5 1841.1,652.4 1841.2,650.8 1841.3,662.6 1841.4,649.8 1841.5,648.5 1841.6,659.6 1841.7,665.2 1841.9,658.6 1842.0,668.1 1842.1,663.9 1842.2,661.7 1842.3,659.4 1842.4,659.2 1842.5,659.9 1842.6,663.8 1842.7,657.9 1842.8,647.7 1842.9,646.7 1843.1,651.3 1843.2,658.3 1843.3,648.5 1843.4,657.3 1843.5,661.1 1843.6,666.6 1843.7,653.8 1843.8,653.8 1843.9,651.5 1844.0,652.0 1844.1,657.1 1844.3,668.3 1844.4,638.3 1844.5,658.8 1844.6,660.9 1844.7,667.9 1844.8,667.0 1844.9,661.2 1845.0,649.0 1845.1,654.6 1845.2,654.5 1845.3,654.8 1845.5,664.8 1845.6,656.9 1845.7,652.9 1845.8,660.4 1845.9,666.6 1846.0,657.6 1846.1,654.9 1846.2,656.3 1846.3,662.5 1846.4,664.5 1846.6,653.3 1846.7,658.2 1846.8,667.6 1846.9,676.6 1847.0,679.1 1847.1,677.6 1847.2,658.6 1847.3,663.9 1847.4,662.2 1847.5,660.1 1847.6,660.2 1847.8,663.9 1847.9,666.3 1848.0,672.6 1848.1,672.8 1848.2,662.2 1848.3,662.5 1848.4,669.9 1848.5,673.8 1848.6,661.1 1848.7,664.3 1848.8,653.3 1849.0,666.5 1849.1,656.7 1849.2,668.8 1849.3,646.4 1849.4,664.2 1849.5,656.9 1849.6,660.7 1849.7,665.8 1849.8,660.5 1849.9,674.6 1850.0,670.9 1850.2,662.2 1850.3,675.6 1850.4,664.4 1850.5,665.9 1850.6,676.0 1850.7,692.2 1850.8,665.7 1850.9,669.9 1851.0,665.2 1851.1,671.4 1851.3,662.9 1851.4,671.9 1851.5,654.0 1851.6,666.7 1851.7,671.8 1851.8,665.5 1851.9,653.9 1852.0,666.4 1852.1,657.5 1852.2,661.4 1852.3,665.7 1852.5,675.5 1852.6,662.1 1852.7,657.1 1852.8,675.4 1852.9,662.7 1853.0,660.3 1853.1,662.0 1853.2,661.4 1853.3,671.1 1853.4,649.2 1853.5,656.6 1853.7,666.6 1853.8,662.6 1853.9,660.6 1854.0,649.1 1854.1,666.8 1854.2,657.6 1854.3,679.2 1854.4,646.6 1854.5,663.5 1854.6,665.3 1854.7,672.0 1854.9,662.5 1855.0,657.6 1855.1,662.5 1855.2,657.8 1855.3,660.8 1855.4,646.7 1855.5,658.9 1855.6,659.6 1855.7,660.7 1855.8,659.0 1855.9,671.2 1856.1,672.1 1856.2,666.9 1856.3,661.2 1856.4,669.5 1856.5,661.9 1856.6,658.2 1856.7,656.9 1856.8,658.8 1856.9,669.6 1857.0,669.1 1857.2,668.3 1857.3,663.0 1857.4,657.0 1857.5,662.3 1857.6,659.8 1857.7,656.5 1857.8,666.6 1857.9,650.7 1858.0,651.8 1858.1,652.7 1858.2,656.4 1858.4,659.1 1858.5,664.4 1858.6,664.9 1858.7,656.8 1858.8,656.0 1858.9,659.9 1859.0,665.6 1859.1,662.1 1859.2,663.9 1859.3,666.1 1859.4,663.3 1859.6,662.4 1859.7,648.6 1859.8,658.1 1859.9,653.5 1860.0,656.7 1860.1,659.2 1860.2,665.2 1860.3,667.5 1860.4,656.3 1860.5,665.2 1860.6,665.8 1860.8,650.2 1860.9,663.6 1861.0,662.2 1861.1,651.0 1861.2,663.2 1861.3,667.0 1861.4,666.7 1861.5,659.2 1861.6,667.8 1861.7,670.3 1861.9,667.2 1862.0,654.5 1862.1,669.2 1862.2,660.1 1862.3,660.1 1862.4,671.7 1862.5,673.1 1862.6,673.2 1862.7,645.5 1862.8,672.9 1862.9,650.6 1863.1,673.4 1863.2,655.4 1863.3,664.2 1863.4,669.4 1863.5,668.3 1863.6,660.1 1863.7,646.4 1863.8,659.8 1863.9,660.3 1864.0,663.9 1864.1,678.1 1864.3,658.1 1864.4,667.7 1864.5,657.0 1864.6,658.6 1864.7,665.0 1864.8,667.9 1864.9,669.1 1865.0,659.5 1865.1,667.3 1865.2,656.3 1865.3,676.9 1865.5,667.4 1865.6,663.8 1865.7,657.5 1865.8,659.3 1865.9,666.9 1866.0,658.5 1866.1,665.8 1866.2,657.8 1866.3,659.6 1866.4,670.5 1866.5,657.9 1866.7,661.2 1866.8,658.1 1866.9,668.1 1867.0,658.3 1867.1,662.7 1867.2,665.1 1867.3,662.6 1867.4,668.5 1867.5,666.3 1867.6,666.5 1867.8,662.6 1867.9,665.3 1868.0,662.0 1868.1,662.2 1868.2,660.9 1868.3,676.1 1868.4,672.5 1868.5,660.1 1868.6,666.3 1868.7,671.5 1868.8,664.2 1869.0,675.9 1869.1,657.5 1869.2,666.0 1869.3,651.8 1869.4,673.7 1869.5,662.2 1869.6,667.1 1869.7,680.8 1869.8,665.2 1869.9,664.0 1870.0,662.9 1870.2,676.5 1870.3,677.0 1870.4,664.1 1870.5,676.0 1870.6,664.1 1870.7,653.4 1870.8,663.4 1870.9,661.9 1871.0,668.8 1871.1,669.2 1871.2,662.4 1871.4,662.4 1871.5,666.2 1871.6,652.4 1871.7,671.4 1871.8,674.1 1871.9,667.3 1872.0,657.7 1872.1,665.7 1872.2,655.8 1872.3,663.4 1872.5,677.4 1872.6,665.0 1872.7,662.2 1872.8,670.5 1872.9,656.8 1873.0,676.2 1873.1,667.3 1873.2,666.1 1873.3,666.6 1873.4,644.9 1873.5,668.6 1873.7,667.4 1873.8,664.6 1873.9,658.9 1874.0,663.3 1874.1,672.3 1874.2,659.0 1874.3,666.3 1874.4,669.5 1874.5,656.4 1874.6,660.5 1874.7,664.8 1874.9,670.3 1875.0,664.1 1875.1,658.2 1875.2,662.3 1875.3,651.2 1875.4,665.0 1875.5,661.5 1875.6,658.7 1875.7,662.4 1875.8,663.7 1875.9,655.3 1876.1,675.6 1876.2,656.0 1876.3,662.1 1876.4,660.8 1876.5,650.0 1876.6,658.6 1876.7,653.9 1876.8,651.9 1876.9,649.2 1877.0,660.0 1877.1,666.4 1877.3,665.6 1877.4,659.8 1877.5,662.9 1877.6,647.0 1877.7,662.4 1877.8,657.0 1877.9,664.9 1878.0,665.6 1878.1,661.4 1878.2,660.0 1878.4,660.0 1878.5,672.9 1878.6,660.1 1878.7,665.1 1878.8,668.5 1878.9,671.0 1879.0,654.1 1879.1,664.1 1879.2,655.7 1879.3,661.0 1879.4,667.7 1879.6,652.3 1879.7,663.8 1879.8,662.0 1879.9,667.9 1880.0,663.0 1880.1,664.9 1880.2,660.6 1880.3,669.4 1880.4,666.8 1880.5,663.7 1880.6,642.1 1880.8,665.9 1880.9,658.2 1881.0,670.2 1881.1,664.2 1881.2,665.5 1881.3,659.9 1881.4,663.7 1881.5,660.9 1881.6,652.2 1881.7,664.3 1881.8,656.8 1882.0,662.0 1882.1,667.3 1882.2,669.9 1882.3,666.4 1882.4,664.1 1882.5,661.3 1882.6,655.6 1882.7,663.6 1882.8,665.0 1882.9,656.8 1883.1,662.8 1883.2,652.4 1883.3,661.9 1883.4,655.2 1883.5,654.2 1883.6,654.6 1883.7,652.4 1883.8,653.1 1883.9,659.6 1884.0,660.4 1884.1,677.5 1884.3,648.9 1884.4,656.2 1884.5,663.9 1884.6,668.3 1884.7,658.9 1884.8,664.2 1884.9,656.1 1885.0,663.5 1885.1,655.6 1885.2,650.6 1885.3,659.3 1885.5,657.3 1885.6,659.1 1885.7,656.4 1885.8,650.1 1885.9,655.9 1886.0,655.0 1886.1,650.7 1886.2,652.9 1886.3,657.3 1886.4,658.2 1886.5,652.9 1886.7,652.0 1886.8,654.4 1886.9,653.0 1887.0,656.1 1887.1,667.4 1887.2,655.2 1887.3,646.5 1887.4,667.6 1887.5,657.9 1887.6,655.8 1887.7,660.9 1887.9,655.2 1888.0,668.9 1888.1,658.4 1888.2,658.7 1888.3,657.0 1888.4,661.4 1888.5,657.7 1888.6,656.8 1888.7,658.3 1888.8,654.9 1889.0,665.5 1889.1,669.0 1889.2,654.7 1889.3,658.6 1889.4,664.2 1889.5,653.2 1889.6,656.7 1889.7,663.9 1889.8,661.3 1889.9,661.8 1890.0,648.0 1890.2,666.6 1890.3,660.2 1890.4,658.5 1890.5,683.1 1890.6,664.7 1890.7,649.1 1890.8,670.6 1890.9,655.1 1891.0,657.9 1891.1,651.4 1891.2,678.2 1891.4,658.2 1891.5,662.0 1891.6,664.7 1891.7,658.2 1891.8,645.5 1891.9,668.4 1892.0,653.1 1892.1,649.1 1892.2,656.4 1892.3,655.7 1892.4,655.2 1892.6,657.1 1892.7,661.1 1892.8,669.4 1892.9,663.7 1893.0,658.1 1893.1,670.9 1893.2,657.5 1893.3,672.0 1893.4,656.7 1893.5,645.2 1893.7,664.8 1893.8,654.7 1893.9,653.7 1894.0,655.3 1894.1,656.8 1894.2,660.8 1894.3,655.4 1894.4,648.8 1894.5,659.0 1894.6,660.2 1894.7,654.4 1894.9,658.2 1895.0,660.6 1895.1,645.3 1895.2,644.3 1895.3,651.6 1895.4,668.7 1895.5,647.2 1895.6,665.4 1895.7,654.2 1895.8,660.2 1895.9,654.1 1896.1,654.3 1896.2,655.6 1896.3,653.2 1896.4,652.2 1896.5,653.5 1896.6,655.6 1896.7,655.4 1896.8,649.2 1896.9,655.7 1897.0,657.1 1897.1,667.0 1897.3,662.7 1897.4,659.4 1897.5,662.0 1897.6,652.0 1897.7,656.3 1897.8,664.4 1897.9,665.9 1898.0,670.1 1898.1,673.9 1898.2,672.1 1898.3,656.2 1898.5,656.9 1898.6,657.9 1898.7,668.5 1898.8,662.7 1898.9,658.6 1899.0,653.3 1899.1,659.5 1899.2,658.2 1899.3,667.2 1899.4,675.3 1899.6,650.7 1899.7,649.8 1899.8,664.7 1899.9,663.7 1900.0,655.5 1900.1,661.2 1900.2,660.8 1900.3,643.7 1900.4,663.7 1900.5,655.6 1900.6,660.0 1900.8,666.6 1900.9,651.7 1901.0,663.9 1901.1,663.4 1901.2,668.2 1901.3,652.7 1901.4,659.9 1901.5,647.9 1901.6,657.3 1901.7,666.2 1901.8,669.3 1902.0,661.2 1902.1,650.1 1902.2,646.0 1902.3,659.3 1902.4,652.3 1902.5,659.9 1902.6,657.7 1902.7,657.9 1902.8,668.7 1902.9,638.7 1903.0,657.6 1903.2,664.3 1903.3,669.4 1903.4,651.7 1903.5,649.9 1903.6,654.9 1903.7,646.9 1903.8,650.1 1903.9,667.1 1904.0,651.6 1904.1,648.5 1904.3,655.3 1904.4,659.3 1904.5,653.2 1904.6,658.4 1904.7,664.1 1904.8,662.8 1904.9,654.9 1905.0,667.1 1905.1,669.9 1905.2,663.1 1905.3,647.3 1905.5,673.2 1905.6,658.7 1905.7,667.6 1905.8,657.4 1905.9,657.1 1906.0,658.2 1906.1,658.9 1906.2,673.2 1906.3,658.4 1906.4,659.1 1906.5,663.4 1906.7,654.6 1906.8,658.6 1906.9,655.7 1907.0,668.4 1907.1,652.6 1907.2,660.7 1907.3,663.0 1907.4,670.1 1907.5,667.4 1907.6,664.2 1907.7,656.1 1907.9,696.4 1908.0,671.6 1908.1,664.8 1908.2,640.0 1908.3,658.0 1908.4,654.3 1908.5,653.7 1908.6,655.3 1908.7,650.0 1908.8,651.1 1908.9,655.4 1909.1,656.7 1909.2,645.2 1909.3,656.9 1909.4,668.2 1909.5,656.5 1909.6,654.2 1909.7,654.2 1909.8,672.0 1909.9,663.5 1910.0,663.0 1910.2,661.2 1910.3,657.8 1910.4,671.4 1910.5,657.1 1910.6,626.3 1910.7,661.9 1910.8,664.5 1910.9,660.4 1911.0,663.1 1911.1,662.8 1911.2,662.0 1911.4,673.1 1911.5,669.5 1911.6,663.5 1911.7,661.1 1911.8,653.6 1911.9,653.3 1912.0,652.7 1912.1,652.9 1912.2,658.6 1912.3,659.4 1912.4,666.0 1912.6,662.1 1912.7,648.3 1912.8,650.1 1912.9,656.7 1913.0,677.4 1913.1,653.7 1913.2,664.1 1913.3,662.7 1913.4,657.8 1913.5,665.2 1913.6,630.7 1913.8,654.7 1913.9,651.0 1914.0,664.1 1914.1,675.0 1914.2,653.8 1914.3,653.4 1914.4,653.8 1914.5,661.1 1914.6,660.5 1914.7,664.3 1914.9,658.0 1915.0,658.0 1915.1,669.6 1915.2,670.9 1915.3,667.0 1915.4,656.8 1915.5,670.4 1915.6,683.4 1915.7,655.8 1915.8,667.5 1915.9,660.5 1916.1,665.2 1916.2,663.8 1916.3,665.7 1916.4,658.3 1916.5,663.2 1916.6,658.2 1916.7,663.9 1916.8,661.5 1916.9,656.4 1917.0,660.3 1917.1,658.0 1917.3,663.0 1917.4,662.9 1917.5,662.5 1917.6,645.7 1917.7,658.8 1917.8,655.3 1917.9,655.6 1918.0,665.7 1918.1,664.4 1918.2,659.7 1918.3,679.5 1918.5,676.6 1918.6,660.1 1918.7,665.3 1918.8,670.6 1918.9,652.1 1919.0,641.3 1919.1,651.8 1919.2,655.5 1919.3,657.6 1919.4,666.1 1919.5,653.9 1919.7,668.1 1919.8,667.3 1919.9,667.2 1920.0,658.8 1920.1,653.0 1920.2,666.6 1920.3,661.1 1920.4,656.4 1920.5,664.2 1920.6,661.5 1920.8,653.7 1920.9,661.8 1921.0,662.0 1921.1,658.3 1921.2,662.3 1921.3,654.3 1921.4,659.7 1921.5,656.4 1921.6,665.1 1921.7,661.3 1921.8,659.2 1922.0,667.1 1922.1,657.4 1922.2,655.7 1922.3,667.8 1922.4,648.2 1922.5,670.5 1922.6,667.8 1922.7,658.4 1922.8,656.4 1922.9,673.9 1923.0,659.8 1923.2,656.8 1923.3,655.9 1923.4,653.4 1923.5,674.4 1923.6,664.1 1923.7,660.6 1923.8,656.7 1923.9,657.3 1924.0,673.9 1924.1,645.3 1924.2,655.1 1924.4,653.4 1924.5,649.5 1924.6,664.0 1924.7,655.1 1924.8,667.6 1924.9,666.9 1925.0,653.0 1925.1,667.0 1925.2,662.1 1925.3,659.2 1925.5,668.7 1925.6,662.4 1925.7,665.4 1925.8,651.8 1925.9,667.4 1926.0,659.2 1926.1,669.1 1926.2,658.8 1926.3,666.6 1926.4,660.8 1926.5,664.6 1926.7,646.5 1926.8,660.7 1926.9,659.4 1927.0,659.3 1927.1,653.6 1927.2,647.6 1927.3,663.9 1927.4,658.4 1927.5,659.8 1927.6,666.1 1927.7,654.9 1927.9,668.0 1928.0,663.2 1928.1,660.6 1928.2,659.6 1928.3,670.7 1928.4,662.2 1928.5,664.7 1928.6,653.3 1928.7,663.0 1928.8,653.2 1928.9,655.6 1929.1,662.9 1929.2,658.8 1929.3,648.9 1929.4,654.2 1929.5,656.6 1929.6,663.8 1929.7,652.8 1929.8,666.4 1929.9,659.7 1930.0,653.1 1930.1,669.9 1930.3,658.7 1930.4,656.3 1930.5,655.5 1930.6,659.7 1930.7,657.1 1930.8,661.5 1930.9,665.6 1931.0,661.3 1931.1,655.6 1931.2,666.7 1931.4,658.5 1931.5,663.0 1931.6,645.4 1931.7,667.5 1931.8,655.8 1931.9,664.9 1932.0,651.8 1932.1,658.0 1932.2,668.4 1932.3,667.6 1932.4,661.9 1932.6,664.9 1932.7,646.6 1932.8,656.0 1932.9,659.0 1933.0,647.2 1933.1,656.9 1933.2,661.1 1933.3,666.2 1933.4,658.9 1933.5,667.7 1933.6,677.3 1933.8,660.1 1933.9,665.3 1934.0,664.8 1934.1,680.9 1934.2,645.7 1934.3,662.3 1934.4,655.4 1934.5,649.3 1934.6,650.1 1934.7,656.3 1934.8,662.1 1935.0,654.8 1935.1,648.7 1935.2,656.5 1935.3,667.0 1935.4,652.1 1935.5,661.9 1935.6,666.2 1935.7,658.0 1935.8,654.0 1935.9,652.6 1936.1,667.0 1936.2,663.4 1936.3,658.9 1936.4,661.1 1936.5,655.5 1936.6,658.9 1936.7,669.9 1936.8,663.8 1936.9,663.8 1937.0,664.8 1937.1,656.3 1937.3,662.1 1937.4,652.3 1937.5,625.0 1937.6,658.1 1937.7,651.5 1937.8,654.6 1937.9,649.1 1938.0,656.3 1938.1,656.9 1938.2,653.1 1938.3,653.7 1938.5,650.6 1938.6,655.2 1938.7,664.1 1938.8,644.4 1938.9,664.8 1939.0,652.0 1939.1,655.6 1939.2,679.7 1939.3,650.2 1939.4,672.4 1939.5,654.0 1939.7,660.8 1939.8,663.3 1939.9,666.3 1940.0,660.8 1940.1,656.9 1940.2,676.2 1940.3,664.3 1940.4,664.0 1940.5,654.6 1940.6,644.3 1940.7,664.5 1940.9,671.2 1941.0,657.4 1941.1,653.4 1941.2,666.5 1941.3,656.5 1941.4,662.8 1941.5,652.6 1941.6,659.5 1941.7,654.4 1941.8,656.6 1942.0,653.6 1942.1,661.0 1942.2,654.9 1942.3,661.6 1942.4,657.0 1942.5,667.7 1942.6,655.8 1942.7,658.5 1942.8,666.7 1942.9,660.6 1943.0,648.7 1943.2,655.2 1943.3,653.1 1943.4,665.6 1943.5,658.6 1943.6,659.1 1943.7,649.2 1943.8,665.0 1943.9,665.2 1944.0,667.4 1944.1,652.3 1944.2,667.7 1944.4,656.5 1944.5,663.3 1944.6,661.3 1944.7,665.9 1944.8,651.8 1944.9,661.3 1945.0,665.8 1945.1,672.9 1945.2,658.2 1945.3,662.4 1945.4,668.3 1945.6,656.4 1945.7,656.8 1945.8,658.6 1945.9,666.8 1946.0,652.9 1946.1,658.9 1946.2,653.7 1946.3,657.0 1946.4,667.9 1946.5,661.3 1946.7,660.8 1946.8,651.7 1946.9,652.8 1947.0,663.1 1947.1,665.5 1947.2,651.7 1947.3,654.1 1947.4,649.6 1947.5,653.2 1947.6,661.4 1947.7,648.6 1947.9,662.8 1948.0,665.4 1948.1,647.0 1948.2,658.1 1948.3,654.9 1948.4,649.8 1948.5,668.3 1948.6,665.1 1948.7,651.7 1948.8,651.7 1948.9,655.7 1949.1,663.0 1949.2,662.0 1949.3,656.5 1949.4,647.5 1949.5,643.6 1949.6,653.7 1949.7,658.2 1949.8,659.6 1949.9,663.3 1950.0,653.4 1950.1,652.9 1950.3,662.1 1950.4,652.5 1950.5,658.8 1950.6,637.8 1950.7,661.0 1950.8,654.2 1950.9,658.6 1951.0,658.1 1951.1,652.7 1951.2,642.1 1951.3,648.8 1951.5,662.7 1951.6,649.2 1951.7,650.2 1951.8,647.1 1951.9,650.1 1952.0,646.8 1952.1,643.5 1952.2,651.2 1952.3,646.9 1952.4,643.4 1952.6,657.7 1952.7,648.9 1952.8,656.2 1952.9,661.9 1953.0,677.8 1953.1,648.8 1953.2,654.3 1953.3,651.7 1953.4,646.3 1953.5,653.0 1953.6,647.7 1953.8,647.2 1953.9,651.5 1954.0,653.7 1954.1,655.7 1954.2,651.1 1954.3,658.4 1954.4,649.8 1954.5,650.0 1954.6,657.3 1954.7,640.5 1954.8,656.0 1955.0,657.3 1955.1,648.4 1955.2,647.7 1955.3,651.9 1955.4,655.6 1955.5,649.1 1955.6,649.5 1955.7,642.2 1955.8,654.6 1955.9,657.1 1956.0,658.0 1956.2,651.2 1956.3,656.0 1956.4,661.6 1956.5,656.8 1956.6,652.8 1956.7,652.0 1956.8,654.6 1956.9,653.5 1957.0,649.8 1957.1,657.7 1957.3,650.9 1957.4,661.1 1957.5,647.5 1957.6,657.9 1957.7,651.2 1957.8,647.1 1957.9,646.5 1958.0,662.9 1958.1,654.5 1958.2,657.7 1958.3,649.3 1958.5,651.0 1958.6,647.7 1958.7,656.3 1958.8,653.1 1958.9,656.0 1959.0,646.8 1959.1,668.0 1959.2,646.5 1959.3,682.9 1959.4,656.8 1959.5,663.7 1959.7,655.5 1959.8,663.0 1959.9,658.8 1960.0,649.2 1960.1,651.0 1960.2,649.3 1960.3,662.7 1960.4,656.0 1960.5,656.9 1960.6,658.4 1960.7,656.8 1960.9,657.3 1961.0,652.1 1961.1,650.8 1961.2,660.7 1961.3,659.8 1961.4,657.8 1961.5,662.4 1961.6,660.8 1961.7,659.9 1961.8,666.6 1961.9,644.7 1962.1,665.2 1962.2,643.1 1962.3,663.4 1962.4,662.8 1962.5,657.5 1962.6,658.8 1962.7,663.4 1962.8,654.2 1962.9,658.5 1963.0,664.8 1963.2,644.3 1963.3,662.0 1963.4,662.8 1963.5,664.9 1963.6,663.5 1963.7,650.1 1963.8,669.1 1963.9,654.3 1964.0,644.2 1964.1,662.3 1964.2,661.6 1964.4,663.0 1964.5,664.9 1964.6,670.9 1964.7,667.4 1964.8,652.1 1964.9,663.9 1965.0,664.5 1965.1,661.4 1965.2,663.0 1965.3,661.6 1965.4,674.0 1965.6,656.3 1965.7,629.1 1965.8,661.6 1965.9,656.5 1966.0,659.9 1966.1,667.2 1966.2,655.4 1966.3,663.4 1966.4,655.8 1966.5,656.2 1966.6,659.0 1966.8,650.7 1966.9,666.3 1967.0,656.1 1967.1,663.0 1967.2,663.1 1967.3,660.3 1967.4,675.5 1967.5,671.4 1967.6,668.6 1967.7,672.1 1967.9,664.8 1968.0,671.8 1968.1,670.0 1968.2,664.9 1968.3,671.9 1968.4,658.1 1968.5,657.3 1968.6,655.3 1968.7,665.3 1968.8,653.9 1968.9,668.4 1969.1,654.6 1969.2,660.4 1969.3,662.0 1969.4,666.2 1969.5,658.1 1969.6,667.0 1969.7,668.5 1969.8,662.7 1969.9,652.1 1970.0,669.7 1970.1,660.5 1970.3,658.9 1970.4,663.8 1970.5,649.1 1970.6,667.9 1970.7,654.7 1970.8,665.4 1970.9,662.9 1971.0,657.8 1971.1,665.7 1971.2,664.5 1971.3,661.5 1971.5,663.8 1971.6,665.7 1971.7,658.9 1971.8,656.7 1971.9,662.3 1972.0,651.3 1972.1,655.2 1972.2,666.3 1972.3,666.3 1972.4,661.9 1972.5,666.6 1972.7,661.8 1972.8,657.9 1972.9,666.5 1973.0,663.0 1973.1,663.5 1973.2,662.9 1973.3,677.8 1973.4,666.5 1973.5,669.0 1973.6,662.6 1973.8,666.9 1973.9,654.4 1974.0,661.6 1974.1,662.9 1974.2,663.6 1974.3,675.4 1974.4,659.5 1974.5,670.1 1974.6,666.8 1974.7,666.9 1974.8,679.1 1975.0,664.9 1975.1,655.0 1975.2,673.0 1975.3,670.0 1975.4,656.0 1975.5,669.6 1975.6,658.8 1975.7,664.8 1975.8,673.3 1975.9,659.0 1976.0,663.4 1976.2,672.5 1976.3,663.5 1976.4,660.8 1976.5,668.8 1976.6,669.6 1976.7,669.9 1976.8,678.5 1976.9,652.3 1977.0,652.3 1977.1,659.4 1977.2,651.9 1977.4,656.8 1977.5,653.6 1977.6,666.0 1977.7,668.1 1977.8,657.4 1977.9,676.4 1978.0,673.1 1978.1,657.6 1978.2,660.0 1978.3,660.6 1978.5,665.7 1978.6,666.1 1978.7,662.0 1978.8,663.1 1978.9,662.7 1979.0,665.5 1979.1,657.2 1979.2,661.4 1979.3,655.3 1979.4,660.7 1979.5,658.6 1979.7,661.1 1979.8,648.6 1979.9,651.2 1980.0,670.6 1980.1,662.1 1980.2,655.6 1980.3,664.3 1980.4,675.3 1980.5,668.8 1980.6,646.9 1980.7,656.7 1980.9,649.5 1981.0,655.2 1981.1,668.9 1981.2,672.8 1981.3,663.7 1981.4,654.2 1981.5,647.9 1981.6,664.4 1981.7,662.5 1981.8,661.7 1981.9,663.1 1982.1,675.6 1982.2,661.2 1982.3,664.9 1982.4,667.6 1982.5,673.6 1982.6,663.0 1982.7,662.5 1982.8,667.0 1982.9,663.7 1983.0,657.2 1983.1,662.9 1983.3,662.5 1983.4,658.3 1983.5,653.9 1983.6,657.8 1983.7,659.4 1983.8,667.8 1983.9,669.8 1984.0,644.5 1984.1,663.1 1984.2,661.8 1984.4,663.4 1984.5,666.7 1984.6,657.1 1984.7,645.0 1984.8,664.5 1984.9,660.7 1985.0,664.8 1985.1,667.1 1985.2,658.2 1985.3,664.3 1985.4,658.8 1985.6,663.2 1985.7,654.9 1985.8,661.4 1985.9,662.2 1986.0,656.0 1986.1,659.4 1986.2,670.0 1986.3,656.1 1986.4,650.9 1986.5,669.0 1986.6,688.4 1986.8,661.0 1986.9,662.3 1987.0,669.8 1987.1,656.9 1987.2,664.3 1987.3,654.8 1987.4,643.5 1987.5,655.9 1987.6,660.3 1987.7,670.8 1987.8,657.9 1988.0,653.9 1988.1,659.2 1988.2,657.7 1988.3,654.4 1988.4,666.1 1988.5,660.9 1988.6,653.6 1988.7,659.8 1988.8,665.3 1988.9,649.4 1989.1,648.2 1989.2,657.1 1989.3,655.6 1989.4,652.7 1989.5,656.0 1989.6,650.1 1989.7,670.9 1989.8,660.6 1989.9,662.6 1990.0,655.3 1990.1,662.9 1990.3,642.2 1990.4,654.0 1990.5,660.4 1990.6,653.6 1990.7,656.5 1990.8,643.0 1990.9,654.9 1991.0,658.3 1991.1,660.0 1991.2,654.7 1991.3,644.4 1991.5,662.9 1991.6,648.6 1991.7,651.1 1991.8,652.5 1991.9,656.4 1992.0,658.3 1992.1,650.2 1992.2,658.8 1992.3,657.8 1992.4,635.3 1992.5,658.0 1992.7,648.8 1992.8,663.9 1992.9,665.4 1993.0,645.9 1993.1,640.5 1993.2,647.9 1993.3,651.7 1993.4,653.3 1993.5,651.5 1993.6,662.3 1993.7,655.5 1993.9,661.4 1994.0,641.3 1994.1,656.4 1994.2,651.1 1994.3,654.9 1994.4,653.7 1994.5,661.4 1994.6,644.7 1994.7,657.1 1994.8,641.3 1995.0,655.9 1995.1,653.2 1995.2,662.7 1995.3,652.2 1995.4,656.3 1995.5,648.4 1995.6,654.9 1995.7,654.6 1995.8,653.1 1995.9,652.4 1996.0,655.7 1996.2,648.1 1996.3,654.7 1996.4,662.7 1996.5,660.6 1996.6,658.2 1996.7,643.5 1996.8,646.4 1996.9,644.6 1997.0,650.5 1997.1,650.8 1997.2,658.5 1997.4,651.2 1997.5,646.5 1997.6,661.9 1997.7,653.2 1997.8,644.3 1997.9,657.9 1998.0,649.4 1998.1,656.4 1998.2,662.8 1998.3,659.4 1998.4,650.7 1998.6,653.6 1998.7,650.2 1998.8,662.2 1998.9,659.5 1999.0,656.1 1999.1,663.8 1999.2,662.1 1999.3,651.6 1999.4,657.8 1999.5,663.6 1999.7,652.4 1999.8,661.8 1999.9,657.1 2000.0,647.8 2000.1,653.2 2000.2,644.8 2000.3,657.4 2000.4,647.9 2000.5,652.3 2000.6,652.2 2000.7,665.9 2000.9,658.2 2001.0,654.7 2001.1,665.2 2001.2,649.0 2001.3,658.9 2001.4,656.5 2001.5,656.0 2001.6,659.9 2001.7,649.4 2001.8,664.7 2001.9,657.3 2002.1,658.0 2002.2,657.1 2002.3,656.1 2002.4,673.7 2002.5,654.9 2002.6,648.3 2002.7,651.5 2002.8,634.8 2002.9,656.9 2003.0,651.2 2003.1,652.2 2003.3,649.6 2003.4,658.9 2003.5,667.7 2003.6,649.8 2003.7,661.9 2003.8,660.5 2003.9,661.1 2004.0,660.0 2004.1,662.7 2004.2,664.9 2004.3,654.8 2004.5,621.5 2004.6,660.4 2004.7,653.8 2004.8,666.1 2004.9,654.3 2005.0,659.6 2005.1,641.6 2005.2,659.3 2005.3,657.2 2005.4,665.1 2005.6,659.1 2005.7,659.7 2005.8,658.6 2005.9,643.7 2006.0,661.3 2006.1,656.2 2006.2,657.1 2006.3,658.9 2006.4,652.8 2006.5,654.6 2006.6,656.3 2006.8,658.7 2006.9,664.1 2007.0,657.9 2007.1,659.7 2007.2,651.7 2007.3,669.2 2007.4,665.4 2007.5,662.7 2007.6,649.2 2007.7,661.2 2007.8,650.4 2008.0,653.0 2008.1,653.3 2008.2,650.1 2008.3,659.6 2008.4,668.8 2008.5,649.0 2008.6,663.8 2008.7,657.4 2008.8,656.0 2008.9,659.0 2009.0,660.1 2009.2,652.1 2009.3,648.9 2009.4,652.9 2009.5,638.2 2009.6,637.0 2009.7,651.7 2009.8,658.3 2009.9,655.4 2010.0,653.6 2010.1,651.6 2010.3,650.8 2010.4,654.8 2010.5,655.1 2010.6,652.9 2010.7,655.5 2010.8,660.1 2010.9,647.7 2011.0,645.2 2011.1,664.3 2011.2,648.8 2011.3,651.9 2011.5,659.4 2011.6,654.9 2011.7,663.6 2011.8,656.6 2011.9,661.7 2012.0,658.2 2012.1,660.2 2012.2,653.8 2012.3,653.1 2012.4,658.6 2012.5,650.9 2012.7,665.8 2012.8,657.4 2012.9,655.5 2013.0,680.3 2013.1,654.2 2013.2,653.2 2013.3,661.5 2013.4,656.7 2013.5,657.6 2013.6,658.8 2013.7,661.7 2013.9,651.7 2014.0,664.6 2014.1,652.3 2014.2,658.2 2014.3,654.8 2014.4,666.2 2014.5,652.2 2014.6,673.1 2014.7,651.6 2014.8,660.1 2014.9,659.5 2015.1,661.3 2015.2,661.0 2015.3,649.6 2015.4,649.7 2015.5,657.7 2015.6,659.4 2015.7,652.4 2015.8,660.1 2015.9,667.1 2016.0,659.6 2016.2,662.9 2016.3,654.5 2016.4,673.7 2016.5,659.8 2016.6,660.0 2016.7,659.7 2016.8,656.0 2016.9,658.1 2017.0,659.1 2017.1,643.8 2017.2,662.6 2017.4,661.6 2017.5,655.4 2017.6,650.5 2017.7,656.7 2017.8,652.5 2017.9,671.3 2018.0,667.3 2018.1,660.6 2018.2,658.0 2018.3,666.4 2018.4,664.4 2018.6,672.7 2018.7,649.3 2018.8,664.8 2018.9,651.4 2019.0,673.5 2019.1,647.6 2019.2,653.1 2019.3,653.7 2019.4,657.1 2019.5,657.5 2019.6,666.0 2019.8,658.3 2019.9,660.1 2020.0,660.7 2020.1,649.3 2020.2,676.6 2020.3,651.2 2020.4,663.0 2020.5,663.0 2020.6,652.1 2020.7,666.5 2020.9,663.0 2021.0,662.2 2021.1,660.7 2021.2,660.9 2021.3,669.0 2021.4,666.4 2021.5,645.5 2021.6,671.4 2021.7,661.3 2021.8,662.6 2021.9,656.9 2022.1,658.2 2022.2,664.7 2022.3,655.3 2022.4,652.2 2022.5,664.8 2022.6,662.4 2022.7,658.0 2022.8,672.2 2022.9,663.6 2023.0,665.1 2023.1,662.1 2023.3,662.6 2023.4,656.7 2023.5,670.2 2023.6,651.9 2023.7,657.4 2023.8,649.1 2023.9,658.7 2024.0,662.9 2024.1,661.5 2024.2,664.5 2024.3,656.6 2024.5,663.6 2024.6,656.2 2024.7,655.2 2024.8,659.9 2024.9,665.7 2025.0,646.9 2025.1,653.5 2025.2,653.8 2025.3,662.4 2025.4,654.7 2025.5,661.5 2025.7,667.2 2025.8,661.3 2025.9,660.1 2026.0,654.6 2026.1,651.1 2026.2,658.0 2026.3,670.9 2026.4,654.9 2026.5,660.9 2026.6,654.9 2026.8,664.3 2026.9,667.9 2027.0,653.0 2027.1,661.2 2027.2,659.9 2027.3,658.7 2027.4,655.2 2027.5,663.5 2027.6,664.4 2027.7,671.8 2027.8,656.8 2028.0,660.8 2028.1,650.6 2028.2,657.4 2028.3,673.9 2028.4,667.9 2028.5,658.1 2028.6,657.9 2028.7,659.7 2028.8,668.7 2028.9,666.1 2029.0,659.2 2029.2,652.3 2029.3,658.3 2029.4,670.6 2029.5,654.5 2029.6,659.6 2029.7,649.4 2029.8,663.7 2029.9,661.7 2030.0,672.6 2030.1,648.2 2030.2,653.9 2030.4,654.3 2030.5,665.8 2030.6,661.2 2030.7,653.6 2030.8,665.4 2030.9,642.8 2031.0,669.9 2031.1,668.0 2031.2,652.0 2031.3,655.8 2031.5,651.8 2031.6,662.8 2031.7,665.0 2031.8,656.4 2031.9,672.1 2032.0,660.3 2032.1,666.6 2032.2,665.4 2032.3,664.3 2032.4,664.7 2032.5,661.0 2032.7,651.8 2032.8,647.3 2032.9,658.3 2033.0,666.4 2033.1,672.8 2033.2,663.8 2033.3,661.0 2033.4,660.4 2033.5,661.8 2033.6,654.2 2033.7,655.3 2033.9,664.9 2034.0,668.9 2034.1,671.5 2034.2,667.0 2034.3,659.2 2034.4,669.6 2034.5,664.4 2034.6,660.1 2034.7,673.9 2034.8,661.7 2034.9,670.9 2035.1,661.1 2035.2,662.9 2035.3,662.9 2035.4,662.8 2035.5,661.7 2035.6,663.3 2035.7,670.0 2035.8,662.6 2035.9,657.0 2036.0,648.5 2036.1,667.1 2036.3,674.3 2036.4,648.4 2036.5,665.5 2036.6,675.1 2036.7,659.5 2036.8,660.9 2036.9,669.9 2037.0,659.6 2037.1,655.9 2037.2,662.3 2037.4,643.3 2037.5,656.7 2037.6,668.4 2037.7,661.7 2037.8,661.4 2037.9,662.7 2038.0,660.0 2038.1,658.2 2038.2,661.5 2038.3,654.0 2038.4,664.5 2038.6,661.1 2038.7,670.0 2038.8,655.5 2038.9,672.5 2039.0,660.5 2039.1,657.6 2039.2,667.2 2039.3,654.0 2039.4,680.9 2039.5,689.7 2039.6,652.7 2039.8,650.7 2039.9,662.1 2040.0,664.1 2040.1,663.6 2040.2,652.2 2040.3,640.5 2040.4,646.0 2040.5,662.0 2040.6,648.0 2040.7,645.6 2040.8,661.9 2041.0,665.7 2041.1,663.2 2041.2,657.9 2041.3,666.0 2041.4,645.4 2041.5,662.9 2041.6,664.2 2041.7,658.5 2041.8,653.9 2041.9,656.7 2042.1,669.3 2042.2,654.5 2042.3,644.2 2042.4,660.3 2042.5,649.1 2042.6,658.4 2042.7,655.5 2042.8,659.0 2042.9,651.1 2043.0,664.0 2043.1,664.3 2043.3,661.1 2043.4,661.9 2043.5,662.3 2043.6,657.1 2043.7,659.4 2043.8,663.4 2043.9,658.3 2044.0,652.3 2044.1,624.4 2044.2,662.3 2044.3,668.5 2044.5,661.1 2044.6,659.2 2044.7,654.5 2044.8,658.2 2044.9,669.6 2045.0,671.0 2045.1,662.5 2045.2,659.1 2045.3,667.7 2045.4,667.2 2045.5,643.5 2045.7,653.9 2045.8,645.3 2045.9,641.9 2046.0,658.7 2046.1,656.8 2046.2,656.5 2046.3,662.2 2046.4,657.3 2046.5,659.6 2046.6,659.9 2046.7,651.9 2046.9,672.2 2047.0,664.1 2047.1,657.2 2047.2,660.4 2047.3,652.8 2047.4,659.1 2047.5,662.4 2047.6,652.0 2047.7,651.3 2047.8,675.5 2048.0,651.4 2048.1,665.3 2048.2,652.0 2048.3,654.0 2048.4,662.0 2048.5,638.3 2048.6,670.2 2048.7,662.5 2048.8,657.0 2048.9,669.6 2049.0,653.9 2049.2,678.5 2049.3,659.0 2049.4,663.2 2049.5,657.7 2049.6,650.3 2049.7,656.0 2049.8,665.1 2049.9,658.7 2050.0,656.7 2050.1,654.9 2050.2,646.4 2050.4,667.4 2050.5,660.6 2050.6,650.8 2050.7,658.0 2050.8,661.6 2050.9,656.9 2051.0,659.9 2051.1,660.3 2051.2,666.8 2051.3,661.5 2051.4,666.5 2051.6,667.5 2051.7,662.5 2051.8,662.9 2051.9,660.1 2052.0,668.1 2052.1,674.4 2052.2,665.6 2052.3,672.5 2052.4,669.5 2052.5,657.8 2052.7,662.2 2052.8,668.9 2052.9,664.2 2053.0,670.3 2053.1,663.9 2053.2,674.9 2053.3,668.3 2053.4,660.4 2053.5,655.3 2053.6,670.6 2053.7,661.4 2053.9,661.7 2054.0,658.5 2054.1,654.9 2054.2,670.8 2054.3,661.4 2054.4,664.5 2054.5,658.8 2054.6,658.8 2054.7,664.6 2054.8,663.0 2054.9,671.8 2055.1,669.2 2055.2,667.9 2055.3,675.6 2055.4,666.8 2055.5,660.3 2055.6,670.6 2055.7,675.5 2055.8,663.7 2055.9,673.9 2056.0,668.9 2056.1,665.3 2056.3,655.5 2056.4,661.9 2056.5,660.7 2056.6,671.8 2056.7,660.7 2056.8,672.1 2056.9,673.0 2057.0,665.0 2057.1,664.2 2057.2,661.5 2057.3,666.8 2057.5,665.3 2057.6,666.7 2057.7,666.1 2057.8,668.3 2057.9,679.1 2058.0,668.0 2058.1,659.5 2058.2,664.1 2058.3,672.3 2058.4,666.8 2058.6,670.0 2058.7,668.8 2058.8,664.1 2058.9,656.3 2059.0,667.1 2059.1,655.4 2059.2,674.7 2059.3,661.5 2059.4,666.0 2059.5,668.2 2059.6,664.1 2059.8,676.0 2059.9,665.3 2060.0,671.4 2060.1,676.3 2060.2,680.8 2060.3,677.6 2060.4,680.8 2060.5,677.3 2060.6,660.3 2060.7,674.8 2060.8,669.7 2061.0,673.6 2061.1,673.6 2061.2,680.6 2061.3,662.3 2061.4,679.2 2061.5,671.3 2061.6,654.4 2061.7,670.6 2061.8,674.1 2061.9,671.7 2062.0,672.6 2062.2,669.1 2062.3,674.1 2062.4,671.8 2062.5,665.3 2062.6,683.2 2062.7,663.3 2062.8,679.4 2062.9,667.6 2063.0,660.5 2063.1,675.2 2063.3,666.3 2063.4,663.3 2063.5,667.0 2063.6,677.5 2063.7,662.0 2063.8,682.9 2063.9,677.9 2064.0,678.0 2064.1,675.0 2064.2,667.4 2064.3,670.7 2064.5,676.6 2064.6,678.6 2064.7,678.0 2064.8,673.5 2064.9,670.5 2065.0,689.7 2065.1,666.5 2065.2,673.9 2065.3,666.3 2065.4,681.2 2065.5,670.3 2065.7,677.4 2065.8,682.9 2065.9,656.7 2066.0,666.2 2066.1,643.6 2066.2,663.2 2066.3,662.9 2066.4,666.1 2066.5,680.1 2066.6,671.0 2066.7,674.2 2066.9,681.6 2067.0,673.3 2067.1,670.6 2067.2,679.2 2067.3,673.4 2067.4,665.1 2067.5,657.6 2067.6,660.8 2067.7,671.1 2067.8,665.8 2067.9,674.5 2068.1,681.9 2068.2,676.6 2068.3,654.5 2068.4,667.5 2068.5,664.0 2068.6,675.9 2068.7,673.6 2068.8,669.8 2068.9,668.6 2069.0,666.6 2069.2,661.6 2069.3,668.7 2069.4,662.4 2069.5,666.4 2069.6,676.1 2069.7,667.2 2069.8,680.6 2069.9,671.0 2070.0,664.1 2070.1,673.5 2070.2,666.7 2070.4,671.7 2070.5,668.6 2070.6,676.2 2070.7,672.6 2070.8,668.3 2070.9,664.3" fill="none" stroke="#f00" stroke-width="1.1" stroke-linejoin="miter"/>
<rect x="103.2" y="24.2" width="1968.5" height="705.8" fill="none" stroke="#111" stroke-width="2.5"/>
<text x="10.96" y="22.00" textLength="49.82" lengthAdjust="spacingAndGlyphs" style="font-weight:normal;font-size:16px;font-family:'Liberation Sans',sans-serif;fill:#3c3c3c">Counts</text><text x="43.15" y="138.90" textLength="26.64" lengthAdjust="spacingAndGlyphs" style="font-weight:normal;font-size:16px;font-family:'Liberation Sans',sans-serif;fill:#3c3c3c">600</text><text x="43.15" y="338.10" textLength="26.95" lengthAdjust="spacingAndGlyphs" style="font-weight:normal;font-size:16px;font-family:'Liberation Sans',sans-serif;fill:#3c3c3c">400</text><text x="43.14" y="535.90" textLength="26.96" lengthAdjust="spacingAndGlyphs" style="font-weight:normal;font-size:16px;font-family:'Liberation Sans',sans-serif;fill:#3c3c3c">200</text><text x="60.50" y="735.40" textLength="9.49" lengthAdjust="spacingAndGlyphs" style="font-weight:normal;font-size:16px;font-family:'Liberation Sans',sans-serif;fill:#3c3c3c">0</text><text x="213.88" y="765.90" textLength="18.80" lengthAdjust="spacingAndGlyphs" style="font-weight:normal;font-size:16px;font-family:'Liberation Sans',sans-serif;fill:#3c3c3c">10</text><text x="454.73" y="765.90" textLength="18.23" lengthAdjust="spacingAndGlyphs" style="font-weight:normal;font-size:16px;font-family:'Liberation Sans',sans-serif;fill:#3c3c3c">20</text><text x="695.03" y="765.90" textLength="18.23" lengthAdjust="spacingAndGlyphs" style="font-weight:normal;font-size:16px;font-family:'Liberation Sans',sans-serif;fill:#3c3c3c">30</text><text x="935.85" y="765.90" textLength="17.69" lengthAdjust="spacingAndGlyphs" style="font-weight:normal;font-size:16px;font-family:'Liberation Sans',sans-serif;fill:#3c3c3c">40</text><text x="1175.63" y="765.90" textLength="18.23" lengthAdjust="spacingAndGlyphs" style="font-weight:normal;font-size:16px;font-family:'Liberation Sans',sans-serif;fill:#3c3c3c">50</text><text x="1415.93" y="765.90" textLength="18.23" lengthAdjust="spacingAndGlyphs" style="font-weight:normal;font-size:16px;font-family:'Liberation Sans',sans-serif;fill:#3c3c3c">60</text><text x="1656.23" y="765.90" textLength="18.23" lengthAdjust="spacingAndGlyphs" style="font-weight:normal;font-size:16px;font-family:'Liberation Sans',sans-serif;fill:#3c3c3c">70</text><text x="1896.53" y="765.90" textLength="18.23" lengthAdjust="spacingAndGlyphs" style="font-weight:normal;font-size:16px;font-family:'Liberation Sans',sans-serif;fill:#3c3c3c">80</text><text x="1028.34" y="806.70" textLength="230.76" lengthAdjust="spacingAndGlyphs" style="font-weight:normal;font-size:16px;font-family:'Liberation Sans',sans-serif;fill:#3c3c3c">Position [°2Theta] (Copper (Cu))</text><text x="121.78" y="90.30" stroke="#101010" stroke-width="0.55" textLength="161.45" lengthAdjust="spacingAndGlyphs" style="font-weight:bold;font-size:24.5px;font-family:'Liberation Sans',sans-serif;fill:#101010">A: Magnetite</text><text x="120.74" y="125.20" stroke="#101010" stroke-width="0.55" textLength="149.17" lengthAdjust="spacingAndGlyphs" style="font-weight:bold;font-size:24.5px;font-family:'Liberation Sans',sans-serif;fill:#101010">B: Chromite</text><text x="121.52" y="160.20" stroke="#101010" stroke-width="0.55" textLength="147.04" lengthAdjust="spacingAndGlyphs" style="font-weight:bold;font-size:24.5px;font-family:'Liberation Sans',sans-serif;fill:#101010">C: Hematite</text><text x="120.71" y="194.90" stroke="#101010" stroke-width="0.55" textLength="119.17" lengthAdjust="spacingAndGlyphs" style="font-weight:bold;font-size:24.5px;font-family:'Liberation Sans',sans-serif;fill:#101010">D: Quartz</text><text x="120.84" y="230.20" stroke="#101010" stroke-width="0.55" textLength="83.70" lengthAdjust="spacingAndGlyphs" style="font-weight:bold;font-size:24.5px;font-family:'Liberation Sans',sans-serif;fill:#101010">E: CuO</text><text x="120.84" y="264.80" stroke="#101010" stroke-width="0.55" textLength="79.49" lengthAdjust="spacingAndGlyphs" style="font-weight:bold;font-size:24.5px;font-family:'Liberation Sans',sans-serif;fill:#101010">F: ZnO</text><text x="1158.09" y="69.30" textLength="196.71" lengthAdjust="spacingAndGlyphs" style="font-weight:bold;font-size:29px;font-family:'Liberation Serif',sans-serif;fill:#3b3bcc">XRD pattern of</text><text x="1083.76" y="131.70" textLength="342.29" lengthAdjust="spacingAndGlyphs" style="font-weight:bold;font-size:29px;font-family:'Liberation Serif',sans-serif;fill:#3b3bcc">ZnO<tspan style="font-weight:normal">@</tspan>CuO<tspan style="font-weight:normal">@</tspan>Iron ore NCs</text><text x="379.23" y="614.70" stroke="#080808" stroke-width="0.55" textLength="48.30" lengthAdjust="spacingAndGlyphs" style="font-weight:bold;font-size:23.5px;font-family:'Liberation Sans',sans-serif;fill:#080808">A, B</text><text x="451.00" y="524.80" stroke="#080808" stroke-width="0.55" style="font-weight:bold;font-size:23.5px;font-family:'Liberation Sans',sans-serif;fill:#080808">D</text><text x="525.83" y="585.20" stroke="#080808" stroke-width="0.55" style="font-weight:bold;font-size:23.5px;font-family:'Liberation Sans',sans-serif;fill:#080808">C</text><text x="592.85" y="88.90" stroke="#080808" stroke-width="0.55" style="font-weight:bold;font-size:23.5px;font-family:'Liberation Sans',sans-serif;fill:#080808">D</text><text x="659.02" y="579.40" stroke="#080808" stroke-width="0.55" textLength="48.71" lengthAdjust="spacingAndGlyphs" style="font-weight:bold;font-size:23.5px;font-family:'Liberation Sans',sans-serif;fill:#080808">A, B</text><text x="714.65" y="535.00" stroke="#080808" stroke-width="0.55" style="font-weight:bold;font-size:23.5px;font-family:'Liberation Sans',sans-serif;fill:#080808">F</text><text x="748.88" y="454.20" stroke="#080808" stroke-width="0.55" style="font-weight:bold;font-size:23.5px;font-family:'Liberation Sans',sans-serif;fill:#080808">C</text><text x="789.80" y="560.60" stroke="#080808" stroke-width="0.55" style="font-weight:bold;font-size:23.5px;font-family:'Liberation Sans',sans-serif;fill:#080808">F</text><text x="805.22" y="91.00" stroke="#080808" stroke-width="0.55" style="font-weight:bold;font-size:23.5px;font-family:'Liberation Sans',sans-serif;fill:#080808">C</text><text x="804.88" y="125.70" stroke="#080808" stroke-width="0.55" style="font-weight:bold;font-size:23.5px;font-family:'Liberation Sans',sans-serif;fill:#080808">E</text><text x="805.85" y="160.40" stroke="#080808" stroke-width="0.55" style="font-weight:bold;font-size:23.5px;font-family:'Liberation Sans',sans-serif;fill:#080808">A</text><text x="805.10" y="194.00" stroke="#080808" stroke-width="0.55" style="font-weight:bold;font-size:23.5px;font-family:'Liberation Sans',sans-serif;fill:#080808">B</text><text x="819.00" y="432.20" stroke="#080808" stroke-width="0.55" style="font-weight:bold;font-size:23.5px;font-family:'Liberation Sans',sans-serif;fill:#080808">F</text><text x="890.33" y="271.00" stroke="#080808" stroke-width="0.55" style="font-weight:bold;font-size:23.5px;font-family:'Liberation Sans',sans-serif;fill:#080808">E</text><text x="938.38" y="599.00" stroke="#080808" stroke-width="0.55" style="font-weight:bold;font-size:23.5px;font-family:'Liberation Sans',sans-serif;fill:#080808">C</text><text x="972.05" y="591.50" stroke="#080808" stroke-width="0.55" style="font-weight:bold;font-size:23.5px;font-family:'Liberation Sans',sans-serif;fill:#080808">D</text><text x="1009.25" y="604.30" stroke="#080808" stroke-width="0.55" style="font-weight:bold;font-size:23.5px;font-family:'Liberation Sans',sans-serif;fill:#080808">D</text><text x="1079.05" y="608.00" stroke="#080808" stroke-width="0.55" textLength="44.87" lengthAdjust="spacingAndGlyphs" style="font-weight:bold;font-size:23.5px;font-family:'Liberation Sans',sans-serif;fill:#080808">F, A</text><text x="1120.18" y="551.30" stroke="#080808" stroke-width="0.55" style="font-weight:bold;font-size:23.5px;font-family:'Liberation Sans',sans-serif;fill:#080808">E</text><text x="1131.33" y="586.00" stroke="#080808" stroke-width="0.55" style="font-weight:bold;font-size:23.5px;font-family:'Liberation Sans',sans-serif;fill:#080808">C</text><text x="1163.25" y="551.80" stroke="#080808" stroke-width="0.55" style="font-weight:bold;font-size:23.5px;font-family:'Liberation Sans',sans-serif;fill:#080808">D</text><text x="1230.73" y="555.70" stroke="#080808" stroke-width="0.55" textLength="48.24" lengthAdjust="spacingAndGlyphs" style="font-weight:bold;font-size:23.5px;font-family:'Liberation Sans',sans-serif;fill:#080808">A, C</text><text x="1302.76" y="579.50" stroke="#080808" stroke-width="0.55" textLength="41.35" lengthAdjust="spacingAndGlyphs" style="font-weight:bold;font-size:23.5px;font-family:'Liberation Sans',sans-serif;fill:#080808">E, F</text><text x="1355.22" y="579.50" stroke="#080808" stroke-width="0.55" style="font-weight:bold;font-size:23.5px;font-family:'Liberation Sans',sans-serif;fill:#080808">E</text><text x="1390.20" y="566.50" stroke="#080808" stroke-width="0.55" style="font-weight:bold;font-size:23.5px;font-family:'Liberation Sans',sans-serif;fill:#080808">D</text><text x="1431.03" y="573.30" stroke="#080808" stroke-width="0.55" style="font-weight:bold;font-size:23.5px;font-family:'Liberation Sans',sans-serif;fill:#080808">E</text><text x="1445.62" y="551.30" stroke="#080808" stroke-width="0.55" textLength="46.20" lengthAdjust="spacingAndGlyphs" style="font-weight:bold;font-size:23.5px;font-family:'Liberation Sans',sans-serif;fill:#080808">A, F</text><text x="1495.58" y="566.60" stroke="#080808" stroke-width="0.55" textLength="47.84" lengthAdjust="spacingAndGlyphs" style="font-weight:bold;font-size:23.5px;font-family:'Liberation Sans',sans-serif;fill:#080808">C, D</text><text x="1549.15" y="471.80" stroke="#080808" stroke-width="0.55" style="font-weight:bold;font-size:23.5px;font-family:'Liberation Sans',sans-serif;fill:#080808">A</text><text x="1549.03" y="506.80" stroke="#080808" stroke-width="0.55" style="font-weight:bold;font-size:23.5px;font-family:'Liberation Sans',sans-serif;fill:#080808">C</text><text x="1549.12" y="541.70" stroke="#080808" stroke-width="0.55" style="font-weight:bold;font-size:23.5px;font-family:'Liberation Sans',sans-serif;fill:#080808">E</text><text x="1549.25" y="576.70" stroke="#080808" stroke-width="0.55" style="font-weight:bold;font-size:23.5px;font-family:'Liberation Sans',sans-serif;fill:#080808">F</text><text x="1591.80" y="461.60" stroke="#080808" stroke-width="0.55" style="font-weight:bold;font-size:23.5px;font-family:'Liberation Sans',sans-serif;fill:#080808">D</text><text x="1591.62" y="496.60" stroke="#080808" stroke-width="0.55" style="font-weight:bold;font-size:23.5px;font-family:'Liberation Sans',sans-serif;fill:#080808">E</text><text x="1591.75" y="531.60" stroke="#080808" stroke-width="0.55" style="font-weight:bold;font-size:23.5px;font-family:'Liberation Sans',sans-serif;fill:#080808">F</text><text x="1691.33" y="540.00" stroke="#080808" stroke-width="0.55" style="font-weight:bold;font-size:23.5px;font-family:'Liberation Sans',sans-serif;fill:#080808">C</text><text x="1691.62" y="574.50" stroke="#080808" stroke-width="0.55" style="font-weight:bold;font-size:23.5px;font-family:'Liberation Sans',sans-serif;fill:#080808">E</text><text x="1691.75" y="609.40" stroke="#080808" stroke-width="0.55" style="font-weight:bold;font-size:23.5px;font-family:'Liberation Sans',sans-serif;fill:#080808">F</text><text x="1769.50" y="499.70" stroke="#080808" stroke-width="0.55" style="font-weight:bold;font-size:23.5px;font-family:'Liberation Sans',sans-serif;fill:#080808">A</text><text x="1768.75" y="534.70" stroke="#080808" stroke-width="0.55" style="font-weight:bold;font-size:23.5px;font-family:'Liberation Sans',sans-serif;fill:#080808">B</text><text x="1769.12" y="569.70" stroke="#080808" stroke-width="0.55" style="font-weight:bold;font-size:23.5px;font-family:'Liberation Sans',sans-serif;fill:#080808">C</text><text x="1769.12" y="604.70" stroke="#080808" stroke-width="0.55" style="font-weight:bold;font-size:23.5px;font-family:'Liberation Sans',sans-serif;fill:#080808">E</text><text x="1937.22" y="626.10" stroke="#080808" stroke-width="0.55" textLength="44.92" lengthAdjust="spacingAndGlyphs" style="font-weight:bold;font-size:23.5px;font-family:'Liberation Sans',sans-serif;fill:#080808">C, E</text>
<polygon points="421.8,641.6 408.3,635.6 415.0,628.4" fill="#fff" stroke="#000" stroke-width="2.6" stroke-linejoin="round"/><line x1="401.0" y1="622.0" x2="415.2" y2="635.4" stroke="#000" stroke-width="3"/><polygon points="487.6,544.6 474.0,538.8 480.6,531.5" fill="#fff" stroke="#000" stroke-width="2.6" stroke-linejoin="round"/><line x1="466.6" y1="525.3" x2="480.9" y2="538.5" stroke="#000" stroke-width="3"/><polygon points="565.8,609.4 552.2,603.5 558.9,596.3" fill="#fff" stroke="#000" stroke-width="2.6" stroke-linejoin="round"/><line x1="544.5" y1="589.7" x2="559.1" y2="603.2" stroke="#000" stroke-width="3"/><polygon points="625.2,104.0 611.1,99.4 617.1,91.6" fill="#fff" stroke="#000" stroke-width="2.6" stroke-linejoin="round"/><line x1="607.0" y1="90.0" x2="618.0" y2="98.5" stroke="#000" stroke-width="3"/><polygon points="712.8,602.8 699.1,597.1 705.7,589.8" fill="#fff" stroke="#000" stroke-width="2.6" stroke-linejoin="round"/><line x1="691.6" y1="583.8" x2="706.0" y2="596.8" stroke="#000" stroke-width="3"/><polygon points="749.0,559.5 735.5,553.4 742.2,546.3" fill="#fff" stroke="#000" stroke-width="2.6" stroke-linejoin="round"/><line x1="728.2" y1="539.8" x2="742.4" y2="553.2" stroke="#000" stroke-width="3"/><polygon points="782.8,477.1 769.3,471.1 776.0,463.9" fill="#fff" stroke="#000" stroke-width="2.6" stroke-linejoin="round"/><line x1="761.2" y1="456.7" x2="776.2" y2="470.9" stroke="#000" stroke-width="3"/><polygon points="810.8,591.3 797.5,584.6 804.6,577.8" fill="#fff" stroke="#000" stroke-width="2.6" stroke-linejoin="round"/><line x1="790.6" y1="570.4" x2="804.5" y2="584.7" stroke="#000" stroke-width="3"/><polygon points="839.9,219.7 826.4,213.4 833.3,206.4" fill="#fff" stroke="#000" stroke-width="2.6" stroke-linejoin="round"/><line x1="818.0" y1="198.3" x2="833.4" y2="213.3" stroke="#000" stroke-width="3"/><polygon points="856.1,446.9 842.4,441.2 849.0,433.9" fill="#fff" stroke="#000" stroke-width="2.6" stroke-linejoin="round"/><line x1="837.0" y1="429.8" x2="849.3" y2="440.9" stroke="#000" stroke-width="3"/><polygon points="917.4,289.7 903.5,284.4 909.8,276.9" fill="#fff" stroke="#000" stroke-width="2.6" stroke-linejoin="round"/><line x1="897.0" y1="272.6" x2="910.4" y2="283.8" stroke="#000" stroke-width="3"/><polygon points="967.1,620.3 953.1,615.3 959.3,607.7" fill="#fff" stroke="#000" stroke-width="2.6" stroke-linejoin="round"/><line x1="945.8" y1="603.0" x2="960.0" y2="614.5" stroke="#000" stroke-width="3"/><polygon points="1005.8,616.9 992.3,610.8 999.1,603.7" fill="#fff" stroke="#000" stroke-width="2.6" stroke-linejoin="round"/><line x1="985.0" y1="597.0" x2="999.3" y2="610.6" stroke="#000" stroke-width="3"/><polygon points="1031.1,639.5 1017.6,633.5 1024.3,626.4" fill="#fff" stroke="#000" stroke-width="2.6" stroke-linejoin="round"/><line x1="1010.3" y1="620.0" x2="1024.5" y2="633.3" stroke="#000" stroke-width="3"/><polygon points="1127.8,632.2 1114.3,626.1 1121.1,619.0" fill="#fff" stroke="#000" stroke-width="2.6" stroke-linejoin="round"/><line x1="1107.0" y1="612.4" x2="1121.2" y2="625.9" stroke="#000" stroke-width="3"/><polygon points="1156.5,566.1 1142.8,560.5 1149.3,553.2" fill="#fff" stroke="#000" stroke-width="2.6" stroke-linejoin="round"/><line x1="1135.7" y1="547.7" x2="1149.7" y2="560.1" stroke="#000" stroke-width="3"/><polygon points="1174.3,601.6 1160.6,595.9 1167.1,588.6" fill="#fff" stroke="#000" stroke-width="2.6" stroke-linejoin="round"/><line x1="1153.5" y1="583.0" x2="1167.5" y2="595.6" stroke="#000" stroke-width="3"/><polygon points="1189.6,574.2 1176.1,567.9 1183.0,560.9" fill="#fff" stroke="#000" stroke-width="2.6" stroke-linejoin="round"/><line x1="1170.0" y1="555.0" x2="1183.1" y2="567.8" stroke="#000" stroke-width="3"/><polygon points="1284.3,576.6 1270.7,570.8 1277.3,563.5" fill="#fff" stroke="#000" stroke-width="2.6" stroke-linejoin="round"/><line x1="1263.5" y1="557.5" x2="1277.6" y2="570.5" stroke="#000" stroke-width="3"/><polygon points="1345.0,602.9 1331.5,596.8 1338.3,589.7" fill="#fff" stroke="#000" stroke-width="2.6" stroke-linejoin="round"/><line x1="1324.2" y1="583.0" x2="1338.5" y2="596.6" stroke="#000" stroke-width="3"/><polygon points="1385.4,603.9 1371.7,598.3 1378.2,591.0" fill="#fff" stroke="#000" stroke-width="2.6" stroke-linejoin="round"/><line x1="1363.3" y1="584.4" x2="1378.6" y2="597.9" stroke="#000" stroke-width="3"/><polygon points="1425.8,587.4 1412.2,581.6 1418.8,574.4" fill="#fff" stroke="#000" stroke-width="2.6" stroke-linejoin="round"/><line x1="1405.0" y1="568.5" x2="1419.1" y2="581.3" stroke="#000" stroke-width="3"/><polygon points="1466.1,596.7 1452.4,591.1 1458.9,583.8" fill="#fff" stroke="#000" stroke-width="2.6" stroke-linejoin="round"/><line x1="1445.3" y1="578.2" x2="1459.3" y2="590.7" stroke="#000" stroke-width="3"/><polygon points="1498.6,577.2 1485.0,571.3 1491.7,564.1" fill="#fff" stroke="#000" stroke-width="2.6" stroke-linejoin="round"/><line x1="1477.5" y1="557.6" x2="1492.0" y2="571.0" stroke="#000" stroke-width="3"/><polygon points="1523.1,593.1 1509.5,587.2 1516.2,580.0" fill="#fff" stroke="#000" stroke-width="2.6" stroke-linejoin="round"/><line x1="1502.0" y1="573.5" x2="1516.5" y2="586.9" stroke="#000" stroke-width="3"/><polygon points="1578.8,599.5 1565.1,593.9 1571.6,586.6" fill="#fff" stroke="#000" stroke-width="2.6" stroke-linejoin="round"/><line x1="1560.2" y1="583.0" x2="1572.0" y2="593.5" stroke="#000" stroke-width="3"/><polygon points="1622.6,556.6 1608.7,551.2 1615.1,543.8" fill="#fff" stroke="#000" stroke-width="2.6" stroke-linejoin="round"/><line x1="1601.5" y1="538.6" x2="1615.7" y2="550.7" stroke="#000" stroke-width="3"/><polygon points="1724.0,635.4 1710.4,629.4 1717.1,622.3" fill="#fff" stroke="#000" stroke-width="2.6" stroke-linejoin="round"/><line x1="1703.0" y1="615.8" x2="1717.4" y2="629.2" stroke="#000" stroke-width="3"/><polygon points="1796.8,628.9 1783.1,623.2 1789.6,615.9" fill="#fff" stroke="#000" stroke-width="2.6" stroke-linejoin="round"/><line x1="1775.0" y1="609.4" x2="1790.0" y2="622.9" stroke="#000" stroke-width="3"/><polygon points="1983.8,650.4 1970.1,644.8 1976.6,637.5" fill="#fff" stroke="#000" stroke-width="2.6" stroke-linejoin="round"/><line x1="1962.0" y1="631.0" x2="1977.0" y2="644.4" stroke="#000" stroke-width="3"/><g stroke="#666" stroke-width="1.4" fill="none"><path d="M1005.5 609.7H1015.5M1005.5 617H1015.5"/><path d="M1009.3 609.7V617" stroke="#aaa" stroke-width="1"/><path d="M686 581.2H696.8" stroke-width="2"/></g>
</svg>
</body></html>
